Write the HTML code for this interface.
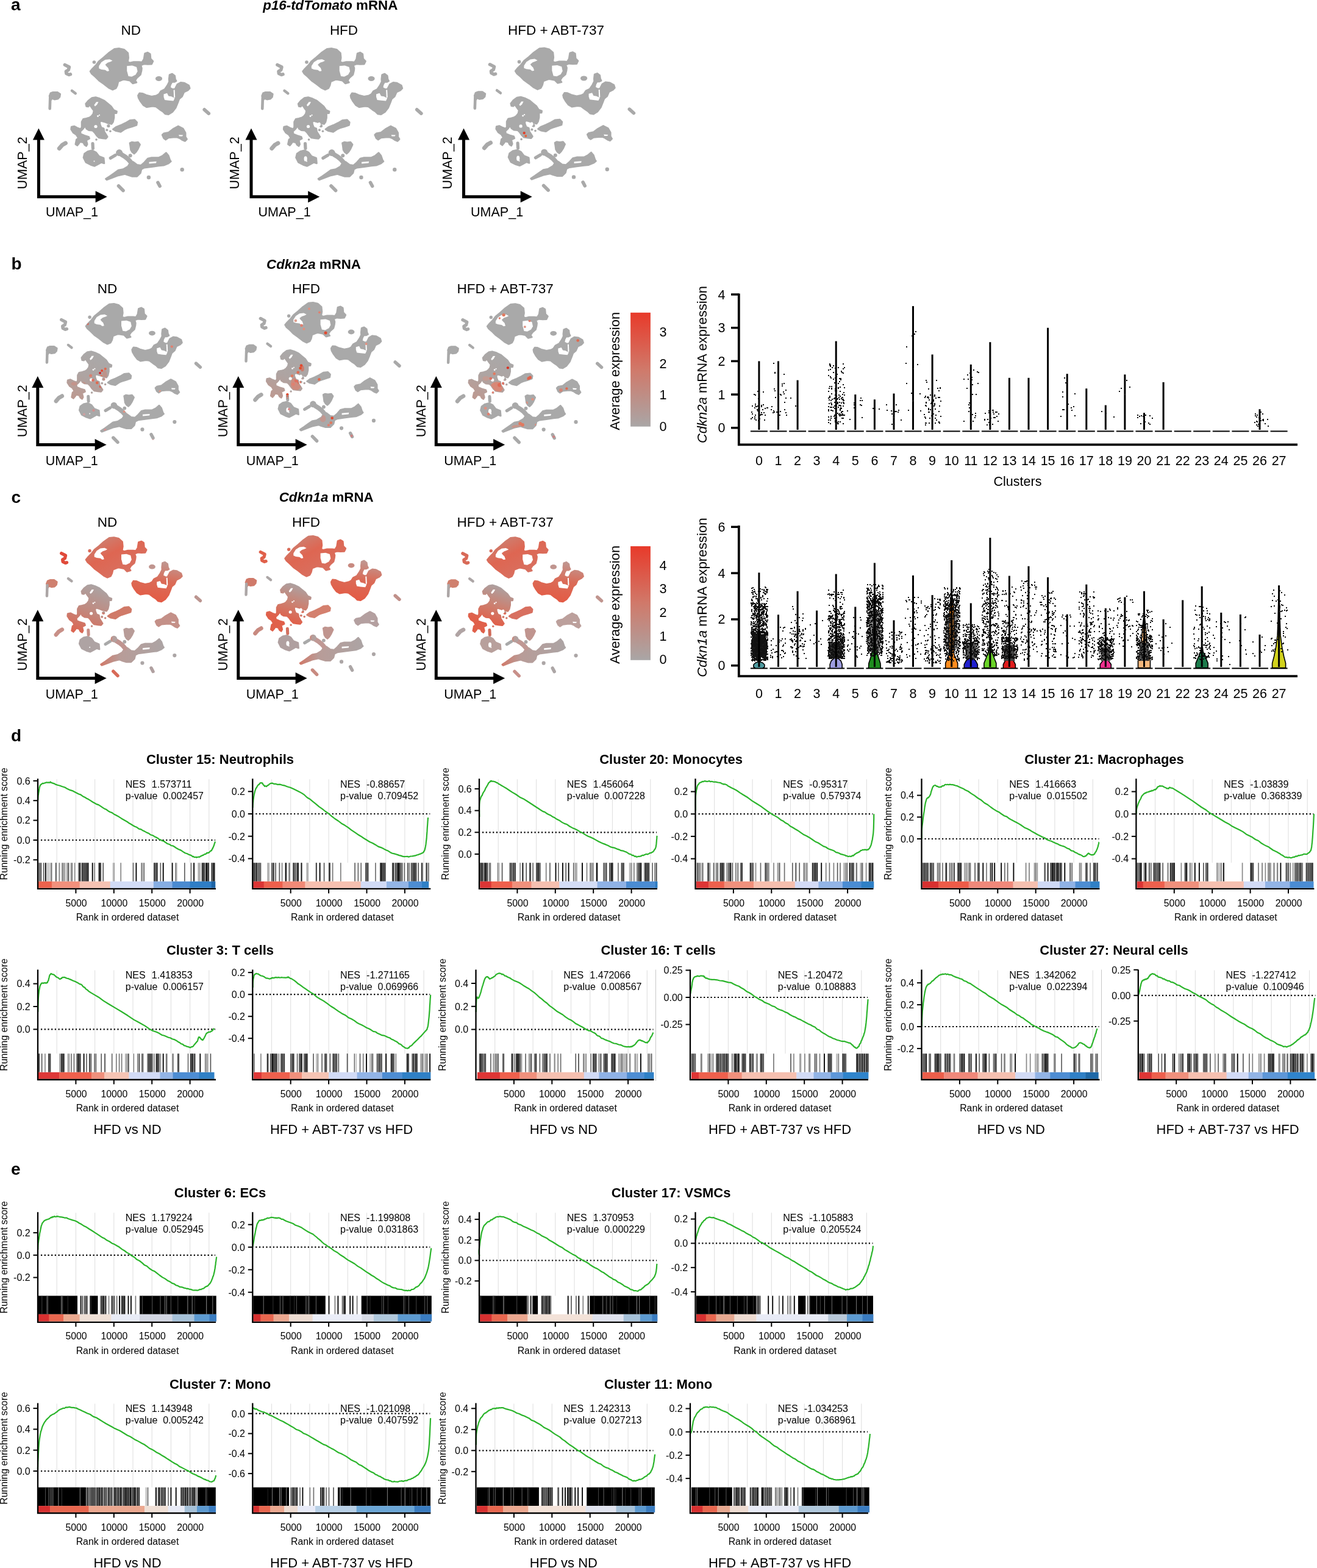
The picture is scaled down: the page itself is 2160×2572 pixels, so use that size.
<!DOCTYPE html>
<html><head><meta charset="utf-8"><title>Figure</title>
<style>html,body{margin:0;padding:0;background:#fff;}svg{display:block;}text{font-family:"Liberation Sans", Arial, Helvetica, sans-serif;fill:#000;}</style>
</head><body>
<svg width="2160" height="2572" viewBox="0 0 2160 2572">
<rect width="2160" height="2572" fill="#fff"/>
<text x="18.0" y="17.2" font-size="28.0" text-anchor="start" font-weight="bold" font-style="normal" >a</text>
<text x="18.4" y="441.9" font-size="28.0" text-anchor="start" font-weight="bold" font-style="normal" >b</text>
<text x="18.4" y="824.5" font-size="28.0" text-anchor="start" font-weight="bold" font-style="normal" >c</text>
<text x="18.0" y="1215.9" font-size="28.0" text-anchor="start" font-weight="bold" font-style="normal" >d</text>
<text x="18.0" y="1927.0" font-size="28.0" text-anchor="start" font-weight="bold" font-style="normal" >e</text>
<defs><clipPath id="uclip"><polygon points="148.0,117.1 151.2,113.1 157.5,106.7 162.3,100.4 170.2,94.0 178.2,86.9 187.7,80.2 195.6,79.4 203.6,81.3 209.9,86.9 210.7,94.8 209.5,101.5 212.9,103.0 219.3,101.5 228.0,101.5 233.0,102.0 236.0,97.0 237.5,87.7 242.3,86.1 246.3,88.5 247.1,96.4 251.0,100.4 248.7,105.2 242.3,105.5 236.0,105.0 231.0,107.0 232.5,112.0 232.0,116.3 230.4,122.6 224.8,127.4 221.7,132.1 224.0,135.3 217.7,136.9 212.9,132.1 205.0,130.6 202.0,130.6 194.0,133.7 192.5,140.1 190.1,144.8 184.5,147.2 178.2,144.0 170.2,137.7 162.3,132.1 156.0,125.8 150.4,121.0"/><polygon points="81.0,157.5 82.9,152.8 86.9,151.2 94.0,151.2 98.8,154.4 98.0,159.1 94.8,162.3 89.3,163.1 85.3,161.5 83.5,164.0"/><polygon points="141.6,174.4 140.6,170.3 144.7,165.2 150.8,160.6 156.9,159.6 163.6,161.6 171.2,165.2 177.3,170.3 182.4,174.4 186.5,180.5 191.6,182.6 191.1,185.6 187.0,185.6 187.0,193.3 185.5,199.9 183.0,203.5 176.3,201.9 171.2,199.9 166.1,198.4 163.6,199.9 164.1,204.0 166.1,209.1 170.2,210.6 171.2,216.2 173.8,220.3 176.3,224.4 173.8,227.4 168.7,226.9 162.0,225.9 158.5,222.3 154.9,217.2 151.8,214.2 145.7,213.7 141.6,211.1 140.6,208.6 138.6,208.1 136.5,211.1 134.0,213.7 131.9,215.2 132.4,219.8 138.6,222.3 145.7,224.4 146.7,227.4 141.6,230.0 143.2,236.6 141.6,239.7 138.6,237.7 136.5,233.6 131.4,232.6 129.4,235.6 126.8,238.7 123.8,236.6 125.3,229.0 128.4,226.4 125.3,221.3 120.2,217.8 116.6,212.1 117.1,208.1 121.7,207.0 126.8,209.6 132.4,211.6 134.0,208.6 134.0,199.9 136.5,195.3 141.6,194.3 146.7,192.8 149.8,190.7 152.9,186.6 153.9,181.5 150.8,177.4 148.8,174.4 146.7,172.3 144.7,174.9"/><polygon points="136.9,258.5 138.5,252.1 144.0,248.2 151.2,246.6 157.5,249.8 162.3,256.1 170.2,259.3 171.0,268.0 166.3,266.4 159.1,270.4 155.2,272.4 148.8,270.4 140.9,266.4"/><polygon points="185.3,212.1 190.1,208.5 198.0,205.3 206.0,201.5 213.0,197.4 220.9,196.6 224.8,200.6 224.0,205.3 216.9,207.7 209.0,210.1 205.0,211.7 198.0,216.4 190.1,214.8"/><polygon points="226.4,156.7 228.8,152.8 233.6,153.2 239.9,156.0 248.7,158.3 256.6,156.7 260.6,154.4 263.7,149.6 270.1,146.4 274.5,140.0 277.5,134.0 277.2,129.8 278.0,122.6 282.4,121.0 286.7,124.2 287.5,129.8 289.1,132.9 286.0,134.5 282.0,134.5 279.5,139.0 278.5,144.0 283.0,146.4 286.7,146.4 290.7,138.5 296.3,135.3 302.6,136.1 309.8,140.1 311.3,144.8 308.2,148.0 301.8,151.2 298.7,158.3 293.9,162.3 291.5,168.7 288.3,176.6 282.8,183.7 276.4,187.7 270.9,186.9 266.9,182.9 262.1,179.8 255.8,175.0 250.2,174.2 240.7,175.8 235.2,172.6 230.4,166.3 227.2,160.7"/><polygon points="266.1,221.2 268.5,218.8 276.4,217.2 283.6,211.7 292.3,206.9 300.2,210.9 304.2,218.0 304.2,224.4 306.6,228.3 303.4,231.5 299.4,229.9 294.7,226.7 290.7,225.2 284.4,225.2 276.4,226.0 271.7,229.1 268.5,226.7"/><polygon points="212.9,234.7 216.1,233.1 220.9,233.9 226.4,233.1 229.6,237.1 226.4,244.2 223.3,249.0 220.1,252.1 216.9,249.8 214.5,245.8 213.7,239.4"/><polygon points="173.4,293.4 180.0,289.0 186.1,284.7 194.0,279.1 202.0,277.5 209.9,272.8 212.9,268.0 212.9,264.8 218.5,265.6 224.8,270.4 231.2,271.2 236.7,266.4 242.3,260.1 248.7,258.5 260.6,258.5 266.9,255.3 272.5,250.6 276.4,255.3 278.8,262.5 280.4,264.8 276.4,268.0 268.5,271.2 260.6,272.0 248.7,273.6 236.7,275.2 232.0,277.5 230.4,283.9 224.8,289.4 216.9,289.4 209.0,287.1 205.0,285.5 194.0,287.9 183.0,292.0 175.0,295.0"/><circle cx="106.3" cy="106.3" r="3.3"/><circle cx="113.5" cy="110.0" r="3.3"/><circle cx="112.3" cy="114.7" r="3.3"/><circle cx="108.3" cy="117.1" r="3.3"/><circle cx="108.8" cy="120.5" r="3.3"/><circle cx="113.1" cy="122.6" r="3.3"/><circle cx="115.5" cy="121.8" r="3.3"/><circle cx="82.3" cy="160.0" r="2.9"/><circle cx="82.0" cy="170.0" r="2.9"/><circle cx="81.7" cy="178.2" r="2.9"/><circle cx="117.9" cy="148.8" r="2.8"/><circle cx="123.8" cy="153.2" r="2.8"/><circle cx="152.0" cy="235.5" r="3.2"/><circle cx="152.4" cy="243.4" r="3.2"/><circle cx="97.2" cy="243.4" r="4.0"/><circle cx="102.0" cy="237.9" r="4.0"/><circle cx="107.5" cy="234.7" r="4.0"/><circle cx="195.6" cy="250.6" r="4.5"/><circle cx="200.0" cy="254.0" r="4.5"/><circle cx="205.0" cy="257.0" r="4.5"/><circle cx="210.0" cy="261.0" r="4.5"/><circle cx="214.0" cy="265.5" r="4.5"/><circle cx="181.3" cy="259.3" r="3.2"/><circle cx="189.3" cy="254.5" r="3.2"/><circle cx="335.2" cy="179.8" r="3.4"/><circle cx="342.3" cy="186.1" r="3.4"/><circle cx="259.0" cy="299.5" r="3.4"/><circle cx="262.1" cy="305.3" r="3.4"/><circle cx="194.5" cy="305.0" r="3.4"/><circle cx="202.0" cy="312.5" r="3.4"/><circle cx="154.4" cy="102.0" r="3.3"/><circle cx="177.9" cy="206.5" r="3.1"/><circle cx="175.3" cy="213.2" r="2.5"/><circle cx="180.9" cy="215.2" r="2.3"/><circle cx="158.0" cy="229.0" r="2.3"/><circle cx="195.6" cy="250.6" r="6.0"/><circle cx="213.7" cy="255.3" r="3.5"/><circle cx="243.9" cy="291.0" r="3.7"/><circle cx="298.7" cy="278.3" r="3.7"/></clipPath></defs>
<text x="541.8" y="15.9" font-size="22.3" text-anchor="middle" font-weight="bold" font-style="normal" ><tspan font-style="italic">p16-tdTomato</tspan> mRNA</text>
<text x="214.7" y="57.0" font-size="22.5" text-anchor="middle" font-weight="normal" font-style="normal" >ND</text>
<g transform="translate(0.00,0.00)">
<polygon points="148.0,117.1 151.2,113.1 157.5,106.7 162.3,100.4 170.2,94.0 178.2,86.9 187.7,80.2 195.6,79.4 203.6,81.3 209.9,86.9 210.7,94.8 209.5,101.5 212.9,103.0 219.3,101.5 228.0,101.5 233.0,102.0 236.0,97.0 237.5,87.7 242.3,86.1 246.3,88.5 247.1,96.4 251.0,100.4 248.7,105.2 242.3,105.5 236.0,105.0 231.0,107.0 232.5,112.0 232.0,116.3 230.4,122.6 224.8,127.4 221.7,132.1 224.0,135.3 217.7,136.9 212.9,132.1 205.0,130.6 202.0,130.6 194.0,133.7 192.5,140.1 190.1,144.8 184.5,147.2 178.2,144.0 170.2,137.7 162.3,132.1 156.0,125.8 150.4,121.0" fill="#a9a9a9" stroke="#a9a9a9" stroke-width="2.6" stroke-linejoin="round"/>
<polygon points="81.0,157.5 82.9,152.8 86.9,151.2 94.0,151.2 98.8,154.4 98.0,159.1 94.8,162.3 89.3,163.1 85.3,161.5 83.5,164.0" fill="#a9a9a9" stroke="#a9a9a9" stroke-width="2.6" stroke-linejoin="round"/>
<polygon points="141.6,174.4 140.6,170.3 144.7,165.2 150.8,160.6 156.9,159.6 163.6,161.6 171.2,165.2 177.3,170.3 182.4,174.4 186.5,180.5 191.6,182.6 191.1,185.6 187.0,185.6 187.0,193.3 185.5,199.9 183.0,203.5 176.3,201.9 171.2,199.9 166.1,198.4 163.6,199.9 164.1,204.0 166.1,209.1 170.2,210.6 171.2,216.2 173.8,220.3 176.3,224.4 173.8,227.4 168.7,226.9 162.0,225.9 158.5,222.3 154.9,217.2 151.8,214.2 145.7,213.7 141.6,211.1 140.6,208.6 138.6,208.1 136.5,211.1 134.0,213.7 131.9,215.2 132.4,219.8 138.6,222.3 145.7,224.4 146.7,227.4 141.6,230.0 143.2,236.6 141.6,239.7 138.6,237.7 136.5,233.6 131.4,232.6 129.4,235.6 126.8,238.7 123.8,236.6 125.3,229.0 128.4,226.4 125.3,221.3 120.2,217.8 116.6,212.1 117.1,208.1 121.7,207.0 126.8,209.6 132.4,211.6 134.0,208.6 134.0,199.9 136.5,195.3 141.6,194.3 146.7,192.8 149.8,190.7 152.9,186.6 153.9,181.5 150.8,177.4 148.8,174.4 146.7,172.3 144.7,174.9" fill="#a9a9a9" stroke="#a9a9a9" stroke-width="2.6" stroke-linejoin="round"/>
<polygon points="136.9,258.5 138.5,252.1 144.0,248.2 151.2,246.6 157.5,249.8 162.3,256.1 170.2,259.3 171.0,268.0 166.3,266.4 159.1,270.4 155.2,272.4 148.8,270.4 140.9,266.4" fill="#a9a9a9" stroke="#a9a9a9" stroke-width="2.6" stroke-linejoin="round"/>
<polygon points="185.3,212.1 190.1,208.5 198.0,205.3 206.0,201.5 213.0,197.4 220.9,196.6 224.8,200.6 224.0,205.3 216.9,207.7 209.0,210.1 205.0,211.7 198.0,216.4 190.1,214.8" fill="#a9a9a9" stroke="#a9a9a9" stroke-width="2.6" stroke-linejoin="round"/>
<polygon points="226.4,156.7 228.8,152.8 233.6,153.2 239.9,156.0 248.7,158.3 256.6,156.7 260.6,154.4 263.7,149.6 270.1,146.4 274.5,140.0 277.5,134.0 277.2,129.8 278.0,122.6 282.4,121.0 286.7,124.2 287.5,129.8 289.1,132.9 286.0,134.5 282.0,134.5 279.5,139.0 278.5,144.0 283.0,146.4 286.7,146.4 290.7,138.5 296.3,135.3 302.6,136.1 309.8,140.1 311.3,144.8 308.2,148.0 301.8,151.2 298.7,158.3 293.9,162.3 291.5,168.7 288.3,176.6 282.8,183.7 276.4,187.7 270.9,186.9 266.9,182.9 262.1,179.8 255.8,175.0 250.2,174.2 240.7,175.8 235.2,172.6 230.4,166.3 227.2,160.7" fill="#a9a9a9" stroke="#a9a9a9" stroke-width="2.6" stroke-linejoin="round"/>
<polygon points="266.1,221.2 268.5,218.8 276.4,217.2 283.6,211.7 292.3,206.9 300.2,210.9 304.2,218.0 304.2,224.4 306.6,228.3 303.4,231.5 299.4,229.9 294.7,226.7 290.7,225.2 284.4,225.2 276.4,226.0 271.7,229.1 268.5,226.7" fill="#a9a9a9" stroke="#a9a9a9" stroke-width="2.6" stroke-linejoin="round"/>
<polygon points="212.9,234.7 216.1,233.1 220.9,233.9 226.4,233.1 229.6,237.1 226.4,244.2 223.3,249.0 220.1,252.1 216.9,249.8 214.5,245.8 213.7,239.4" fill="#a9a9a9" stroke="#a9a9a9" stroke-width="2.6" stroke-linejoin="round"/>
<polygon points="173.4,293.4 180.0,289.0 186.1,284.7 194.0,279.1 202.0,277.5 209.9,272.8 212.9,268.0 212.9,264.8 218.5,265.6 224.8,270.4 231.2,271.2 236.7,266.4 242.3,260.1 248.7,258.5 260.6,258.5 266.9,255.3 272.5,250.6 276.4,255.3 278.8,262.5 280.4,264.8 276.4,268.0 268.5,271.2 260.6,272.0 248.7,273.6 236.7,275.2 232.0,277.5 230.4,283.9 224.8,289.4 216.9,289.4 209.0,287.1 205.0,285.5 194.0,287.9 183.0,292.0 175.0,295.0" fill="#a9a9a9" stroke="#a9a9a9" stroke-width="2.6" stroke-linejoin="round"/>
<polyline points="106.3,106.3 113.5,110.0 112.3,114.7 108.3,117.1 108.8,120.5 113.1,122.6 115.5,121.8" fill="none" stroke="#a9a9a9" stroke-width="5.4" stroke-linecap="round" stroke-linejoin="round"/>
<polyline points="82.3,160.0 82.0,170.0 81.7,178.2" fill="none" stroke="#a9a9a9" stroke-width="4.6" stroke-linecap="round" stroke-linejoin="round"/>
<polyline points="117.9,148.8 123.8,153.2" fill="none" stroke="#a9a9a9" stroke-width="4.4" stroke-linecap="round" stroke-linejoin="round"/>
<polyline points="152.0,235.5 152.4,243.4" fill="none" stroke="#a9a9a9" stroke-width="5.2" stroke-linecap="round" stroke-linejoin="round"/>
<polyline points="97.2,243.4 102.0,237.9 107.5,234.7" fill="none" stroke="#a9a9a9" stroke-width="6.8" stroke-linecap="round" stroke-linejoin="round"/>
<polyline points="195.6,250.6 200.0,254.0 205.0,257.0 210.0,261.0 214.0,265.5" fill="none" stroke="#a9a9a9" stroke-width="7.8" stroke-linecap="round" stroke-linejoin="round"/>
<polyline points="181.3,259.3 189.3,254.5" fill="none" stroke="#a9a9a9" stroke-width="5.2" stroke-linecap="round" stroke-linejoin="round"/>
<polyline points="335.2,179.8 342.3,186.1" fill="none" stroke="#a9a9a9" stroke-width="5.6" stroke-linecap="round" stroke-linejoin="round"/>
<polyline points="259.0,299.5 262.1,305.3" fill="none" stroke="#a9a9a9" stroke-width="5.6" stroke-linecap="round" stroke-linejoin="round"/>
<polyline points="194.5,305.0 202.0,312.5" fill="none" stroke="#a9a9a9" stroke-width="5.6" stroke-linecap="round" stroke-linejoin="round"/>
<circle cx="154.4" cy="102.0" r="2.8" fill="#a9a9a9"/>
<circle cx="177.9" cy="206.5" r="2.6" fill="#a9a9a9"/>
<circle cx="175.3" cy="213.2" r="2.0" fill="#a9a9a9"/>
<circle cx="180.9" cy="215.2" r="1.8" fill="#a9a9a9"/>
<circle cx="158.0" cy="229.0" r="1.8" fill="#a9a9a9"/>
<circle cx="195.6" cy="250.6" r="5.5" fill="#a9a9a9"/>
<circle cx="213.7" cy="255.3" r="3.0" fill="#a9a9a9"/>
<circle cx="243.9" cy="291.0" r="3.2" fill="#a9a9a9"/>
<circle cx="298.7" cy="278.3" r="3.2" fill="#a9a9a9"/>
<ellipse cx="260.5" cy="129.0" rx="5.6" ry="4.0" fill="#a9a9a9"/>
<polygon points="162.3,108.3 166.3,102.0 172.6,98.0 179.8,97.2 184.5,99.6 181.3,101.2 176.6,102.8 172.6,106.0 174.2,108.3 177.4,111.5 179.0,116.3 175.8,117.1 172.6,114.7 166.3,113.9 162.3,112.3" fill="#fff"/>
<polygon points="208.2,108.3 216.9,107.5 224.0,109.9 225.6,117.1 222.5,122.6 216.1,125.8 210.6,125.0 208.2,116.3" fill="#fff"/>
<polygon points="154.4,172.3 158.0,167.2 161.5,167.2 159.0,171.8 155.9,174.4" fill="#fff"/>
<polygon points="268.5,154.4 274.0,152.8 276.4,157.5 281.2,158.3 284.4,159.9 286.7,160.7 284.4,165.5 276.4,164.7 270.1,163.9 268.5,159.1" fill="#fff"/>
<polygon points="284.6,147.5 286.6,147.5 287.2,159.5 285.2,160.5" fill="#fff"/>
<polygon points="293.1,221.2 300.2,221.6 299.0,223.6 294.0,223.6" fill="#fff"/>
<polygon points="244.5,265.8 256.6,264.8 256.0,267.6 244.5,268.6" fill="#fff"/>
<circle cx="157.0" cy="207.5" r="2.6" fill="#fff"/>
<circle cx="160.5" cy="190.5" r="1.4" fill="#fff"/>
<circle cx="163.0" cy="188.8" r="1.1" fill="#fff"/>
<circle cx="154.5" cy="264.5" r="1.0" fill="#fff"/>
</g>
<path d="M63.4,228.5 V322.8 H157.6" fill="none" stroke="#000" stroke-width="5.0" stroke-linejoin="miter"/>
<polygon points="63.4,210.5 53.9,229.5 72.9,229.5" fill="#000"/>
<polygon points="175.6,322.8 156.6,313.3 156.6,332.3" fill="#000"/>
<text x="118.0" y="355.0" font-size="21.5" text-anchor="middle" font-weight="normal" font-style="normal" >UMAP_1</text>
<text transform="translate(43.7,267.4) rotate(-90)" font-size="21.5" text-anchor="middle" >UMAP_2</text>
<text x="564.0" y="57.0" font-size="22.5" text-anchor="middle" font-weight="normal" font-style="normal" >HFD</text>
<g transform="translate(348.55,0.00)">
<polygon points="148.0,117.1 151.2,113.1 157.5,106.7 162.3,100.4 170.2,94.0 178.2,86.9 187.7,80.2 195.6,79.4 203.6,81.3 209.9,86.9 210.7,94.8 209.5,101.5 212.9,103.0 219.3,101.5 228.0,101.5 233.0,102.0 236.0,97.0 237.5,87.7 242.3,86.1 246.3,88.5 247.1,96.4 251.0,100.4 248.7,105.2 242.3,105.5 236.0,105.0 231.0,107.0 232.5,112.0 232.0,116.3 230.4,122.6 224.8,127.4 221.7,132.1 224.0,135.3 217.7,136.9 212.9,132.1 205.0,130.6 202.0,130.6 194.0,133.7 192.5,140.1 190.1,144.8 184.5,147.2 178.2,144.0 170.2,137.7 162.3,132.1 156.0,125.8 150.4,121.0" fill="#a9a9a9" stroke="#a9a9a9" stroke-width="2.6" stroke-linejoin="round"/>
<polygon points="81.0,157.5 82.9,152.8 86.9,151.2 94.0,151.2 98.8,154.4 98.0,159.1 94.8,162.3 89.3,163.1 85.3,161.5 83.5,164.0" fill="#a9a9a9" stroke="#a9a9a9" stroke-width="2.6" stroke-linejoin="round"/>
<polygon points="141.6,174.4 140.6,170.3 144.7,165.2 150.8,160.6 156.9,159.6 163.6,161.6 171.2,165.2 177.3,170.3 182.4,174.4 186.5,180.5 191.6,182.6 191.1,185.6 187.0,185.6 187.0,193.3 185.5,199.9 183.0,203.5 176.3,201.9 171.2,199.9 166.1,198.4 163.6,199.9 164.1,204.0 166.1,209.1 170.2,210.6 171.2,216.2 173.8,220.3 176.3,224.4 173.8,227.4 168.7,226.9 162.0,225.9 158.5,222.3 154.9,217.2 151.8,214.2 145.7,213.7 141.6,211.1 140.6,208.6 138.6,208.1 136.5,211.1 134.0,213.7 131.9,215.2 132.4,219.8 138.6,222.3 145.7,224.4 146.7,227.4 141.6,230.0 143.2,236.6 141.6,239.7 138.6,237.7 136.5,233.6 131.4,232.6 129.4,235.6 126.8,238.7 123.8,236.6 125.3,229.0 128.4,226.4 125.3,221.3 120.2,217.8 116.6,212.1 117.1,208.1 121.7,207.0 126.8,209.6 132.4,211.6 134.0,208.6 134.0,199.9 136.5,195.3 141.6,194.3 146.7,192.8 149.8,190.7 152.9,186.6 153.9,181.5 150.8,177.4 148.8,174.4 146.7,172.3 144.7,174.9" fill="#a9a9a9" stroke="#a9a9a9" stroke-width="2.6" stroke-linejoin="round"/>
<polygon points="136.9,258.5 138.5,252.1 144.0,248.2 151.2,246.6 157.5,249.8 162.3,256.1 170.2,259.3 171.0,268.0 166.3,266.4 159.1,270.4 155.2,272.4 148.8,270.4 140.9,266.4" fill="#a9a9a9" stroke="#a9a9a9" stroke-width="2.6" stroke-linejoin="round"/>
<polygon points="185.3,212.1 190.1,208.5 198.0,205.3 206.0,201.5 213.0,197.4 220.9,196.6 224.8,200.6 224.0,205.3 216.9,207.7 209.0,210.1 205.0,211.7 198.0,216.4 190.1,214.8" fill="#a9a9a9" stroke="#a9a9a9" stroke-width="2.6" stroke-linejoin="round"/>
<polygon points="226.4,156.7 228.8,152.8 233.6,153.2 239.9,156.0 248.7,158.3 256.6,156.7 260.6,154.4 263.7,149.6 270.1,146.4 274.5,140.0 277.5,134.0 277.2,129.8 278.0,122.6 282.4,121.0 286.7,124.2 287.5,129.8 289.1,132.9 286.0,134.5 282.0,134.5 279.5,139.0 278.5,144.0 283.0,146.4 286.7,146.4 290.7,138.5 296.3,135.3 302.6,136.1 309.8,140.1 311.3,144.8 308.2,148.0 301.8,151.2 298.7,158.3 293.9,162.3 291.5,168.7 288.3,176.6 282.8,183.7 276.4,187.7 270.9,186.9 266.9,182.9 262.1,179.8 255.8,175.0 250.2,174.2 240.7,175.8 235.2,172.6 230.4,166.3 227.2,160.7" fill="#a9a9a9" stroke="#a9a9a9" stroke-width="2.6" stroke-linejoin="round"/>
<polygon points="266.1,221.2 268.5,218.8 276.4,217.2 283.6,211.7 292.3,206.9 300.2,210.9 304.2,218.0 304.2,224.4 306.6,228.3 303.4,231.5 299.4,229.9 294.7,226.7 290.7,225.2 284.4,225.2 276.4,226.0 271.7,229.1 268.5,226.7" fill="#a9a9a9" stroke="#a9a9a9" stroke-width="2.6" stroke-linejoin="round"/>
<polygon points="212.9,234.7 216.1,233.1 220.9,233.9 226.4,233.1 229.6,237.1 226.4,244.2 223.3,249.0 220.1,252.1 216.9,249.8 214.5,245.8 213.7,239.4" fill="#a9a9a9" stroke="#a9a9a9" stroke-width="2.6" stroke-linejoin="round"/>
<polygon points="173.4,293.4 180.0,289.0 186.1,284.7 194.0,279.1 202.0,277.5 209.9,272.8 212.9,268.0 212.9,264.8 218.5,265.6 224.8,270.4 231.2,271.2 236.7,266.4 242.3,260.1 248.7,258.5 260.6,258.5 266.9,255.3 272.5,250.6 276.4,255.3 278.8,262.5 280.4,264.8 276.4,268.0 268.5,271.2 260.6,272.0 248.7,273.6 236.7,275.2 232.0,277.5 230.4,283.9 224.8,289.4 216.9,289.4 209.0,287.1 205.0,285.5 194.0,287.9 183.0,292.0 175.0,295.0" fill="#a9a9a9" stroke="#a9a9a9" stroke-width="2.6" stroke-linejoin="round"/>
<polyline points="106.3,106.3 113.5,110.0 112.3,114.7 108.3,117.1 108.8,120.5 113.1,122.6 115.5,121.8" fill="none" stroke="#a9a9a9" stroke-width="5.4" stroke-linecap="round" stroke-linejoin="round"/>
<polyline points="82.3,160.0 82.0,170.0 81.7,178.2" fill="none" stroke="#a9a9a9" stroke-width="4.6" stroke-linecap="round" stroke-linejoin="round"/>
<polyline points="117.9,148.8 123.8,153.2" fill="none" stroke="#a9a9a9" stroke-width="4.4" stroke-linecap="round" stroke-linejoin="round"/>
<polyline points="152.0,235.5 152.4,243.4" fill="none" stroke="#a9a9a9" stroke-width="5.2" stroke-linecap="round" stroke-linejoin="round"/>
<polyline points="97.2,243.4 102.0,237.9 107.5,234.7" fill="none" stroke="#a9a9a9" stroke-width="6.8" stroke-linecap="round" stroke-linejoin="round"/>
<polyline points="195.6,250.6 200.0,254.0 205.0,257.0 210.0,261.0 214.0,265.5" fill="none" stroke="#a9a9a9" stroke-width="7.8" stroke-linecap="round" stroke-linejoin="round"/>
<polyline points="181.3,259.3 189.3,254.5" fill="none" stroke="#a9a9a9" stroke-width="5.2" stroke-linecap="round" stroke-linejoin="round"/>
<polyline points="335.2,179.8 342.3,186.1" fill="none" stroke="#a9a9a9" stroke-width="5.6" stroke-linecap="round" stroke-linejoin="round"/>
<polyline points="259.0,299.5 262.1,305.3" fill="none" stroke="#a9a9a9" stroke-width="5.6" stroke-linecap="round" stroke-linejoin="round"/>
<polyline points="194.5,305.0 202.0,312.5" fill="none" stroke="#a9a9a9" stroke-width="5.6" stroke-linecap="round" stroke-linejoin="round"/>
<circle cx="154.4" cy="102.0" r="2.8" fill="#a9a9a9"/>
<circle cx="177.9" cy="206.5" r="2.6" fill="#a9a9a9"/>
<circle cx="175.3" cy="213.2" r="2.0" fill="#a9a9a9"/>
<circle cx="180.9" cy="215.2" r="1.8" fill="#a9a9a9"/>
<circle cx="158.0" cy="229.0" r="1.8" fill="#a9a9a9"/>
<circle cx="195.6" cy="250.6" r="5.5" fill="#a9a9a9"/>
<circle cx="213.7" cy="255.3" r="3.0" fill="#a9a9a9"/>
<circle cx="243.9" cy="291.0" r="3.2" fill="#a9a9a9"/>
<circle cx="298.7" cy="278.3" r="3.2" fill="#a9a9a9"/>
<ellipse cx="260.5" cy="129.0" rx="5.6" ry="4.0" fill="#a9a9a9"/>
<polygon points="162.3,108.3 166.3,102.0 172.6,98.0 179.8,97.2 184.5,99.6 181.3,101.2 176.6,102.8 172.6,106.0 174.2,108.3 177.4,111.5 179.0,116.3 175.8,117.1 172.6,114.7 166.3,113.9 162.3,112.3" fill="#fff"/>
<polygon points="208.2,108.3 216.9,107.5 224.0,109.9 225.6,117.1 222.5,122.6 216.1,125.8 210.6,125.0 208.2,116.3" fill="#fff"/>
<polygon points="154.4,172.3 158.0,167.2 161.5,167.2 159.0,171.8 155.9,174.4" fill="#fff"/>
<polygon points="268.5,154.4 274.0,152.8 276.4,157.5 281.2,158.3 284.4,159.9 286.7,160.7 284.4,165.5 276.4,164.7 270.1,163.9 268.5,159.1" fill="#fff"/>
<polygon points="284.6,147.5 286.6,147.5 287.2,159.5 285.2,160.5" fill="#fff"/>
<polygon points="293.1,221.2 300.2,221.6 299.0,223.6 294.0,223.6" fill="#fff"/>
<polygon points="244.5,265.8 256.6,264.8 256.0,267.6 244.5,268.6" fill="#fff"/>
<circle cx="157.0" cy="207.5" r="2.6" fill="#fff"/>
<circle cx="160.5" cy="190.5" r="1.4" fill="#fff"/>
<circle cx="163.0" cy="188.8" r="1.1" fill="#fff"/>
<circle cx="154.5" cy="264.5" r="1.0" fill="#fff"/>
<ellipse cx="152.6" cy="260.4" rx="2.6" ry="4.2" fill="#fff"/>
<ellipse cx="175" cy="204" rx="2.2" ry="3.2" fill="#fff"/>
</g>
<path d="M412.0,228.5 V322.8 H506.2" fill="none" stroke="#000" stroke-width="5.0" stroke-linejoin="miter"/>
<polygon points="412.0,210.5 402.5,229.5 421.5,229.5" fill="#000"/>
<polygon points="524.2,322.8 505.2,313.3 505.2,332.3" fill="#000"/>
<text x="466.6" y="355.0" font-size="21.5" text-anchor="middle" font-weight="normal" font-style="normal" >UMAP_1</text>
<text transform="translate(392.3,267.4) rotate(-90)" font-size="21.5" text-anchor="middle" >UMAP_2</text>
<text x="912.0" y="57.0" font-size="22.5" text-anchor="middle" font-weight="normal" font-style="normal" >HFD + ABT-737</text>
<g transform="translate(697.10,-0.60)">
<polygon points="148.0,117.1 151.2,113.1 157.5,106.7 162.3,100.4 170.2,94.0 178.2,86.9 187.7,80.2 195.6,79.4 203.6,81.3 209.9,86.9 210.7,94.8 209.5,101.5 212.9,103.0 219.3,101.5 228.0,101.5 233.0,102.0 236.0,97.0 237.5,87.7 242.3,86.1 246.3,88.5 247.1,96.4 251.0,100.4 248.7,105.2 242.3,105.5 236.0,105.0 231.0,107.0 232.5,112.0 232.0,116.3 230.4,122.6 224.8,127.4 221.7,132.1 224.0,135.3 217.7,136.9 212.9,132.1 205.0,130.6 202.0,130.6 194.0,133.7 192.5,140.1 190.1,144.8 184.5,147.2 178.2,144.0 170.2,137.7 162.3,132.1 156.0,125.8 150.4,121.0" fill="#a9a9a9" stroke="#a9a9a9" stroke-width="2.6" stroke-linejoin="round"/>
<polygon points="81.0,157.5 82.9,152.8 86.9,151.2 94.0,151.2 98.8,154.4 98.0,159.1 94.8,162.3 89.3,163.1 85.3,161.5 83.5,164.0" fill="#a9a9a9" stroke="#a9a9a9" stroke-width="2.6" stroke-linejoin="round"/>
<polygon points="141.6,174.4 140.6,170.3 144.7,165.2 150.8,160.6 156.9,159.6 163.6,161.6 171.2,165.2 177.3,170.3 182.4,174.4 186.5,180.5 191.6,182.6 191.1,185.6 187.0,185.6 187.0,193.3 185.5,199.9 183.0,203.5 176.3,201.9 171.2,199.9 166.1,198.4 163.6,199.9 164.1,204.0 166.1,209.1 170.2,210.6 171.2,216.2 173.8,220.3 176.3,224.4 173.8,227.4 168.7,226.9 162.0,225.9 158.5,222.3 154.9,217.2 151.8,214.2 145.7,213.7 141.6,211.1 140.6,208.6 138.6,208.1 136.5,211.1 134.0,213.7 131.9,215.2 132.4,219.8 138.6,222.3 145.7,224.4 146.7,227.4 141.6,230.0 143.2,236.6 141.6,239.7 138.6,237.7 136.5,233.6 131.4,232.6 129.4,235.6 126.8,238.7 123.8,236.6 125.3,229.0 128.4,226.4 125.3,221.3 120.2,217.8 116.6,212.1 117.1,208.1 121.7,207.0 126.8,209.6 132.4,211.6 134.0,208.6 134.0,199.9 136.5,195.3 141.6,194.3 146.7,192.8 149.8,190.7 152.9,186.6 153.9,181.5 150.8,177.4 148.8,174.4 146.7,172.3 144.7,174.9" fill="#a9a9a9" stroke="#a9a9a9" stroke-width="2.6" stroke-linejoin="round"/>
<polygon points="136.9,258.5 138.5,252.1 144.0,248.2 151.2,246.6 157.5,249.8 162.3,256.1 170.2,259.3 171.0,268.0 166.3,266.4 159.1,270.4 155.2,272.4 148.8,270.4 140.9,266.4" fill="#a9a9a9" stroke="#a9a9a9" stroke-width="2.6" stroke-linejoin="round"/>
<polygon points="185.3,212.1 190.1,208.5 198.0,205.3 206.0,201.5 213.0,197.4 220.9,196.6 224.8,200.6 224.0,205.3 216.9,207.7 209.0,210.1 205.0,211.7 198.0,216.4 190.1,214.8" fill="#a9a9a9" stroke="#a9a9a9" stroke-width="2.6" stroke-linejoin="round"/>
<polygon points="226.4,156.7 228.8,152.8 233.6,153.2 239.9,156.0 248.7,158.3 256.6,156.7 260.6,154.4 263.7,149.6 270.1,146.4 274.5,140.0 277.5,134.0 277.2,129.8 278.0,122.6 282.4,121.0 286.7,124.2 287.5,129.8 289.1,132.9 286.0,134.5 282.0,134.5 279.5,139.0 278.5,144.0 283.0,146.4 286.7,146.4 290.7,138.5 296.3,135.3 302.6,136.1 309.8,140.1 311.3,144.8 308.2,148.0 301.8,151.2 298.7,158.3 293.9,162.3 291.5,168.7 288.3,176.6 282.8,183.7 276.4,187.7 270.9,186.9 266.9,182.9 262.1,179.8 255.8,175.0 250.2,174.2 240.7,175.8 235.2,172.6 230.4,166.3 227.2,160.7" fill="#a9a9a9" stroke="#a9a9a9" stroke-width="2.6" stroke-linejoin="round"/>
<polygon points="266.1,221.2 268.5,218.8 276.4,217.2 283.6,211.7 292.3,206.9 300.2,210.9 304.2,218.0 304.2,224.4 306.6,228.3 303.4,231.5 299.4,229.9 294.7,226.7 290.7,225.2 284.4,225.2 276.4,226.0 271.7,229.1 268.5,226.7" fill="#a9a9a9" stroke="#a9a9a9" stroke-width="2.6" stroke-linejoin="round"/>
<polygon points="212.9,234.7 216.1,233.1 220.9,233.9 226.4,233.1 229.6,237.1 226.4,244.2 223.3,249.0 220.1,252.1 216.9,249.8 214.5,245.8 213.7,239.4" fill="#a9a9a9" stroke="#a9a9a9" stroke-width="2.6" stroke-linejoin="round"/>
<polygon points="173.4,293.4 180.0,289.0 186.1,284.7 194.0,279.1 202.0,277.5 209.9,272.8 212.9,268.0 212.9,264.8 218.5,265.6 224.8,270.4 231.2,271.2 236.7,266.4 242.3,260.1 248.7,258.5 260.6,258.5 266.9,255.3 272.5,250.6 276.4,255.3 278.8,262.5 280.4,264.8 276.4,268.0 268.5,271.2 260.6,272.0 248.7,273.6 236.7,275.2 232.0,277.5 230.4,283.9 224.8,289.4 216.9,289.4 209.0,287.1 205.0,285.5 194.0,287.9 183.0,292.0 175.0,295.0" fill="#a9a9a9" stroke="#a9a9a9" stroke-width="2.6" stroke-linejoin="round"/>
<polyline points="106.3,106.3 113.5,110.0 112.3,114.7 108.3,117.1 108.8,120.5 113.1,122.6 115.5,121.8" fill="none" stroke="#a9a9a9" stroke-width="5.4" stroke-linecap="round" stroke-linejoin="round"/>
<polyline points="82.3,160.0 82.0,170.0 81.7,178.2" fill="none" stroke="#a9a9a9" stroke-width="4.6" stroke-linecap="round" stroke-linejoin="round"/>
<polyline points="117.9,148.8 123.8,153.2" fill="none" stroke="#a9a9a9" stroke-width="4.4" stroke-linecap="round" stroke-linejoin="round"/>
<polyline points="152.0,235.5 152.4,243.4" fill="none" stroke="#a9a9a9" stroke-width="5.2" stroke-linecap="round" stroke-linejoin="round"/>
<polyline points="97.2,243.4 102.0,237.9 107.5,234.7" fill="none" stroke="#a9a9a9" stroke-width="6.8" stroke-linecap="round" stroke-linejoin="round"/>
<polyline points="195.6,250.6 200.0,254.0 205.0,257.0 210.0,261.0 214.0,265.5" fill="none" stroke="#a9a9a9" stroke-width="7.8" stroke-linecap="round" stroke-linejoin="round"/>
<polyline points="181.3,259.3 189.3,254.5" fill="none" stroke="#a9a9a9" stroke-width="5.2" stroke-linecap="round" stroke-linejoin="round"/>
<polyline points="335.2,179.8 342.3,186.1" fill="none" stroke="#a9a9a9" stroke-width="5.6" stroke-linecap="round" stroke-linejoin="round"/>
<polyline points="259.0,299.5 262.1,305.3" fill="none" stroke="#a9a9a9" stroke-width="5.6" stroke-linecap="round" stroke-linejoin="round"/>
<polyline points="194.5,305.0 202.0,312.5" fill="none" stroke="#a9a9a9" stroke-width="5.6" stroke-linecap="round" stroke-linejoin="round"/>
<circle cx="154.4" cy="102.0" r="2.8" fill="#a9a9a9"/>
<circle cx="177.9" cy="206.5" r="2.6" fill="#a9a9a9"/>
<circle cx="175.3" cy="213.2" r="2.0" fill="#a9a9a9"/>
<circle cx="180.9" cy="215.2" r="1.8" fill="#a9a9a9"/>
<circle cx="158.0" cy="229.0" r="1.8" fill="#a9a9a9"/>
<circle cx="195.6" cy="250.6" r="5.5" fill="#a9a9a9"/>
<circle cx="213.7" cy="255.3" r="3.0" fill="#a9a9a9"/>
<circle cx="243.9" cy="291.0" r="3.2" fill="#a9a9a9"/>
<circle cx="298.7" cy="278.3" r="3.2" fill="#a9a9a9"/>
<ellipse cx="260.5" cy="129.0" rx="5.6" ry="4.0" fill="#a9a9a9"/>
<polygon points="162.3,108.3 166.3,102.0 172.6,98.0 179.8,97.2 184.5,99.6 181.3,101.2 176.6,102.8 172.6,106.0 174.2,108.3 177.4,111.5 179.0,116.3 175.8,117.1 172.6,114.7 166.3,113.9 162.3,112.3" fill="#fff"/>
<polygon points="208.2,108.3 216.9,107.5 224.0,109.9 225.6,117.1 222.5,122.6 216.1,125.8 210.6,125.0 208.2,116.3" fill="#fff"/>
<polygon points="154.4,172.3 158.0,167.2 161.5,167.2 159.0,171.8 155.9,174.4" fill="#fff"/>
<polygon points="268.5,154.4 274.0,152.8 276.4,157.5 281.2,158.3 284.4,159.9 286.7,160.7 284.4,165.5 276.4,164.7 270.1,163.9 268.5,159.1" fill="#fff"/>
<polygon points="284.6,147.5 286.6,147.5 287.2,159.5 285.2,160.5" fill="#fff"/>
<polygon points="293.1,221.2 300.2,221.6 299.0,223.6 294.0,223.6" fill="#fff"/>
<polygon points="244.5,265.8 256.6,264.8 256.0,267.6 244.5,268.6" fill="#fff"/>
<circle cx="157.0" cy="207.5" r="2.6" fill="#fff"/>
<circle cx="160.5" cy="190.5" r="1.4" fill="#fff"/>
<circle cx="163.0" cy="188.8" r="1.1" fill="#fff"/>
<circle cx="154.5" cy="264.5" r="1.0" fill="#fff"/>
<ellipse cx="152.6" cy="260.4" rx="2.6" ry="4.2" fill="#fff"/>
<ellipse cx="175" cy="204" rx="2.2" ry="3.2" fill="#fff"/>
<g clip-path="url(#uclip)"><circle cx="162.6" cy="218.7" r="2.2" fill="#e0402a"/><circle cx="165.2" cy="223.7" r="2.0" fill="#e8603a"/></g>
</g>
<path d="M760.5,228.5 V322.8 H854.7" fill="none" stroke="#000" stroke-width="5.0" stroke-linejoin="miter"/>
<polygon points="760.5,210.5 751.0,229.5 770.0,229.5" fill="#000"/>
<polygon points="872.7,322.8 853.7,313.3 853.7,332.3" fill="#000"/>
<text x="815.1" y="355.0" font-size="21.5" text-anchor="middle" font-weight="normal" font-style="normal" >UMAP_1</text>
<text transform="translate(740.8,267.4) rotate(-90)" font-size="21.5" text-anchor="middle" >UMAP_2</text>
<text x="514.5" y="440.8" font-size="22.3" text-anchor="middle" font-weight="bold" font-style="normal" ><tspan font-style="italic">Cdkn2a</tspan> mRNA</text>
<text x="176.0" y="480.6" font-size="22.5" text-anchor="middle" font-weight="normal" font-style="normal" >ND</text>
<g transform="translate(0.00,0.00) matrix(0.965,0,0,0.974,-1.914,420.96)">
<polygon points="148.0,117.1 151.2,113.1 157.5,106.7 162.3,100.4 170.2,94.0 178.2,86.9 187.7,80.2 195.6,79.4 203.6,81.3 209.9,86.9 210.7,94.8 209.5,101.5 212.9,103.0 219.3,101.5 228.0,101.5 233.0,102.0 236.0,97.0 237.5,87.7 242.3,86.1 246.3,88.5 247.1,96.4 251.0,100.4 248.7,105.2 242.3,105.5 236.0,105.0 231.0,107.0 232.5,112.0 232.0,116.3 230.4,122.6 224.8,127.4 221.7,132.1 224.0,135.3 217.7,136.9 212.9,132.1 205.0,130.6 202.0,130.6 194.0,133.7 192.5,140.1 190.1,144.8 184.5,147.2 178.2,144.0 170.2,137.7 162.3,132.1 156.0,125.8 150.4,121.0" fill="#a9a9a9" stroke="#a9a9a9" stroke-width="2.6" stroke-linejoin="round"/>
<polygon points="81.0,157.5 82.9,152.8 86.9,151.2 94.0,151.2 98.8,154.4 98.0,159.1 94.8,162.3 89.3,163.1 85.3,161.5 83.5,164.0" fill="#a9a9a9" stroke="#a9a9a9" stroke-width="2.6" stroke-linejoin="round"/>
<polygon points="141.6,174.4 140.6,170.3 144.7,165.2 150.8,160.6 156.9,159.6 163.6,161.6 171.2,165.2 177.3,170.3 182.4,174.4 186.5,180.5 191.6,182.6 191.1,185.6 187.0,185.6 187.0,193.3 185.5,199.9 183.0,203.5 176.3,201.9 171.2,199.9 166.1,198.4 163.6,199.9 164.1,204.0 166.1,209.1 170.2,210.6 171.2,216.2 173.8,220.3 176.3,224.4 173.8,227.4 168.7,226.9 162.0,225.9 158.5,222.3 154.9,217.2 151.8,214.2 145.7,213.7 141.6,211.1 140.6,208.6 138.6,208.1 136.5,211.1 134.0,213.7 131.9,215.2 132.4,219.8 138.6,222.3 145.7,224.4 146.7,227.4 141.6,230.0 143.2,236.6 141.6,239.7 138.6,237.7 136.5,233.6 131.4,232.6 129.4,235.6 126.8,238.7 123.8,236.6 125.3,229.0 128.4,226.4 125.3,221.3 120.2,217.8 116.6,212.1 117.1,208.1 121.7,207.0 126.8,209.6 132.4,211.6 134.0,208.6 134.0,199.9 136.5,195.3 141.6,194.3 146.7,192.8 149.8,190.7 152.9,186.6 153.9,181.5 150.8,177.4 148.8,174.4 146.7,172.3 144.7,174.9" fill="url(#gEb)" stroke="url(#gEb)" stroke-width="2.6" stroke-linejoin="round"/>
<polygon points="136.9,258.5 138.5,252.1 144.0,248.2 151.2,246.6 157.5,249.8 162.3,256.1 170.2,259.3 171.0,268.0 166.3,266.4 159.1,270.4 155.2,272.4 148.8,270.4 140.9,266.4" fill="#a9a9a9" stroke="#a9a9a9" stroke-width="2.6" stroke-linejoin="round"/>
<polygon points="185.3,212.1 190.1,208.5 198.0,205.3 206.0,201.5 213.0,197.4 220.9,196.6 224.8,200.6 224.0,205.3 216.9,207.7 209.0,210.1 205.0,211.7 198.0,216.4 190.1,214.8" fill="#a9a9a9" stroke="#a9a9a9" stroke-width="2.6" stroke-linejoin="round"/>
<polygon points="226.4,156.7 228.8,152.8 233.6,153.2 239.9,156.0 248.7,158.3 256.6,156.7 260.6,154.4 263.7,149.6 270.1,146.4 274.5,140.0 277.5,134.0 277.2,129.8 278.0,122.6 282.4,121.0 286.7,124.2 287.5,129.8 289.1,132.9 286.0,134.5 282.0,134.5 279.5,139.0 278.5,144.0 283.0,146.4 286.7,146.4 290.7,138.5 296.3,135.3 302.6,136.1 309.8,140.1 311.3,144.8 308.2,148.0 301.8,151.2 298.7,158.3 293.9,162.3 291.5,168.7 288.3,176.6 282.8,183.7 276.4,187.7 270.9,186.9 266.9,182.9 262.1,179.8 255.8,175.0 250.2,174.2 240.7,175.8 235.2,172.6 230.4,166.3 227.2,160.7" fill="#a9a9a9" stroke="#a9a9a9" stroke-width="2.6" stroke-linejoin="round"/>
<polygon points="266.1,221.2 268.5,218.8 276.4,217.2 283.6,211.7 292.3,206.9 300.2,210.9 304.2,218.0 304.2,224.4 306.6,228.3 303.4,231.5 299.4,229.9 294.7,226.7 290.7,225.2 284.4,225.2 276.4,226.0 271.7,229.1 268.5,226.7" fill="#a9a9a9" stroke="#a9a9a9" stroke-width="2.6" stroke-linejoin="round"/>
<polygon points="212.9,234.7 216.1,233.1 220.9,233.9 226.4,233.1 229.6,237.1 226.4,244.2 223.3,249.0 220.1,252.1 216.9,249.8 214.5,245.8 213.7,239.4" fill="#a9a9a9" stroke="#a9a9a9" stroke-width="2.6" stroke-linejoin="round"/>
<polygon points="173.4,293.4 180.0,289.0 186.1,284.7 194.0,279.1 202.0,277.5 209.9,272.8 212.9,268.0 212.9,264.8 218.5,265.6 224.8,270.4 231.2,271.2 236.7,266.4 242.3,260.1 248.7,258.5 260.6,258.5 266.9,255.3 272.5,250.6 276.4,255.3 278.8,262.5 280.4,264.8 276.4,268.0 268.5,271.2 260.6,272.0 248.7,273.6 236.7,275.2 232.0,277.5 230.4,283.9 224.8,289.4 216.9,289.4 209.0,287.1 205.0,285.5 194.0,287.9 183.0,292.0 175.0,295.0" fill="#a9a9a9" stroke="#a9a9a9" stroke-width="2.6" stroke-linejoin="round"/>
<polyline points="106.3,106.3 113.5,110.0 112.3,114.7 108.3,117.1 108.8,120.5 113.1,122.6 115.5,121.8" fill="none" stroke="#a9a9a9" stroke-width="5.4" stroke-linecap="round" stroke-linejoin="round"/>
<polyline points="82.3,160.0 82.0,170.0 81.7,178.2" fill="none" stroke="#a9a9a9" stroke-width="4.6" stroke-linecap="round" stroke-linejoin="round"/>
<polyline points="117.9,148.8 123.8,153.2" fill="none" stroke="#a9a9a9" stroke-width="4.4" stroke-linecap="round" stroke-linejoin="round"/>
<polyline points="152.0,235.5 152.4,243.4" fill="none" stroke="#a9a9a9" stroke-width="5.2" stroke-linecap="round" stroke-linejoin="round"/>
<polyline points="97.2,243.4 102.0,237.9 107.5,234.7" fill="none" stroke="#a9a9a9" stroke-width="6.8" stroke-linecap="round" stroke-linejoin="round"/>
<polyline points="195.6,250.6 200.0,254.0 205.0,257.0 210.0,261.0 214.0,265.5" fill="none" stroke="#a9a9a9" stroke-width="7.8" stroke-linecap="round" stroke-linejoin="round"/>
<polyline points="181.3,259.3 189.3,254.5" fill="none" stroke="#a9a9a9" stroke-width="5.2" stroke-linecap="round" stroke-linejoin="round"/>
<polyline points="335.2,179.8 342.3,186.1" fill="none" stroke="#a9a9a9" stroke-width="5.6" stroke-linecap="round" stroke-linejoin="round"/>
<polyline points="259.0,299.5 262.1,305.3" fill="none" stroke="#a9a9a9" stroke-width="5.6" stroke-linecap="round" stroke-linejoin="round"/>
<polyline points="194.5,305.0 202.0,312.5" fill="none" stroke="#a9a9a9" stroke-width="5.6" stroke-linecap="round" stroke-linejoin="round"/>
<circle cx="154.4" cy="102.0" r="2.8" fill="#a9a9a9"/>
<circle cx="177.9" cy="206.5" r="2.6" fill="url(#gEb)"/>
<circle cx="175.3" cy="213.2" r="2.0" fill="url(#gEb)"/>
<circle cx="180.9" cy="215.2" r="1.8" fill="url(#gEb)"/>
<circle cx="158.0" cy="229.0" r="1.8" fill="url(#gEb)"/>
<circle cx="195.6" cy="250.6" r="5.5" fill="#a9a9a9"/>
<circle cx="213.7" cy="255.3" r="3.0" fill="#a9a9a9"/>
<circle cx="243.9" cy="291.0" r="3.2" fill="#a9a9a9"/>
<circle cx="298.7" cy="278.3" r="3.2" fill="#a9a9a9"/>
<ellipse cx="260.5" cy="129.0" rx="5.6" ry="4.0" fill="#a9a9a9"/>
<polygon points="162.3,108.3 166.3,102.0 172.6,98.0 179.8,97.2 184.5,99.6 181.3,101.2 176.6,102.8 172.6,106.0 174.2,108.3 177.4,111.5 179.0,116.3 175.8,117.1 172.6,114.7 166.3,113.9 162.3,112.3" fill="#fff"/>
<polygon points="208.2,108.3 216.9,107.5 224.0,109.9 225.6,117.1 222.5,122.6 216.1,125.8 210.6,125.0 208.2,116.3" fill="#fff"/>
<polygon points="154.4,172.3 158.0,167.2 161.5,167.2 159.0,171.8 155.9,174.4" fill="#fff"/>
<polygon points="268.5,154.4 274.0,152.8 276.4,157.5 281.2,158.3 284.4,159.9 286.7,160.7 284.4,165.5 276.4,164.7 270.1,163.9 268.5,159.1" fill="#fff"/>
<polygon points="284.6,147.5 286.6,147.5 287.2,159.5 285.2,160.5" fill="#fff"/>
<polygon points="293.1,221.2 300.2,221.6 299.0,223.6 294.0,223.6" fill="#fff"/>
<polygon points="244.5,265.8 256.6,264.8 256.0,267.6 244.5,268.6" fill="#fff"/>
<circle cx="157.0" cy="207.5" r="2.6" fill="#fff"/>
<circle cx="160.5" cy="190.5" r="1.4" fill="#fff"/>
<circle cx="163.0" cy="188.8" r="1.1" fill="#fff"/>
<circle cx="154.5" cy="264.5" r="1.0" fill="#fff"/>
<g clip-path="url(#uclip)"><ellipse cx="142.0" cy="216.0" rx="7.0" ry="5.0" fill="#e07a66" opacity="0.45"/><ellipse cx="128.0" cy="214.0" rx="5.0" ry="3.0" fill="#e08070" opacity="0.35"/><ellipse cx="180.0" cy="200.0" rx="4.0" ry="9.0" fill="#e0705a" opacity="0.35"/><circle cx="150.6" cy="113.0" r="2.4" fill="#e06050"/><circle cx="175.2" cy="192.1" r="2.0" fill="#e8472f"/><circle cx="172.0" cy="196.0" r="2.0" fill="#d0202a"/><circle cx="181.0" cy="189.0" r="2.2" fill="#e06a50"/><circle cx="170.8" cy="206.0" r="2.2" fill="#e05a40"/><circle cx="174.0" cy="201.0" r="2.0" fill="#e07050"/><circle cx="156.0" cy="200.5" r="2.6" fill="#d88070"/><circle cx="160.0" cy="208.0" r="2.4" fill="#e07060"/><circle cx="167.0" cy="212.5" r="2.4" fill="#e06a50"/><circle cx="172.7" cy="218.8" r="2.3" fill="#e06050"/><circle cx="176.6" cy="221.6" r="2.3" fill="#e07050"/><circle cx="153.0" cy="229.0" r="2.0" fill="#d89080"/><circle cx="294.0" cy="151.5" r="2.2" fill="#e08070"/><circle cx="220.0" cy="264.0" r="2.2" fill="#e09080"/><circle cx="213.0" cy="261.0" r="2.0" fill="#e09080"/><circle cx="161.0" cy="259.0" r="2.2" fill="#d09090"/><circle cx="145.0" cy="265.5" r="2.0" fill="#d0a0a0"/><circle cx="181.0" cy="292.0" r="2.2" fill="#d89090"/><circle cx="262.0" cy="309.0" r="2.0" fill="#d0a0a0"/><circle cx="274.0" cy="227.0" r="2.0" fill="#e09888"/></g>
</g>
<path d="M61.8,635.1 V729.4 H156.6" fill="none" stroke="#000" stroke-width="5.0" stroke-linejoin="miter"/>
<polygon points="61.8,617.1 52.3,636.1 71.3,636.1" fill="#000"/>
<polygon points="174.6,729.4 155.6,719.9 155.6,738.9" fill="#000"/>
<text x="117.7" y="762.7" font-size="21.5" text-anchor="middle" font-weight="normal" font-style="normal" >UMAP_1</text>
<text transform="translate(44.4,674.3) rotate(-90)" font-size="21.5" text-anchor="middle" >UMAP_2</text>
<text x="502.0" y="480.6" font-size="22.5" text-anchor="middle" font-weight="normal" font-style="normal" >HFD</text>
<g transform="translate(326.60,-2.10) matrix(0.965,0,0,0.974,-1.914,420.96)">
<polygon points="148.0,117.1 151.2,113.1 157.5,106.7 162.3,100.4 170.2,94.0 178.2,86.9 187.7,80.2 195.6,79.4 203.6,81.3 209.9,86.9 210.7,94.8 209.5,101.5 212.9,103.0 219.3,101.5 228.0,101.5 233.0,102.0 236.0,97.0 237.5,87.7 242.3,86.1 246.3,88.5 247.1,96.4 251.0,100.4 248.7,105.2 242.3,105.5 236.0,105.0 231.0,107.0 232.5,112.0 232.0,116.3 230.4,122.6 224.8,127.4 221.7,132.1 224.0,135.3 217.7,136.9 212.9,132.1 205.0,130.6 202.0,130.6 194.0,133.7 192.5,140.1 190.1,144.8 184.5,147.2 178.2,144.0 170.2,137.7 162.3,132.1 156.0,125.8 150.4,121.0" fill="#a9a9a9" stroke="#a9a9a9" stroke-width="2.6" stroke-linejoin="round"/>
<polygon points="81.0,157.5 82.9,152.8 86.9,151.2 94.0,151.2 98.8,154.4 98.0,159.1 94.8,162.3 89.3,163.1 85.3,161.5 83.5,164.0" fill="#a9a9a9" stroke="#a9a9a9" stroke-width="2.6" stroke-linejoin="round"/>
<polygon points="141.6,174.4 140.6,170.3 144.7,165.2 150.8,160.6 156.9,159.6 163.6,161.6 171.2,165.2 177.3,170.3 182.4,174.4 186.5,180.5 191.6,182.6 191.1,185.6 187.0,185.6 187.0,193.3 185.5,199.9 183.0,203.5 176.3,201.9 171.2,199.9 166.1,198.4 163.6,199.9 164.1,204.0 166.1,209.1 170.2,210.6 171.2,216.2 173.8,220.3 176.3,224.4 173.8,227.4 168.7,226.9 162.0,225.9 158.5,222.3 154.9,217.2 151.8,214.2 145.7,213.7 141.6,211.1 140.6,208.6 138.6,208.1 136.5,211.1 134.0,213.7 131.9,215.2 132.4,219.8 138.6,222.3 145.7,224.4 146.7,227.4 141.6,230.0 143.2,236.6 141.6,239.7 138.6,237.7 136.5,233.6 131.4,232.6 129.4,235.6 126.8,238.7 123.8,236.6 125.3,229.0 128.4,226.4 125.3,221.3 120.2,217.8 116.6,212.1 117.1,208.1 121.7,207.0 126.8,209.6 132.4,211.6 134.0,208.6 134.0,199.9 136.5,195.3 141.6,194.3 146.7,192.8 149.8,190.7 152.9,186.6 153.9,181.5 150.8,177.4 148.8,174.4 146.7,172.3 144.7,174.9" fill="url(#gEb)" stroke="url(#gEb)" stroke-width="2.6" stroke-linejoin="round"/>
<polygon points="136.9,258.5 138.5,252.1 144.0,248.2 151.2,246.6 157.5,249.8 162.3,256.1 170.2,259.3 171.0,268.0 166.3,266.4 159.1,270.4 155.2,272.4 148.8,270.4 140.9,266.4" fill="#a9a9a9" stroke="#a9a9a9" stroke-width="2.6" stroke-linejoin="round"/>
<polygon points="185.3,212.1 190.1,208.5 198.0,205.3 206.0,201.5 213.0,197.4 220.9,196.6 224.8,200.6 224.0,205.3 216.9,207.7 209.0,210.1 205.0,211.7 198.0,216.4 190.1,214.8" fill="#a9a9a9" stroke="#a9a9a9" stroke-width="2.6" stroke-linejoin="round"/>
<polygon points="226.4,156.7 228.8,152.8 233.6,153.2 239.9,156.0 248.7,158.3 256.6,156.7 260.6,154.4 263.7,149.6 270.1,146.4 274.5,140.0 277.5,134.0 277.2,129.8 278.0,122.6 282.4,121.0 286.7,124.2 287.5,129.8 289.1,132.9 286.0,134.5 282.0,134.5 279.5,139.0 278.5,144.0 283.0,146.4 286.7,146.4 290.7,138.5 296.3,135.3 302.6,136.1 309.8,140.1 311.3,144.8 308.2,148.0 301.8,151.2 298.7,158.3 293.9,162.3 291.5,168.7 288.3,176.6 282.8,183.7 276.4,187.7 270.9,186.9 266.9,182.9 262.1,179.8 255.8,175.0 250.2,174.2 240.7,175.8 235.2,172.6 230.4,166.3 227.2,160.7" fill="#a9a9a9" stroke="#a9a9a9" stroke-width="2.6" stroke-linejoin="round"/>
<polygon points="266.1,221.2 268.5,218.8 276.4,217.2 283.6,211.7 292.3,206.9 300.2,210.9 304.2,218.0 304.2,224.4 306.6,228.3 303.4,231.5 299.4,229.9 294.7,226.7 290.7,225.2 284.4,225.2 276.4,226.0 271.7,229.1 268.5,226.7" fill="#a9a9a9" stroke="#a9a9a9" stroke-width="2.6" stroke-linejoin="round"/>
<polygon points="212.9,234.7 216.1,233.1 220.9,233.9 226.4,233.1 229.6,237.1 226.4,244.2 223.3,249.0 220.1,252.1 216.9,249.8 214.5,245.8 213.7,239.4" fill="#a9a9a9" stroke="#a9a9a9" stroke-width="2.6" stroke-linejoin="round"/>
<polygon points="173.4,293.4 180.0,289.0 186.1,284.7 194.0,279.1 202.0,277.5 209.9,272.8 212.9,268.0 212.9,264.8 218.5,265.6 224.8,270.4 231.2,271.2 236.7,266.4 242.3,260.1 248.7,258.5 260.6,258.5 266.9,255.3 272.5,250.6 276.4,255.3 278.8,262.5 280.4,264.8 276.4,268.0 268.5,271.2 260.6,272.0 248.7,273.6 236.7,275.2 232.0,277.5 230.4,283.9 224.8,289.4 216.9,289.4 209.0,287.1 205.0,285.5 194.0,287.9 183.0,292.0 175.0,295.0" fill="#a9a9a9" stroke="#a9a9a9" stroke-width="2.6" stroke-linejoin="round"/>
<polyline points="106.3,106.3 113.5,110.0 112.3,114.7 108.3,117.1 108.8,120.5 113.1,122.6 115.5,121.8" fill="none" stroke="#a9a9a9" stroke-width="5.4" stroke-linecap="round" stroke-linejoin="round"/>
<polyline points="82.3,160.0 82.0,170.0 81.7,178.2" fill="none" stroke="#a9a9a9" stroke-width="4.6" stroke-linecap="round" stroke-linejoin="round"/>
<polyline points="117.9,148.8 123.8,153.2" fill="none" stroke="#a9a9a9" stroke-width="4.4" stroke-linecap="round" stroke-linejoin="round"/>
<polyline points="152.0,235.5 152.4,243.4" fill="none" stroke="#a9a9a9" stroke-width="5.2" stroke-linecap="round" stroke-linejoin="round"/>
<polyline points="97.2,243.4 102.0,237.9 107.5,234.7" fill="none" stroke="#a9a9a9" stroke-width="6.8" stroke-linecap="round" stroke-linejoin="round"/>
<polyline points="195.6,250.6 200.0,254.0 205.0,257.0 210.0,261.0 214.0,265.5" fill="none" stroke="#a9a9a9" stroke-width="7.8" stroke-linecap="round" stroke-linejoin="round"/>
<polyline points="181.3,259.3 189.3,254.5" fill="none" stroke="#a9a9a9" stroke-width="5.2" stroke-linecap="round" stroke-linejoin="round"/>
<polyline points="335.2,179.8 342.3,186.1" fill="none" stroke="#a9a9a9" stroke-width="5.6" stroke-linecap="round" stroke-linejoin="round"/>
<polyline points="259.0,299.5 262.1,305.3" fill="none" stroke="#a9a9a9" stroke-width="5.6" stroke-linecap="round" stroke-linejoin="round"/>
<polyline points="194.5,305.0 202.0,312.5" fill="none" stroke="#a9a9a9" stroke-width="5.6" stroke-linecap="round" stroke-linejoin="round"/>
<circle cx="154.4" cy="102.0" r="2.8" fill="#a9a9a9"/>
<circle cx="177.9" cy="206.5" r="2.6" fill="url(#gEb)"/>
<circle cx="175.3" cy="213.2" r="2.0" fill="url(#gEb)"/>
<circle cx="180.9" cy="215.2" r="1.8" fill="url(#gEb)"/>
<circle cx="158.0" cy="229.0" r="1.8" fill="url(#gEb)"/>
<circle cx="195.6" cy="250.6" r="5.5" fill="#a9a9a9"/>
<circle cx="213.7" cy="255.3" r="3.0" fill="#a9a9a9"/>
<circle cx="243.9" cy="291.0" r="3.2" fill="#a9a9a9"/>
<circle cx="298.7" cy="278.3" r="3.2" fill="#a9a9a9"/>
<ellipse cx="260.5" cy="129.0" rx="5.6" ry="4.0" fill="#a9a9a9"/>
<polygon points="162.3,108.3 166.3,102.0 172.6,98.0 179.8,97.2 184.5,99.6 181.3,101.2 176.6,102.8 172.6,106.0 174.2,108.3 177.4,111.5 179.0,116.3 175.8,117.1 172.6,114.7 166.3,113.9 162.3,112.3" fill="#fff"/>
<polygon points="208.2,108.3 216.9,107.5 224.0,109.9 225.6,117.1 222.5,122.6 216.1,125.8 210.6,125.0 208.2,116.3" fill="#fff"/>
<polygon points="154.4,172.3 158.0,167.2 161.5,167.2 159.0,171.8 155.9,174.4" fill="#fff"/>
<polygon points="268.5,154.4 274.0,152.8 276.4,157.5 281.2,158.3 284.4,159.9 286.7,160.7 284.4,165.5 276.4,164.7 270.1,163.9 268.5,159.1" fill="#fff"/>
<polygon points="284.6,147.5 286.6,147.5 287.2,159.5 285.2,160.5" fill="#fff"/>
<polygon points="293.1,221.2 300.2,221.6 299.0,223.6 294.0,223.6" fill="#fff"/>
<polygon points="244.5,265.8 256.6,264.8 256.0,267.6 244.5,268.6" fill="#fff"/>
<circle cx="157.0" cy="207.5" r="2.6" fill="#fff"/>
<circle cx="160.5" cy="190.5" r="1.4" fill="#fff"/>
<circle cx="163.0" cy="188.8" r="1.1" fill="#fff"/>
<circle cx="154.5" cy="264.5" r="1.0" fill="#fff"/>
<ellipse cx="152.6" cy="260.4" rx="2.6" ry="4.2" fill="#fff"/>
<ellipse cx="175" cy="204" rx="2.2" ry="3.2" fill="#fff"/>
<g clip-path="url(#uclip)"><ellipse cx="166.4" cy="216.4" rx="9.0" ry="11.0" fill="#e47a64" opacity="0.55"/><ellipse cx="177.4" cy="190.6" rx="3.0" ry="5.0" fill="#e0604a" opacity="0.60"/><ellipse cx="212.3" cy="275.0" rx="5.0" ry="6.0" fill="#e08070" opacity="0.45"/><circle cx="189.0" cy="90.0" r="2.0" fill="#e09080"/><circle cx="206.5" cy="96.0" r="2.0" fill="#e08070"/><circle cx="217.0" cy="130.5" r="2.6" fill="#e04a30"/><circle cx="176.0" cy="118.0" r="2.4" fill="#e08070"/><circle cx="166.0" cy="110.0" r="2.4" fill="#e0a090"/><circle cx="180.0" cy="124.0" r="2.2" fill="#e09080"/><circle cx="175.5" cy="185.5" r="2.4" fill="#e04a30"/><circle cx="174.0" cy="190.0" r="2.4" fill="#e05030"/><circle cx="170.0" cy="197.0" r="2.4" fill="#e06a50"/><circle cx="160.0" cy="203.0" r="2.4" fill="#e07a60"/><circle cx="167.0" cy="211.0" r="3.0" fill="#e07060"/><circle cx="172.0" cy="214.0" r="3.0" fill="#e06a55"/><circle cx="176.0" cy="219.0" r="2.8" fill="#e06a55"/><circle cx="162.0" cy="217.0" r="2.6" fill="#e08070"/><circle cx="152.0" cy="234.0" r="2.2" fill="#e04a30"/><circle cx="152.0" cy="239.0" r="2.2" fill="#e05a40"/><circle cx="206.0" cy="209.0" r="2.4" fill="#e06a50"/><circle cx="228.0" cy="274.0" r="2.4" fill="#e04a30"/><circle cx="226.0" cy="282.0" r="2.4" fill="#e07a60"/><circle cx="222.0" cy="286.0" r="2.2" fill="#e08070"/><circle cx="155.0" cy="259.0" r="2.2" fill="#d89090"/><circle cx="261.0" cy="304.0" r="2.2" fill="#d08080"/><circle cx="286.0" cy="149.0" r="2.0" fill="#e09080"/></g>
</g>
<path d="M390.8,635.1 V729.4 H485.6" fill="none" stroke="#000" stroke-width="5.0" stroke-linejoin="miter"/>
<polygon points="390.8,617.1 381.3,636.1 400.3,636.1" fill="#000"/>
<polygon points="503.6,729.4 484.6,719.9 484.6,738.9" fill="#000"/>
<text x="446.7" y="762.7" font-size="21.5" text-anchor="middle" font-weight="normal" font-style="normal" >UMAP_1</text>
<text transform="translate(373.4,674.3) rotate(-90)" font-size="21.5" text-anchor="middle" >UMAP_2</text>
<text x="828.7" y="480.6" font-size="22.5" text-anchor="middle" font-weight="normal" font-style="normal" >HFD + ABT-737</text>
<g transform="translate(658.20,0.20) matrix(0.965,0,0,0.974,-1.914,420.96)">
<polygon points="148.0,117.1 151.2,113.1 157.5,106.7 162.3,100.4 170.2,94.0 178.2,86.9 187.7,80.2 195.6,79.4 203.6,81.3 209.9,86.9 210.7,94.8 209.5,101.5 212.9,103.0 219.3,101.5 228.0,101.5 233.0,102.0 236.0,97.0 237.5,87.7 242.3,86.1 246.3,88.5 247.1,96.4 251.0,100.4 248.7,105.2 242.3,105.5 236.0,105.0 231.0,107.0 232.5,112.0 232.0,116.3 230.4,122.6 224.8,127.4 221.7,132.1 224.0,135.3 217.7,136.9 212.9,132.1 205.0,130.6 202.0,130.6 194.0,133.7 192.5,140.1 190.1,144.8 184.5,147.2 178.2,144.0 170.2,137.7 162.3,132.1 156.0,125.8 150.4,121.0" fill="#a9a9a9" stroke="#a9a9a9" stroke-width="2.6" stroke-linejoin="round"/>
<polygon points="81.0,157.5 82.9,152.8 86.9,151.2 94.0,151.2 98.8,154.4 98.0,159.1 94.8,162.3 89.3,163.1 85.3,161.5 83.5,164.0" fill="#a9a9a9" stroke="#a9a9a9" stroke-width="2.6" stroke-linejoin="round"/>
<polygon points="141.6,174.4 140.6,170.3 144.7,165.2 150.8,160.6 156.9,159.6 163.6,161.6 171.2,165.2 177.3,170.3 182.4,174.4 186.5,180.5 191.6,182.6 191.1,185.6 187.0,185.6 187.0,193.3 185.5,199.9 183.0,203.5 176.3,201.9 171.2,199.9 166.1,198.4 163.6,199.9 164.1,204.0 166.1,209.1 170.2,210.6 171.2,216.2 173.8,220.3 176.3,224.4 173.8,227.4 168.7,226.9 162.0,225.9 158.5,222.3 154.9,217.2 151.8,214.2 145.7,213.7 141.6,211.1 140.6,208.6 138.6,208.1 136.5,211.1 134.0,213.7 131.9,215.2 132.4,219.8 138.6,222.3 145.7,224.4 146.7,227.4 141.6,230.0 143.2,236.6 141.6,239.7 138.6,237.7 136.5,233.6 131.4,232.6 129.4,235.6 126.8,238.7 123.8,236.6 125.3,229.0 128.4,226.4 125.3,221.3 120.2,217.8 116.6,212.1 117.1,208.1 121.7,207.0 126.8,209.6 132.4,211.6 134.0,208.6 134.0,199.9 136.5,195.3 141.6,194.3 146.7,192.8 149.8,190.7 152.9,186.6 153.9,181.5 150.8,177.4 148.8,174.4 146.7,172.3 144.7,174.9" fill="url(#gEb)" stroke="url(#gEb)" stroke-width="2.6" stroke-linejoin="round"/>
<polygon points="136.9,258.5 138.5,252.1 144.0,248.2 151.2,246.6 157.5,249.8 162.3,256.1 170.2,259.3 171.0,268.0 166.3,266.4 159.1,270.4 155.2,272.4 148.8,270.4 140.9,266.4" fill="#a9a9a9" stroke="#a9a9a9" stroke-width="2.6" stroke-linejoin="round"/>
<polygon points="185.3,212.1 190.1,208.5 198.0,205.3 206.0,201.5 213.0,197.4 220.9,196.6 224.8,200.6 224.0,205.3 216.9,207.7 209.0,210.1 205.0,211.7 198.0,216.4 190.1,214.8" fill="#a9a9a9" stroke="#a9a9a9" stroke-width="2.6" stroke-linejoin="round"/>
<polygon points="226.4,156.7 228.8,152.8 233.6,153.2 239.9,156.0 248.7,158.3 256.6,156.7 260.6,154.4 263.7,149.6 270.1,146.4 274.5,140.0 277.5,134.0 277.2,129.8 278.0,122.6 282.4,121.0 286.7,124.2 287.5,129.8 289.1,132.9 286.0,134.5 282.0,134.5 279.5,139.0 278.5,144.0 283.0,146.4 286.7,146.4 290.7,138.5 296.3,135.3 302.6,136.1 309.8,140.1 311.3,144.8 308.2,148.0 301.8,151.2 298.7,158.3 293.9,162.3 291.5,168.7 288.3,176.6 282.8,183.7 276.4,187.7 270.9,186.9 266.9,182.9 262.1,179.8 255.8,175.0 250.2,174.2 240.7,175.8 235.2,172.6 230.4,166.3 227.2,160.7" fill="#a9a9a9" stroke="#a9a9a9" stroke-width="2.6" stroke-linejoin="round"/>
<polygon points="266.1,221.2 268.5,218.8 276.4,217.2 283.6,211.7 292.3,206.9 300.2,210.9 304.2,218.0 304.2,224.4 306.6,228.3 303.4,231.5 299.4,229.9 294.7,226.7 290.7,225.2 284.4,225.2 276.4,226.0 271.7,229.1 268.5,226.7" fill="#a9a9a9" stroke="#a9a9a9" stroke-width="2.6" stroke-linejoin="round"/>
<polygon points="212.9,234.7 216.1,233.1 220.9,233.9 226.4,233.1 229.6,237.1 226.4,244.2 223.3,249.0 220.1,252.1 216.9,249.8 214.5,245.8 213.7,239.4" fill="#a9a9a9" stroke="#a9a9a9" stroke-width="2.6" stroke-linejoin="round"/>
<polygon points="173.4,293.4 180.0,289.0 186.1,284.7 194.0,279.1 202.0,277.5 209.9,272.8 212.9,268.0 212.9,264.8 218.5,265.6 224.8,270.4 231.2,271.2 236.7,266.4 242.3,260.1 248.7,258.5 260.6,258.5 266.9,255.3 272.5,250.6 276.4,255.3 278.8,262.5 280.4,264.8 276.4,268.0 268.5,271.2 260.6,272.0 248.7,273.6 236.7,275.2 232.0,277.5 230.4,283.9 224.8,289.4 216.9,289.4 209.0,287.1 205.0,285.5 194.0,287.9 183.0,292.0 175.0,295.0" fill="#a9a9a9" stroke="#a9a9a9" stroke-width="2.6" stroke-linejoin="round"/>
<polyline points="106.3,106.3 113.5,110.0 112.3,114.7 108.3,117.1 108.8,120.5 113.1,122.6 115.5,121.8" fill="none" stroke="#a9a9a9" stroke-width="5.4" stroke-linecap="round" stroke-linejoin="round"/>
<polyline points="82.3,160.0 82.0,170.0 81.7,178.2" fill="none" stroke="#a9a9a9" stroke-width="4.6" stroke-linecap="round" stroke-linejoin="round"/>
<polyline points="117.9,148.8 123.8,153.2" fill="none" stroke="#a9a9a9" stroke-width="4.4" stroke-linecap="round" stroke-linejoin="round"/>
<polyline points="152.0,235.5 152.4,243.4" fill="none" stroke="#a9a9a9" stroke-width="5.2" stroke-linecap="round" stroke-linejoin="round"/>
<polyline points="97.2,243.4 102.0,237.9 107.5,234.7" fill="none" stroke="#a9a9a9" stroke-width="6.8" stroke-linecap="round" stroke-linejoin="round"/>
<polyline points="195.6,250.6 200.0,254.0 205.0,257.0 210.0,261.0 214.0,265.5" fill="none" stroke="#a9a9a9" stroke-width="7.8" stroke-linecap="round" stroke-linejoin="round"/>
<polyline points="181.3,259.3 189.3,254.5" fill="none" stroke="#a9a9a9" stroke-width="5.2" stroke-linecap="round" stroke-linejoin="round"/>
<polyline points="335.2,179.8 342.3,186.1" fill="none" stroke="#a9a9a9" stroke-width="5.6" stroke-linecap="round" stroke-linejoin="round"/>
<polyline points="259.0,299.5 262.1,305.3" fill="none" stroke="#a9a9a9" stroke-width="5.6" stroke-linecap="round" stroke-linejoin="round"/>
<polyline points="194.5,305.0 202.0,312.5" fill="none" stroke="#a9a9a9" stroke-width="5.6" stroke-linecap="round" stroke-linejoin="round"/>
<circle cx="154.4" cy="102.0" r="2.8" fill="#a9a9a9"/>
<circle cx="177.9" cy="206.5" r="2.6" fill="url(#gEb)"/>
<circle cx="175.3" cy="213.2" r="2.0" fill="url(#gEb)"/>
<circle cx="180.9" cy="215.2" r="1.8" fill="url(#gEb)"/>
<circle cx="158.0" cy="229.0" r="1.8" fill="url(#gEb)"/>
<circle cx="195.6" cy="250.6" r="5.5" fill="#a9a9a9"/>
<circle cx="213.7" cy="255.3" r="3.0" fill="#a9a9a9"/>
<circle cx="243.9" cy="291.0" r="3.2" fill="#a9a9a9"/>
<circle cx="298.7" cy="278.3" r="3.2" fill="#a9a9a9"/>
<ellipse cx="260.5" cy="129.0" rx="5.6" ry="4.0" fill="#a9a9a9"/>
<polygon points="162.3,108.3 166.3,102.0 172.6,98.0 179.8,97.2 184.5,99.6 181.3,101.2 176.6,102.8 172.6,106.0 174.2,108.3 177.4,111.5 179.0,116.3 175.8,117.1 172.6,114.7 166.3,113.9 162.3,112.3" fill="#fff"/>
<polygon points="208.2,108.3 216.9,107.5 224.0,109.9 225.6,117.1 222.5,122.6 216.1,125.8 210.6,125.0 208.2,116.3" fill="#fff"/>
<polygon points="154.4,172.3 158.0,167.2 161.5,167.2 159.0,171.8 155.9,174.4" fill="#fff"/>
<polygon points="268.5,154.4 274.0,152.8 276.4,157.5 281.2,158.3 284.4,159.9 286.7,160.7 284.4,165.5 276.4,164.7 270.1,163.9 268.5,159.1" fill="#fff"/>
<polygon points="284.6,147.5 286.6,147.5 287.2,159.5 285.2,160.5" fill="#fff"/>
<polygon points="293.1,221.2 300.2,221.6 299.0,223.6 294.0,223.6" fill="#fff"/>
<polygon points="244.5,265.8 256.6,264.8 256.0,267.6 244.5,268.6" fill="#fff"/>
<circle cx="157.0" cy="207.5" r="2.6" fill="#fff"/>
<circle cx="160.5" cy="190.5" r="1.4" fill="#fff"/>
<circle cx="163.0" cy="188.8" r="1.1" fill="#fff"/>
<circle cx="154.5" cy="264.5" r="1.0" fill="#fff"/>
<ellipse cx="152.6" cy="260.4" rx="2.6" ry="4.2" fill="#fff"/>
<ellipse cx="175" cy="204" rx="2.2" ry="3.2" fill="#fff"/>
<g clip-path="url(#uclip)"><ellipse cx="164.5" cy="219.5" rx="11.0" ry="9.0" fill="#e87e66" opacity="0.70"/><ellipse cx="219.4" cy="205.4" rx="4.0" ry="3.5" fill="#e86a50" opacity="0.80"/><ellipse cx="197.6" cy="286.3" rx="8.0" ry="3.0" fill="#e08a78" opacity="0.60"/><ellipse cx="273.3" cy="224.6" rx="3.0" ry="3.0" fill="#e07a66" opacity="0.70"/><ellipse cx="146.0" cy="205.0" rx="6.0" ry="4.0" fill="#e09080" opacity="0.40"/><circle cx="169.0" cy="103.5" r="1.8" fill="#e08070"/><circle cx="176.0" cy="98.0" r="2.8" fill="#e07a60"/><circle cx="220.0" cy="108.0" r="2.0" fill="#e08070"/><circle cx="212.0" cy="118.0" r="2.0" fill="#e09080"/><circle cx="100.5" cy="158.0" r="2.4" fill="#e03a2a"/><circle cx="183.0" cy="187.0" r="2.2" fill="#d83020"/><circle cx="160.0" cy="197.0" r="2.4" fill="#e07a60"/><circle cx="154.0" cy="205.0" r="2.4" fill="#e07060"/><circle cx="173.0" cy="213.0" r="3.2" fill="#e07060"/><circle cx="169.0" cy="216.0" r="3.4" fill="#e06a55"/><circle cx="176.0" cy="217.0" r="3.0" fill="#e07060"/><circle cx="219.0" cy="205.0" r="2.6" fill="#e0604a"/><circle cx="221.0" cy="203.0" r="2.4" fill="#e0604a"/><circle cx="157.0" cy="228.0" r="2.2" fill="#e08070"/><circle cx="145.0" cy="255.0" r="2.4" fill="#e09080"/><circle cx="150.0" cy="265.0" r="2.4" fill="#e08070"/><circle cx="204.0" cy="281.0" r="3.0" fill="#e07a60"/><circle cx="208.0" cy="283.0" r="3.0" fill="#e07a60"/><circle cx="215.0" cy="246.0" r="2.2" fill="#e09080"/><circle cx="225.0" cy="240.0" r="2.2" fill="#e09080"/><circle cx="283.0" cy="222.0" r="2.2" fill="#e06a50"/><circle cx="302.0" cy="141.0" r="2.4" fill="#e06a50"/><circle cx="231.0" cy="283.0" r="2.2" fill="#e09080"/><circle cx="261.0" cy="303.0" r="2.2" fill="#d08080"/></g>
</g>
<path d="M715.3,635.1 V729.4 H810.1" fill="none" stroke="#000" stroke-width="5.0" stroke-linejoin="miter"/>
<polygon points="715.3,617.1 705.8,636.1 724.8,636.1" fill="#000"/>
<polygon points="828.1,729.4 809.1,719.9 809.1,738.9" fill="#000"/>
<text x="771.2" y="762.7" font-size="21.5" text-anchor="middle" font-weight="normal" font-style="normal" >UMAP_1</text>
<text transform="translate(697.9,674.3) rotate(-90)" font-size="21.5" text-anchor="middle" >UMAP_2</text>
<defs><linearGradient id="cb0" x1="0" y1="1" x2="0" y2="0"><stop offset="0" stop-color="#a9a6a6"/><stop offset="0.5" stop-color="#d0796a"/><stop offset="1" stop-color="#e83a2a"/></linearGradient></defs>
<rect x="1034.1" y="512.8" width="32.8" height="186.9" fill="url(#cb0)"/>
<text x="1081.5" y="551.7" font-size="21.5" text-anchor="start" font-weight="normal" font-style="normal" >3</text>
<text x="1081.5" y="604.3" font-size="21.5" text-anchor="start" font-weight="normal" font-style="normal" >2</text>
<text x="1081.5" y="655.2" font-size="21.5" text-anchor="start" font-weight="normal" font-style="normal" >1</text>
<text x="1081.5" y="706.7" font-size="21.5" text-anchor="start" font-weight="normal" font-style="normal" >0</text>
<text transform="translate(1015.6,608.8) rotate(-90)" font-size="22.0" text-anchor="middle" >Average expression</text>
<defs>
<linearGradient id="gEn" x1="0.6" y1="0" x2="0.25" y2="1"><stop offset="0" stop-color="#aba3a3"/><stop offset="0.5" stop-color="#c08a80"/><stop offset="1" stop-color="#dc6652"/></linearGradient>
<linearGradient id="gEh" x1="0.6" y1="0" x2="0.3" y2="1"><stop offset="0" stop-color="#ada0a0"/><stop offset="0.4" stop-color="#cc8070"/><stop offset="0.75" stop-color="#e0604a"/><stop offset="1" stop-color="#e0604a"/></linearGradient>
<linearGradient id="gJ" x1="0.6" y1="0" x2="0.4" y2="1"><stop offset="0" stop-color="#c09690"/><stop offset="0.45" stop-color="#da6c58"/><stop offset="1" stop-color="#e45a44"/></linearGradient>
<linearGradient id="gA" x1="0.1" y1="0" x2="0.9" y2="1"><stop offset="0" stop-color="#c8877a"/><stop offset="0.4" stop-color="#de6652"/><stop offset="0.8" stop-color="#d87060"/><stop offset="1" stop-color="#c89088"/></linearGradient>
<linearGradient id="gEb" x1="0.7" y1="0" x2="0.3" y2="1"><stop offset="0" stop-color="#a9a9a9"/><stop offset="0.55" stop-color="#aea4a2"/><stop offset="1" stop-color="#bc9a92"/></linearGradient>
<linearGradient id="gL" x1="0" y1="0.5" x2="1" y2="0.5"><stop offset="0" stop-color="#d07a6a"/><stop offset="0.3" stop-color="#b89c98"/><stop offset="1" stop-color="#aca4a4"/></linearGradient>
</defs>
<text x="535.2" y="823.4" font-size="22.3" text-anchor="middle" font-weight="bold" font-style="normal" ><tspan font-style="italic">Cdkn1a</tspan> mRNA</text>
<text x="176.0" y="863.7" font-size="22.5" text-anchor="middle" font-weight="normal" font-style="normal" >ND</text>
<g transform="translate(0.00,383.10) matrix(0.965,0,0,0.974,-1.914,420.96)">
<polygon points="148.0,117.1 151.2,113.1 157.5,106.7 162.3,100.4 170.2,94.0 178.2,86.9 187.7,80.2 195.6,79.4 203.6,81.3 209.9,86.9 210.7,94.8 209.5,101.5 212.9,103.0 219.3,101.5 228.0,101.5 233.0,102.0 236.0,97.0 237.5,87.7 242.3,86.1 246.3,88.5 247.1,96.4 251.0,100.4 248.7,105.2 242.3,105.5 236.0,105.0 231.0,107.0 232.5,112.0 232.0,116.3 230.4,122.6 224.8,127.4 221.7,132.1 224.0,135.3 217.7,136.9 212.9,132.1 205.0,130.6 202.0,130.6 194.0,133.7 192.5,140.1 190.1,144.8 184.5,147.2 178.2,144.0 170.2,137.7 162.3,132.1 156.0,125.8 150.4,121.0" fill="url(#gA)" stroke="url(#gA)" stroke-width="2.6" stroke-linejoin="round"/>
<polygon points="81.0,157.5 82.9,152.8 86.9,151.2 94.0,151.2 98.8,154.4 98.0,159.1 94.8,162.3 89.3,163.1 85.3,161.5 83.5,164.0" fill="#cf806f" stroke="#cf806f" stroke-width="2.6" stroke-linejoin="round"/>
<polygon points="141.6,174.4 140.6,170.3 144.7,165.2 150.8,160.6 156.9,159.6 163.6,161.6 171.2,165.2 177.3,170.3 182.4,174.4 186.5,180.5 191.6,182.6 191.1,185.6 187.0,185.6 187.0,193.3 185.5,199.9 183.0,203.5 176.3,201.9 171.2,199.9 166.1,198.4 163.6,199.9 164.1,204.0 166.1,209.1 170.2,210.6 171.2,216.2 173.8,220.3 176.3,224.4 173.8,227.4 168.7,226.9 162.0,225.9 158.5,222.3 154.9,217.2 151.8,214.2 145.7,213.7 141.6,211.1 140.6,208.6 138.6,208.1 136.5,211.1 134.0,213.7 131.9,215.2 132.4,219.8 138.6,222.3 145.7,224.4 146.7,227.4 141.6,230.0 143.2,236.6 141.6,239.7 138.6,237.7 136.5,233.6 131.4,232.6 129.4,235.6 126.8,238.7 123.8,236.6 125.3,229.0 128.4,226.4 125.3,221.3 120.2,217.8 116.6,212.1 117.1,208.1 121.7,207.0 126.8,209.6 132.4,211.6 134.0,208.6 134.0,199.9 136.5,195.3 141.6,194.3 146.7,192.8 149.8,190.7 152.9,186.6 153.9,181.5 150.8,177.4 148.8,174.4 146.7,172.3 144.7,174.9" fill="url(#gEn)" stroke="url(#gEn)" stroke-width="2.6" stroke-linejoin="round"/>
<polygon points="136.9,258.5 138.5,252.1 144.0,248.2 151.2,246.6 157.5,249.8 162.3,256.1 170.2,259.3 171.0,268.0 166.3,266.4 159.1,270.4 155.2,272.4 148.8,270.4 140.9,266.4" fill="#aea3a3" stroke="#aea3a3" stroke-width="2.6" stroke-linejoin="round"/>
<polygon points="185.3,212.1 190.1,208.5 198.0,205.3 206.0,201.5 213.0,197.4 220.9,196.6 224.8,200.6 224.0,205.3 216.9,207.7 209.0,210.1 205.0,211.7 198.0,216.4 190.1,214.8" fill="#d07a68" stroke="#d07a68" stroke-width="2.6" stroke-linejoin="round"/>
<polygon points="226.4,156.7 228.8,152.8 233.6,153.2 239.9,156.0 248.7,158.3 256.6,156.7 260.6,154.4 263.7,149.6 270.1,146.4 274.5,140.0 277.5,134.0 277.2,129.8 278.0,122.6 282.4,121.0 286.7,124.2 287.5,129.8 289.1,132.9 286.0,134.5 282.0,134.5 279.5,139.0 278.5,144.0 283.0,146.4 286.7,146.4 290.7,138.5 296.3,135.3 302.6,136.1 309.8,140.1 311.3,144.8 308.2,148.0 301.8,151.2 298.7,158.3 293.9,162.3 291.5,168.7 288.3,176.6 282.8,183.7 276.4,187.7 270.9,186.9 266.9,182.9 262.1,179.8 255.8,175.0 250.2,174.2 240.7,175.8 235.2,172.6 230.4,166.3 227.2,160.7" fill="url(#gJ)" stroke="url(#gJ)" stroke-width="2.6" stroke-linejoin="round"/>
<polygon points="266.1,221.2 268.5,218.8 276.4,217.2 283.6,211.7 292.3,206.9 300.2,210.9 304.2,218.0 304.2,224.4 306.6,228.3 303.4,231.5 299.4,229.9 294.7,226.7 290.7,225.2 284.4,225.2 276.4,226.0 271.7,229.1 268.5,226.7" fill="#c49088" stroke="#c49088" stroke-width="2.6" stroke-linejoin="round"/>
<polygon points="212.9,234.7 216.1,233.1 220.9,233.9 226.4,233.1 229.6,237.1 226.4,244.2 223.3,249.0 220.1,252.1 216.9,249.8 214.5,245.8 213.7,239.4" fill="#b89c98" stroke="#b89c98" stroke-width="2.6" stroke-linejoin="round"/>
<polygon points="173.4,293.4 180.0,289.0 186.1,284.7 194.0,279.1 202.0,277.5 209.9,272.8 212.9,268.0 212.9,264.8 218.5,265.6 224.8,270.4 231.2,271.2 236.7,266.4 242.3,260.1 248.7,258.5 260.6,258.5 266.9,255.3 272.5,250.6 276.4,255.3 278.8,262.5 280.4,264.8 276.4,268.0 268.5,271.2 260.6,272.0 248.7,273.6 236.7,275.2 232.0,277.5 230.4,283.9 224.8,289.4 216.9,289.4 209.0,287.1 205.0,285.5 194.0,287.9 183.0,292.0 175.0,295.0" fill="url(#gL)" stroke="url(#gL)" stroke-width="2.6" stroke-linejoin="round"/>
<polyline points="106.3,106.3 113.5,110.0 112.3,114.7 108.3,117.1 108.8,120.5 113.1,122.6 115.5,121.8" fill="none" stroke="#e04a3a" stroke-width="5.4" stroke-linecap="round" stroke-linejoin="round"/>
<polyline points="82.3,160.0 82.0,170.0 81.7,178.2" fill="none" stroke="#aca6a6" stroke-width="4.6" stroke-linecap="round" stroke-linejoin="round"/>
<polyline points="117.9,148.8 123.8,153.2" fill="none" stroke="#aca6a6" stroke-width="4.4" stroke-linecap="round" stroke-linejoin="round"/>
<polyline points="152.0,235.5 152.4,243.4" fill="none" stroke="#c89088" stroke-width="5.2" stroke-linecap="round" stroke-linejoin="round"/>
<polyline points="97.2,243.4 102.0,237.9 107.5,234.7" fill="none" stroke="#c89088" stroke-width="6.8" stroke-linecap="round" stroke-linejoin="round"/>
<polyline points="195.6,250.6 200.0,254.0 205.0,257.0 210.0,261.0 214.0,265.5" fill="none" stroke="#c09490" stroke-width="7.8" stroke-linecap="round" stroke-linejoin="round"/>
<polyline points="181.3,259.3 189.3,254.5" fill="none" stroke="#a9a9a9" stroke-width="5.2" stroke-linecap="round" stroke-linejoin="round"/>
<polyline points="335.2,179.8 342.3,186.1" fill="none" stroke="#bb9590" stroke-width="5.6" stroke-linecap="round" stroke-linejoin="round"/>
<polyline points="259.0,299.5 262.1,305.3" fill="none" stroke="#b0a0a0" stroke-width="5.6" stroke-linecap="round" stroke-linejoin="round"/>
<polyline points="194.5,305.0 202.0,312.5" fill="none" stroke="#d86a58" stroke-width="5.6" stroke-linecap="round" stroke-linejoin="round"/>
<circle cx="154.4" cy="102.0" r="2.8" fill="url(#gA)"/>
<circle cx="177.9" cy="206.5" r="2.6" fill="url(#gEn)"/>
<circle cx="175.3" cy="213.2" r="2.0" fill="url(#gEn)"/>
<circle cx="180.9" cy="215.2" r="1.8" fill="url(#gEn)"/>
<circle cx="158.0" cy="229.0" r="1.8" fill="url(#gEn)"/>
<circle cx="195.6" cy="250.6" r="5.5" fill="url(#gL)"/>
<circle cx="213.7" cy="255.3" r="3.0" fill="#aca6a6"/>
<circle cx="243.9" cy="291.0" r="3.2" fill="#aca6a6"/>
<circle cx="298.7" cy="278.3" r="3.2" fill="#aca6a6"/>
<ellipse cx="260.5" cy="129.0" rx="5.6" ry="4.0" fill="#c0958f"/>
<polygon points="162.3,108.3 166.3,102.0 172.6,98.0 179.8,97.2 184.5,99.6 181.3,101.2 176.6,102.8 172.6,106.0 174.2,108.3 177.4,111.5 179.0,116.3 175.8,117.1 172.6,114.7 166.3,113.9 162.3,112.3" fill="#fff"/>
<polygon points="208.2,108.3 216.9,107.5 224.0,109.9 225.6,117.1 222.5,122.6 216.1,125.8 210.6,125.0 208.2,116.3" fill="#fff"/>
<polygon points="154.4,172.3 158.0,167.2 161.5,167.2 159.0,171.8 155.9,174.4" fill="#fff"/>
<polygon points="268.5,154.4 274.0,152.8 276.4,157.5 281.2,158.3 284.4,159.9 286.7,160.7 284.4,165.5 276.4,164.7 270.1,163.9 268.5,159.1" fill="#fff"/>
<polygon points="284.6,147.5 286.6,147.5 287.2,159.5 285.2,160.5" fill="#fff"/>
<polygon points="293.1,221.2 300.2,221.6 299.0,223.6 294.0,223.6" fill="#fff"/>
<polygon points="244.5,265.8 256.6,264.8 256.0,267.6 244.5,268.6" fill="#fff"/>
<circle cx="157.0" cy="207.5" r="2.6" fill="#fff"/>
<circle cx="160.5" cy="190.5" r="1.4" fill="#fff"/>
<circle cx="163.0" cy="188.8" r="1.1" fill="#fff"/>
<circle cx="154.5" cy="264.5" r="1.0" fill="#fff"/>
</g>
<path d="M61.8,1018.2 V1112.5 H156.6" fill="none" stroke="#000" stroke-width="5.0" stroke-linejoin="miter"/>
<polygon points="61.8,1000.2 52.3,1019.2 71.3,1019.2" fill="#000"/>
<polygon points="174.6,1112.5 155.6,1103.0 155.6,1122.0" fill="#000"/>
<text x="117.7" y="1145.8" font-size="21.5" text-anchor="middle" font-weight="normal" font-style="normal" >UMAP_1</text>
<text transform="translate(44.4,1057.4) rotate(-90)" font-size="21.5" text-anchor="middle" >UMAP_2</text>
<text x="502.0" y="863.7" font-size="22.5" text-anchor="middle" font-weight="normal" font-style="normal" >HFD</text>
<g transform="translate(326.60,381.00) matrix(0.965,0,0,0.974,-1.914,420.96)">
<polygon points="148.0,117.1 151.2,113.1 157.5,106.7 162.3,100.4 170.2,94.0 178.2,86.9 187.7,80.2 195.6,79.4 203.6,81.3 209.9,86.9 210.7,94.8 209.5,101.5 212.9,103.0 219.3,101.5 228.0,101.5 233.0,102.0 236.0,97.0 237.5,87.7 242.3,86.1 246.3,88.5 247.1,96.4 251.0,100.4 248.7,105.2 242.3,105.5 236.0,105.0 231.0,107.0 232.5,112.0 232.0,116.3 230.4,122.6 224.8,127.4 221.7,132.1 224.0,135.3 217.7,136.9 212.9,132.1 205.0,130.6 202.0,130.6 194.0,133.7 192.5,140.1 190.1,144.8 184.5,147.2 178.2,144.0 170.2,137.7 162.3,132.1 156.0,125.8 150.4,121.0" fill="url(#gA)" stroke="url(#gA)" stroke-width="2.6" stroke-linejoin="round"/>
<polygon points="81.0,157.5 82.9,152.8 86.9,151.2 94.0,151.2 98.8,154.4 98.0,159.1 94.8,162.3 89.3,163.1 85.3,161.5 83.5,164.0" fill="#d07a6a" stroke="#d07a6a" stroke-width="2.6" stroke-linejoin="round"/>
<polygon points="141.6,174.4 140.6,170.3 144.7,165.2 150.8,160.6 156.9,159.6 163.6,161.6 171.2,165.2 177.3,170.3 182.4,174.4 186.5,180.5 191.6,182.6 191.1,185.6 187.0,185.6 187.0,193.3 185.5,199.9 183.0,203.5 176.3,201.9 171.2,199.9 166.1,198.4 163.6,199.9 164.1,204.0 166.1,209.1 170.2,210.6 171.2,216.2 173.8,220.3 176.3,224.4 173.8,227.4 168.7,226.9 162.0,225.9 158.5,222.3 154.9,217.2 151.8,214.2 145.7,213.7 141.6,211.1 140.6,208.6 138.6,208.1 136.5,211.1 134.0,213.7 131.9,215.2 132.4,219.8 138.6,222.3 145.7,224.4 146.7,227.4 141.6,230.0 143.2,236.6 141.6,239.7 138.6,237.7 136.5,233.6 131.4,232.6 129.4,235.6 126.8,238.7 123.8,236.6 125.3,229.0 128.4,226.4 125.3,221.3 120.2,217.8 116.6,212.1 117.1,208.1 121.7,207.0 126.8,209.6 132.4,211.6 134.0,208.6 134.0,199.9 136.5,195.3 141.6,194.3 146.7,192.8 149.8,190.7 152.9,186.6 153.9,181.5 150.8,177.4 148.8,174.4 146.7,172.3 144.7,174.9" fill="url(#gEh)" stroke="url(#gEh)" stroke-width="2.6" stroke-linejoin="round"/>
<polygon points="136.9,258.5 138.5,252.1 144.0,248.2 151.2,246.6 157.5,249.8 162.3,256.1 170.2,259.3 171.0,268.0 166.3,266.4 159.1,270.4 155.2,272.4 148.8,270.4 140.9,266.4" fill="#b0a0a0" stroke="#b0a0a0" stroke-width="2.6" stroke-linejoin="round"/>
<polygon points="185.3,212.1 190.1,208.5 198.0,205.3 206.0,201.5 213.0,197.4 220.9,196.6 224.8,200.6 224.0,205.3 216.9,207.7 209.0,210.1 205.0,211.7 198.0,216.4 190.1,214.8" fill="#d4806e" stroke="#d4806e" stroke-width="2.6" stroke-linejoin="round"/>
<polygon points="226.4,156.7 228.8,152.8 233.6,153.2 239.9,156.0 248.7,158.3 256.6,156.7 260.6,154.4 263.7,149.6 270.1,146.4 274.5,140.0 277.5,134.0 277.2,129.8 278.0,122.6 282.4,121.0 286.7,124.2 287.5,129.8 289.1,132.9 286.0,134.5 282.0,134.5 279.5,139.0 278.5,144.0 283.0,146.4 286.7,146.4 290.7,138.5 296.3,135.3 302.6,136.1 309.8,140.1 311.3,144.8 308.2,148.0 301.8,151.2 298.7,158.3 293.9,162.3 291.5,168.7 288.3,176.6 282.8,183.7 276.4,187.7 270.9,186.9 266.9,182.9 262.1,179.8 255.8,175.0 250.2,174.2 240.7,175.8 235.2,172.6 230.4,166.3 227.2,160.7" fill="url(#gJ)" stroke="url(#gJ)" stroke-width="2.6" stroke-linejoin="round"/>
<polygon points="266.1,221.2 268.5,218.8 276.4,217.2 283.6,211.7 292.3,206.9 300.2,210.9 304.2,218.0 304.2,224.4 306.6,228.3 303.4,231.5 299.4,229.9 294.7,226.7 290.7,225.2 284.4,225.2 276.4,226.0 271.7,229.1 268.5,226.7" fill="#b4a0a0" stroke="#b4a0a0" stroke-width="2.6" stroke-linejoin="round"/>
<polygon points="212.9,234.7 216.1,233.1 220.9,233.9 226.4,233.1 229.6,237.1 226.4,244.2 223.3,249.0 220.1,252.1 216.9,249.8 214.5,245.8 213.7,239.4" fill="#c0958f" stroke="#c0958f" stroke-width="2.6" stroke-linejoin="round"/>
<polygon points="173.4,293.4 180.0,289.0 186.1,284.7 194.0,279.1 202.0,277.5 209.9,272.8 212.9,268.0 212.9,264.8 218.5,265.6 224.8,270.4 231.2,271.2 236.7,266.4 242.3,260.1 248.7,258.5 260.6,258.5 266.9,255.3 272.5,250.6 276.4,255.3 278.8,262.5 280.4,264.8 276.4,268.0 268.5,271.2 260.6,272.0 248.7,273.6 236.7,275.2 232.0,277.5 230.4,283.9 224.8,289.4 216.9,289.4 209.0,287.1 205.0,285.5 194.0,287.9 183.0,292.0 175.0,295.0" fill="url(#gL)" stroke="url(#gL)" stroke-width="2.6" stroke-linejoin="round"/>
<polyline points="106.3,106.3 113.5,110.0 112.3,114.7 108.3,117.1 108.8,120.5 113.1,122.6 115.5,121.8" fill="none" stroke="#e0604a" stroke-width="5.4" stroke-linecap="round" stroke-linejoin="round"/>
<polyline points="82.3,160.0 82.0,170.0 81.7,178.2" fill="none" stroke="#aca6a6" stroke-width="4.6" stroke-linecap="round" stroke-linejoin="round"/>
<polyline points="117.9,148.8 123.8,153.2" fill="none" stroke="#aca6a6" stroke-width="4.4" stroke-linecap="round" stroke-linejoin="round"/>
<polyline points="152.0,235.5 152.4,243.4" fill="none" stroke="#d27060" stroke-width="5.2" stroke-linecap="round" stroke-linejoin="round"/>
<polyline points="97.2,243.4 102.0,237.9 107.5,234.7" fill="none" stroke="#c88a80" stroke-width="6.8" stroke-linecap="round" stroke-linejoin="round"/>
<polyline points="195.6,250.6 200.0,254.0 205.0,257.0 210.0,261.0 214.0,265.5" fill="none" stroke="#c09894" stroke-width="7.8" stroke-linecap="round" stroke-linejoin="round"/>
<polyline points="181.3,259.3 189.3,254.5" fill="none" stroke="#a9a9a9" stroke-width="5.2" stroke-linecap="round" stroke-linejoin="round"/>
<polyline points="335.2,179.8 342.3,186.1" fill="none" stroke="#c0908a" stroke-width="5.6" stroke-linecap="round" stroke-linejoin="round"/>
<polyline points="259.0,299.5 262.1,305.3" fill="none" stroke="#aca6a6" stroke-width="5.6" stroke-linecap="round" stroke-linejoin="round"/>
<polyline points="194.5,305.0 202.0,312.5" fill="none" stroke="#c88a80" stroke-width="5.6" stroke-linecap="round" stroke-linejoin="round"/>
<circle cx="154.4" cy="102.0" r="2.8" fill="url(#gA)"/>
<circle cx="177.9" cy="206.5" r="2.6" fill="url(#gEh)"/>
<circle cx="175.3" cy="213.2" r="2.0" fill="url(#gEh)"/>
<circle cx="180.9" cy="215.2" r="1.8" fill="url(#gEh)"/>
<circle cx="158.0" cy="229.0" r="1.8" fill="url(#gEh)"/>
<circle cx="195.6" cy="250.6" r="5.5" fill="url(#gL)"/>
<circle cx="213.7" cy="255.3" r="3.0" fill="#aca6a6"/>
<circle cx="243.9" cy="291.0" r="3.2" fill="#aca6a6"/>
<circle cx="298.7" cy="278.3" r="3.2" fill="#aca6a6"/>
<ellipse cx="260.5" cy="129.0" rx="5.6" ry="4.0" fill="#c88a80"/>
<polygon points="162.3,108.3 166.3,102.0 172.6,98.0 179.8,97.2 184.5,99.6 181.3,101.2 176.6,102.8 172.6,106.0 174.2,108.3 177.4,111.5 179.0,116.3 175.8,117.1 172.6,114.7 166.3,113.9 162.3,112.3" fill="#fff"/>
<polygon points="208.2,108.3 216.9,107.5 224.0,109.9 225.6,117.1 222.5,122.6 216.1,125.8 210.6,125.0 208.2,116.3" fill="#fff"/>
<polygon points="154.4,172.3 158.0,167.2 161.5,167.2 159.0,171.8 155.9,174.4" fill="#fff"/>
<polygon points="268.5,154.4 274.0,152.8 276.4,157.5 281.2,158.3 284.4,159.9 286.7,160.7 284.4,165.5 276.4,164.7 270.1,163.9 268.5,159.1" fill="#fff"/>
<polygon points="284.6,147.5 286.6,147.5 287.2,159.5 285.2,160.5" fill="#fff"/>
<polygon points="293.1,221.2 300.2,221.6 299.0,223.6 294.0,223.6" fill="#fff"/>
<polygon points="244.5,265.8 256.6,264.8 256.0,267.6 244.5,268.6" fill="#fff"/>
<circle cx="157.0" cy="207.5" r="2.6" fill="#fff"/>
<circle cx="160.5" cy="190.5" r="1.4" fill="#fff"/>
<circle cx="163.0" cy="188.8" r="1.1" fill="#fff"/>
<circle cx="154.5" cy="264.5" r="1.0" fill="#fff"/>
<ellipse cx="152.6" cy="260.4" rx="2.6" ry="4.2" fill="#fff"/>
<ellipse cx="175" cy="204" rx="2.2" ry="3.2" fill="#fff"/>
</g>
<path d="M390.8,1018.2 V1112.5 H485.6" fill="none" stroke="#000" stroke-width="5.0" stroke-linejoin="miter"/>
<polygon points="390.8,1000.2 381.3,1019.2 400.3,1019.2" fill="#000"/>
<polygon points="503.6,1112.5 484.6,1103.0 484.6,1122.0" fill="#000"/>
<text x="446.7" y="1145.8" font-size="21.5" text-anchor="middle" font-weight="normal" font-style="normal" >UMAP_1</text>
<text transform="translate(373.4,1057.4) rotate(-90)" font-size="21.5" text-anchor="middle" >UMAP_2</text>
<text x="828.7" y="863.7" font-size="22.5" text-anchor="middle" font-weight="normal" font-style="normal" >HFD + ABT-737</text>
<g transform="translate(658.20,383.30) matrix(0.965,0,0,0.974,-1.914,420.96)">
<polygon points="148.0,117.1 151.2,113.1 157.5,106.7 162.3,100.4 170.2,94.0 178.2,86.9 187.7,80.2 195.6,79.4 203.6,81.3 209.9,86.9 210.7,94.8 209.5,101.5 212.9,103.0 219.3,101.5 228.0,101.5 233.0,102.0 236.0,97.0 237.5,87.7 242.3,86.1 246.3,88.5 247.1,96.4 251.0,100.4 248.7,105.2 242.3,105.5 236.0,105.0 231.0,107.0 232.5,112.0 232.0,116.3 230.4,122.6 224.8,127.4 221.7,132.1 224.0,135.3 217.7,136.9 212.9,132.1 205.0,130.6 202.0,130.6 194.0,133.7 192.5,140.1 190.1,144.8 184.5,147.2 178.2,144.0 170.2,137.7 162.3,132.1 156.0,125.8 150.4,121.0" fill="url(#gA)" stroke="url(#gA)" stroke-width="2.6" stroke-linejoin="round"/>
<polygon points="81.0,157.5 82.9,152.8 86.9,151.2 94.0,151.2 98.8,154.4 98.0,159.1 94.8,162.3 89.3,163.1 85.3,161.5 83.5,164.0" fill="#d0806e" stroke="#d0806e" stroke-width="2.6" stroke-linejoin="round"/>
<polygon points="141.6,174.4 140.6,170.3 144.7,165.2 150.8,160.6 156.9,159.6 163.6,161.6 171.2,165.2 177.3,170.3 182.4,174.4 186.5,180.5 191.6,182.6 191.1,185.6 187.0,185.6 187.0,193.3 185.5,199.9 183.0,203.5 176.3,201.9 171.2,199.9 166.1,198.4 163.6,199.9 164.1,204.0 166.1,209.1 170.2,210.6 171.2,216.2 173.8,220.3 176.3,224.4 173.8,227.4 168.7,226.9 162.0,225.9 158.5,222.3 154.9,217.2 151.8,214.2 145.7,213.7 141.6,211.1 140.6,208.6 138.6,208.1 136.5,211.1 134.0,213.7 131.9,215.2 132.4,219.8 138.6,222.3 145.7,224.4 146.7,227.4 141.6,230.0 143.2,236.6 141.6,239.7 138.6,237.7 136.5,233.6 131.4,232.6 129.4,235.6 126.8,238.7 123.8,236.6 125.3,229.0 128.4,226.4 125.3,221.3 120.2,217.8 116.6,212.1 117.1,208.1 121.7,207.0 126.8,209.6 132.4,211.6 134.0,208.6 134.0,199.9 136.5,195.3 141.6,194.3 146.7,192.8 149.8,190.7 152.9,186.6 153.9,181.5 150.8,177.4 148.8,174.4 146.7,172.3 144.7,174.9" fill="url(#gEh)" stroke="url(#gEh)" stroke-width="2.6" stroke-linejoin="round"/>
<polygon points="136.9,258.5 138.5,252.1 144.0,248.2 151.2,246.6 157.5,249.8 162.3,256.1 170.2,259.3 171.0,268.0 166.3,266.4 159.1,270.4 155.2,272.4 148.8,270.4 140.9,266.4" fill="#b8a09c" stroke="#b8a09c" stroke-width="2.6" stroke-linejoin="round"/>
<polygon points="185.3,212.1 190.1,208.5 198.0,205.3 206.0,201.5 213.0,197.4 220.9,196.6 224.8,200.6 224.0,205.3 216.9,207.7 209.0,210.1 205.0,211.7 198.0,216.4 190.1,214.8" fill="#d87060" stroke="#d87060" stroke-width="2.6" stroke-linejoin="round"/>
<polygon points="226.4,156.7 228.8,152.8 233.6,153.2 239.9,156.0 248.7,158.3 256.6,156.7 260.6,154.4 263.7,149.6 270.1,146.4 274.5,140.0 277.5,134.0 277.2,129.8 278.0,122.6 282.4,121.0 286.7,124.2 287.5,129.8 289.1,132.9 286.0,134.5 282.0,134.5 279.5,139.0 278.5,144.0 283.0,146.4 286.7,146.4 290.7,138.5 296.3,135.3 302.6,136.1 309.8,140.1 311.3,144.8 308.2,148.0 301.8,151.2 298.7,158.3 293.9,162.3 291.5,168.7 288.3,176.6 282.8,183.7 276.4,187.7 270.9,186.9 266.9,182.9 262.1,179.8 255.8,175.0 250.2,174.2 240.7,175.8 235.2,172.6 230.4,166.3 227.2,160.7" fill="url(#gJ)" stroke="url(#gJ)" stroke-width="2.6" stroke-linejoin="round"/>
<polygon points="266.1,221.2 268.5,218.8 276.4,217.2 283.6,211.7 292.3,206.9 300.2,210.9 304.2,218.0 304.2,224.4 306.6,228.3 303.4,231.5 299.4,229.9 294.7,226.7 290.7,225.2 284.4,225.2 276.4,226.0 271.7,229.1 268.5,226.7" fill="#bca09c" stroke="#bca09c" stroke-width="2.6" stroke-linejoin="round"/>
<polygon points="212.9,234.7 216.1,233.1 220.9,233.9 226.4,233.1 229.6,237.1 226.4,244.2 223.3,249.0 220.1,252.1 216.9,249.8 214.5,245.8 213.7,239.4" fill="#c0958f" stroke="#c0958f" stroke-width="2.6" stroke-linejoin="round"/>
<polygon points="173.4,293.4 180.0,289.0 186.1,284.7 194.0,279.1 202.0,277.5 209.9,272.8 212.9,268.0 212.9,264.8 218.5,265.6 224.8,270.4 231.2,271.2 236.7,266.4 242.3,260.1 248.7,258.5 260.6,258.5 266.9,255.3 272.5,250.6 276.4,255.3 278.8,262.5 280.4,264.8 276.4,268.0 268.5,271.2 260.6,272.0 248.7,273.6 236.7,275.2 232.0,277.5 230.4,283.9 224.8,289.4 216.9,289.4 209.0,287.1 205.0,285.5 194.0,287.9 183.0,292.0 175.0,295.0" fill="url(#gL)" stroke="url(#gL)" stroke-width="2.6" stroke-linejoin="round"/>
<polyline points="106.3,106.3 113.5,110.0 112.3,114.7 108.3,117.1 108.8,120.5 113.1,122.6 115.5,121.8" fill="none" stroke="#d86a58" stroke-width="5.4" stroke-linecap="round" stroke-linejoin="round"/>
<polyline points="82.3,160.0 82.0,170.0 81.7,178.2" fill="none" stroke="#aca6a6" stroke-width="4.6" stroke-linecap="round" stroke-linejoin="round"/>
<polyline points="117.9,148.8 123.8,153.2" fill="none" stroke="#aca6a6" stroke-width="4.4" stroke-linecap="round" stroke-linejoin="round"/>
<polyline points="152.0,235.5 152.4,243.4" fill="none" stroke="#d06a58" stroke-width="5.2" stroke-linecap="round" stroke-linejoin="round"/>
<polyline points="97.2,243.4 102.0,237.9 107.5,234.7" fill="none" stroke="#b0a4a4" stroke-width="6.8" stroke-linecap="round" stroke-linejoin="round"/>
<polyline points="195.6,250.6 200.0,254.0 205.0,257.0 210.0,261.0 214.0,265.5" fill="none" stroke="#c09894" stroke-width="7.8" stroke-linecap="round" stroke-linejoin="round"/>
<polyline points="181.3,259.3 189.3,254.5" fill="none" stroke="#a9a9a9" stroke-width="5.2" stroke-linecap="round" stroke-linejoin="round"/>
<polyline points="335.2,179.8 342.3,186.1" fill="none" stroke="#c0958f" stroke-width="5.6" stroke-linecap="round" stroke-linejoin="round"/>
<polyline points="259.0,299.5 262.1,305.3" fill="none" stroke="#aca6a6" stroke-width="5.6" stroke-linecap="round" stroke-linejoin="round"/>
<polyline points="194.5,305.0 202.0,312.5" fill="none" stroke="#c8908a" stroke-width="5.6" stroke-linecap="round" stroke-linejoin="round"/>
<circle cx="154.4" cy="102.0" r="2.8" fill="url(#gA)"/>
<circle cx="177.9" cy="206.5" r="2.6" fill="url(#gEh)"/>
<circle cx="175.3" cy="213.2" r="2.0" fill="url(#gEh)"/>
<circle cx="180.9" cy="215.2" r="1.8" fill="url(#gEh)"/>
<circle cx="158.0" cy="229.0" r="1.8" fill="url(#gEh)"/>
<circle cx="195.6" cy="250.6" r="5.5" fill="url(#gL)"/>
<circle cx="213.7" cy="255.3" r="3.0" fill="#aca6a6"/>
<circle cx="243.9" cy="291.0" r="3.2" fill="#aca6a6"/>
<circle cx="298.7" cy="278.3" r="3.2" fill="#aca6a6"/>
<ellipse cx="260.5" cy="129.0" rx="5.6" ry="4.0" fill="#c0958f"/>
<polygon points="162.3,108.3 166.3,102.0 172.6,98.0 179.8,97.2 184.5,99.6 181.3,101.2 176.6,102.8 172.6,106.0 174.2,108.3 177.4,111.5 179.0,116.3 175.8,117.1 172.6,114.7 166.3,113.9 162.3,112.3" fill="#fff"/>
<polygon points="208.2,108.3 216.9,107.5 224.0,109.9 225.6,117.1 222.5,122.6 216.1,125.8 210.6,125.0 208.2,116.3" fill="#fff"/>
<polygon points="154.4,172.3 158.0,167.2 161.5,167.2 159.0,171.8 155.9,174.4" fill="#fff"/>
<polygon points="268.5,154.4 274.0,152.8 276.4,157.5 281.2,158.3 284.4,159.9 286.7,160.7 284.4,165.5 276.4,164.7 270.1,163.9 268.5,159.1" fill="#fff"/>
<polygon points="284.6,147.5 286.6,147.5 287.2,159.5 285.2,160.5" fill="#fff"/>
<polygon points="293.1,221.2 300.2,221.6 299.0,223.6 294.0,223.6" fill="#fff"/>
<polygon points="244.5,265.8 256.6,264.8 256.0,267.6 244.5,268.6" fill="#fff"/>
<circle cx="157.0" cy="207.5" r="2.6" fill="#fff"/>
<circle cx="160.5" cy="190.5" r="1.4" fill="#fff"/>
<circle cx="163.0" cy="188.8" r="1.1" fill="#fff"/>
<circle cx="154.5" cy="264.5" r="1.0" fill="#fff"/>
<ellipse cx="152.6" cy="260.4" rx="2.6" ry="4.2" fill="#fff"/>
<ellipse cx="175" cy="204" rx="2.2" ry="3.2" fill="#fff"/>
</g>
<path d="M715.3,1018.2 V1112.5 H810.1" fill="none" stroke="#000" stroke-width="5.0" stroke-linejoin="miter"/>
<polygon points="715.3,1000.2 705.8,1019.2 724.8,1019.2" fill="#000"/>
<polygon points="828.1,1112.5 809.1,1103.0 809.1,1122.0" fill="#000"/>
<text x="771.2" y="1145.8" font-size="21.5" text-anchor="middle" font-weight="normal" font-style="normal" >UMAP_1</text>
<text transform="translate(697.9,1057.4) rotate(-90)" font-size="21.5" text-anchor="middle" >UMAP_2</text>
<defs><linearGradient id="cb383" x1="0" y1="1" x2="0" y2="0"><stop offset="0" stop-color="#a9a6a6"/><stop offset="0.5" stop-color="#d0796a"/><stop offset="1" stop-color="#e83a2a"/></linearGradient></defs>
<rect x="1034.1" y="896.0" width="32.8" height="186.8" fill="url(#cb383)"/>
<text x="1081.5" y="935.0" font-size="21.5" text-anchor="start" font-weight="normal" font-style="normal" >4</text>
<text x="1081.5" y="972.8" font-size="21.5" text-anchor="start" font-weight="normal" font-style="normal" >3</text>
<text x="1081.5" y="1012.2" font-size="21.5" text-anchor="start" font-weight="normal" font-style="normal" >2</text>
<text x="1081.5" y="1050.5" font-size="21.5" text-anchor="start" font-weight="normal" font-style="normal" >1</text>
<text x="1081.5" y="1088.9" font-size="21.5" text-anchor="start" font-weight="normal" font-style="normal" >0</text>
<text transform="translate(1015.6,991.9) rotate(-90)" font-size="22.0" text-anchor="middle" >Average expression</text>
<path d="M1211.8,481.4 V729.4 H2128" fill="none" stroke="#000" stroke-width="3.8"/>
<line x1="1199" y1="701.8" x2="1211.8" y2="701.8" stroke="#000" stroke-width="3.5"/>
<text x="1189.5" y="709.3" font-size="21.5" text-anchor="end" font-weight="normal" font-style="normal" >0</text>
<line x1="1199" y1="647.1" x2="1211.8" y2="647.1" stroke="#000" stroke-width="3.5"/>
<text x="1189.5" y="654.6" font-size="21.5" text-anchor="end" font-weight="normal" font-style="normal" >1</text>
<line x1="1199" y1="592.4" x2="1211.8" y2="592.4" stroke="#000" stroke-width="3.5"/>
<text x="1189.5" y="599.9" font-size="21.5" text-anchor="end" font-weight="normal" font-style="normal" >2</text>
<line x1="1199" y1="537.7" x2="1211.8" y2="537.7" stroke="#000" stroke-width="3.5"/>
<text x="1189.5" y="545.2" font-size="21.5" text-anchor="end" font-weight="normal" font-style="normal" >3</text>
<line x1="1199" y1="483.0" x2="1211.8" y2="483.0" stroke="#000" stroke-width="3.5"/>
<text x="1189.5" y="490.5" font-size="21.5" text-anchor="end" font-weight="normal" font-style="normal" >4</text>
<text transform="translate(1158.5,598.0) rotate(-90)" font-size="22.0" text-anchor="middle" ><tspan font-style="italic">Cdkn2a</tspan> mRNA expression</text>
<line x1="1230.9" y1="707.4" x2="1258.9" y2="707.4" stroke="#000" stroke-width="2"/>
<line x1="1244.9" y1="705" x2="1244.9" y2="592.4" stroke="#000" stroke-width="3"/>
<path d="M1246 681h2m-5 -10h2m2 9h2m-4 7h2m5 -10h2m-15 12h2m12 0h2m-23 -13h2m23 -7h2m-11 8h2m-19 10h2m0 -8h2m2 8h2m4 3h2m9 -9h2m-8 -1h2m-1 0h2m-13 1h2m18 -12h2m-10 3h2m-15 12h2m-6 1h2m7 -11h2m-3 -2h2m11 -2h2m-19 -1h2m5 -25h2m-4 -2h2m4 25h2m-12 -19h2m0 19h2m9 -24h2m-15 23h2m-7 0h2m1 -19h2m5 7h2m6 10h2m-5 1h2m-8 1h2m-6 -3h2" stroke="#111" stroke-width="1.8" fill="none"/>
<text x="1244.9" y="763.0" font-size="21.5" text-anchor="middle" font-weight="normal" font-style="normal" >0</text>
<line x1="1262.5" y1="707.4" x2="1290.5" y2="707.4" stroke="#000" stroke-width="2"/>
<line x1="1276.5" y1="705" x2="1276.5" y2="592.4" stroke="#000" stroke-width="3"/>
<path d="M1284 643h2m0 29h2m-15 4h2m5 -28h2m7 33h2m-22 -5h2m0 -24h2m-9 20h2m12 9h2m-1 -6h2m-6 -6h2m-1 -26h2m8 17h2m-21 17h2m16 -31h2m-19 28h2m18 -21h2m-2 24h2m-11 -30h2m-16 20h2m21 -27h2m-8 -10h2m1 -1h2m-17 -17h2m10 21h2m-15 5h2m14 -24h2m-17 -3h2m-4 -15h2m0 45h2" stroke="#111" stroke-width="1.8" fill="none"/>
<text x="1276.5" y="763.0" font-size="21.5" text-anchor="middle" font-weight="normal" font-style="normal" >1</text>
<line x1="1294.1" y1="707.4" x2="1322.1" y2="707.4" stroke="#000" stroke-width="2"/>
<line x1="1308.1" y1="705" x2="1308.1" y2="623.6" stroke="#000" stroke-width="3"/>
<path d="M1296 653h2m6 13h2" stroke="#111" stroke-width="1.8" fill="none"/>
<text x="1308.1" y="763.0" font-size="21.5" text-anchor="middle" font-weight="normal" font-style="normal" >2</text>
<line x1="1325.6" y1="707.4" x2="1353.6" y2="707.4" stroke="#000" stroke-width="2"/>
<text x="1339.6" y="763.0" font-size="21.5" text-anchor="middle" font-weight="normal" font-style="normal" >3</text>
<line x1="1357.2" y1="707.4" x2="1385.2" y2="707.4" stroke="#000" stroke-width="2"/>
<line x1="1371.2" y1="705" x2="1371.2" y2="559.6" stroke="#000" stroke-width="3"/>
<path d="M1361 668h2m18 11h2m-8 -31h2m-4 14h2m-17 27h2m22 6h2m-1 -33h2m-11 33h2m1 -22h2m5 8h2m-14 12h2m8 -33h2m-8 0h2m4 -3h2m-8 22h2m3 -27h2m-4 24h2m-8 -22h2m-7 12h2m4 2h2m-2 24h2m5 -45h2m-15 13h2m3 0h2m5 15h2m-5 17h2m-6 3h2m-12 -22h2m6 -11h2m9 4h2m-26 18h2m16 -2h2m-16 4h2m11 -34h2m4 23h2m-8 5h2m-8 7h2m11 -30h2m-16 -4h2m-4 15h2m3 22h2m7 -35h2m1 6h2m-23 22h2m1 -9h2m1 12h2m1 -20h2m7 15h2m-13 -33h2m-13 45h2m-2 -40h2m13 8h2m4 20h2m-20 14h2m-5 -21h2m4 -19h2m-8 34h2m9 -24h2m4 0h2m6 -8h2m-22 6h2m-3 10h2m6 23h2m-10 -35h2m3 22h2m2 -21h2m5 4h2m-1 11h2m-21 -25h2m15 -2h2m-10 40h2m11 -24h2m-11 12h2m4 -25h2m-11 -3h2m-9 14h2m14 -3h2m-4 4h2m3 21h2m0 -38h2m-7 22h2m1 11h2m-17 -27h2m0 38h2m7 -23h2m-22 3h2m-1 -16h2m1 1h2m14 23h2m-19 9h2m14 -18h2m-3 -16h2m-7 -5h2m-13 0h2m9 35h2m4 -3h2m-8 -17h2m-1 -10h2m-6 26h2m12 -26h2m-4 31h2m-11 -37h2m-10 19h2m6 2h2m-15 -3h2m11 -18h2m6 28h2m-11 -8h2m-13 -7h2m7 8h2m12 -73h2m-14 36h2m-3 8h2m11 -36h2m-18 17h2m6 15h2m-15 -38h2m-5 8h2m3 30h2m1 -26h2m6 18h2m1 13h2m-8 -1h2m-10 -7h2m4 -14h2m-3 8h2m-8 -8h2m10 16h2m-4 -22h2m0 -11h2m-12 0h2m13 6h2m-15 -9h2m14 31h2m0 5h2m-25 -35h2m14 34h2m-19 -1h2m7 -30h2m-10 2h2m13 20h2m-15 20h2m17 -34h2m-24 -15h2m16 24h2m-4 0h2m-19 16h2m-3 5h2m11 -24h2m-12 0h2m0 20h2m19 -35h2m-26 -4h2m21 45h2m-7 -21h2m-10 7h2m-3 -10h2m-13 -4h2m20 -5h2m-13 27h2" stroke="#111" stroke-width="1.8" fill="none"/>
<text x="1371.2" y="763.0" font-size="21.5" text-anchor="middle" font-weight="normal" font-style="normal" >4</text>
<line x1="1388.8" y1="707.4" x2="1416.8" y2="707.4" stroke="#000" stroke-width="2"/>
<line x1="1402.8" y1="705" x2="1402.8" y2="647.1" stroke="#000" stroke-width="3"/>
<path d="M1400 664h2m-9 24h2m-6 -14h2m19 -17h2m0 8h2m-14 4h2m0 1h2m7 -17h2m0 32h2m-5 -21h2m-12 -3h2m11 -4h2" stroke="#111" stroke-width="1.8" fill="none"/>
<text x="1402.8" y="763.0" font-size="21.5" text-anchor="middle" font-weight="normal" font-style="normal" >5</text>
<line x1="1420.4" y1="707.4" x2="1448.4" y2="707.4" stroke="#000" stroke-width="2"/>
<line x1="1434.4" y1="705" x2="1434.4" y2="655.3" stroke="#000" stroke-width="3"/>
<path d="M1441 671h2m-12 -1h2" stroke="#111" stroke-width="1.8" fill="none"/>
<text x="1434.4" y="763.0" font-size="21.5" text-anchor="middle" font-weight="normal" font-style="normal" >6</text>
<line x1="1452.0" y1="707.4" x2="1480.0" y2="707.4" stroke="#000" stroke-width="2"/>
<line x1="1466.0" y1="705" x2="1466.0" y2="645.5" stroke="#000" stroke-width="3"/>
<path d="M1454 673h2m9 12h2m-5 11h2m5 -21h2m6 14h2m-18 -15h2m4 1h2m-7 4h2m5 -15h2m2 9h2m-22 -9h2m17 12h2" stroke="#111" stroke-width="1.8" fill="none"/>
<text x="1466.0" y="763.0" font-size="21.5" text-anchor="middle" font-weight="normal" font-style="normal" >7</text>
<line x1="1483.5" y1="707.4" x2="1511.5" y2="707.4" stroke="#000" stroke-width="2"/>
<line x1="1497.5" y1="705" x2="1497.5" y2="502.1" stroke="#000" stroke-width="3"/>
<path d="M1494 645h2m-7 28h2m-5 -44h2m20 17h2m-13 -41h2m0 -57h2m0 -4h2m-17 25h2m16 29h2m3 76h2m-15 -16h2m-1 -1h2m-14 -61h2m8 -45h2" stroke="#111" stroke-width="1.8" fill="none"/>
<text x="1497.5" y="763.0" font-size="21.5" text-anchor="middle" font-weight="normal" font-style="normal" >8</text>
<line x1="1515.1" y1="707.4" x2="1543.1" y2="707.4" stroke="#000" stroke-width="2"/>
<line x1="1529.1" y1="705" x2="1529.1" y2="581.5" stroke="#000" stroke-width="3"/>
<path d="M1531 666h2m-10 10h2m5 -18h2m2 23h2m-21 -1h2m-1 4h2m17 5h2m2 -14h2m-25 -23h2m23 -15h2m-3 57h2m-14 -22h2m-8 -34h2m16 28h2m-14 -12h2m7 -17h2m-21 24h2m7 -1h2m-12 26h2m-1 -20h2m13 5h2m-13 -1h2m2 -8h2m1 -12h2m10 -14h2m-21 17h2m15 39h2m-9 -42h2m-12 26h2m6 -20h2m0 6h2m-14 -10h2m20 31h2m-5 -42h2m-24 56h2m8 -15h2m-11 -22h2m-3 5h2m14 29h2m-3 -30h2m-6 12h2m-6 10h2m12 -34h2m-22 42h2m12 -46h2m-13 3h2m-1 21h2m1 -24h2m15 10h2m-14 21h2m8 -27h2m-17 20h2m12 21h2m-24 1h2m9 -30h2m-7 -8h2m-8 -6h2m14 36h2m-12 8h2m9 -41h2m-17 -26h2m14 -3h2m-19 0h2" stroke="#111" stroke-width="1.8" fill="none"/>
<text x="1529.1" y="763.0" font-size="21.5" text-anchor="middle" font-weight="normal" font-style="normal" >9</text>
<line x1="1546.7" y1="707.4" x2="1574.7" y2="707.4" stroke="#000" stroke-width="2"/>
<text x="1560.7" y="763.0" font-size="21.5" text-anchor="middle" font-weight="normal" font-style="normal" >10</text>
<line x1="1578.3" y1="707.4" x2="1606.3" y2="707.4" stroke="#000" stroke-width="2"/>
<line x1="1592.3" y1="705" x2="1592.3" y2="597.9" stroke="#000" stroke-width="3"/>
<path d="M1594 631h2m8 -20h2m-16 1h2m-5 10h2m0 47h2m11 -59h2m-16 65h2m-2 -11h2m-1 -3h2m3 19h2m-3 -57h2m-2 -4h2m4 63h2m-15 -67h2m4 82h2m0 -50h2m0 -40h2m-18 15h2m18 25h2m-22 44h2m21 -62h2m-10 62h2m1 -6h2m-15 -48h2m12 41h2" stroke="#111" stroke-width="1.8" fill="none"/>
<text x="1592.3" y="763.0" font-size="21.5" text-anchor="middle" font-weight="normal" font-style="normal" >11</text>
<line x1="1609.9" y1="707.4" x2="1637.9" y2="707.4" stroke="#000" stroke-width="2"/>
<line x1="1623.9" y1="705" x2="1623.9" y2="561.2" stroke="#000" stroke-width="3"/>
<path d="M1631 685h2m-14 3h2m7 -15h2m-6 13h2m3 -7h2m-10 -5h2m5 2h2m2 0h2m0 0h2m-9 -3h2m0 12h2m-10 -8h2m-9 11h2m21 -9h2m-25 10h2m5 4h2m13 -2h2m-20 6h2m7 -1h2m-14 -18h2m5 19h2m10 -14h2" stroke="#111" stroke-width="1.8" fill="none"/>
<text x="1623.9" y="763.0" font-size="21.5" text-anchor="middle" font-weight="normal" font-style="normal" >12</text>
<line x1="1641.4" y1="707.4" x2="1669.4" y2="707.4" stroke="#000" stroke-width="2"/>
<line x1="1655.4" y1="705" x2="1655.4" y2="619.8" stroke="#000" stroke-width="3"/>
<text x="1655.4" y="763.0" font-size="21.5" text-anchor="middle" font-weight="normal" font-style="normal" >13</text>
<line x1="1673.0" y1="707.4" x2="1701.0" y2="707.4" stroke="#000" stroke-width="2"/>
<line x1="1687.0" y1="705" x2="1687.0" y2="619.8" stroke="#000" stroke-width="3"/>
<text x="1687.0" y="763.0" font-size="21.5" text-anchor="middle" font-weight="normal" font-style="normal" >14</text>
<line x1="1704.6" y1="707.4" x2="1732.6" y2="707.4" stroke="#000" stroke-width="2"/>
<line x1="1718.6" y1="705" x2="1718.6" y2="537.7" stroke="#000" stroke-width="3"/>
<text x="1718.6" y="763.0" font-size="21.5" text-anchor="middle" font-weight="normal" font-style="normal" >15</text>
<line x1="1736.2" y1="707.4" x2="1764.2" y2="707.4" stroke="#000" stroke-width="2"/>
<line x1="1750.2" y1="705" x2="1750.2" y2="613.2" stroke="#000" stroke-width="3"/>
<path d="M1739 683h2m1 -11h2m12 -3h2m-16 -26h2m0 29h2m11 1h2m-8 -10h2m-4 -36h2m9 40h2m-17 -47h2m15 26h2m-22 5h2m18 31h2m-17 -54h2" stroke="#111" stroke-width="1.8" fill="none"/>
<text x="1750.2" y="763.0" font-size="21.5" text-anchor="middle" font-weight="normal" font-style="normal" >16</text>
<line x1="1767.8" y1="707.4" x2="1795.8" y2="707.4" stroke="#000" stroke-width="2"/>
<line x1="1781.8" y1="705" x2="1781.8" y2="637.3" stroke="#000" stroke-width="3"/>
<text x="1781.8" y="763.0" font-size="21.5" text-anchor="middle" font-weight="normal" font-style="normal" >17</text>
<line x1="1799.3" y1="707.4" x2="1827.3" y2="707.4" stroke="#000" stroke-width="2"/>
<line x1="1813.3" y1="705" x2="1813.3" y2="664.6" stroke="#000" stroke-width="3"/>
<path d="M1813 678h2m11 6h2m-22 -9h2" stroke="#111" stroke-width="1.8" fill="none"/>
<text x="1813.3" y="763.0" font-size="21.5" text-anchor="middle" font-weight="normal" font-style="normal" >18</text>
<line x1="1830.9" y1="707.4" x2="1858.9" y2="707.4" stroke="#000" stroke-width="2"/>
<line x1="1844.9" y1="705" x2="1844.9" y2="614.3" stroke="#000" stroke-width="3"/>
<path d="M1844 647h2m6 -12h2m-7 -11h2m-14 18h2m1 -5h2" stroke="#111" stroke-width="1.8" fill="none"/>
<text x="1844.9" y="763.0" font-size="21.5" text-anchor="middle" font-weight="normal" font-style="normal" >19</text>
<line x1="1862.5" y1="707.4" x2="1890.5" y2="707.4" stroke="#000" stroke-width="2"/>
<line x1="1876.5" y1="705" x2="1876.5" y2="677.2" stroke="#000" stroke-width="3"/>
<path d="M1876 682h2m11 4h2m-14 6h2m4 2h2m0 2h2m-2 -14h2m-17 13h2m-7 -10h2m8 3h2m1 -7h2m-9 1h2m1 1h2m-11 -2h2m1 2h2" stroke="#111" stroke-width="1.8" fill="none"/>
<text x="1876.5" y="763.0" font-size="21.5" text-anchor="middle" font-weight="normal" font-style="normal" >20</text>
<line x1="1894.1" y1="707.4" x2="1922.1" y2="707.4" stroke="#000" stroke-width="2"/>
<line x1="1908.1" y1="705" x2="1908.1" y2="626.9" stroke="#000" stroke-width="3"/>
<text x="1908.1" y="763.0" font-size="21.5" text-anchor="middle" font-weight="normal" font-style="normal" >21</text>
<line x1="1925.7" y1="707.4" x2="1953.7" y2="707.4" stroke="#000" stroke-width="2"/>
<text x="1939.7" y="763.0" font-size="21.5" text-anchor="middle" font-weight="normal" font-style="normal" >22</text>
<line x1="1957.2" y1="707.4" x2="1985.2" y2="707.4" stroke="#000" stroke-width="2"/>
<text x="1971.2" y="763.0" font-size="21.5" text-anchor="middle" font-weight="normal" font-style="normal" >23</text>
<line x1="1988.8" y1="707.4" x2="2016.8" y2="707.4" stroke="#000" stroke-width="2"/>
<text x="2002.8" y="763.0" font-size="21.5" text-anchor="middle" font-weight="normal" font-style="normal" >24</text>
<line x1="2020.4" y1="707.4" x2="2048.4" y2="707.4" stroke="#000" stroke-width="2"/>
<text x="2034.4" y="763.0" font-size="21.5" text-anchor="middle" font-weight="normal" font-style="normal" >25</text>
<line x1="2052.0" y1="707.4" x2="2080.0" y2="707.4" stroke="#000" stroke-width="2"/>
<line x1="2066.0" y1="705" x2="2066.0" y2="671.2" stroke="#000" stroke-width="3"/>
<path d="M2066 686h2m6 9h2m-16 -4h2m-2 6h2m9 -9h2m-2 2h2m-10 6h2m13 -8h2m-10 -9h2m-10 20h2m-6 -17h2m4 3h2m13 14h2m-23 -20h2m0 5h2m5 6h2m-8 2h2m7 -3h2m-15 4h2m2 -12h2m4 -5h2m-8 5h2" stroke="#111" stroke-width="1.8" fill="none"/>
<text x="2066.0" y="763.0" font-size="21.5" text-anchor="middle" font-weight="normal" font-style="normal" >26</text>
<line x1="2083.6" y1="707.4" x2="2111.6" y2="707.4" stroke="#000" stroke-width="2"/>
<text x="2097.6" y="763.0" font-size="21.5" text-anchor="middle" font-weight="normal" font-style="normal" >27</text>
<text x="1669.0" y="796.5" font-size="21.5" text-anchor="middle" font-weight="normal" font-style="normal" >Clusters</text>
<path d="M1211.8,862 V1109.2 H2128" fill="none" stroke="#000" stroke-width="3.8"/>
<line x1="1199" y1="1091.7" x2="1211.8" y2="1091.7" stroke="#000" stroke-width="3.5"/>
<text x="1189.5" y="1099.2" font-size="21.5" text-anchor="end" font-weight="normal" font-style="normal" >0</text>
<line x1="1199" y1="1015.9" x2="1211.8" y2="1015.9" stroke="#000" stroke-width="3.5"/>
<text x="1189.5" y="1023.4" font-size="21.5" text-anchor="end" font-weight="normal" font-style="normal" >2</text>
<line x1="1199" y1="940.1" x2="1211.8" y2="940.1" stroke="#000" stroke-width="3.5"/>
<text x="1189.5" y="947.6" font-size="21.5" text-anchor="end" font-weight="normal" font-style="normal" >4</text>
<line x1="1199" y1="864.3" x2="1211.8" y2="864.3" stroke="#000" stroke-width="3.5"/>
<text x="1189.5" y="871.8" font-size="21.5" text-anchor="end" font-weight="normal" font-style="normal" >6</text>
<text transform="translate(1158.5,980.0) rotate(-90)" font-size="22.3" text-anchor="middle" ><tspan font-style="italic">Cdkn1a</tspan> mRNA expression</text>
<line x1="1230.9" y1="1096.3" x2="1258.9" y2="1096.3" stroke="#000" stroke-width="2"/>
<polygon points="1238.9,1096.2 1235.9,1094.0 1235.9,1090.2 1238.9,1087.2 1243.9,1085.6 1245.9,1085.6 1250.9,1087.2 1253.9,1090.2 1253.9,1094.0 1250.9,1096.2" fill="#4e9ba0" stroke="#000" stroke-width="1.6" stroke-linejoin="round"/>
<rect x="1233.4" y="1040.5" width="23.0" height="37.9" fill="#1a1a1a" opacity="1.00"/>
<path d="M1233 1043h2m-2 34h2m15 -26h2m-10 24h2m3 -32h2m-12 37h2m-5 -4h2m-3 -12h2m7 -25h2m4 20h2m3 -13h2m-15 19h2m-11 -1h2m17 0h2m0 -28h2m-7 16h2m-9 31h2m6 -16h2m-9 12h2m9 -20h2m-7 -16h2m3 33h2m-8 -36h2m-4 27h2m4 10h2m-7 -41h2m6 13h2m1 25h2m-22 -21h2m0 27h2m10 -24h2m4 12h2m-15 -2h2m12 12h2m-4 -1h2m-11 -20h2m-10 0h2m18 -18h2m-13 5h2m4 34h2m0 -8h2m-11 2h2m-12 -29h2m-5 14h2m1 26h2m18 -48h2m-19 17h2m10 -1h2m-6 14h2m-18 -20h2m11 29h2m-5 3h2m-7 -21h2m0 3h2m0 -3h2m-10 -3h2m1 -2h2m10 -14h2m-7 24h2m6 -8h2m-1 -6h2m5 13h2m-6 -17h2m-13 21h2m10 -8h2m-12 2h2m8 5h2m-25 5h2m21 -20h2m-10 0h2m-10 -1h2m-8 8h2m8 23h2m-3 -19h2m6 23h2m-15 -24h2m3 11h2m-11 3h2m22 -33h2m-5 12h2m-3 12h2m-4 10h2m2 -17h2m-5 23h2m-9 -1h2m-16 -41h2m6 35h2m-8 -4h2m18 -28h2m-14 25h2m-11 -10h2m21 28h2m-13 -14h2m11 -31h2m-23 23h2m18 9h2m-22 -30h2m2 3h2m-6 18h2m20 -20h2m-12 33h2m5 1h2m-23 7h2m3 -34h2m13 -8h2m-21 9h2m19 1h2m-25 12h2m4 11h2m-5 -24h2m-1 26h2m13 -24h2m-5 15h2m-4 -25h2m-10 32h2m8 -35h2m-3 32h2m7 10h2m-14 -18h2m-15 -4h2m5 -3h2m12 17h2m-16 8h2m-3 -33h2m6 23h2m7 5h2m-25 -40h2m17 26h2m3 4h2m-22 -6h2m10 -2h2m-1 9h2m-6 -20h2m7 13h2m-11 -9h2m-11 -13h2m-3 9h2m0 8h2m13 8h2m-2 -17h2m-10 27h2m1 1h2m-17 -13h2m16 -5h2m2 1h2m-21 19h2m7 8h2m-3 -20h2m7 8h2m1 10h2m-11 -25h2m-11 -11h2m0 32h2m-2 5h2m4 -28h2m0 17h2m4 9h2m-17 -4h2m10 0h2m0 -33h2m-12 38h2m-7 -15h2m-7 -30h2m17 24h2m-18 -24h2m14 26h2m-16 20h2m-4 -42h2m2 25h2m-8 -2h2m23 19h2m-9 -35h2m-15 26h2m-3 -16h2m17 4h2m-18 5h2m5 -30h2m-7 46h2m-12 -30h2m16 15h2m-5 -25h2m-6 -2h2m9 25h2m-4 0h2m-14 9h2m4 1h2m-12 1h2m6 -2h2m-3 -5h2m4 -34h2m-15 7h2m-5 23h2m6 -15h2m-12 21h2m5 4h2m16 -10h2m-20 -16h2m-5 17h2m4 -28h2m7 8h2m-21 -7h2m8 29h2m12 12h2m-5 -12h2m-22 -9h2m3 6h2m-4 17h2m-5 -27h2m8 14h2m-9 -12h2m1 -8h2m9 -1h2m-15 29h2m12 -7h2m-11 -6h2m-6 -23h2m1 29h2m-10 3h2m14 10h2m3 -27h2m-16 -20h2m15 15h2m-8 22h2m5 -22h2m-22 -10h2m-6 12h2m6 10h2m-2 18h2m1 -13h2m-11 2h2m7 -6h2m3 12h2m-18 -4h2m7 -5h2m3 10h2m-3 -27h2m-16 0h2m7 15h2m-1 16h2m0 0h2m-2 -26h2m-8 13h2m0 15h2m4 -43h2m1 31h2m-7 4h2m11 -21h2m-13 12h2m4 -28h2m-6 15h2m-8 11h2m9 7h2m-14 -30h2m-11 -2h2m11 38h2m-6 -8h2m-8 -33h2m0 39h2m-2 -24h2m7 33h2m-11 -19h2m9 -5h2m-2 -3h2m3 -1h2m-15 -20h2m13 31h2m-7 2h2m-3 -19h2m2 -13h2m-7 39h2m-4 -16h2m-9 6h2m4 -19h2m-9 25h2m-4 -4h2m-4 -9h2m-3 22h2m15 -2h2m-9 0h2m-1 -33h2m8 30h2m-24 -35h2m11 31h2m-6 -27h2m-5 4h2m0 0h2m9 19h2m0 -25h2m-13 13h2m4 -7h2m3 -6h2m-14 35h2m-6 -27h2m-8 24h2m23 -20h2m-23 -19h2m5 14h2m-2 3h2m14 -15h2m-10 44h2m-20 -4h2m17 -8h2m-19 -35h2m-4 33h2m10 -11h2m-7 9h2m13 -21h2m-15 25h2m9 -16h2m-13 -18h2m3 14h2m-13 -5h2m-3 30h2m2 -37h2m-6 22h2m-5 8h2m2 -12h2m1 -3h2m4 20h2m-8 -7h2m-7 16h2m4 -42h2m-5 40h2m20 -20h2m-6 14h2m-14 -14h2m-2 -16h2m2 37h2m0 -29h2m6 18h2m0 -28h2m-7 20h2m-19 -14h2m-3 35h2m-4 -5h2m16 -12h2m-8 3h2m-10 15h2m-8 -47h2m20 21h2m-4 -13h2m0 19h2m-3 -21h2m-20 -7h2m6 1h2m-6 12h2m-8 -10h2m3 17h2m2 9h2m10 -13h2m-7 14h2m-12 1h2m0 -27h2m-2 39h2m-5 -31h2m7 0h2m-12 3h2m-3 28h2m6 -12h2m-1 17h2m-6 -20h2m15 -6h2m-4 16h2m-6 -6h2m5 11h2m-3 -16h2m-17 10h2m-8 -24h2m11 22h2m-11 -34h2m-1 38h2m-8 -40h2m4 18h2m-6 -1h2m16 2h2m-9 -12h2m-4 17h2m6 19h2m-13 -28h2m-3 1h2m-7 14h2m7 -10h2m-16 4h2m9 -6h2m2 2h2m-14 -17h2m21 23h2m-21 -13h2m17 0h2m-6 16h2m2 14h2m-23 -18h2m9 -17h2m3 -5h2m-10 7h2m-14 -10h2m15 6h2m1 31h2m-10 -10h2m-11 -21h2m10 29h2m-4 10h2m-4 -35h2m6 27h2m-2 -30h2m1 15h2m-22 -12h2m-3 21h2m4 16h2m11 -40h2m-19 36h2m16 -13h2m-1 -11h2m1 27h2m-12 -7h2m1 -33h2m-4 33h2m-20 -11h2m6 4h2m-3 -14h2m10 1h2m-18 21h2m7 -25h2m-11 28h2m11 -40h2m-13 29h2m12 -32h2m-11 13h2m-1 21h2m4 8h2m3 -14h2m-12 1h2m11 -5h2m-8 8h2m-5 6h2m5 -3h2m-2 0h2m-13 -19h2m-4 -13h2m4 9h2m-16 15h2m3 1h2m17 -1h2m-9 8h2m-14 -19h2m-6 13h2m2 -24h2m0 23h2m12 -19h2m-10 11h2m7 24h2m-16 1h2m7 -14h2m-12 -15h2m15 -11h2m-11 43h2m-9 -22h2m-4 0h2m6 -10h2m8 -15h2m-17 -1h2m4 8h2m8 7h2m-17 31h2m4 -17h2m7 9h2m-19 1h2m-1 3h2m-11 -29h2m13 28h2m1 -23h2m0 19h2m-3 -24h2m-10 30h2m8 5h2m-1 -45h2m-17 45h2m3 -25h2m5 21h2m-9 -10h2m-1 9h2m-15 0h2m4 -19h2m-3 -13h2m-8 18h2m9 9h2m-2 -16h2m-11 -15h2m-1 0h2m8 -6h2m0 28h2m8 -22h2m-28 22h2m20 13h2m-5 -29h2m-7 28h2m-13 7h2m21 -14h2m-5 -17h2m-14 30h2m-6 -2h2m16 -1h2m-14 -11h2m9 -16h2m-11 -15h2m7 22h2m-18 6h2m-3 -17h2m2 18h2m-3 -5h2m0 2h2m8 19h2m-10 -1h2m-5 -24h2m-10 16h2m3 -7h2m-4 -6h2m5 -13h2m-4 37h2m-13 -47h2m24 18h2m-12 11h2m-10 0h2m6 -12h2m-5 15h2m5 -10h2m-20 23h2m3 -10h2m2 -27h2m-2 -3h2m5 28h2m6 10h2m-19 -37h2m11 25h2m-7 -23h2m2 36h2m-6 1h2m6 -25h2m-26 -4h2m17 -15h2m-22 18h2m9 -8h2m13 3h2m-26 -12h2m8 7h2m-4 1h2m0 15h2m-5 16h2m-9 -30h2m18 30h2m-9 -27h2m-14 28h2m21 -10h2m-3 -12h2m-16 17h2m10 -16h2m-2 20h2m-24 -17h2m7 2h2m13 -12h2m-8 9h2m0 5h2m-3 14h2m-6 -3h2m-9 -2h2m-2 2h2m3 -21h2m-1 10h2m-7 -22h2m1 12h2m-6 -19h2m-5 14h2m12 21h2m-15 -15h2m13 25h2m-5 -15h2m-4 -3h2m7 -6h2m-16 -18h2m-8 21h2m-5 -13h2m18 22h2m-6 13h2m-6 -26h2m-13 12h2m15 -31h2m-20 7h2m1 1h2m6 29h2m-13 -20h2m11 -8h2m7 -6h2m-17 10h2m7 -13h2m2 33h2m-18 -22h2m-9 24h2m5 -14h2m-2 12h2m4 8h2m-7 -7h2m4 -1h2m-12 -29h2m17 1h2m-10 12h2m-3 -6h2m9 4h2m-20 -6h2m16 35h2m-6 -15h2m-11 7h2m6 -7h2m-8 -28h2m-7 18h2m15 17h2m-3 6h2m-25 -27h2m-1 -12h2m-2 16h2m3 -21h2m-8 6h2m-2 10h2m11 32h2m1 -47h2m1 6h2m-21 16h2m1 0h2m2 0h2m-6 2h2m4 -11h2m-11 11h2m11 0h2m-2 -24h2m-9 41h2m9 -9h2m5 -30h2m-3 -1h2m-2 5h2m-14 41h2m3 -28h2m-4 -1h2m-16 -16h2m22 21h2m-25 24h2m21 -42h2m-27 42h2m15 -40h2m-4 16h2m4 -12h2m-22 37h2m22 -39h2m-17 -2h2m-4 25h2m10 15h2m-7 -12h2m-9 -13h2m1 -7h2m10 22h2m-22 2h2m7 -3h2m-6 -26h2m7 26h2m-6 -1h2m8 1h2m-20 3h2m1 -6h2m7 -21h2m-6 -3h2m5 35h2m-17 -8h2m19 -8h2m-19 2h2m15 -27h2m-25 26h2m15 -20h2m-2 22h2m-15 -2h2m10 -10h2m0 6h2m-11 22h2m-13 -18h2m0 -26h2m18 35h2m-1 -37h2m-2 30h2m-8 10h2m-16 -39h2m11 39h2m0 -36h2m-10 -4h2m-11 29h2m20 5h2m-22 10h2m-6 -14h2m2 2h2m7 9h2m-1 -21h2m-3 -10h2m-14 -10h2m-2 36h2m16 -52h2m-8 -28h2m-7 35h2m-3 -19h2m16 -10h2m-12 15h2m-6 -18h2m11 30h2m-26 -36h2m8 10h2m-9 32h2m14 -5h2m-22 -2h2m19 0h2m-5 -13h2m-15 2h2m1 20h2m-3 -1h2m1 -26h2m5 6h2m-9 7h2m4 -25h2m-4 21h2m-7 -2h2m-5 -21h2m15 -1h2m-21 3h2m20 17h2m-23 10h2m-1 -20h2m-4 6h2m2 -16h2m8 38h2m-5 -11h2m8 -7h2m-17 -1h2m1 24h2m0 -12h2m-5 -17h2m-1 25h2m2 -18h2m-12 -22h2m-7 24h2m2 -17h2m13 -1h2m1 26h2m-15 -11h2m12 -2h2m-14 3h2m8 9h2m-16 -10h2m-5 14h2m14 -29h2m1 -7h2m-6 14h2m-1 -2h2m-19 -4h2m1 0h2m15 26h2m-13 10h2m5 -15h2m1 -12h2m-9 -15h2m-1 40h2m6 -2h2m-20 -35h2m9 31h2m5 -26h2m-25 7h2m-4 -5h2m18 -7h2m0 4h2m0 10h2m-14 -3h2m-6 11h2m-7 17h2m0 -35h2m13 6h2m-9 -2h2m-9 17h2m8 6h2m6 -22h2m-2 16h2m-19 -27h2m7 -1h2m2 -1h2m-16 29h2m4 -9h2m8 22h2m-12 -23h2m-8 -9h2m7 25h2m-9 -2h2m-10 8h2m11 -13h2m1 -27h2m-8 24h2m0 8h2m-12 -33h2m13 24h2m-5 -15h2m8 6h2m-20 -12h2m18 16h2m-24 1h2m-6 -11h2m12 28h2m2 -6h2m-12 -20h2m6 -2h2m-7 3h2m-11 12h2m21 -2h2m-27 -19h2m4 38h2m3 -29h2m-3 26h2m7 -20h2m-5 8h2m-2 -13h2m0 29h2m-20 -4h2m-3 -16h2m8 19h2m-9 -18h2m18 -23h2m-9 22h2m8 7h2m-20 9h2m13 -4h2m-14 -13h2m11 5h2m-5 6h2m-11 -20h2m-2 15h2m-6 -4h2m1 -8h2m8 15h2m-10 -7h2m-3 -19h2m10 23h2m-5 -28h2m-5 27h2m-12 -16h2m16 1h2m-10 3h2m-2 10h2m1 10h2m3 -15h2m-9 9h2m-10 15h2m-6 -34h2m-3 7h2m19 10h2m-4 9h2m-11 6h2m5 -35h2m-9 20h2m2 -15h2m-6 -1h2m1 22h2m-6 -14h2m-13 -19h2m3 9h2m15 3h2m-13 20h2m-4 -11h2m2 16h2m-1 -33h2m2 28h2m-20 -6h2m6 -9h2m13 4h2m-3 -2h2m-8 10h2m-14 12h2m9 -28h2m-11 -6h2m-2 25h2m-11 -12h2m15 8h2m-12 10h2m15 -33h2m-22 28h2m-5 6h2m16 -30h2m-9 24h2m-14 -20h2m20 -5h2m-6 27h2m-12 -22h2m-5 -8h2m0 18h2m12 2h2m-8 -6h2m-12 -19h2m9 35h2m7 3h2m-16 -9h2m8 -4h2m-6 -22h2m-11 34h2m-5 -24h2m15 -8h2m-15 30h2m7 -1h2m-2 9h2m2 -1h2m-9 -22h2m-17 21h2m23 -12h2m-5 -11h2m-22 24h2m14 2h2m-14 -7h2m10 -22h2m-8 15h2m0 2h2m-7 -3h2m-4 5h2m-10 -1h2m14 -2h2m-15 2h2m8 -27h2m-7 16h2m10 -17h2m-4 12h2m-7 -4h2m-5 13h2m1 -4h2m-1 -1h2m8 -12h2m-26 26h2m-1 -4h2m14 -22h2m-14 23h2m15 -27h2m-5 9h2m-9 -3h2m1 16h2m10 -22h2m-7 -2h2m-17 38h2m6 -40h2m-9 20h2m4 -15h2m-14 -6h2m-4 0h2m8 38h2m-9 -22h2m20 3h2m-7 6h2m-6 -7h2m-6 19h2m4 -33h2m-8 31h2m-5 -15h2m6 -1h2m-13 25h2m-2 -29h2m12 27h2m4 -12h2m-25 -11h2m2 -3h2m10 -8h2m-20 2h2m18 33h2m-18 -5h2m-3 5h2m20 -20h2m-21 7h2m-4 -23h2m10 9h2m-18 -14h2m7 17h2m-5 -12h2m-4 5h2m19 10h2m-21 12h2m9 -31h2m-15 39h2m1 -8h2m9 -28h2m-3 -6h2m-10 16h2m1 -4h2m-2 30h2m-1 -15h2m-15 16h2m7 -43h2m-8 30h2m19 -12h2m-14 19h2m6 -15h2m-17 -3h2m11 17h2m2 5h2m-20 2h2m16 -19h2m-5 -7h2m-3 -7h2m1 33h2m-20 -5h2m-5 5h2m7 -38h2m-11 36h2m13 -35h2m-17 -3h2m5 37h2m-7 -4h2m12 0h2m-15 1h2m4 -17h2m3 18h2m-7 -16h2m-11 1h2m2 -6h2m-7 13h2m14 -26h2m-3 23h2m-14 -53h2m14 15h2m-2 0h2m-20 -14h2m5 17h2m11 -13h2m2 2h2m-16 13h2m8 -17h2m3 19h2m-5 -16h2m-9 10h2m6 -16h2m-2 10h2m-3 -11h2m1 9h2m-17 14h2m-10 -12h2m-3 -5h2m3 4h2m7 8h2m-6 3h2m13 -17h2m-19 15h2m-7 -11h2m-2 -4h2m2 8h2m-11 14h2m7 0h2m16 -7h2m-27 -10h2m2 -2h2m11 7h2m4 -10h2m-19 11h2m-2 1h2m2 -9h2m-10 1h2m20 -2h2m-11 15h2m-18 1h2m2 -7h2m8 -8h2m9 1h2m-25 17h2m7 0h2m4 -21h2m3 8h2m-22 4h2m-4 -7h2m-2 11h2m-1 2h2m-1 -10h2m17 -2h2m-21 7h2m15 -8h2m-7 -6h2m6 8h2m1 -3h2m-7 11h2" stroke="#111" stroke-width="1.8" fill="none"/>
<line x1="1244.9" y1="1094" x2="1244.9" y2="939.3" stroke="#000" stroke-width="3"/>
<text x="1244.9" y="1145.3" font-size="21.5" text-anchor="middle" font-weight="normal" font-style="normal" >0</text>
<line x1="1262.5" y1="1096.3" x2="1290.5" y2="1096.3" stroke="#000" stroke-width="2"/>
<path d="M1275 1066h2m-2 14h2m2 -6h2m-5 -5h2m-12 10h2m13 -12h2m1 -9h2m-11 16h2m7 -5h2m1 2h2m-16 -2h2m-3 0h2m-10 -11h2m-1 13h2m0 -6h2m5 12h2m7 -10h2m-15 3h2m14 2h2m-25 3h2m11 -15h2m-12 17h2m15 -17h2m-4 19h2m-8 -4h2m-13 -8h2m6 -8h2m10 18h2m-23 1h2m10 -12h2m7 -36h2m-22 21h2m9 -12h2m10 9h2m-9 3h2m5 4h2m-10 -26h2m1 19h2m0 -18h2m-10 26h2m-1 -3h2m7 -24h2m-11 21h2m-12 -2h2m14 -13h2" stroke="#111" stroke-width="1.8" fill="none"/>
<line x1="1276.5" y1="1094" x2="1276.5" y2="1008.3" stroke="#000" stroke-width="3"/>
<text x="1276.5" y="1145.3" font-size="21.5" text-anchor="middle" font-weight="normal" font-style="normal" >1</text>
<line x1="1294.1" y1="1096.3" x2="1322.1" y2="1096.3" stroke="#000" stroke-width="2"/>
<path d="M1305 1052h2m7 -13h2m-19 9h2m0 14h2m6 -28h2m-5 7h2m-7 10h2m9 -23h2m1 32h2m-4 -17h2m-3 -7h2m8 -4h2m-10 18h2m-9 1h2m5 0h2m-10 1h2m10 -19h2m-1 7h2m-8 11h2m-10 5h2m11 5h2m-16 -31h2m-7 21h2m12 9h2m-17 -29h2m17 25h2m1 1h2m-13 -5h2m-7 6h2m-2 -9h2m-9 -11h2m19 3h2m-19 12h2m-5 8h2m12 -26h2m-6 30h2m-5 -23h2m0 22h2m13 -12h2m-3 0h2m-11 -20h2m4 28h2m-9 2h2m-14 -1h2m-1 -11h2m10 -22h2m8 3h2m-11 5h2m2 11h2m-19 -7h2m5 5h2m6 1h2m-6 -7h2m5 -4h2m-20 27h2m-2 1h2m2 -34h2m3 20h2m-7 -5h2m-1 -8h2m11 -29h2m-9 73h2m7 -8h2m-19 2h2m7 -61h2m-7 9h2m-7 13h2m-1 5h2m-6 -19h2m0 47h2m9 -34h2m9 46h2m-19 -72h2m10 58h2m-19 -71h2m15 19h2m-18 -15h2m-3 71h2m17 -10h2m-13 -59h2m-5 68h2m6 -10h2m1 -41h2m-11 24h2m-4 -2h2m7 1h2m-12 -23h2m-7 13h2m5 45h2m-12 -27h2" stroke="#111" stroke-width="1.8" fill="none"/>
<line x1="1308.1" y1="1094" x2="1308.1" y2="969.7" stroke="#000" stroke-width="3"/>
<text x="1308.1" y="1145.3" font-size="21.5" text-anchor="middle" font-weight="normal" font-style="normal" >2</text>
<line x1="1325.6" y1="1096.3" x2="1353.6" y2="1096.3" stroke="#000" stroke-width="2"/>
<path d="M1337 1054h2m9 -36h2m-16 38h2m-2 -14h2m6 10h2m-8 -29h2m-10 27h2m16 7h2m-3 -9h2m-19 -23h2" stroke="#111" stroke-width="1.8" fill="none"/>
<line x1="1339.6" y1="1094" x2="1339.6" y2="1001.5" stroke="#000" stroke-width="3"/>
<text x="1339.6" y="1145.3" font-size="21.5" text-anchor="middle" font-weight="normal" font-style="normal" >3</text>
<line x1="1357.2" y1="1096.3" x2="1385.2" y2="1096.3" stroke="#000" stroke-width="2"/>
<polygon points="1361.2,1096.2 1361.2,1089.8 1363.2,1084.1 1367.2,1080.3 1370.2,1078.1 1372.2,1078.1 1375.2,1080.3 1379.2,1084.1 1381.2,1089.8 1381.2,1096.2" fill="#9d9ddf" stroke="#000" stroke-width="1.6" stroke-linejoin="round"/>
<rect x="1361.2" y="1053.8" width="20.0" height="26.5" fill="#333" opacity="1.00"/>
<path d="M1366 1073h2m9 -22h2m-10 18h2m-1 -2h2m-8 -17h2m16 0h2m-1 8h2m-23 -13h2m-1 -2h2m-5 7h2m7 19h2m5 -20h2m3 24h2m-12 -25h2m-8 30h2m2 -9h2m2 -24h2m-16 4h2m16 22h2m-16 -4h2m-6 11h2m11 -13h2m-2 0h2m-16 4h2m6 -14h2m-1 7h2m-10 8h2m4 -1h2m-9 7h2m-2 -14h2m7 -15h2m2 17h2m-13 15h2m10 -28h2m-7 11h2m2 -10h2m7 -2h2m-5 -4h2m-9 9h2m1 5h2m4 0h2m-22 -12h2m13 4h2m6 6h2m-14 20h2m11 -12h2m-13 8h2m4 1h2m-3 -13h2m2 7h2m-20 11h2m16 -27h2m-18 -2h2m9 26h2m-19 -24h2m10 -8h2m-3 34h2m-12 -11h2m20 -21h2m-15 29h2m4 -6h2m-11 6h2m2 -11h2m1 -1h2m7 -19h2m-4 1h2m-18 26h2m9 -9h2m-10 -6h2m-3 -14h2m-8 37h2m15 -8h2m-21 -24h2m4 23h2m15 -20h2m-23 19h2m21 -26h2m-15 9h2m6 -1h2m-15 9h2m8 -1h2m-3 8h2m7 7h2m-22 -3h2m18 -28h2m-5 1h2m-3 3h2m-22 11h2m19 -6h2m-24 -4h2m17 29h2m2 -16h2m-14 -19h2m4 12h2m-10 -1h2m-10 2h2m16 -10h2m-9 4h2m-3 23h2m1 -18h2m-17 21h2m5 -11h2m-3 7h2m11 -7h2m-3 -19h2m4 34h2m-6 -23h2m-12 0h2m-10 10h2m-2 -12h2m21 0h2m-10 0h2m7 -5h2m-1 0h2m-28 13h2m14 -6h2m-2 -9h2m-19 19h2m15 -18h2m-3 -6h2m3 5h2m-10 -5h2m-4 3h2m-4 34h2m16 -13h2m-21 -2h2m-7 -11h2m6 15h2m3 7h2m4 -12h2m3 3h2m-14 6h2m-16 -1h2m21 -3h2m-13 0h2m-8 -9h2m-7 0h2m4 7h2m11 -18h2m-7 5h2m2 -7h2m-18 31h2m17 -26h2m-4 -9h2m-7 31h2m-1 -17h2m7 18h2m-21 -14h2m2 -18h2m5 35h2m-14 -8h2m9 -1h2m-1 -1h2m7 -22h2m-4 1h2m-5 24h2m-8 6h2m-15 0h2m-1 -33h2m8 9h2m6 27h2m0 -2h2m-12 -29h2m-15 14h2m-2 -9h2m22 6h2m-24 -5h2m14 -2h2m0 15h2m-12 -10h2m-5 2h2m14 9h2m-5 -2h2m-18 -1h2m19 14h2m-1 -28h2m-27 6h2m-2 16h2m13 -17h2m-11 -13h2m-4 27h2m-7 4h2m9 -13h2m12 4h2m-5 2h2m-22 -8h2m12 19h2m-17 -32h2m2 7h2m15 0h2m-18 -1h2m17 21h2m-3 -28h2m-25 14h2m21 6h2m-19 12h2m14 1h2m-24 -12h2m2 0h2m9 -3h2m-16 -9h2m-3 5h2m18 4h2m-2 6h2m-13 1h2m-13 -21h2m13 9h2m9 -6h2m-22 1h2m5 19h2m0 -3h2m2 7h2m-19 -12h2m21 11h2m-3 -28h2m1 18h2m-9 8h2m-16 -29h2m-4 35h2m16 -3h2m-11 -20h2m3 19h2m-16 -1h2m12 -17h2m3 -8h2m-17 25h2m3 0h2m9 4h2m-4 -25h2m1 8h2m-4 -13h2m-19 1h2m-6 17h2m9 -16h2m-7 -8h2m14 21h2m-5 -20h2m2 3h2m-10 23h2m-1 8h2m-6 -34h2m0 31h2m-5 3h2m-4 -1h2m7 -28h2m-9 -1h2m-13 16h2m12 -14h2m-14 15h2m-4 -2h2m-2 13h2m0 -12h2m11 -15h2m-4 -2h2m-9 27h2m6 -25h2m-1 7h2m-13 23h2m15 -15h2m-9 -19h2m-17 25h2m8 -11h2m-7 -14h2m-7 28h2m19 6h2m-20 -32h2m10 33h2m-1 -9h2m1 -25h2m-5 24h2m2 -1h2m1 2h2m-2 -16h2m0 12h2m-21 -9h2m0 -2h2m-10 20h2m4 -19h2m12 20h2m-2 -2h2m-13 -5h2m11 -25h2m2 4h2m-4 8h2m-11 0h2m-8 11h2m-5 -9h2m15 -3h2m-20 -3h2m2 26h2m11 -15h2m-11 -4h2m-1 -3h2m-2 -2h2m-10 4h2m3 17h2m12 -29h2m-12 22h2m-6 -8h2m8 13h2m-18 3h2m-2 -7h2m-6 3h2m1 -13h2m9 -4h2m-5 1h2m-7 0h2m9 6h2m-1 9h2m5 -14h2m-14 -1h2m-9 -6h2m2 15h2m6 -14h2m4 21h2m-14 -30h2m1 0h2m-16 23h2m11 14h2m-1 -27h2m-7 -2h2m3 1h2m-4 4h2m-2 -1h2m1 22h2m-8 -23h2m-1 -10h2m-1 30h2m-11 -7h2m-2 -20h2m-2 6h2m20 8h2m-6 16h2m2 3h2m-17 -34h2m-1 10h2m-5 18h2m12 -10h2m-11 12h2m-2 -14h2m-1 -12h2m8 18h2m-20 -10h2m14 2h2m-8 19h2m-12 -17h2m-4 12h2m4 -10h2m-6 -6h2m3 -1h2m7 -7h2m3 21h2m-20 -11h2m8 11h2m-2 -7h2m2 7h2m-1 -1h2m-15 -6h2m1 -6h2m-1 2h2m3 -16h2m5 33h2m-27 3h2m4 -31h2m-5 30h2m16 -17h2m-20 18h2m-5 0h2m9 -12h2m3 -24h2m-4 4h2m0 -2h2m-10 25h2m-9 -9h2m8 -17h2m-2 28h2m-7 -23h2m-7 8h2m0 13h2m12 -10h2m-2 -28h2m-1 -15h2m-13 -17h2m2 0h2m-10 20h2m11 18h2m-19 -1h2m12 1h2m-10 -5h2m3 -24h2m5 26h2m-4 -35h2m-4 23h2m6 -11h2m-18 -3h2m-6 0h2m9 27h2m-1 -2h2m9 -4h2m-6 -7h2m-12 -21h2m0 7h2m-12 16h2m19 -11h2m-18 -1h2m-1 7h2m9 5h2m-10 16h2m-11 -21h2m1 -9h2m-2 14h2m3 -8h2m-2 -4h2m1 -4h2m-3 28h2m-8 -6h2m3 -29h2m-11 9h2m-3 4h2m-1 17h2m19 8h2m-17 -39h2m8 40h2m-21 -27h2m-1 -5h2m17 23h2m-16 -23h2m13 11h2m-10 -4h2m-14 18h2m10 0h2m-3 -17h2m0 -2h2m-6 0h2m2 -9h2m10 -1h2m-8 2h2m-8 6h2m-14 18h2m2 -17h2m6 2h2m-5 0h2m-6 15h2m14 -19h2m-17 16h2m1 -5h2m7 -8h2m-1 -6h2m2 2h2m-16 12h2m-5 -9h2m1 -7h2m0 11h2m-15 8h2m10 4h2m-11 -28h2m20 2h2m-20 4h2m14 33h2m-18 -2h2m8 -37h2m3 5h2m-11 27h2m-6 3h2m10 -16h2m-6 8h2m-13 7h2m7 3h2m1 -22h2m5 7h2m-12 -13h2m-13 -6h2m8 24h2m9 -13h2m-27 -3h2m10 -11h2m6 31h2m0 -18h2m-18 3h2m4 4h2m1 5h2m-11 8h2m-8 1h2m17 -16h2m3 5h2m-9 -9h2m4 13h2m-3 -2h2m1 4h2m-23 -18h2m-3 -2h2m4 14h2m-2 2h2m-1 8h2m9 3h2m-5 -11h2m6 -3h2m-10 -19h2m4 1h2m-16 -3h2m-11 14h2m5 9h2m-11 -11h2m0 -5h2m9 14h2m2 -18h2m-1 29h2m-3 -3h2m7 -8h2m-20 -1h2m16 6h2m-21 -2h2m9 -8h2m-18 -17h2m16 26h2m-3 -7h2m-18 -8h2m0 26h2m-2 -10h2m-4 0h2m9 11h2m-11 -30h2m13 28h2m-18 0h2m2 -17h2m4 -12h2m-6 11h2m10 20h2m-1 -15h2m-13 12h2m-10 -18h2m19 19h2m0 -36h2m-9 17h2m-9 -3h2m3 18h2m-1 -11h2m-13 17h2m11 -3h2m-15 -16h2m4 -12h2m-5 20h2m-11 12h2m22 -1h2m-13 -35h2m-2 -3h2m-14 11h2m12 10h2m-1 1h2m-2 3h2m-7 6h2m-1 -9h2m-9 15h2m-4 -27h2m20 10h2m-9 -6h2m4 -7h2m-17 16h2m-12 -15h2m5 12h2m10 -4h2m-8 -12h2m-14 7h2m21 1h2m-14 2h2m-4 4h2m-7 14h2m6 -26h2m1 32h2m-1 -33h2m6 27h2m-14 0h2m-11 -12h2m-2 8h2m-6 4h2m15 -19h2m6 16h2m-15 -7h2m3 -21h2m0 19h2m-13 -48h2m9 23h2m-6 -23h2m2 22h2m0 -2h2m-7 -15h2m-9 18h2m-9 -22h2m6 23h2m4 -27h2m-17 21h2m19 -21h2m-19 5h2m-8 -2h2m7 20h2m-10 -27h2m17 27h2m-15 -20h2m14 23h2m0 -30h2m-24 13h2m13 -6h2m1 -3h2m4 12h2m-17 1h2m8 -6h2m2 2h2m-4 10h2m-16 -20h2m4 29h2m8 -20h2m-8 2h2m-17 -7h2m5 3h2m-6 15h2m10 -5h2m-13 -6h2m10 17h2m0 -24h2m-23 -1h2" stroke="#111" stroke-width="1.8" fill="none"/>
<line x1="1371.2" y1="1094" x2="1371.2" y2="941.6" stroke="#000" stroke-width="3"/>
<text x="1371.2" y="1145.3" font-size="21.5" text-anchor="middle" font-weight="normal" font-style="normal" >4</text>
<line x1="1388.8" y1="1096.3" x2="1416.8" y2="1096.3" stroke="#000" stroke-width="2"/>
<path d="M1401 1061h2m8 -1h2m-24 6h2m-1 -16h2m13 28h2m-4 -39h2m-1 37h2m-9 -31h2m-6 20h2m4 -18h2m6 -7h2m-4 21h2m2 2h2m-6 3h2m3 -36h2m1 14h2m-5 -31h2m-16 43h2m-6 -18h2m-3 30h2m6 -32h2m10 -19h2m-15 27h2m-10 14h2m20 15h2m-25 -13h2m8 -47h2m0 14h2" stroke="#111" stroke-width="1.8" fill="none"/>
<line x1="1402.8" y1="1094" x2="1402.8" y2="995.4" stroke="#000" stroke-width="3"/>
<text x="1402.8" y="1145.3" font-size="21.5" text-anchor="middle" font-weight="normal" font-style="normal" >5</text>
<line x1="1420.4" y1="1096.3" x2="1448.4" y2="1096.3" stroke="#000" stroke-width="2"/>
<polygon points="1424.4,1096.2 1424.9,1087.9 1427.4,1080.3 1430.9,1069.0 1432.4,1053.8 1432.8,1015.9 1433.2,985.6 1434.0,970.4 1434.8,970.4 1435.6,985.6 1436.0,1015.9 1436.4,1053.8 1437.9,1069.0 1441.4,1080.3 1443.9,1087.9 1444.4,1096.2" fill="#1e8c1e" stroke="#000" stroke-width="1.6" stroke-linejoin="round"/>
<rect x="1424.4" y="1000.7" width="20.0" height="68.2" fill="#2a2a2a" opacity="0.55"/>
<path d="M1423 1018h2m13 30h2m5 27h2m-8 -19h2m-19 16h2m18 -1h2m1 -52h2m-24 25h2m9 -15h2m2 0h2m-15 13h2m-4 26h2m3 -18h2m-8 -31h2m0 12h2m19 39h2m-11 -7h2m-7 -22h2m-9 14h2m4 -21h2m10 6h2m-12 32h2m12 -17h2m-22 -16h2m-7 10h2m-1 -4h2m10 23h2m-10 -24h2m1 -3h2m-9 -7h2m8 -8h2m-6 40h2m-7 -28h2m1 -17h2m-6 31h2m22 -3h2m-23 16h2m11 -22h2m-14 25h2m-1 -28h2m10 35h2m1 -51h2m-18 1h2m9 33h2m-2 -19h2m-12 4h2m-6 19h2m11 11h2m6 -2h2m-22 -53h2m11 0h2m-8 58h2m-4 -21h2m-4 17h2m3 3h2m-7 -28h2m15 -27h2m-4 26h2m-3 9h2m-13 -26h2m-2 3h2m0 34h2m6 4h2m-8 -9h2m1 -34h2m1 -6h2m-2 14h2m3 0h2m-9 5h2m-5 3h2m-9 -24h2m4 46h2m4 -7h2m-22 -20h2m15 26h2m0 -11h2m-18 -5h2m22 -13h2m-12 36h2m-2 -32h2m-5 7h2m8 -29h2m-4 33h2m-2 -14h2m-22 -20h2m3 48h2m16 -37h2m-14 36h2m5 -40h2m2 18h2m-23 -20h2m3 -3h2m11 21h2m-14 20h2m11 -37h2m-21 -5h2m15 22h2m-2 -20h2m-19 41h2m2 6h2m0 -24h2m-8 26h2m17 -33h2m-10 34h2m-6 -52h2m10 27h2m0 31h2m-6 -45h2m-8 26h2m-14 -36h2m14 52h2m-16 -53h2m7 46h2m1 -36h2m-16 8h2m12 27h2m-15 -31h2m4 38h2m-2 -20h2m-9 15h2m22 -29h2m-3 1h2m-10 31h2m4 -15h2m-8 -14h2m7 -19h2m-16 47h2m2 3h2m1 -8h2m-20 -8h2m1 -32h2m8 37h2m5 13h2m-19 -40h2m-2 6h2m-3 5h2m8 15h2m3 -15h2m-11 -24h2m-5 35h2m2 -23h2m-6 32h2m15 -13h2m-3 -1h2m-8 -2h2m-7 13h2m-10 -28h2m2 16h2m1 10h2m4 6h2m-11 9h2m-4 -13h2m12 -35h2m-17 -3h2m3 42h2m12 -19h2m-1 -20h2m-25 49h2m9 -19h2m-4 20h2m12 -7h2m-17 -5h2m12 2h2m-13 4h2m-7 -7h2m11 -47h2m-12 16h2m14 -15h2m-21 21h2m6 36h2m7 -27h2m-4 -31h2m3 46h2m-28 -23h2m23 25h2m-8 -36h2m-21 8h2m5 -16h2m5 10h2m-2 17h2m6 -26h2m-2 32h2m-15 13h2m-10 -9h2m-4 -5h2m20 -34h2m-22 29h2m17 14h2m-20 -2h2m11 -8h2m-7 18h2m7 -26h2m5 9h2m-8 9h2m2 11h2m-22 -29h2m17 -16h2m-2 42h2m-16 -51h2m8 11h2m-11 13h2m9 16h2m2 -29h2m-12 43h2m-12 -38h2m17 41h2m-7 -46h2m-10 27h2m-11 -29h2m14 6h2m5 15h2m-4 -10h2m-15 27h2m1 -6h2m11 -28h2m-6 -10h2m-5 -4h2m-19 15h2m9 20h2m9 18h2m-20 -16h2m6 18h2m9 -16h2m-16 -18h2m-12 29h2m13 -32h2m-5 12h2m9 5h2m-20 21h2m0 -45h2m1 28h2m7 3h2m-8 12h2m-7 -38h2m-2 -1h2m-9 7h2m11 18h2m-5 -18h2m0 35h2m-9 -50h2m7 40h2m-16 -2h2m12 10h2m2 -49h2m1 18h2m-18 -16h2m17 28h2m-11 -34h2m-10 19h2m-3 33h2m6 -8h2m-2 -26h2m-19 -16h2m1 43h2m20 -10h2m-5 -6h2m-14 17h2m-4 -37h2m7 4h2m-18 5h2m24 18h2m-21 -1h2m6 -38h2m-5 18h2m-4 5h2m-5 21h2m9 3h2m-17 8h2m21 -25h2m-11 -17h2m-14 3h2m-7 14h2m-2 -1h2m1 25h2m7 -14h2m-13 7h2m22 6h2m-3 -52h2m-21 51h2m-7 -45h2m15 45h2m5 -50h2m-18 7h2m15 7h2m-1 -10h2m-7 8h2m-12 4h2m11 8h2m-26 0h2m21 7h2m-13 -15h2m6 -14h2m-4 43h2m-20 -39h2m9 -4h2m-13 5h2m6 32h2m7 6h2m-2 -35h2m-17 -7h2m6 38h2m7 -31h2m2 -12h2m-6 28h2m-8 -17h2m7 8h2m-20 -9h2m12 49h2m-16 -48h2m14 -2h2m-18 42h2m10 -30h2m6 30h2m-4 -4h2m-21 -44h2m9 15h2m-5 -13h2m-7 31h2m0 -27h2m-10 -4h2m-2 2h2m23 10h2m-12 24h2m-16 -6h2m10 -25h2m-15 2h2m4 39h2m-8 -40h2m8 48h2m10 -22h2m-18 -29h2m1 8h2m6 -2h2m-7 42h2m-2 -21h2m4 -8h2m-7 9h2m3 -26h2m-17 39h2m20 -5h2m-4 -7h2m-7 -35h2m-1 36h2m4 -8h2m-10 0h2m-3 -11h2m-3 31h2m1 -15h2m-15 -21h2m-1 24h2m5 -36h2m10 31h2m-4 -20h2m-22 17h2m-3 8h2m8 -2h2m12 -5h2m-24 -3h2m12 22h2m-10 -21h2m-2 2h2m3 -12h2m-4 39h2m0 -13h2m3 -13h2m-3 -30h2m-8 21h2m4 31h2m-11 -5h2m-5 -24h2m5 -17h2m-16 -6h2m6 30h2m7 -6h2m6 -1h2m-18 9h2m3 -19h2m8 29h2m-25 3h2m21 -19h2m-5 -19h2m-10 15h2m-11 19h2m16 -9h2m2 -7h2m-14 -15h2m-5 13h2m9 -19h2m0 44h2m-17 -31h2m0 -4h2m0 3h2m9 4h2m-14 -15h2m5 30h2m-19 -17h2m3 10h2m-5 -9h2m0 21h2m7 2h2m0 -36h2m1 13h2m-11 16h2m-8 -16h2m17 -6h2m-25 -8h2m2 -2h2m9 48h2m-14 -13h2m8 -16h2m-3 4h2m5 -5h2m-4 -6h2m-8 -7h2m-12 12h2m8 34h2m-8 -37h2m-1 -17h2m3 29h2m-10 -29h2m11 43h2m-10 -6h2m13 14h2m-11 -19h2m8 12h2m-9 8h2m-6 3h2m9 -16h2m-5 -7h2m-18 25h2m1 -58h2m-5 57h2m6 -19h2m-8 -2h2m2 -5h2m-1 17h2m0 -23h2m-5 -10h2m11 32h2m-19 5h2m1 -18h2m10 13h2m-11 -6h2m-13 -18h2m-2 10h2m14 -6h2m4 -19h2m-15 45h2m-5 -34h2m2 -17h2m-14 -36h2m15 18h2m-7 -17h2m5 -1h2m-3 17h2m-19 -4h2m18 -14h2m-18 0h2m-8 4h2m6 11h2m0 0h2m-1 -2h2m4 -8h2m-14 18h2m1 2h2m3 -7h2m11 -13h2m-21 19h2m-9 -10h2m-2 -4h2m13 1h2m9 8h2m-28 3h2m4 8h2m11 -24h2m2 14h2m-19 8h2m6 -16h2m-8 -8h2m6 -4h2m-3 8h2m-2 18h2m-17 -28h2m6 23h2m10 3h2m-19 -15h2m18 -2h2m-25 24h2m21 -20h2m-12 2h2m0 5h2m-1 -19h2m-6 7h2m6 -6h2m-14 15h2m16 8h2m-27 -13h2m8 4h2m-6 -3h2m3 -11h2m-8 3h2m6 -3h2m-5 13h2m2 -15h2m-8 16h2m-4 3h2m-3 0h2m1 14h2m6 2h2m5 -3h2m-19 -8h2m-2 -9h2m-1 -7h2m-9 -7h2m20 33h2m-19 -24h2m1 2h2m-4 5h2m8 -2h2m-13 -11h2m7 10h2m-5 -11h2m10 0h2m-16 17h2m3 -21h2m3 17h2m-9 -3h2m-9 -2h2m-8 11h2m20 -13h2m2 -1h2m-26 -1h2m20 17h2m-3 8h2m-22 -26h2m14 22h2m-21 -17h2m2 5h2m8 -13h2m-6 32h2m12 1h2m-7 -34h2m4 34h2m-10 -10h2m-5 -19h2m-10 25h2m-5 -24h2m20 14h2m-24 -2h2m4 -9h2m-2 -5h2m11 -2h2m-10 25h2m-13 -10h2m4 -18h2m-10 12h2m23 -13h2m-25 10h2m7 1h2m-9 7h2m15 12h2m-4 -17h2m-12 -5h2m-4 7h2m1 -4h2m-6 -5h2m-7 15h2m1 13h2m4 1h2m10 -13h2m1 12h2m-6 -2h2m-18 -10h2m1 -9h2m-8 22h2m14 -25h2m-15 -12h2m1 9h2m-4 9h2m15 4h2m-15 6h2m-1 -25h2m0 4h2m3 18h2m-11 -12h2m-10 -13h2m15 6h2m-9 5h2m-13 -1h2m20 2h2m-6 10h2m-8 -10h2m-3 -3h2m-1 24h2m-11 -24h2m16 11h2m-1 17h2m-16 -12h2m4 -14h2m-13 16h2m17 -5h2m-6 -22h2m-3 12h2m-16 -9h2m16 29h2m-11 5h2m9 -14h2m-21 -9h2m5 21h2m-2 -18h2m-13 -1h2m19 8h2m-20 3h2m19 4h2m-17 -26h2m-3 20h2m13 -21h2m-3 -2h2m-22 10h2m-1 -10h2m3 8h2m6 27h2m4 -9h2m-8 3h2m-18 -10h2m5 6h2m10 -18h2m-18 -7h2m3 28h2m-6 -4h2m-7 -17h2m1 9h2m2 8h2m16 -6h2m-16 -10h2m-7 -10h2m9 31h2m0 -22h2m-2 10h2m4 6h2m-6 -15h2m1 7h2m-1 3h2m-2 1h2m-14 5h2m-1 -9h2m6 -11h2m-6 25h2m-10 -13h2m12 16h2m-7 -34h2m-19 16h2m4 10h2m0 9h2m-1 -11h2m-10 11h2m9 -33h2m-4 27h2m-2 -5h2m5 7h2m-5 -28h2m3 -1h2m-10 16h2m-6 -6h2m1 23h2m4 -28h2m2 29h2m-11 0h2m-8 -5h2m7 -2h2m5 -18h2m-24 8h2m-1 17h2m0 -3h2m-3 -6h2m4 -21h2m10 14h2m-10 11h2m-3 5h2m1 -33h2m-1 23h2m-5 -7h2m4 -5h2m5 -10h2m-7 -3h2m-2 11h2m-18 19h2m4 -25h2m6 31h2m-14 -4h2m-5 -30h2m1 4h2m1 1h2m6 9h2m-15 -6h2m-3 1h2m14 17h2m-11 3h2m2 2h2m-8 -3h2m0 -30h2m-13 18h2m0 9h2m0 -14h2m-3 17h2m12 -21h2m-11 17h2m4 0h2m-13 -11h2m11 16h2m-1 -5h2m-17 4h2m19 4h2m-25 -17h2m14 6h2m4 6h2m-10 8h2m-12 -22h2m8 -16h2m4 33h2m-4 4h2m-3 -31h2m-18 31h2m19 -31h2m0 22h2m-24 -21h2m-4 -3h2m3 22h2m6 4h2m10 6h2m-9 -6h2m4 -5h2m-13 -8h2m0 -8h2m-13 12h2m10 -13h2m8 12h2m-9 0h2m-12 12h2m-5 -18h2m18 -14h2m-9 13h2m-1 15h2m-10 -23h2m3 11h2m-18 12h2m11 3h2m6 -17h2m-20 14h2m-2 -6h2m7 -27h2m-13 -8h2m8 10h2m-10 -7h2m9 -3h2m8 -5h2m-25 6h2m3 2h2m-8 5h2m14 -8h2m-13 8h2m6 -14h2m-10 6h2m11 -5h2m-19 8h2m-4 2h2m18 4h2m-17 2h2m19 -4h2m-17 3h2m-12 -7h2m-2 -1h2m5 5h2m1 -13h2m-5 13h2m-6 0h2m12 0h2m-14 -1h2m13 6h2m-16 -5h2m17 -10h2m-27 6h2m17 -6h2m-15 16h2m3 -16h2m12 13h2m-24 -1h2m20 -9h2m-28 0h2m3 13h2m18 -13h2m-10 11h2m-19 -11h2m6 -4h2m11 10h2m-7 -3h2m-2 9h2m4 -2h2m-7 -12h2m7 3h2m-9 -4h2m-21 9h2m-1 -12h2m12 18h2m-6 -18h2m-13 15h2m7 1h2m-4 -4h2m17 -10h2m-23 -2h2" stroke="#111" stroke-width="1.8" fill="none"/>
<line x1="1434.4" y1="1094" x2="1434.4" y2="923.4" stroke="#000" stroke-width="3"/>
<text x="1434.4" y="1145.3" font-size="21.5" text-anchor="middle" font-weight="normal" font-style="normal" >6</text>
<line x1="1452.0" y1="1096.3" x2="1480.0" y2="1096.3" stroke="#000" stroke-width="2"/>
<path d="M1456 1067h2m7 7h2m6 4h2m-1 3h2m-7 -16h2m-16 21h2m21 -23h2m-10 18h2m3 -16h2m-20 19h2m12 2h2m-2 -9h2m-4 6h2m-7 -3h2m12 -10h2m-7 12h2m-18 4h2m-5 -19h2m20 -5h2m-7 19h2m5 -13h2m-18 5h2m-5 -12h2m1 -1h2m11 16h2m-20 -11h2m20 3h2m-14 8h2m2 -8h2m-11 8h2m5 7h2m2 -5h2m-3 9h2m1 -4h2m-15 -20h2m-6 22h2m18 -3h2m-27 -19h2m12 25h2m-2 -14h2m6 -12h2m1 22h2m-15 -10h2m-9 9h2m0 -1h2m-3 -11h2m-6 9h2m20 6h2m-15 -11h2m13 9h2m-8 4h2m-15 -1h2m2 -14h2m1 -6h2m-15 0h2m3 12h2m2 -6h2m-10 12h2m-4 1h2m23 -18h2m-23 2h2m6 -1h2m7 10h2m-16 1h2m-4 7h2m5 -27h2m-2 6h2m-5 14h2m-4 -8h2m-9 0h2m0 4h2m9 -3h2m8 -13h2m-14 1h2m9 18h2m-15 5h2m10 2h2m1 -21h2m-4 17h2m-10 -15h2m5 -19h2m2 -1h2m-18 -10h2m0 8h2m9 -8h2m-15 11h2m6 2h2m-3 -8h2m-1 4h2m-7 11h2m5 -15h2m-16 -3h2m18 -2h2m-6 6h2m-19 10h2m7 0h2m-7 -16h2m11 -1h2m-23 21h2m10 -22h2m8 5h2m-25 11h2m23 -13h2m-9 11h2m5 8h2m-1 -13h2m-18 -2h2m2 12h2m-2 -16h2m-10 7h2" stroke="#111" stroke-width="1.8" fill="none"/>
<line x1="1466.0" y1="1094" x2="1466.0" y2="1017.4" stroke="#000" stroke-width="3"/>
<text x="1466.0" y="1145.3" font-size="21.5" text-anchor="middle" font-weight="normal" font-style="normal" >7</text>
<line x1="1483.5" y1="1096.3" x2="1511.5" y2="1096.3" stroke="#000" stroke-width="2"/>
<path d="M1490 1065h2m4 -16h2m-7 -65h2m11 73h2m-16 -73h2m3 66h2m-11 24h2m2 -50h2m13 32h2m-8 -25h2m3 -18h2m4 -27h2m-8 83h2m-19 9h2m-2 -24h2m1 11h2m13 -68h2m-9 32h2m-1 -25h2m-5 68h2m-2 -12h2m-9 -80h2m8 67h2m-9 -34h2m3 27h2m-14 -55h2m12 4h2m-7 -2h2m-12 27h2m15 44h2m-5 -11h2m-1 -67h2m-2 32h2m9 43h2m-28 -14h2m9 -4h2m-2 22h2m12 14h2m-20 -46h2m7 -3h2m3 17h2m1 -7h2m-8 -32h2m-1 62h2m0 -84h2m-16 96h2m8 4h2m-1 -90h2m-6 22h2m-2 -6h2m-12 -7h2m11 33h2m-4 41h2m-15 -86h2m15 18h2m5 -16h2m-12 26h2m-7 17h2m-4 -13h2m3 -20h2" stroke="#111" stroke-width="1.8" fill="none"/>
<line x1="1497.5" y1="1094" x2="1497.5" y2="943.9" stroke="#000" stroke-width="3"/>
<text x="1497.5" y="1145.3" font-size="21.5" text-anchor="middle" font-weight="normal" font-style="normal" >8</text>
<line x1="1515.1" y1="1096.3" x2="1543.1" y2="1096.3" stroke="#000" stroke-width="2"/>
<path d="M1529 1075h2m7 -9h2m-6 -3h2m-21 18h2m0 3h2m-2 -11h2m17 1h2m1 1h2m-13 2h2m-11 3h2m-3 -10h2m3 13h2m17 -17h2m-22 15h2m7 -22h2m9 5h2m-22 4h2m15 -10h2m0 30h2m-22 -20h2m0 6h2m1 -10h2m11 21h2m-21 -7h2m-3 -11h2m6 3h2m12 14h2m-26 -17h2m14 -6h2m1 2h2m-14 20h2m11 0h2m-8 -24h2m8 9h2m-16 4h2m13 7h2m-24 5h2m-6 -22h2m11 20h2m-5 -1h2m5 6h2m-12 -1h2m9 -1h2m-6 -4h2m-2 6h2m8 -9h2m-19 4h2m-8 -20h2m9 11h2m-10 6h2m-6 -6h2m5 15h2m-3 -12h2m2 -10h2m3 3h2m7 -3h2m-8 5h2m-19 0h2m10 -8h2m4 24h2m4 -14h2m-15 2h2m10 -14h2m-15 4h2m6 10h2m-10 -14h2m1 6h2m-11 4h2m-1 8h2m-8 -21h2m3 -17h2m10 -45h2m-17 38h2m15 -27h2m-3 2h2m-20 3h2m21 -15h2m-16 48h2m14 -62h2m-5 13h2m-1 50h2m-20 -51h2m14 -7h2m0 0h2m-21 63h2m-2 -54h2m14 34h2m-12 -36h2m6 31h2m-4 -44h2m-12 49h2m8 12h2m-13 -40h2m8 -2h2m-4 13h2m-15 12h2m15 -9h2m6 -27h2m-24 18h2m5 -16h2m13 -7h2m-26 66h2m14 3h2m-3 -34h2m-3 13h2m-12 17h2m-2 -48h2m10 47h2m5 -66h2m-8 8h2m-17 66h2m8 -44h2m-15 -19h2m-1 16h2m-1 -10h2m16 21h2m-1 -38h2m-16 15h2m5 11h2m-1 11h2m-8 4h2m6 -24h2m5 -16h2m-24 13h2m9 22h2m9 -21h2m-27 45h2m24 -51h2m-12 40h2m-8 -4h2" stroke="#111" stroke-width="1.8" fill="none"/>
<line x1="1529.1" y1="1094" x2="1529.1" y2="976.1" stroke="#000" stroke-width="3"/>
<text x="1529.1" y="1145.3" font-size="21.5" text-anchor="middle" font-weight="normal" font-style="normal" >9</text>
<line x1="1546.7" y1="1096.3" x2="1574.7" y2="1096.3" stroke="#000" stroke-width="2"/>
<polygon points="1550.7,1096.2 1550.7,1087.9 1553.7,1080.3 1556.7,1072.8 1556.2,1057.6 1555.7,1034.9 1556.7,1008.3 1558.2,989.4 1560.2,974.2 1561.2,974.2 1563.2,989.4 1564.7,1008.3 1565.7,1034.9 1565.2,1057.6 1564.7,1072.8 1567.7,1080.3 1570.7,1087.9 1570.7,1096.2" fill="#ff8c1e" stroke="#000" stroke-width="1.6" stroke-linejoin="round"/>
<rect x="1550.7" y="1008.3" width="20.0" height="56.9" fill="#333" opacity="0.55"/>
<path d="M1565 1029h2m-10 -18h2m0 28h2m0 -34h2m10 5h2m-7 61h2m-10 -6h2m-13 -35h2m14 3h2m-6 16h2m-12 -3h2m19 9h2m-13 -26h2m6 -11h2m-13 3h2m-5 15h2m15 32h2m-17 -1h2m-4 -52h2m-10 -4h2m10 52h2m7 -34h2m-1 -17h2m2 48h2m-16 10h2m-14 -21h2m25 10h2m-20 -52h2m9 -2h2m-6 65h2m-11 -11h2m-4 -35h2m-7 25h2m6 2h2m-8 14h2m-2 -20h2m3 -36h2m-8 39h2m2 -31h2m3 51h2m12 -58h2m-11 31h2m7 27h2m-20 -47h2m-4 -6h2m1 25h2m-3 -6h2m-1 2h2m-6 36h2m7 -53h2m4 19h2m-15 17h2m13 -10h2m-10 -22h2m-7 8h2m8 -23h2m-9 10h2m7 15h2m-1 3h2m-1 18h2m-9 -3h2m-5 12h2m-12 -51h2m11 48h2m2 -32h2m-1 -2h2m-17 6h2m1 4h2m4 36h2m-3 -66h2m3 15h2m-4 49h2m0 -65h2m5 47h2m-1 -25h2m-12 -12h2m-3 26h2m7 10h2m1 13h2m-16 -14h2m-6 -19h2m-9 0h2m0 -18h2m18 0h2m-5 6h2m-7 41h2m3 9h2m-17 -50h2m-5 24h2m15 -16h2m-5 42h2m-13 -56h2m0 -2h2m-7 61h2m1 -51h2m4 -7h2m9 53h2m-21 -17h2m3 22h2m3 -31h2m-13 -8h2m20 40h2m-7 -29h2m-5 -32h2m-12 10h2m6 36h2m10 -53h2m-11 52h2m-10 -4h2m16 1h2m-17 -7h2m9 20h2m-3 0h2m-18 -11h2m1 14h2m-2 -62h2m9 42h2m-2 7h2m1 -50h2m-4 63h2m-2 -51h2m-20 14h2m10 -6h2m3 13h2m-12 20h2m12 -30h2m-2 -25h2m-15 50h2m-1 -18h2m-4 30h2m-2 -58h2m12 4h2m-2 25h2m-26 -32h2m23 26h2m-18 20h2m13 10h2m-10 -28h2m6 -2h2m-11 5h2m-8 5h2m6 -35h2m-17 32h2m-3 -10h2m2 12h2m-1 5h2m4 11h2m-8 8h2m-6 -41h2m7 -9h2m8 43h2m-13 -11h2m-7 26h2m6 -64h2m1 34h2m-14 24h2m11 -53h2m4 37h2m-13 2h2m9 -34h2m1 35h2m-21 4h2m6 -20h2m-5 -2h2m-8 -16h2m10 23h2m-13 -31h2m3 37h2m0 5h2m-10 -45h2m16 7h2m-17 23h2m4 26h2m-7 -50h2m10 40h2m-9 7h2m-4 -42h2m1 33h2m0 -3h2m1 -32h2m-20 2h2m13 34h2m4 -25h2m-25 14h2m-2 25h2m5 -32h2m14 34h2m-17 -2h2m7 -48h2m6 38h2m-6 -16h2m-7 2h2m-18 -36h2m13 26h2m-2 -27h2m-15 48h2m-1 -20h2m20 14h2m-23 11h2m6 -33h2m-6 -16h2m0 10h2m12 -16h2m-17 55h2m0 -20h2m4 -8h2m-3 31h2m-8 -46h2m-6 37h2m-6 -23h2m3 27h2m10 -32h2m-18 10h2m-5 13h2m9 -44h2m-8 11h2m-4 38h2m12 -8h2m-12 -11h2m-3 29h2m-5 -44h2m16 -15h2m-24 56h2m-1 -44h2m10 10h2m0 18h2m3 27h2m-21 -57h2m19 39h2m-20 5h2m20 -41h2m-23 -13h2m-7 59h2m7 1h2m9 -58h2m-12 53h2m-8 -25h2m-1 34h2m-6 -17h2m23 -46h2m-17 35h2m9 -6h2m1 10h2m-20 -38h2m17 26h2m-2 19h2m-10 -13h2m-10 27h2m-7 -38h2m3 -21h2m9 27h2m-4 17h2m0 -28h2m-14 28h2m1 -18h2m1 8h2m-13 -20h2m-3 37h2m0 -21h2m-2 -28h2m13 33h2m-20 11h2m15 4h2m4 -8h2m-19 13h2m-1 -23h2m-9 14h2m16 -15h2m4 10h2m-19 -18h2m-4 18h2m3 18h2m7 -30h2m-22 31h2m6 -56h2m12 12h2m-21 31h2m2 -34h2m-10 18h2m10 -5h2m-9 25h2m17 -48h2m-18 42h2m-1 -2h2m15 -3h2m-18 25h2m4 -37h2m1 15h2m-17 -6h2m-1 -33h2m18 14h2m-7 36h2m-13 -41h2m-8 -10h2m21 27h2m-5 0h2m-8 8h2m0 -5h2m-2 -17h2m-16 -2h2m14 7h2m-18 -6h2m-7 13h2m15 -28h2m-3 49h2m-3 -5h2m6 -32h2m-8 -13h2m-5 30h2m-15 26h2m23 -50h2m-23 4h2m-2 14h2m14 21h2m-23 -42h2m17 11h2m-17 5h2m14 24h2m-18 10h2m-2 -19h2m-2 15h2m-4 3h2m5 -13h2m-6 18h2m-5 -18h2m-3 7h2m0 -30h2m-2 19h2m21 -15h2m-26 -1h2m0 34h2m-4 -47h2m16 9h2m-11 -5h2m-4 28h2m2 -16h2m-3 -3h2m2 -10h2m-7 39h2m11 3h2m-15 13h2m3 -27h2m0 23h2m-13 -2h2m-7 -13h2m-3 -46h2m15 6h2m-4 -2h2m-6 26h2m-5 0h2m5 26h2m8 -42h2m-12 -8h2m-3 48h2m6 3h2m-15 -41h2m12 30h2m-24 -8h2m7 -16h2m10 38h2m-20 -7h2m-1 -21h2m4 13h2m2 -41h2m4 34h2m0 -33h2m-5 61h2m-4 -51h2m-4 3h2m6 36h2m-21 -40h2m-3 17h2m10 21h2m-19 6h2m14 -32h2m-18 -20h2m1 41h2m16 -42h2m-11 52h2m2 -36h2m-4 14h2m-15 18h2m10 4h2m9 1h2m-26 -10h2m16 -24h2m-8 -7h2m4 -12h2m1 -1h2m-12 45h2m4 5h2m-7 -13h2m-10 2h2m13 -15h2m-18 16h2m12 -18h2m3 4h2m-4 -26h2m3 23h2m-13 2h2m-8 25h2m-3 -11h2m-4 6h2m8 12h2m4 -23h2m2 -20h2m-24 -12h2m20 17h2m-24 39h2m0 4h2m16 -63h2m-25 55h2m21 2h2m-10 -14h2m-6 -3h2m12 -19h2m-16 39h2m8 -44h2m-16 6h2m-3 41h2m16 -83h2m-10 -1h2m2 6h2m-9 -18h2m-1 10h2m8 12h2m-15 5h2m2 -25h2m-12 16h2m13 0h2m-6 -9h2m-8 -8h2m4 20h2m1 -20h2m1 3h2m-7 25h2m-1 -7h2m1 -16h2m-13 18h2m10 1h2m-9 -17h2m3 5h2m-17 3h2m14 -15h2m-8 14h2m-11 8h2m10 5h2m-13 -23h2m2 19h2m7 -3h2m-15 1h2m14 -5h2m-22 -9h2m-4 17h2m14 -16h2m-12 15h2m-8 -20h2m19 3h2m-16 3h2m15 -3h2m-11 6h2m7 -2h2m-9 -11h2m-17 15h2m6 0h2m0 -6h2m-10 13h2m8 -15h2m-12 -1h2m-4 10h2m4 8h2m14 -3h2m-13 5h2m8 1h2m-3 -1h2m-16 -6h2m6 7h2m-1 0h2m-13 -14h2m10 -3h2m3 18h2m-5 -25h2m-14 -1h2m0 24h2m5 -24h2m0 24h2m-10 -21h2m9 5h2m-4 7h2m-2 -5h2m-19 -8h2m10 20h2m-10 -5h2m2 11h2m-3 -31h2m-3 24h2m-12 -12h2m12 13h2m2 -6h2m-19 8h2m17 -24h2m-6 8h2m-14 14h2m12 -8h2m-7 0h2m10 11h2m-17 -5h2m13 -17h2m-15 13h2m-1 -14h2m-9 22h2m-8 -7h2m22 9h2m-4 -24h2m-15 16h2m-10 -19h2m7 15h2m6 -9h2m6 -8h2m-4 12h2m-21 0h2m0 3h2m12 -12h2m-6 24h2m2 -16h2m-8 15h2m-6 1h2m-4 -7h2m3 -2h2m-2 9h2m3 1h2m-8 1h2m6 1h2m-3 -28h2m-10 15h2m-12 -9h2m9 12h2m-3 5h2m-11 -5h2m6 -7h2m1 14h2m-1 -3h2m2 -3h2m-21 -9h2m18 8h2m-1 0h2m2 -16h2m-16 4h2m-11 8h2m3 6h2m12 -16h2m-3 5h2m-5 6h2m-19 3h2m21 -5h2m-1 0h2m-19 4h2m2 7h2m-10 -5h2m20 0h2m-16 -14h2m0 16h2m1 -3h2m-2 2h2m-11 -15h2m6 17h2m6 -11h2m-13 -7h2m7 10h2m-20 -3h2m-2 6h2m16 -9h2m-22 1h2m-3 7h2m18 -8h2m-3 14h2m-17 5h2m0 -27h2m17 9h2m-15 -4h2m-3 11h2m8 8h2m-3 -11h2m-16 1h2m-5 7h2m8 -14h2m11 10h2m-19 0h2m-4 5h2m5 -1h2m-4 -5h2m-5 -13h2m3 7h2m0 -10h2m-9 0h2m-6 23h2m-4 -19h2m18 16h2m-6 7h2m-15 -10h2m15 -17h2m-22 22h2m-3 -10h2m5 -12h2m-10 19h2m12 -5h2m2 11h2m1 -12h2m-1 -12h2m-16 14h2m0 -6h2m-7 6h2m-6 9h2m20 -15h2m-19 -10h2m-7 23h2m18 3h2m-14 -7h2m7 5h2m4 0h2m-2 85h2m-15 -5h2m-8 -1h2m6 -4h2m7 4h2m-3 -1h2m-16 6h2m4 -1h2m8 -1h2m-16 1h2m-4 -2h2m3 -4h2m-6 -1h2m11 0h2m1 5h2m-21 -6h2m15 4h2m-2 4h2m-3 -1h2m1 -1h2m-17 -6h2m4 10h2m-10 -6h2m1 -4h2m-7 4h2m6 -2h2m9 6h2m-24 -1h2m6 -5h2m-2 -1h2m6 3h2m-17 -4h2m7 9h2m6 -1h2m-14 -2h2m-4 3h2m-2 -3h2m-2 2h2m-6 -6h2m12 2h2m3 -104h2m-18 -8h2m-6 8h2m-3 -10h2m13 3h2m-6 0h2m-2 2h2m-12 -3h2m9 5h2m1 -2h2m8 1h2m-3 2h2m-5 2h2m-17 -1h2m15 -4h2m-13 4h2m-2 -8h2m12 1h2m-23 -1h2m7 6h2m9 -5h2m-7 -1h2m-4 2h2m0 -3h2m-17 8h2m18 -2h2m-6 1h2m-5 0h2m5 -7h2m-12 4h2" stroke="#111" stroke-width="1.8" fill="none"/>
<line x1="1560.7" y1="1094" x2="1560.7" y2="918.9" stroke="#000" stroke-width="3"/>
<text x="1560.7" y="1145.3" font-size="21.5" text-anchor="middle" font-weight="normal" font-style="normal" >10</text>
<line x1="1578.3" y1="1096.3" x2="1606.3" y2="1096.3" stroke="#000" stroke-width="2"/>
<polygon points="1581.3,1095.5 1581.3,1089.8 1584.3,1084.1 1589.3,1078.4 1591.3,1072.8 1593.3,1072.8 1595.3,1078.4 1600.3,1084.1 1603.3,1089.8 1603.3,1095.5" fill="#2020d0" stroke="#000" stroke-width="1.6" stroke-linejoin="round"/>
<rect x="1583.3" y="1053.8" width="18.0" height="26.5" fill="#555" opacity="1.00"/>
<path d="M1601 1076h2m-21 -1h2m8 -24h2m-11 15h2m12 -17h2m-10 2h2m1 14h2m-15 14h2m7 -18h2m9 -9h2m-7 6h2m-2 16h2m-11 -16h2m-7 7h2m8 -7h2m5 16h2m-15 -21h2m8 29h2m-15 -34h2m12 5h2m-18 4h2m-2 11h2m24 -20h2m-13 9h2m-14 -3h2m5 -7h2m-12 20h2m22 12h2m-13 -4h2m4 -19h2m-3 10h2m-15 -14h2m8 16h2m-2 -11h2m-11 24h2m15 -12h2m-18 -9h2m-2 2h2m9 -15h2m-10 4h2m9 27h2m-1 -2h2m-1 -21h2m-8 7h2m-12 19h2m-8 -3h2m-2 -15h2m1 1h2m15 11h2m-7 -28h2m-14 13h2m17 7h2m-15 13h2m-7 -7h2m12 4h2m5 -7h2m-10 1h2m0 -2h2m4 11h2m-9 -7h2m-21 -2h2m1 -8h2m0 -9h2m7 26h2m1 -19h2m-18 -4h2m18 -7h2m-24 5h2m4 17h2m0 -22h2m-4 18h2m-4 -12h2m15 9h2m-17 4h2m-3 -5h2m15 -8h2m-22 18h2m-3 -5h2m23 -17h2m-14 9h2m-6 0h2m5 2h2m-11 -11h2m2 25h2m-5 3h2m12 -16h2m2 -3h2m-2 -7h2m-20 -4h2m8 26h2m-10 -20h2m5 -3h2m-20 0h2m22 -1h2m-3 22h2m-2 -1h2m-2 -21h2m-19 27h2m-1 -17h2m17 7h2m-23 -20h2m14 27h2m-22 -14h2m2 -14h2m17 31h2m-23 -27h2m21 9h2m-3 -15h2m-1 6h2m-9 16h2m1 -17h2m-1 10h2m0 -6h2m-3 -5h2m-17 26h2m-11 -12h2m22 8h2m-12 -25h2m-13 17h2m20 -1h2m-9 8h2m-7 -18h2m5 14h2m-13 9h2m-9 -2h2m19 -1h2m-14 -18h2m1 23h2m1 -6h2m-9 -21h2m11 19h2m-6 -19h2m4 19h2m0 10h2m-27 -24h2m18 20h2m-21 -27h2m18 11h2m0 -2h2m-22 -7h2m17 28h2m-2 -6h2m-15 -25h2m-7 7h2m-4 9h2m-2 -4h2m-5 7h2m14 -20h2m-13 23h2m6 -16h2m-15 8h2m10 7h2m-9 -17h2m7 28h2m-16 -6h2m10 4h2m-8 -11h2m-7 -10h2m10 15h2m10 1h2m-15 -3h2m-1 -22h2m-3 26h2m8 -27h2m-23 24h2m4 -22h2m2 30h2m-4 -24h2m14 -2h2m-4 5h2m-23 3h2m2 -3h2m16 -5h2m-8 12h2m-5 15h2m7 -22h2m-21 22h2m9 -25h2m8 11h2m-5 14h2m-19 -2h2m-7 -19h2m5 -4h2m5 -1h2m4 19h2m-2 -24h2m-12 30h2m-2 1h2m1 -8h2m3 -21h2m-20 3h2m8 11h2m10 -9h2m-2 26h2m-25 -12h2m12 -10h2m5 -12h2m-3 17h2m-9 -15h2m2 21h2m0 -19h2m-17 8h2m9 -4h2m-5 0h2m-8 25h2m-5 -20h2m5 10h2m-5 6h2m15 -11h2m-24 -10h2m17 12h2m-5 14h2m-14 -26h2m0 26h2m7 -12h2m-15 9h2m-6 -23h2m7 5h2m-1 9h2m9 0h2m-8 -45h2m5 6h2m-12 13h2m6 2h2m-19 -20h2m11 11h2m-17 -3h2m5 3h2m13 -4h2m-11 11h2m-6 -8h2m-1 6h2m4 2h2m4 -4h2m-20 1h2m12 1h2m2 -15h2m-8 7h2m-5 4h2m7 6h2m-13 -7h2m-1 7h2m11 -2h2m-19 3h2m-6 -1h2m-6 -9h2m12 -3h2m-8 -3h2m-3 3h2m16 -1h2m-10 11h2m-14 -14h2m5 17h2m1 -10h2m-10 -6h2m9 -1h2m-15 13h2m14 -5h2m-10 -10h2m-3 8h2m-15 -5h2m11 1h2m7 3h2m-11 11h2m-9 -19h2m-1 7h2m8 -3h2m-16 14h2m6 -5h2m12 -10h2m-25 6h2m21 2h2m-16 8h2m4 -4h2m-19 1h2m11 1h2m7 -5h2m-7 4h2m-19 -16h2m3 10h2m-1 2h2m-2 -8h2m-3 -5h2m10 16h2m-15 3h2m11 -4h2m-4 -11h2m-3 12h2m-7 -16h2m-11 20h2m23 -8h2m-9 -11h2m-11 16h2m0 0h2m-13 -12h2m3 5h2m14 -2h2m-14 -3h2m-11 -3h2m1 14h2" stroke="#111" stroke-width="1.8" fill="none"/>
<line x1="1592.3" y1="1094" x2="1592.3" y2="989.4" stroke="#000" stroke-width="3"/>
<text x="1592.3" y="1145.3" font-size="21.5" text-anchor="middle" font-weight="normal" font-style="normal" >11</text>
<line x1="1609.9" y1="1096.3" x2="1637.9" y2="1096.3" stroke="#000" stroke-width="2"/>
<polygon points="1613.9,1095.5 1613.9,1087.9 1616.9,1080.3 1620.9,1069.0 1622.9,1057.6 1624.9,1057.6 1626.9,1069.0 1630.9,1080.3 1633.9,1087.9 1633.9,1095.5" fill="#6ad428" stroke="#000" stroke-width="1.6" stroke-linejoin="round"/>
<path d="M1623 1048h2m-14 3h2m17 21h2m3 -22h2m-11 8h2m6 1h2m-13 5h2m-5 -20h2m-9 14h2m8 -22h2m-11 21h2m3 2h2m-1 10h2m5 -7h2m8 11h2m-29 -32h2m18 17h2m2 17h2m-24 -39h2m22 27h2m-8 2h2m-22 -22h2m7 14h2m-9 -15h2m-3 7h2m10 2h2m12 -13h2m-10 4h2m-5 19h2m2 -2h2m-4 -23h2m-5 34h2m7 -16h2m-15 9h2m3 -15h2m-2 8h2m-16 11h2m10 -9h2m-5 -12h2m13 17h2m-22 -24h2m1 2h2m10 33h2m2 -19h2m-26 3h2m16 2h2m-3 7h2m-2 0h2m-1 9h2m-11 -8h2m-9 -32h2m21 37h2m-13 -30h2m-5 12h2m8 -5h2m-14 21h2m-8 -15h2m11 16h2m3 -36h2m-15 27h2m11 -28h2m-22 17h2m16 19h2m-4 -10h2m-2 9h2m-17 -15h2m2 16h2m5 -11h2m-11 -23h2m7 31h2m-16 -1h2m9 -12h2m1 -6h2m-4 24h2m-12 0h2m20 -32h2m-6 -4h2m-9 14h2m-7 4h2m2 -15h2m-4 -2h2m5 28h2m-6 -19h2m-13 20h2m-1 -17h2m7 -9h2m-7 5h2m-3 -7h2m-6 -4h2m4 11h2m6 -9h2m-3 9h2m-9 -1h2m8 16h2m-12 13h2m-5 -6h2m-6 -2h2m8 -13h2m13 -7h2m-10 6h2m6 -13h2m-5 19h2m-13 1h2m6 7h2m-14 0h2m-10 -8h2m-2 -16h2m22 29h2m-26 -27h2m9 23h2m-7 9h2m18 -14h2m-9 12h2m-4 -6h2m1 8h2m-20 -38h2m19 -2h2m-12 28h2m-10 12h2m2 -2h2m-9 -8h2m1 8h2m-3 0h2m5 -32h2m10 31h2m-19 -4h2m14 6h2m-8 -17h2m5 -3h2m-4 -16h2m-4 15h2m2 14h2m-24 -13h2m22 8h2m-24 1h2m6 -29h2m-3 18h2m-3 13h2m2 -28h2m1 9h2m6 19h2m-22 -28h2m13 37h2m2 -5h2m-11 -14h2m-1 9h2m-17 -1h2m21 -10h2m-13 -5h2m-13 -8h2m7 -21h2m-10 13h2m9 -53h2m-10 10h2m18 -17h2m-22 39h2m1 -1h2m8 -2h2m4 -26h2m-4 10h2m-22 -2h2m2 32h2m-1 5h2m11 -39h2m-7 15h2m1 -13h2m-10 15h2m4 -7h2m-6 27h2m6 -25h2m4 14h2m-11 -29h2m-15 15h2m2 11h2m-8 -10h2m23 31h2m-21 1h2m17 -27h2m-21 5h2m7 -10h2m-1 -27h2m4 55h2m-23 -57h2m20 6h2m-2 -2h2m-10 37h2m3 -32h2m0 12h2m-16 -4h2m-1 -20h2m12 58h2m-6 -18h2m-2 -36h2m-14 14h2m-1 12h2m-4 -20h2m11 25h2m-2 22h2m-5 -30h2m-14 -9h2m9 -14h2m-16 37h2m-4 10h2m1 -6h2m-5 18h2m3 -5h2m0 0h2m-6 0h2m4 -33h2m-6 -7h2m-1 2h2m-2 16h2m18 23h2m-29 -12h2m-1 -24h2m3 35h2m2 -7h2m-4 -9h2m0 -30h2m7 -9h2m-9 2h2m2 37h2m-16 -45h2m18 21h2m-21 9h2m4 -30h2m2 5h2m-1 55h2m-8 -12h2m14 -41h2m-8 22h2m-8 -6h2m2 -8h2m4 -15h2m-23 7h2m1 29h2m-4 11h2m8 -38h2m8 21h2m-1 -15h2m-22 50h2m11 -30h2m-9 -34h2m-5 57h2m12 1h2m-15 -28h2m1 -15h2m-10 38h2m18 -39h2m2 4h2m-28 -17h2m11 57h2m-6 -26h2m-4 20h2m4 -52h2m5 38h2m-1 -21h2m-15 -4h2m3 37h2m-8 -34h2m-6 -11h2m5 46h2m-9 4h2m-5 -9h2m13 -20h2m3 31h2m-7 -18h2m-4 -32h2m-6 52h2m13 -3h2m-24 -5h2m5 -15h2m-11 -23h2m6 39h2m4 7h2m9 -53h2m-27 21h2m2 -4h2m11 7h2m-4 -28h2m-15 48h2m5 -34h2m4 30h2m-1 -25h2m4 45h2m-1 -44h2m-7 -1h2m-11 27h2m-3 -45h2m-3 2h2m17 31h2m-14 -13h2m-5 43h2m2 -8h2m-10 -58h2m16 3h2m-3 52h2m-22 -37h2m10 39h2m-10 -50h2m7 7h2m0 44h2m-17 -11h2m-5 -11h2m-2 -29h2m23 -7h2m-12 6h2m-17 -7h2m10 43h2m3 14h2m-8 -45h2m-5 52h2m16 -55h2m-29 33h2m17 -33h2m-8 56h2m12 -22h2m-4 -14h2m-18 10h2m-9 -7h2m4 8h2m12 16h2m-5 -27h2m-15 -2h2m-3 22h2m1 -24h2m12 34h2m2 0h2m-10 -14h2m-14 -44h2m1 -31h2m1 11h2m4 0h2m-10 -8h2m12 3h2m-13 6h2m-10 2h2m0 -5h2m16 8h2m-18 3h2m5 -13h2m-15 -6h2m0 20h2m4 4h2m9 -22h2m-5 20h2m-9 0h2m-8 2h2m11 -23h2m3 11h2m-18 13h2m-7 -19h2m6 7h2m-6 10h2m6 -3h2m-2 -3h2m2 0h2m-5 -18h2m-6 1h2m10 26h2m-24 -4h2m-2 -19h2m7 8h2m-1 16h2m5 -2h2m-10 -25h2m-3 10h2m14 -2h2m-12 13h2m7 7h2m-16 -1h2m2 -11h2m-12 4h2m15 -9h2m-13 -15h2m-4 24h2m12 5h2m-21 -24h2m7 -3h2m2 10h2" stroke="#111" stroke-width="1.8" fill="none"/>
<line x1="1623.9" y1="1094" x2="1623.9" y2="882.1" stroke="#000" stroke-width="3"/>
<text x="1623.9" y="1145.3" font-size="21.5" text-anchor="middle" font-weight="normal" font-style="normal" >12</text>
<line x1="1641.4" y1="1096.3" x2="1669.4" y2="1096.3" stroke="#000" stroke-width="2"/>
<polygon points="1645.4,1096.2 1645.4,1089.8 1648.4,1084.1 1652.4,1078.4 1654.4,1072.8 1656.4,1072.8 1658.4,1078.4 1662.4,1084.1 1665.4,1089.8 1665.4,1096.2" fill="#e11e1e" stroke="#000" stroke-width="1.6" stroke-linejoin="round"/>
<rect x="1646.4" y="1057.6" width="18.0" height="26.5" fill="#444" opacity="1.00"/>
<path d="M1647 1055h2m7 13h2m3 -9h2m-16 14h2m4 -16h2m12 -10h2m-1 1h2m-7 2h2m-2 29h2m-19 -27h2m18 25h2m-25 -3h2m6 -6h2m-7 2h2m16 -5h2m-12 14h2m7 -31h2m-8 31h2m-13 -5h2m18 -23h2m-26 -5h2m7 34h2m-9 -12h2m8 -19h2m-13 -2h2m-1 17h2m20 -17h2m-17 29h2m4 -29h2m-1 20h2m4 -3h2m-9 13h2m-17 -28h2m9 21h2m9 -10h2m-22 2h2m0 -14h2m-4 5h2m13 24h2m3 -10h2m-22 11h2m8 0h2m-10 -3h2m14 -10h2m-12 -12h2m-6 15h2m1 -11h2m-8 -1h2m9 17h2m8 7h2m-15 -28h2m-3 25h2m-3 -8h2m-8 -4h2m-3 13h2m1 -3h2m-4 -9h2m10 9h2m-10 -14h2m5 -5h2m7 17h2m-22 -12h2m-4 2h2m20 7h2m-12 -3h2m-4 12h2m11 -28h2m0 14h2m-26 -18h2m2 5h2m4 8h2m-9 13h2m16 -26h2m-3 19h2m-14 -9h2m10 -5h2m0 17h2m-21 -1h2m14 -18h2m-9 23h2m4 2h2m4 2h2m-19 -28h2m1 0h2m10 11h2m-26 20h2m12 -10h2m-11 -15h2m-7 23h2m3 2h2m4 -32h2m-9 23h2m0 -6h2m4 8h2m12 -7h2m-27 0h2m16 12h2m-6 -16h2m-10 -14h2m2 26h2m11 -26h2m-6 13h2m-10 9h2m2 3h2m-3 -19h2m-11 -3h2m11 2h2m-7 -2h2m-6 19h2m-5 -14h2m9 -9h2m-9 -1h2m7 17h2m-20 -16h2m21 3h2m-18 18h2m7 9h2m-11 -11h2m11 7h2m0 6h2m-15 -3h2m-12 -5h2m0 7h2m1 2h2m6 -10h2m-3 -21h2m-4 2h2m-7 1h2m-2 15h2m5 0h2m5 -20h2m-15 19h2m8 -11h2m5 -8h2m-2 31h2m-18 -1h2m-4 -7h2m-3 -3h2m0 -3h2m17 -2h2m-26 17h2m1 -4h2m14 -27h2m3 16h2m-27 15h2m18 -5h2m-14 -22h2m-1 -2h2m8 10h2m-7 -6h2m-13 15h2m19 -3h2m-4 -20h2m-25 10h2m24 8h2m-11 -1h2m-4 -3h2m-4 -2h2m10 8h2m-11 1h2m-11 -19h2m-9 28h2m4 1h2m-8 -13h2m13 -14h2m8 8h2m-16 12h2m11 -22h2m-19 5h2m-9 -3h2m12 26h2m-13 3h2m4 -32h2m12 29h2m-3 -2h2m-17 -7h2m-3 -15h2m-7 -5h2m0 31h2m2 -30h2m0 24h2m5 7h2m4 -13h2m-11 -15h2m10 9h2m-2 8h2m-26 -6h2m17 12h2m-22 -28h2m18 29h2m-19 -23h2m11 15h2m-8 -6h2m13 0h2m-20 -11h2m-2 -3h2m2 22h2m-12 -18h2m18 -2h2m-12 15h2m8 -9h2m-22 5h2m5 5h2m14 0h2m-1 9h2m-8 -7h2m-1 -10h2m-16 -2h2m1 3h2m-8 -11h2m-2 30h2m-3 2h2m12 -13h2m-17 -1h2m-3 11h2m5 -17h2m0 3h2m1 -11h2m7 22h2m-7 -9h2m-17 -15h2m6 20h2m-10 1h2m17 -2h2m1 -21h2m-20 4h2m8 27h2m-17 -31h2m7 18h2m10 -11h2m-2 0h2m-4 26h2m-13 -29h2m12 28h2m-24 -29h2m6 11h2m3 -5h2m7 -5h2m-8 23h2m-16 1h2m7 -18h2m11 -7h2m-14 2h2m-6 24h2m3 4h2m-15 -27h2m-2 -5h2m6 -1h2m14 24h2m-14 -7h2m12 -15h2m-11 30h2m-4 -2h2m3 -10h2m-5 -11h2m-7 -4h2m-13 18h2m16 -4h2m-14 13h2m0 -33h2m8 -29h2m-15 23h2m10 -18h2m-7 16h2m2 -13h2m-9 -4h2m5 -3h2m7 11h2m-15 -1h2m-14 17h2m10 -26h2m-11 16h2m4 6h2m5 -9h2m-14 10h2m-6 -7h2m19 -6h2m-8 -10h2m6 20h2m-5 -11h2m-22 13h2m-3 1h2m11 -12h2m2 -10h2m-19 11h2m10 -12h2m2 26h2m-17 -26h2m12 7h2m-11 20h2m4 -3h2m-6 -11h2m12 -7h2m-14 21h2m2 -7h2m3 -4h2m-17 -1h2m1 -11h2m12 11h2m-20 1h2m-2 -1h2m-5 -4h2m19 11h2m-11 -12h2m-11 -10h2m2 19h2m1 -15h2m-4 22h2m-7 0h2m19 -11h2m-10 2h2m-5 -5h2m-11 -10h2m0 21h2m-1 -7h2m-4 4h2m2 -11h2m-7 -1h2m-1 9h2m0 -15h2m-6 16h2m2 -8h2m1 -3h2m2 2h2m-10 -10h2m-3 2h2m11 9h2m-12 17h2m-6 -12h2m-4 -11h2m1 -29h2m11 -16h2m-6 -4h2m8 10h2m-1 10h2m-16 6h2m-11 -31h2m15 23h2m-21 -7h2m20 11h2m-16 -3h2m10 10h2m-2 10h2m-10 -12h2m7 -29h2m-19 3h2m17 33h2m-18 -22h2m1 9h2m8 -24h2m-2 22h2m-15 -20h2m4 33h2m4 7h2m-10 -15h2m-7 -29h2m15 40h2m-1 6h2m-25 -30h2m4 -10h2m15 22h2m-17 14h2m2 -44h2m-14 18h2m14 -22h2m-17 7h2m3 38h2m-8 -33h2m20 -9h2m-15 30h2" stroke="#111" stroke-width="1.8" fill="none"/>
<line x1="1655.4" y1="1094" x2="1655.4" y2="944.6" stroke="#000" stroke-width="3"/>
<text x="1655.4" y="1145.3" font-size="21.5" text-anchor="middle" font-weight="normal" font-style="normal" >13</text>
<line x1="1673.0" y1="1096.3" x2="1701.0" y2="1096.3" stroke="#000" stroke-width="2"/>
<path d="M1688 1002h2m-5 59h2m13 8h2m-6 -13h2m-12 -40h2m8 18h2m-21 -7h2m-4 5h2m3 11h2m3 -86h2m-13 27h2m18 58h2m3 -40h2m-4 30h2m-11 30h2m-5 -46h2m12 -53h2m-3 42h2m-18 40h2m-2 -91h2m-9 -1h2m13 92h2m-18 -77h2m-2 90h2m11 2h2m-13 -7h2m-1 -58h2m17 -40h2m0 11h2m-3 -3h2m-26 85h2m-2 24h2m10 -35h2m-3 -47h2m-2 83h2m3 -79h2m-7 87h2m-8 -92h2m14 48h2m-15 -65h2m-4 102h2m12 -92h2m-13 83h2m2 -37h2m-14 10h2m12 -6h2m-17 -69h2m9 14h2m9 80h2m-18 26h2m0 -59h2m-9 -39h2m0 30h2m1 66h2m-5 -10h2m22 -36h2m-22 -81h2m2 98h2m7 7h2m-5 -38h2m-13 6h2m-4 39h2m7 -33h2m-4 47h2m6 -27h2m-9 -93h2m1 116h2m-6 -70h2m10 3h2m-15 44h2m-10 -68h2m1 8h2m15 54h2m-13 -65h2m-8 4h2m8 18h2m6 -44h2m-18 55h2m17 46h2m-21 9h2m-8 -61h2m16 -49h2m-9 10h2m-14 26h2m21 -21h2m-7 44h2m-12 36h2m11 -24h2m-18 -74h2m11 2h2m1 106h2m-22 -20h2m0 -15h2m0 -65h2m-5 87h2m10 -32h2m3 34h2m-17 -93h2m-1 88h2m5 -20h2m1 8h2m-2 -73h2m-3 104h2m-3 -55h2m-5 37h2m4 -9h2m-6 -88h2m-12 84h2m3 29h2m8 -56h2m3 23h2m-14 -80h2m2 19h2m-12 81h2m12 -33h2m-2 13h2m-19 -44h2m14 46h2m-16 -58h2m4 21h2" stroke="#111" stroke-width="1.8" fill="none"/>
<line x1="1687.0" y1="1094" x2="1687.0" y2="928.7" stroke="#000" stroke-width="3"/>
<text x="1687.0" y="1145.3" font-size="21.5" text-anchor="middle" font-weight="normal" font-style="normal" >14</text>
<line x1="1704.6" y1="1096.3" x2="1732.6" y2="1096.3" stroke="#000" stroke-width="2"/>
<path d="M1719 972h2m5 -2h2m-15 50h2m-3 30h2m17 19h2m-11 -83h2m6 79h2m-11 -44h2m6 35h2m-15 20h2m12 -44h2m-13 -16h2m2 15h2m3 47h2m-13 -101h2m0 52h2m5 -14h2m-14 -23h2m14 64h2m-7 6h2m-16 -42h2m-5 32h2m9 -38h2m-2 56h2m9 -3h2m-21 -84h2m3 23h2m3 59h2m1 -93h2m-5 1h2m-15 19h2m-2 80h2m19 -78h2m-14 66h2m4 -78h2m5 52h2m-26 -42h2m11 21h2m-1 0h2m4 -23h2m1 79h2m-6 -43h2m-12 30h2m14 -25h2m-9 -58h2m-10 72h2m8 11h2m-3 -47h2m-22 25h2m5 6h2m-1 -3h2m13 4h2m-16 35h2m-3 -59h2m10 -11h2m-4 34h2m-9 6h2m-11 -58h2m9 31h2m-9 -25h2m6 12h2m7 -25h2m-11 7h2m6 60h2m-16 -14h2m14 8h2m-3 23h2m-5 -62h2m0 5h2m-11 68h2m-7 -76h2m-7 -23h2m-1 55h2m15 -26h2m0 56h2m-2 -34h2m-5 -11h2m-11 28h2m12 -9h2m-7 16h2m3 -50h2m-12 -18h2m8 94h2m-9 -97h2m-19 61h2m22 -30h2m-24 45h2m18 -10h2m0 -64h2m-12 21h2m-3 12h2m7 11h2m-3 38h2m-3 -39h2m-18 -46h2m15 94h2m-9 5h2m-7 -15h2m11 -59h2m-15 -10h2m5 -13h2m-3 7h2m5 89h2m-11 -55h2m9 -29h2m-13 35h2m-6 -13h2m10 52h2m-22 -10h2m16 18h2m-3 -50h2m-3 -13h2m-20 -25h2m5 61h2m-8 -13h2m5 -58h2m-8 31h2m13 3h2m-17 64h2m16 -44h2" stroke="#111" stroke-width="1.8" fill="none"/>
<line x1="1718.6" y1="1094" x2="1718.6" y2="946.9" stroke="#000" stroke-width="3"/>
<text x="1718.6" y="1145.3" font-size="21.5" text-anchor="middle" font-weight="normal" font-style="normal" >15</text>
<line x1="1736.2" y1="1096.3" x2="1764.2" y2="1096.3" stroke="#000" stroke-width="2"/>
<path d="M1750 1070h2m-1 9h2m-12 -67h2m5 31h2m-11 31h2m5 -39h2m-5 3h2m-4 18h2m18 -29h2m-19 -12h2m16 57h2m-17 -61h2m5 16h2m-1 -15h2m-9 64h2m9 3h2m-22 -53h2m17 21h2m-9 8h2m-2 23h2m8 0h2m-15 -61h2m-8 -8h2m10 0h2m6 40h2" stroke="#111" stroke-width="1.8" fill="none"/>
<line x1="1750.2" y1="1094" x2="1750.2" y2="1007.6" stroke="#000" stroke-width="3"/>
<text x="1750.2" y="1145.3" font-size="21.5" text-anchor="middle" font-weight="normal" font-style="normal" >16</text>
<line x1="1767.8" y1="1096.3" x2="1795.8" y2="1096.3" stroke="#000" stroke-width="2"/>
<path d="M1788 1037h2m-20 30h2m10 -29h2m-6 13h2m-5 -2h2m7 -7h2m-7 -2h2m-5 9h2m-3 30h2m-4 -19h2m4 -3h2m-13 21h2m14 -20h2m-13 18h2m6 -11h2m9 11h2m-6 -7h2m0 -22h2m-12 4h2m-9 3h2m-5 -17h2m8 16h2m-2 -13h2m4 13h2m7 14h2m-24 -27h2m-1 7h2m17 24h2m-21 -33h2m18 31h2m-16 -18h2m-9 -1h2m19 2h2m-20 13h2m8 -16h2m-4 -4h2m5 11h2m-22 -18h2m0 35h2m0 -40h2m-3 5h2m0 32h2m11 8h2m-17 -29h2m9 11h2m-2 -25h2m-16 18h2m18 -3h2m-17 -12h2m-5 38h2m11 -41h2m-2 -2h2m-5 35h2m-3 -21h2m-10 -13h2m15 27h2m-14 1h2m-6 -18h2m7 -1h2m0 -6h2m5 31h2m-26 -12h2m20 6h2m-24 12h2m15 -20h2m-17 -8h2m20 0h2m-2 18h2m-18 7h2m10 -9h2m-18 -11h2m-7 -14h2m12 2h2m-3 4h2m11 -7h2m-6 39h2m-23 -24h2m0 14h2m1 10h2m-1 2h2m3 -17h2m0 -13h2m-14 -12h2m22 23h2m-26 10h2m12 -14h2m-13 1h2m10 -18h2m-15 13h2m13 -8h2m-13 -64h2m12 46h2m-18 -34h2m0 1h2m14 29h2m-8 -25h2m-19 26h2m13 -38h2m-10 -9h2m-5 0h2m13 32h2m-17 -17h2m10 9h2m1 25h2m-13 -46h2m-10 44h2m3 -26h2m2 -11h2m1 4h2m-7 6h2m-5 28h2m-1 -20h2m18 -22h2m-10 7h2m-5 40h2m-13 -2h2m17 -18h2m-24 -11h2m15 5h2m5 -7h2m-2 -23h2m-1 55h2m-3 -46h2m-7 51h2m2 -18h2m-12 11h2m-3 -26h2m-10 -26h2m16 30h2m-24 -14h2m1 -8h2m18 -1h2m-17 28h2m11 14h2m-5 -42h2m-11 -5h2m8 51h2m-13 -27h2m3 -14h2m3 14h2m-2 23h2m-18 6h2m12 -14h2m-1 -9h2m1 18h2m-8 -30h2m-9 19h2m-8 -40h2m5 0h2m10 44h2m-20 -8h2m3 -1h2m-1 3h2m-10 -10h2m22 29h2m-16 -54h2m-5 38h2m-1 15h2m14 -46h2m-14 36h2" stroke="#111" stroke-width="1.8" fill="none"/>
<line x1="1781.8" y1="1094" x2="1781.8" y2="958.7" stroke="#000" stroke-width="3"/>
<text x="1781.8" y="1145.3" font-size="21.5" text-anchor="middle" font-weight="normal" font-style="normal" >17</text>
<line x1="1799.3" y1="1096.3" x2="1827.3" y2="1096.3" stroke="#000" stroke-width="2"/>
<polygon points="1804.3,1096.2 1804.3,1089.8 1808.3,1084.1 1811.3,1078.4 1812.3,1074.6 1814.3,1074.6 1815.3,1078.4 1818.3,1084.1 1822.3,1089.8 1822.3,1096.2" fill="#f0308f" stroke="#000" stroke-width="1.6" stroke-linejoin="round"/>
<rect x="1805.3" y="1061.4" width="16.0" height="22.7" fill="#555" opacity="1.00"/>
<path d="M1815 1076h2m-6 -9h2m8 -9h2m-1 22h2m-4 -31h2m-17 7h2m9 -7h2m-13 12h2m0 -2h2m15 -10h2m-7 10h2m-4 -9h2m0 26h2m1 -2h2m1 -2h2m-7 -20h2m-16 -3h2m14 1h2m-3 2h2m-2 1h2m2 12h2m-7 4h2m-18 -15h2m18 22h2m-19 -18h2m4 -3h2m-3 2h2m8 -7h2m-4 28h2m-21 -15h2m19 7h2m-20 -4h2m-4 -2h2m2 14h2m4 4h2m6 -29h2m0 3h2m-16 -10h2m7 16h2m-1 13h2m-15 -7h2m19 2h2m-11 -2h2m-12 -12h2m16 20h2m-17 6h2m1 -33h2m-2 8h2m-12 4h2m1 -7h2m18 2h2m-7 23h2m-20 2h2m16 -21h2m-18 -1h2m-1 -7h2m17 14h2m-21 2h2m-3 4h2m1 -22h2m-10 31h2m13 -26h2m-12 9h2m16 -8h2m-19 -10h2m1 11h2m-4 7h2m12 14h2m-24 -5h2m6 2h2m6 3h2m-7 -5h2m12 -12h2m-18 15h2m4 -7h2m-15 -8h2m-1 -5h2m8 -7h2m-3 20h2m0 -5h2m-8 -1h2m10 0h2m-1 2h2m-12 -11h2m8 7h2m-2 9h2m-11 -19h2m-6 29h2m14 -21h2m-7 -1h2m-10 2h2m10 -6h2m-1 -6h2m-9 12h2m0 9h2m6 -12h2m-18 10h2m1 -3h2m3 15h2m-3 -12h2m-18 -11h2m20 -8h2m-18 2h2m10 8h2m-18 22h2m17 -31h2m-8 -1h2m-3 17h2m-8 -17h2m12 29h2m-7 4h2m2 -11h2m-21 -18h2m9 14h2m6 15h2m-15 -16h2m-7 4h2m19 -18h2m-25 1h2m-2 0h2m16 18h2m-19 -11h2m10 20h2m-3 -29h2m-10 21h2m6 -13h2m-3 3h2m4 1h2m-11 8h2m0 -7h2m-4 -5h2m1 6h2m-11 -18h2m15 22h2m-23 -14h2m16 9h2m1 18h2m0 -8h2m-11 -25h2m0 12h2m-13 -3h2m4 -5h2m6 -1h2m2 17h2m-15 -3h2m-8 16h2m9 -2h2m-18 -24h2m14 -9h2m-5 32h2m-7 -10h2m17 -20h2m-4 5h2m-23 5h2m-2 23h2m16 -21h2m-18 -4h2m-7 11h2m14 6h2m-16 4h2m15 -7h2m-9 12h2m-12 -11h2m13 7h2m-8 -8h2m-8 -15h2m0 16h2m13 -24h2m-21 18h2m11 -8h2m1 -7h2m-20 15h2m3 6h2m12 -12h2m-22 -10h2m14 18h2m2 -13h2m-19 22h2m5 -25h2m-12 10h2m7 -9h2m-10 5h2m4 -1h2m1 19h2m3 -28h2m-16 35h2m9 -29h2m10 15h2m0 -20h2m-19 33h2m9 -31h2m1 24h2m0 -25h2m-26 5h2m21 26h2m-17 -12h2m4 -12h2m-7 14h2m13 -2h2m-15 9h2m9 -11h2m-4 -8h2m-16 8h2m16 7h2m-6 4h2m-17 3h2m17 -7h2m-14 -16h2m-13 -10h2m11 8h2m-10 8h2m-7 5h2m13 13h2m-16 -31h2m11 16h2m-13 -11h2m4 14h2m-9 -22h2m14 5h2m-6 21h2m-16 -46h2m-2 2h2m17 -15h2m-13 28h2m4 -39h2m-18 -1h2m23 15h2m-7 19h2m-2 -4h2m-9 -6h2m-2 -15h2m-4 -9h2m-3 36h2m-2 -23h2m-12 1h2m20 28h2m-19 -21h2m-7 -6h2m9 25h2m-6 -11h2m3 11h2m5 -11h2m-1 -30h2m-9 40h2m-7 -2h2m-9 -24h2m23 25h2m-3 -10h2m-21 15h2m11 -6h2m-19 -3h2m16 -35h2m-4 23h2m-1 -25h2m-17 4h2m-6 7h2m24 -8h2m-11 11h2m4 22h2m1 -21h2" stroke="#111" stroke-width="1.8" fill="none"/>
<line x1="1813.3" y1="1094" x2="1813.3" y2="997.7" stroke="#000" stroke-width="3"/>
<text x="1813.3" y="1145.3" font-size="21.5" text-anchor="middle" font-weight="normal" font-style="normal" >18</text>
<line x1="1830.9" y1="1096.3" x2="1858.9" y2="1096.3" stroke="#000" stroke-width="2"/>
<path d="M1836 981h2m-7 45h2m-1 -27h2m-1 23h2m2 -11h2m2 40h2m6 -1h2m2 -7h2m-20 13h2m19 -30h2m-24 -44h2m15 35h2m-11 1h2m-12 -35h2m-2 26h2m22 -25h2m-15 7h2m-1 46h2m-4 -18h2m9 13h2m-16 14h2m2 -7h2m3 -14h2m7 2h2m-21 -16h2m7 -33h2m-11 10h2m3 47h2m-6 -25h2m-5 -25h2m12 33h2m1 -34h2m-3 43h2m-16 -19h2m15 53h2m-11 -35h2m9 13h2m-25 -52h2m-2 30h2m6 13h2m13 -42h2m-24 52h2m5 0h2m-2 20h2m1 -27h2m-7 -23h2m-10 19h2m2 -15h2m6 29h2m-2 -35h2m1 9h2m-14 27h2m10 -41h2m1 25h2m-10 22h2m-3 10h2m1 -55h2m-14 -8h2m12 16h2m0 12h2" stroke="#111" stroke-width="1.8" fill="none"/>
<line x1="1844.9" y1="1094" x2="1844.9" y2="979.5" stroke="#000" stroke-width="3"/>
<text x="1844.9" y="1145.3" font-size="21.5" text-anchor="middle" font-weight="normal" font-style="normal" >19</text>
<line x1="1862.5" y1="1096.3" x2="1890.5" y2="1096.3" stroke="#000" stroke-width="2"/>
<polygon points="1866.5,1095.5 1866.5,1084.1 1869.5,1069.0 1871.5,1053.8 1873.0,1038.6 1874.5,1023.5 1875.7,1012.1 1877.3,1012.1 1878.5,1023.5 1880.0,1038.6 1881.5,1053.8 1883.5,1069.0 1886.5,1084.1 1886.5,1095.5" fill="#f4b77c" stroke="#000" stroke-width="1.6" stroke-linejoin="round"/>
<rect x="1868.5" y="1053.8" width="16.0" height="30.3" fill="#555" opacity="1.00"/>
<path d="M1879 1074h2m-18 -23h2m5 31h2m15 -19h2m-4 -5h2m-5 11h2m0 -25h2m-13 34h2m10 -3h2m-20 -20h2m13 4h2m2 -6h2m-2 -4h2m-7 12h2m-16 -3h2m15 14h2m-16 -2h2m13 0h2m-23 -1h2m15 -10h2m-4 -6h2m-16 28h2m22 -17h2m-13 -16h2m3 27h2m-22 -18h2m17 26h2m-1 -37h2m-19 26h2m7 5h2m-5 -32h2m-9 13h2m8 20h2m-6 -11h2m-5 -11h2m3 18h2m-2 -19h2m14 23h2m-19 -18h2m-11 9h2m-1 -10h2m14 -8h2m0 20h2m-9 1h2m-10 -16h2m9 9h2m9 -13h2m-9 19h2m-9 9h2m-5 -14h2m-3 -3h2m6 15h2m5 -11h2m-2 -22h2m-16 29h2m-3 -1h2m-4 1h2m18 7h2m-22 -27h2m4 -4h2m3 11h2m-17 -11h2m6 2h2m-1 31h2m-4 -29h2m-9 1h2m13 -1h2m-14 29h2m16 -3h2m-7 -20h2m-16 20h2m-6 -33h2m14 30h2m-4 -14h2m5 -5h2m-8 10h2m7 11h2m-25 -31h2m-1 25h2m-1 -11h2m5 -2h2m-12 20h2m13 -4h2m-8 3h2m2 -10h2m9 -26h2m0 16h2m-11 21h2m-19 -30h2m16 -5h2m-14 0h2m10 32h2m-5 0h2m-13 -6h2m17 5h2m-23 2h2m1 -11h2m12 -5h2m-3 -17h2m-13 26h2m-2 -5h2m2 -5h2m7 -13h2m3 11h2m-20 -12h2m15 1h2m-2 4h2m-1 30h2m-22 -25h2m16 -4h2m0 7h2m-12 -4h2m9 -7h2m-14 1h2m-10 5h2m-6 21h2m17 -7h2m-2 -13h2m-15 16h2m-7 -24h2m17 -1h2m-2 24h2m-9 -26h2m-14 7h2m-4 -8h2m17 14h2m-16 -4h2m-3 5h2m13 14h2m-17 -23h2m8 1h2m-7 14h2m3 -7h2m8 21h2m-10 -31h2m3 12h2m-6 -1h2m-17 8h2m20 -22h2m-8 9h2m-1 26h2m-14 -30h2m-9 20h2m21 -7h2m-14 -13h2m1 -5h2m-7 32h2m4 -27h2m-13 27h2m7 -21h2m-11 18h2m16 5h2m-4 -28h2m-22 3h2m16 27h2m1 -23h2m-13 -6h2m12 6h2m-11 24h2m-5 -20h2m-5 -5h2m7 21h2m-8 -33h2m7 3h2m-1 13h2m-15 9h2m0 -6h2m-12 14h2m1 -19h2m2 3h2m-2 5h2m-10 -21h2m-3 33h2m14 -1h2m6 -11h2m-17 9h2m2 -31h2m0 24h2m5 -25h2m-2 23h2m-15 -23h2m13 26h2m-24 -3h2m15 4h2m-6 4h2m-6 5h2m-11 -23h2m2 3h2m10 6h2m-8 18h2m12 -23h2m-5 1h2m-2 -15h2m-22 16h2m-3 9h2m7 9h2m6 -27h2m-16 -2h2m-7 26h2m5 -15h2m11 -52h2m-15 18h2m14 -8h2m-6 -16h2m-3 8h2m-2 28h2m-20 1h2m6 -9h2m8 -23h2m6 23h2m-14 9h2m-13 -34h2m2 8h2m-9 3h2m13 -8h2m-13 13h2m4 13h2m-3 -10h2m1 5h2m4 -2h2m-20 -4h2m-2 10h2m10 -10h2m1 4h2m-5 -18h2m10 6h2m-19 24h2m5 -4h2m0 -30h2m-8 2h2m6 -7h2m-17 4h2m14 27h2m-2 -1h2m5 -14h2m-14 4h2m7 5h2m-23 6h2m21 -31h2m-23 26h2m0 -3h2m9 -3h2m-4 1h2m1 3h2m-13 -1h2m4 -1h2m11 -10h2m-14 12h2m4 8h2m-9 -25h2m-12 22h2m1 -6h2m3 -19h2m9 -3h2m-22 16h2m5 -8h2m6 -11h2m-7 13h2m-11 26h2m0 -15h2m15 17h2m-6 -18h2m-1 -23h2m-12 25h2m-1 4h2m-10 9h2m5 -10h2m-7 -20h2m-1 -2h2m8 35h2" stroke="#111" stroke-width="1.8" fill="none"/>
<line x1="1876.5" y1="1094" x2="1876.5" y2="969.7" stroke="#000" stroke-width="3"/>
<text x="1876.5" y="1145.3" font-size="21.5" text-anchor="middle" font-weight="normal" font-style="normal" >20</text>
<line x1="1894.1" y1="1096.3" x2="1922.1" y2="1096.3" stroke="#000" stroke-width="2"/>
<path d="M1900 1063h2m-2 -21h2m13 27h2m1 -40h2m-15 34h2m-5 -12h2m4 11h2m-2 11h2m11 -18h2m-28 1h2m14 -13h2m-2 -20h2m-10 44h2m9 -5h2m-11 -17h2" stroke="#111" stroke-width="1.8" fill="none"/>
<line x1="1908.1" y1="1094" x2="1908.1" y2="1015.9" stroke="#000" stroke-width="3"/>
<text x="1908.1" y="1145.3" font-size="21.5" text-anchor="middle" font-weight="normal" font-style="normal" >21</text>
<line x1="1925.7" y1="1096.3" x2="1953.7" y2="1096.3" stroke="#000" stroke-width="2"/>
<line x1="1939.7" y1="1094" x2="1939.7" y2="984.4" stroke="#000" stroke-width="3"/>
<text x="1939.7" y="1145.3" font-size="21.5" text-anchor="middle" font-weight="normal" font-style="normal" >22</text>
<line x1="1957.2" y1="1096.3" x2="1985.2" y2="1096.3" stroke="#000" stroke-width="2"/>
<polygon points="1961.2,1095.5 1961.2,1087.9 1965.2,1078.4 1969.2,1069.0 1970.2,1061.4 1972.2,1061.4 1973.2,1069.0 1977.2,1078.4 1981.2,1087.9 1981.2,1095.5" fill="#1c7c4c" stroke="#000" stroke-width="1.6" stroke-linejoin="round"/>
<path d="M1978 1059h2m-18 12h2m3 6h2m-6 -4h2m8 8h2m-3 -12h2m9 -14h2m-18 16h2m-4 -9h2m7 14h2m-5 0h2m-8 -15h2m1 21h2m6 -3h2m-18 1h2m21 -19h2m-26 3h2m5 9h2m-1 -10h2m4 -5h2m-8 23h2m10 -4h2m-5 3h2m3 -5h2m-24 4h2m1 -16h2m15 15h2m-2 -20h2m-4 1h2m2 12h2m-2 5h2m-1 -19h2m-1 15h2m-18 -5h2m4 10h2m0 -19h2m-20 21h2m17 -24h2m0 24h2m-22 -18h2m22 17h2m-2 -15h2m-22 12h2m13 -13h2m-11 9h2m5 1h2m-19 -16h2m24 9h2m-26 10h2m16 2h2m-23 -18h2m17 17h2m-3 -2h2m7 -15h2m-6 18h2m-9 -2h2m-15 1h2m-4 -5h2m19 -6h2m-6 7h2m-7 -21h2m1 -49h2m-10 30h2m14 -19h2m0 17h2m-28 2h2m17 9h2m-1 -23h2m3 19h2m-4 -21h2m-20 -7h2m7 43h2m3 -14h2m5 -21h2m-6 -15h2m-19 15h2m16 35h2m-12 -10h2m2 -10h2m7 -25h2m-9 8h2m-13 33h2m9 1h2m5 -34h2m-17 9h2m12 -6h2m-13 -11h2m-16 33h2m20 -13h2m-13 -32h2m-12 53h2m19 -42h2m-15 3h2m8 3h2m-5 -1h2m3 -13h2m-8 31h2m-2 -33h2m-14 -2h2m-4 35h2m4 22h2m-6 -43h2m17 38h2m-14 -21h2m-3 -30h2m11 44h2m-10 -33h2m-6 7h2m-11 17h2m-1 -29h2" stroke="#111" stroke-width="1.8" fill="none"/>
<line x1="1971.2" y1="1094" x2="1971.2" y2="961.7" stroke="#000" stroke-width="3"/>
<text x="1971.2" y="1145.3" font-size="21.5" text-anchor="middle" font-weight="normal" font-style="normal" >23</text>
<line x1="1988.8" y1="1096.3" x2="2016.8" y2="1096.3" stroke="#000" stroke-width="2"/>
<path d="M2008 1049h2m-16 -29h2m-7 22h2m18 -21h2m-17 7h2m8 2h2m-11 51h2m-6 -34h2m21 30h2m-9 -57h2m3 7h2m-10 49h2m-12 -8h2m5 -45h2m12 10h2m-27 38h2m11 -26h2m-15 17h2m-3 13h2m25 -21h2m-23 30h2m7 -2h2m7 -62h2m1 70h2m-15 -52h2" stroke="#111" stroke-width="1.8" fill="none"/>
<line x1="2002.8" y1="1094" x2="2002.8" y2="1004.9" stroke="#000" stroke-width="3"/>
<text x="2002.8" y="1145.3" font-size="21.5" text-anchor="middle" font-weight="normal" font-style="normal" >24</text>
<line x1="2020.4" y1="1096.3" x2="2048.4" y2="1096.3" stroke="#000" stroke-width="2"/>
<path d="M2035 1059h2m6 14h2m-13 -22h2m7 -18h2m-1 -21h2m-3 1h2m-9 10h2m6 43h2" stroke="#111" stroke-width="1.8" fill="none"/>
<line x1="2034.4" y1="1094" x2="2034.4" y2="1007.9" stroke="#000" stroke-width="3"/>
<text x="2034.4" y="1145.3" font-size="21.5" text-anchor="middle" font-weight="normal" font-style="normal" >25</text>
<line x1="2052.0" y1="1096.3" x2="2080.0" y2="1096.3" stroke="#000" stroke-width="2"/>
<path d="M2054 1053h2m18 6h2m-7 -14h2m-3 25h2m-16 2h2m10 -4h2m5 -2h2m-18 10h2" stroke="#111" stroke-width="1.8" fill="none"/>
<line x1="2066.0" y1="1094" x2="2066.0" y2="1040.9" stroke="#000" stroke-width="3"/>
<text x="2066.0" y="1145.3" font-size="21.5" text-anchor="middle" font-weight="normal" font-style="normal" >26</text>
<line x1="2083.6" y1="1096.3" x2="2111.6" y2="1096.3" stroke="#000" stroke-width="2"/>
<polygon points="2086.6,1095.5 2086.6,1087.9 2089.6,1076.5 2092.6,1061.4 2095.1,1042.4 2096.1,1015.9 2096.6,993.2 2097.1,978.0 2098.1,978.0 2098.6,993.2 2099.1,1015.9 2100.1,1042.4 2102.6,1061.4 2105.6,1076.5 2108.6,1087.9 2108.6,1095.5" fill="#d2d21c" stroke="#000" stroke-width="1.6" stroke-linejoin="round"/>
<path d="M2095 1032h2m14 34h2m-4 -43h2m-13 -26h2m-15 50h2m3 3h2m6 -12h2m6 -37h2m-11 22h2m10 -21h2m-11 13h2m-12 39h2m10 -52h2m0 41h2m-21 16h2m21 -30h2m0 2h2m-24 25h2m4 -7h2m2 -54h2m4 60h2m4 -54h2m-9 55h2m-5 -53h2m-17 65h2m-3 -73h2m12 34h2m-8 25h2m3 14h2m-9 -62h2m-8 42h2m18 -9h2m1 6h2m-8 24h2m-16 -3h2m18 -55h2m-12 2h2m-10 -19h2m5 43h2m0 -43h2m4 42h2m-6 28h2m7 -67h2m-15 39h2m-2 -1h2m-7 15h2m-5 18h2m4 -46h2m-6 43h2m-8 -46h2m10 -35h2m-3 0h2m6 9h2m-19 -8h2m18 -9h2m-7 16h2m-4 -6h2m0 -14h2m-17 2h2m10 -5h2m-8 17h2m-5 -8h2m5 14h2m-10 -24h2m7 12h2" stroke="#111" stroke-width="1.8" fill="none"/>
<line x1="2097.6" y1="1094" x2="2097.6" y2="960.2" stroke="#000" stroke-width="3"/>
<text x="2097.6" y="1145.3" font-size="21.5" text-anchor="middle" font-weight="normal" font-style="normal" >27</text>
<line x1="93.2" y1="1278.3" x2="93.2" y2="1415.2" stroke="#e0e0e0" stroke-width="1.1"/>
<line x1="124.4" y1="1278.3" x2="124.4" y2="1415.2" stroke="#e0e0e0" stroke-width="1.1"/>
<line x1="155.6" y1="1278.3" x2="155.6" y2="1415.2" stroke="#e0e0e0" stroke-width="1.1"/>
<line x1="186.8" y1="1278.3" x2="186.8" y2="1415.2" stroke="#e0e0e0" stroke-width="1.1"/>
<line x1="218.0" y1="1278.3" x2="218.0" y2="1415.2" stroke="#e0e0e0" stroke-width="1.1"/>
<line x1="249.2" y1="1278.3" x2="249.2" y2="1415.2" stroke="#e0e0e0" stroke-width="1.1"/>
<line x1="280.4" y1="1278.3" x2="280.4" y2="1415.2" stroke="#e0e0e0" stroke-width="1.1"/>
<line x1="311.6" y1="1278.3" x2="311.6" y2="1415.2" stroke="#e0e0e0" stroke-width="1.1"/>
<line x1="342.8" y1="1278.3" x2="342.8" y2="1415.2" stroke="#e0e0e0" stroke-width="1.1"/>
<line x1="67.0" y1="1378.0" x2="353.0" y2="1378.0" stroke="#000" stroke-width="2.2" stroke-dasharray="2.2,3.5"/>
<path d="M64.3 1415.2V1445.8M335.4 1415.2V1445.8" stroke="#484848" stroke-width="1.4" fill="none"/>
<path d="M66.1 1415.2V1445.8M67.6 1415.2V1445.8" stroke="#585858" stroke-width="1.4" fill="none"/>
<path d="M71.7 1415.2V1445.8M169.2 1415.2V1445.8" stroke="#585858" stroke-width="1.7" fill="none"/>
<path d="M74.9 1415.2V1445.8M151.7 1415.2V1445.8M223.4 1415.2V1445.8M267.7 1415.2V1445.8M282.6 1415.2V1445.8M318.1 1415.2V1445.8" stroke="#080808" stroke-width="1.9" fill="none"/>
<path d="M78.0 1415.2V1445.8M80.5 1415.2V1445.8M185.6 1415.2V1445.8" stroke="#a0a0a0" stroke-width="1.3" fill="none"/>
<path d="M83.5 1415.2V1445.8M327.8 1415.2V1445.8" stroke="#707070" stroke-width="1.3" fill="none"/>
<path d="M84.9 1415.2V1445.8M116.5 1415.2V1445.8M218.8 1415.2V1445.8" stroke="#787878" stroke-width="1.3" fill="none"/>
<path d="M91.5 1415.2V1445.8M103.5 1415.2V1445.8" stroke="#404040" stroke-width="1.3" fill="none"/>
<path d="M92.2 1415.2V1445.8" stroke="#606060" stroke-width="1.3" fill="none"/>
<path d="M97.0 1415.2V1445.8M97.8 1415.2V1445.8M187.4 1415.2V1445.8M234.1 1415.2V1445.8" stroke="#909090" stroke-width="1.3" fill="none"/>
<path d="M101.6 1415.2V1445.8M325.4 1415.2V1445.8" stroke="#808080" stroke-width="1.3" fill="none"/>
<path d="M106.3 1415.2V1445.8M118.3 1415.2V1445.8" stroke="#585858" stroke-width="1.3" fill="none"/>
<path d="M110.1 1415.2V1445.8M128.8 1415.2V1445.8M342.5 1415.2V1445.8M346.9 1415.2V1445.8" stroke="#606060" stroke-width="1.4" fill="none"/>
<path d="M112.5 1415.2V1445.8M130.5 1415.2V1445.8M138.7 1415.2V1445.8M258.0 1415.2V1445.8M341.5 1415.2V1445.8" stroke="#202020" stroke-width="1.4" fill="none"/>
<path d="M122.7 1415.2V1445.8M198.2 1415.2V1445.8" stroke="#888888" stroke-width="1.7" fill="none"/>
<path d="M131.5 1415.2V1445.8" stroke="#181818" stroke-width="1.4" fill="none"/>
<path d="M134.5 1415.2V1445.8M143.1 1415.2V1445.8M144.7 1415.2V1445.8M162.4 1415.2V1445.8M165.1 1415.2V1445.8M331.5 1415.2V1445.8M333.3 1415.2V1445.8" stroke="#080808" stroke-width="1.4" fill="none"/>
<path d="M136.0 1415.2V1445.8M137.1 1415.2V1445.8M253.8 1415.2V1445.8M337.4 1415.2V1445.8" stroke="#404040" stroke-width="1.4" fill="none"/>
<path d="M140.5 1415.2V1445.8M141.4 1415.2V1445.8M347.9 1415.2V1445.8M349.6 1415.2V1445.8" stroke="#303030" stroke-width="1.4" fill="none"/>
<path d="M155.2 1415.2V1445.8" stroke="#787878" stroke-width="1.7" fill="none"/>
<path d="M163.8 1415.2V1445.8M255.7 1415.2V1445.8M350.6 1415.2V1445.8M351.9 1415.2V1445.8" stroke="#282828" stroke-width="1.4" fill="none"/>
<path d="M218.2 1415.2V1445.8M313.8 1415.2V1445.8" stroke="#686868" stroke-width="1.3" fill="none"/>
<path d="M232.1 1415.2V1445.8M288.2 1415.2V1445.8" stroke="#505050" stroke-width="1.3" fill="none"/>
<path d="M236.3 1415.2V1445.8" stroke="#484848" stroke-width="1.3" fill="none"/>
<path d="M252.9 1415.2V1445.8M338.7 1415.2V1445.8M339.8 1415.2V1445.8" stroke="#101010" stroke-width="1.4" fill="none"/>
<path d="M257.1 1415.2V1445.8" stroke="#383838" stroke-width="1.4" fill="none"/>
<path d="M263.3 1415.2V1445.8M302.8 1415.2V1445.8" stroke="#606060" stroke-width="1.7" fill="none"/>
<path d="M290.0 1415.2V1445.8M312.7 1415.2V1445.8" stroke="#a8a8a8" stroke-width="1.3" fill="none"/>
<path d="M334.3 1415.2V1445.8" stroke="#505050" stroke-width="1.4" fill="none"/>
<rect x="62.9" y="1445.8" width="22.4" height="10.9" fill="#ec624d"/>
<rect x="84.9" y="1445.8" width="46.1" height="10.9" fill="#f2907c"/>
<rect x="130.6" y="1445.8" width="50.5" height="10.9" fill="#f5c3b3"/>
<rect x="180.7" y="1445.8" width="71.6" height="10.9" fill="#d2dcf6"/>
<rect x="251.8" y="1445.8" width="31.2" height="10.9" fill="#86aee4"/>
<rect x="282.6" y="1445.8" width="29.4" height="10.9" fill="#4a8ad0"/>
<rect x="311.6" y="1445.8" width="35.5" height="10.9" fill="#2f7ec6"/>
<rect x="346.7" y="1445.8" width="6.6" height="10.9" fill="#1d64a5"/>
<polyline points="62.2,1312.0 62.3,1311.9 62.3,1311.1 62.4,1309.7 62.4,1308.5 62.5,1307.1 62.6,1305.5 62.7,1304.5 62.9,1303.8 63.1,1302.5 63.3,1300.6 63.5,1299.8 63.7,1298.3 64.0,1296.6 64.2,1295.0 64.5,1293.4 64.8,1291.4 65.3,1290.3 65.8,1288.4 66.5,1287.5 67.3,1286.8 68.4,1286.0 69.7,1284.9 71.2,1285.2 72.8,1284.5 74.4,1284.2 76.1,1283.3 77.7,1283.8 79.2,1283.4 80.5,1283.8 81.6,1283.5 82.3,1283.7 82.6,1283.3 82.6,1283.3 82.4,1282.6 82.2,1282.8 82.2,1282.9 82.4,1283.1 83.0,1282.7 84.0,1283.8 85.7,1284.4 88.1,1285.1 91.0,1286.6 94.4,1287.8 98.2,1288.7 102.3,1290.3 106.4,1291.5 110.7,1294.1 114.8,1295.9 118.7,1297.1 122.4,1299.0 125.8,1300.7 129.2,1302.5 132.5,1303.6 135.8,1306.2 139.1,1307.8 142.3,1309.7 145.5,1311.3 148.7,1313.4 151.9,1315.5 155.1,1317.2 158.3,1319.1 161.5,1320.1 164.7,1322.1 167.9,1324.3 171.1,1326.4 174.3,1327.8 177.4,1330.2 180.6,1332.0 183.8,1333.1 186.9,1335.5 190.0,1337.0 193.2,1338.7 196.3,1340.7 199.4,1342.7 202.5,1344.5 205.6,1346.3 208.7,1348.0 211.8,1350.3 214.9,1352.0 218.0,1354.0 221.2,1355.8 224.5,1357.1 227.9,1359.7 231.3,1360.4 234.6,1362.6 237.9,1364.1 241.1,1365.9 244.1,1367.0 246.9,1369.3 249.4,1370.0 251.6,1370.8 253.6,1372.5 255.3,1372.8 256.9,1374.1 258.4,1374.6 259.7,1375.6 261.1,1376.8 262.4,1377.3 263.8,1377.5 265.3,1378.8 266.8,1379.3 268.1,1379.7 269.4,1380.1 270.7,1381.4 272.0,1382.0 273.3,1383.2 274.8,1384.0 276.5,1384.5 278.4,1385.2 280.6,1387.0 283.2,1387.3 286.2,1389.0 289.5,1391.3 293.0,1393.2 296.6,1394.6 300.2,1397.1 303.6,1399.2 306.9,1400.2 309.7,1401.7 312.2,1402.6 314.2,1403.5 315.9,1405.1 317.3,1404.9 318.5,1406.0 319.6,1406.2 320.5,1406.0 321.4,1405.7 322.4,1406.6 323.4,1406.0 324.5,1405.8 325.7,1405.5 327.0,1406.0 328.2,1405.0 329.5,1404.2 330.7,1403.9 332.0,1402.8 333.2,1402.8 334.4,1401.9 335.6,1401.1 336.7,1401.1 337.8,1400.7 338.9,1399.2 340.0,1399.3 341.1,1398.6 342.2,1398.8 343.2,1398.1 344.2,1396.9 345.1,1396.2 346.1,1395.2 346.9,1395.3 347.7,1393.3 348.5,1392.3 349.2,1390.5 350.0,1389.1 350.6,1387.3 351.3,1385.8 351.8,1383.4 352.3,1382.8 352.7,1381.0 353.1,1380.4" fill="none" stroke="#2ab42a" stroke-width="2.2" stroke-linejoin="round"/>
<path d="M62.0,1277.3 V1457.9 H354.0" fill="none" stroke="#000" stroke-width="2.3"/>
<line x1="54.5" y1="1280.8" x2="62.0" y2="1280.8" stroke="#000" stroke-width="2"/>
<text x="49.7" y="1286.6" font-size="16.0" text-anchor="end" font-weight="normal" font-style="normal" >0.6</text>
<line x1="54.5" y1="1313.2" x2="62.0" y2="1313.2" stroke="#000" stroke-width="2"/>
<text x="49.7" y="1319.0" font-size="16.0" text-anchor="end" font-weight="normal" font-style="normal" >0.4</text>
<line x1="54.5" y1="1345.6" x2="62.0" y2="1345.6" stroke="#000" stroke-width="2"/>
<text x="49.7" y="1351.4" font-size="16.0" text-anchor="end" font-weight="normal" font-style="normal" >0.2</text>
<line x1="54.5" y1="1378.0" x2="62.0" y2="1378.0" stroke="#000" stroke-width="2"/>
<text x="49.7" y="1383.8" font-size="16.0" text-anchor="end" font-weight="normal" font-style="normal" >0.0</text>
<line x1="54.5" y1="1410.4" x2="62.0" y2="1410.4" stroke="#000" stroke-width="2"/>
<text x="49.7" y="1416.2" font-size="16.0" text-anchor="end" font-weight="normal" font-style="normal" >-0.2</text>
<line x1="124.4" y1="1457.9" x2="124.4" y2="1465.4" stroke="#000" stroke-width="2"/>
<text x="125.0" y="1486.5" font-size="15.8" text-anchor="middle" font-weight="normal" font-style="normal" >5000</text>
<line x1="186.8" y1="1457.9" x2="186.8" y2="1465.4" stroke="#000" stroke-width="2"/>
<text x="187.4" y="1486.5" font-size="15.8" text-anchor="middle" font-weight="normal" font-style="normal" >10000</text>
<line x1="249.2" y1="1457.9" x2="249.2" y2="1465.4" stroke="#000" stroke-width="2"/>
<text x="249.8" y="1486.5" font-size="15.8" text-anchor="middle" font-weight="normal" font-style="normal" >15000</text>
<line x1="311.6" y1="1457.9" x2="311.6" y2="1465.4" stroke="#000" stroke-width="2"/>
<text x="312.2" y="1486.5" font-size="15.8" text-anchor="middle" font-weight="normal" font-style="normal" >20000</text>
<text x="209.0" y="1510.2" font-size="15.8" text-anchor="middle" font-weight="normal" font-style="normal" >Rank in ordered dataset</text>
<text transform="translate(12.0,1351.3) rotate(-90)" font-size="15.8" text-anchor="middle" >Running enrichment score</text>
<text x="205.8" y="1291.7" font-size="16.0" text-anchor="start" font-weight="normal" font-style="normal" >NES</text>
<text x="248.8" y="1291.7" font-size="16.0" text-anchor="start" font-weight="normal" font-style="normal" >1.573711</text>
<text x="205.8" y="1310.5" font-size="16.0" text-anchor="start" font-weight="normal" font-style="normal" >p-value</text>
<text x="267.2" y="1310.5" font-size="16.0" text-anchor="start" font-weight="normal" font-style="normal" >0.002457</text>
<line x1="445.5" y1="1278.3" x2="445.5" y2="1415.2" stroke="#e0e0e0" stroke-width="1.1"/>
<line x1="476.7" y1="1278.3" x2="476.7" y2="1415.2" stroke="#e0e0e0" stroke-width="1.1"/>
<line x1="507.9" y1="1278.3" x2="507.9" y2="1415.2" stroke="#e0e0e0" stroke-width="1.1"/>
<line x1="539.1" y1="1278.3" x2="539.1" y2="1415.2" stroke="#e0e0e0" stroke-width="1.1"/>
<line x1="570.3" y1="1278.3" x2="570.3" y2="1415.2" stroke="#e0e0e0" stroke-width="1.1"/>
<line x1="601.5" y1="1278.3" x2="601.5" y2="1415.2" stroke="#e0e0e0" stroke-width="1.1"/>
<line x1="632.7" y1="1278.3" x2="632.7" y2="1415.2" stroke="#e0e0e0" stroke-width="1.1"/>
<line x1="663.9" y1="1278.3" x2="663.9" y2="1415.2" stroke="#e0e0e0" stroke-width="1.1"/>
<line x1="695.1" y1="1278.3" x2="695.1" y2="1415.2" stroke="#e0e0e0" stroke-width="1.1"/>
<line x1="419.3" y1="1335.0" x2="705.3" y2="1335.0" stroke="#000" stroke-width="2.2" stroke-dasharray="2.2,3.5"/>
<path d="M415.9 1415.2V1445.8M418.8 1415.2V1445.8M445.8 1415.2V1445.8M601.5 1415.2V1445.8M682.6 1415.2V1445.8" stroke="#282828" stroke-width="1.4" fill="none"/>
<path d="M417.2 1415.2V1445.8M420.5 1415.2V1445.8M425.0 1415.2V1445.8M427.5 1415.2V1445.8M469.6 1415.2V1445.8M541.2 1415.2V1445.8M623.7 1415.2V1445.8M628.0 1415.2V1445.8M648.4 1415.2V1445.8M679.8 1415.2V1445.8M681.0 1415.2V1445.8" stroke="#383838" stroke-width="1.4" fill="none"/>
<path d="M421.3 1415.2V1445.8M624.9 1415.2V1445.8M626.3 1415.2V1445.8M651.4 1415.2V1445.8" stroke="#202020" stroke-width="1.4" fill="none"/>
<path d="M423.2 1415.2V1445.8M493.9 1415.2V1445.8M649.9 1415.2V1445.8M655.2 1415.2V1445.8M693.2 1415.2V1445.8" stroke="#585858" stroke-width="1.4" fill="none"/>
<path d="M425.7 1415.2V1445.8M449.2 1415.2V1445.8M482.0 1415.2V1445.8M659.8 1415.2V1445.8" stroke="#505050" stroke-width="1.4" fill="none"/>
<path d="M439.4 1415.2V1445.8M475.4 1415.2V1445.8M505.0 1415.2V1445.8" stroke="#808080" stroke-width="1.3" fill="none"/>
<path d="M441.3 1415.2V1445.8M503.0 1415.2V1445.8" stroke="#a0a0a0" stroke-width="1.3" fill="none"/>
<path d="M448.0 1415.2V1445.8M489.4 1415.2V1445.8M629.0 1415.2V1445.8M657.0 1415.2V1445.8M691.5 1415.2V1445.8" stroke="#181818" stroke-width="1.4" fill="none"/>
<path d="M452.1 1415.2V1445.8M531.6 1415.2V1445.8M686.2 1415.2V1445.8" stroke="#585858" stroke-width="1.7" fill="none"/>
<path d="M457.9 1415.2V1445.8" stroke="#888888" stroke-width="1.3" fill="none"/>
<path d="M458.6 1415.2V1445.8M474.0 1415.2V1445.8M669.7 1415.2V1445.8" stroke="#606060" stroke-width="1.3" fill="none"/>
<path d="M462.6 1415.2V1445.8M558.8 1415.2V1445.8" stroke="#808080" stroke-width="1.7" fill="none"/>
<path d="M468.3 1415.2V1445.8M481.1 1415.2V1445.8M494.8 1415.2V1445.8M539.8 1415.2V1445.8M643.8 1415.2V1445.8M645.6 1415.2V1445.8M675.0 1415.2V1445.8" stroke="#101010" stroke-width="1.4" fill="none"/>
<path d="M483.9 1415.2V1445.8M603.9 1415.2V1445.8M676.9 1415.2V1445.8M702.9 1415.2V1445.8" stroke="#404040" stroke-width="1.4" fill="none"/>
<path d="M484.6 1415.2V1445.8M602.2 1415.2V1445.8M630.7 1415.2V1445.8M632.0 1415.2V1445.8M699.0 1415.2V1445.8" stroke="#484848" stroke-width="1.4" fill="none"/>
<path d="M486.8 1415.2V1445.8M658.0 1415.2V1445.8" stroke="#606060" stroke-width="1.4" fill="none"/>
<path d="M487.9 1415.2V1445.8M653.0 1415.2V1445.8M654.4 1415.2V1445.8" stroke="#080808" stroke-width="1.4" fill="none"/>
<path d="M518.4 1415.2V1445.8" stroke="#505050" stroke-width="1.3" fill="none"/>
<path d="M519.3 1415.2V1445.8" stroke="#484848" stroke-width="1.3" fill="none"/>
<path d="M524.6 1415.2V1445.8" stroke="#080808" stroke-width="1.9" fill="none"/>
<path d="M545.6 1415.2V1445.8" stroke="#787878" stroke-width="1.7" fill="none"/>
<path d="M582.1 1415.2V1445.8M663.4 1415.2V1445.8" stroke="#606060" stroke-width="1.7" fill="none"/>
<path d="M587.4 1415.2V1445.8M592.2 1415.2V1445.8" stroke="#686868" stroke-width="1.7" fill="none"/>
<path d="M599.7 1415.2V1445.8M678.3 1415.2V1445.8M700.2 1415.2V1445.8" stroke="#303030" stroke-width="1.4" fill="none"/>
<path d="M615.9 1415.2V1445.8" stroke="#707070" stroke-width="1.7" fill="none"/>
<path d="M668.4 1415.2V1445.8M671.9 1415.2V1445.8" stroke="#686868" stroke-width="1.3" fill="none"/>
<rect x="415.2" y="1445.8" width="18.0" height="10.9" fill="#dc3535"/>
<rect x="432.7" y="1445.8" width="31.2" height="10.9" fill="#ee5f4c"/>
<rect x="463.5" y="1445.8" width="37.3" height="10.9" fill="#f18a77"/>
<rect x="500.4" y="1445.8" width="91.8" height="10.9" fill="#f6c0b0"/>
<rect x="591.8" y="1445.8" width="42.6" height="10.9" fill="#d1dbf6"/>
<rect x="634.0" y="1445.8" width="36.4" height="10.9" fill="#93b5e6"/>
<rect x="670.0" y="1445.8" width="22.4" height="10.9" fill="#4d8dd3"/>
<rect x="692.0" y="1445.8" width="11.3" height="10.9" fill="#2f80c6"/>
<polyline points="414.4,1325.0 414.5,1324.1 414.5,1323.2 414.6,1321.6 414.7,1320.4 414.8,1319.0 414.9,1317.7 415.0,1316.2 415.2,1315.3 415.3,1313.0 415.5,1311.7 415.7,1310.3 415.9,1308.8 416.1,1307.4 416.3,1305.9 416.6,1304.7 416.8,1302.7 417.1,1302.3 417.4,1300.3 417.7,1299.7 418.0,1298.2 418.3,1297.2 418.7,1296.0 419.0,1295.6 419.4,1293.8 419.7,1293.7 420.1,1292.5 420.6,1292.3 421.0,1291.7 421.5,1290.3 422.0,1289.6 422.6,1288.7 423.1,1288.2 423.8,1287.2 424.4,1286.8 425.1,1286.7 425.8,1285.3 426.5,1284.6 427.2,1284.4 427.9,1283.8 428.6,1284.3 429.3,1284.4 429.9,1284.2 430.6,1284.9 431.2,1286.3 431.9,1287.4 432.6,1288.0 433.3,1288.5 434.1,1289.9 435.0,1289.2 436.0,1289.5 436.9,1290.2 437.8,1289.4 438.6,1288.3 439.5,1288.1 440.4,1287.8 441.5,1286.4 442.9,1285.6 444.5,1284.8 446.5,1284.6 449.0,1285.8 451.9,1285.8 455.2,1286.9 458.9,1286.6 462.9,1287.8 467.1,1288.7 471.6,1290.5 476.1,1291.7 480.7,1293.7 485.3,1295.9 489.8,1298.2 494.3,1300.6 499.0,1303.7 503.8,1308.2 508.6,1311.0 513.5,1315.2 518.5,1319.1 523.5,1323.3 528.6,1326.8 533.7,1331.0 538.8,1334.5 544.0,1338.8 549.3,1343.0 554.7,1346.5 560.1,1350.7 565.6,1353.8 571.0,1357.4 576.4,1361.7 581.7,1365.2 586.8,1368.7 591.8,1371.7 596.7,1375.0 601.6,1378.0 606.4,1381.0 611.1,1383.0 615.8,1385.7 620.3,1388.6 624.7,1390.1 628.9,1392.1 632.9,1394.3 636.7,1395.8 640.2,1398.2 643.5,1399.7 646.6,1400.4 649.5,1401.2 652.3,1402.1 654.9,1403.1 657.5,1403.6 660.1,1404.6 662.7,1405.1 665.3,1405.0 668.0,1404.9 670.7,1405.6 673.5,1404.5 676.2,1404.3 678.8,1403.9 681.4,1403.4 683.8,1402.4 686.0,1402.0 688.0,1401.0 689.8,1400.7 691.3,1399.7 692.5,1399.5 693.6,1398.6 694.4,1398.0 695.1,1397.0 695.7,1395.9 696.3,1395.0 696.8,1393.2 697.3,1391.4 697.9,1388.5 698.5,1384.9 699.0,1380.0 699.6,1375.5 700.0,1369.4 700.5,1363.4 700.8,1357.6 701.2,1352.4 701.5,1347.7 701.8,1344.2 702.0,1341.0" fill="none" stroke="#2ab42a" stroke-width="2.2" stroke-linejoin="round"/>
<path d="M414.3,1277.3 V1457.9 H706.3" fill="none" stroke="#000" stroke-width="2.3"/>
<line x1="406.8" y1="1298.3" x2="414.3" y2="1298.3" stroke="#000" stroke-width="2"/>
<text x="402.0" y="1304.1" font-size="16.0" text-anchor="end" font-weight="normal" font-style="normal" >0.2</text>
<line x1="406.8" y1="1335.0" x2="414.3" y2="1335.0" stroke="#000" stroke-width="2"/>
<text x="402.0" y="1340.8" font-size="16.0" text-anchor="end" font-weight="normal" font-style="normal" >0.0</text>
<line x1="406.8" y1="1371.7" x2="414.3" y2="1371.7" stroke="#000" stroke-width="2"/>
<text x="402.0" y="1377.5" font-size="16.0" text-anchor="end" font-weight="normal" font-style="normal" >-0.2</text>
<line x1="406.8" y1="1408.4" x2="414.3" y2="1408.4" stroke="#000" stroke-width="2"/>
<text x="402.0" y="1414.2" font-size="16.0" text-anchor="end" font-weight="normal" font-style="normal" >-0.4</text>
<line x1="476.7" y1="1457.9" x2="476.7" y2="1465.4" stroke="#000" stroke-width="2"/>
<text x="477.3" y="1486.5" font-size="15.8" text-anchor="middle" font-weight="normal" font-style="normal" >5000</text>
<line x1="539.1" y1="1457.9" x2="539.1" y2="1465.4" stroke="#000" stroke-width="2"/>
<text x="539.7" y="1486.5" font-size="15.8" text-anchor="middle" font-weight="normal" font-style="normal" >10000</text>
<line x1="601.5" y1="1457.9" x2="601.5" y2="1465.4" stroke="#000" stroke-width="2"/>
<text x="602.1" y="1486.5" font-size="15.8" text-anchor="middle" font-weight="normal" font-style="normal" >15000</text>
<line x1="663.9" y1="1457.9" x2="663.9" y2="1465.4" stroke="#000" stroke-width="2"/>
<text x="664.5" y="1486.5" font-size="15.8" text-anchor="middle" font-weight="normal" font-style="normal" >20000</text>
<text x="561.3" y="1510.2" font-size="15.8" text-anchor="middle" font-weight="normal" font-style="normal" >Rank in ordered dataset</text>
<text x="558.1" y="1291.7" font-size="16.0" text-anchor="start" font-weight="normal" font-style="normal" >NES</text>
<text x="601.1" y="1291.7" font-size="16.0" text-anchor="start" font-weight="normal" font-style="normal" >-0.88657</text>
<text x="558.1" y="1310.5" font-size="16.0" text-anchor="start" font-weight="normal" font-style="normal" >p-value</text>
<text x="619.5" y="1310.5" font-size="16.0" text-anchor="start" font-weight="normal" font-style="normal" >0.709452</text>
<line x1="817.2" y1="1278.3" x2="817.2" y2="1415.2" stroke="#e0e0e0" stroke-width="1.1"/>
<line x1="848.4" y1="1278.3" x2="848.4" y2="1415.2" stroke="#e0e0e0" stroke-width="1.1"/>
<line x1="879.6" y1="1278.3" x2="879.6" y2="1415.2" stroke="#e0e0e0" stroke-width="1.1"/>
<line x1="910.8" y1="1278.3" x2="910.8" y2="1415.2" stroke="#e0e0e0" stroke-width="1.1"/>
<line x1="942.0" y1="1278.3" x2="942.0" y2="1415.2" stroke="#e0e0e0" stroke-width="1.1"/>
<line x1="973.2" y1="1278.3" x2="973.2" y2="1415.2" stroke="#e0e0e0" stroke-width="1.1"/>
<line x1="1004.4" y1="1278.3" x2="1004.4" y2="1415.2" stroke="#e0e0e0" stroke-width="1.1"/>
<line x1="1035.6" y1="1278.3" x2="1035.6" y2="1415.2" stroke="#e0e0e0" stroke-width="1.1"/>
<line x1="1066.8" y1="1278.3" x2="1066.8" y2="1415.2" stroke="#e0e0e0" stroke-width="1.1"/>
<line x1="791.0" y1="1365.3" x2="1077.0" y2="1365.3" stroke="#000" stroke-width="2.2" stroke-dasharray="2.2,3.5"/>
<path d="M787.7 1415.2V1445.8M790.4 1415.2V1445.8M798.0 1415.2V1445.8M845.2 1415.2V1445.8M978.4 1415.2V1445.8M1050.1 1415.2V1445.8" stroke="#080808" stroke-width="1.4" fill="none"/>
<path d="M789.6 1415.2V1445.8M841.1 1415.2V1445.8M842.7 1415.2V1445.8M1000.9 1415.2V1445.8M1002.6 1415.2V1445.8M1045.1 1415.2V1445.8M1049.0 1415.2V1445.8M1061.3 1415.2V1445.8" stroke="#383838" stroke-width="1.4" fill="none"/>
<path d="M792.0 1415.2V1445.8M796.6 1415.2V1445.8M870.3 1415.2V1445.8M881.6 1415.2V1445.8M979.7 1415.2V1445.8M1004.9 1415.2V1445.8M1062.8 1415.2V1445.8" stroke="#282828" stroke-width="1.4" fill="none"/>
<path d="M794.1 1415.2V1445.8M836.1 1415.2V1445.8M993.4 1415.2V1445.8M1020.4 1415.2V1445.8M1056.9 1415.2V1445.8" stroke="#585858" stroke-width="1.4" fill="none"/>
<path d="M795.3 1415.2V1445.8M879.9 1415.2V1445.8M883.1 1415.2V1445.8M1047.4 1415.2V1445.8M1051.6 1415.2V1445.8M1064.4 1415.2V1445.8M1076.7 1415.2V1445.8" stroke="#181818" stroke-width="1.4" fill="none"/>
<path d="M799.7 1415.2V1445.8M843.4 1415.2V1445.8M886.2 1415.2V1445.8M999.7 1415.2V1445.8" stroke="#505050" stroke-width="1.4" fill="none"/>
<path d="M802.6 1415.2V1445.8M940.6 1415.2V1445.8" stroke="#484848" stroke-width="1.3" fill="none"/>
<path d="M804.5 1415.2V1445.8" stroke="#505050" stroke-width="1.3" fill="none"/>
<path d="M816.4 1415.2V1445.8" stroke="#707070" stroke-width="1.3" fill="none"/>
<path d="M818.4 1415.2V1445.8M944.1 1415.2V1445.8M967.5 1415.2V1445.8" stroke="#909090" stroke-width="1.3" fill="none"/>
<path d="M823.6 1415.2V1445.8M863.2 1415.2V1445.8M928.2 1415.2V1445.8" stroke="#585858" stroke-width="1.7" fill="none"/>
<path d="M837.7 1415.2V1445.8M868.7 1415.2V1445.8" stroke="#303030" stroke-width="1.4" fill="none"/>
<path d="M839.2 1415.2V1445.8M990.0 1415.2V1445.8M1019.3 1415.2V1445.8M1021.9 1415.2V1445.8M1023.2 1415.2V1445.8" stroke="#484848" stroke-width="1.4" fill="none"/>
<path d="M853.1 1415.2V1445.8" stroke="#888888" stroke-width="1.7" fill="none"/>
<path d="M857.4 1415.2V1445.8M911.5 1415.2V1445.8M922.9 1415.2V1445.8M932.6 1415.2V1445.8M955.0 1415.2V1445.8" stroke="#080808" stroke-width="1.9" fill="none"/>
<path d="M874.1 1415.2V1445.8" stroke="#606060" stroke-width="1.7" fill="none"/>
<path d="M884.2 1415.2V1445.8" stroke="#202020" stroke-width="1.4" fill="none"/>
<path d="M895.7 1415.2V1445.8M962.5 1415.2V1445.8" stroke="#808080" stroke-width="1.7" fill="none"/>
<path d="M901.5 1415.2V1445.8M973.0 1415.2V1445.8" stroke="#686868" stroke-width="1.3" fill="none"/>
<path d="M902.8 1415.2V1445.8" stroke="#989898" stroke-width="1.3" fill="none"/>
<path d="M915.9 1415.2V1445.8M1013.9 1415.2V1445.8" stroke="#707070" stroke-width="1.7" fill="none"/>
<path d="M942.9 1415.2V1445.8M1032.5 1415.2V1445.8" stroke="#a0a0a0" stroke-width="1.3" fill="none"/>
<path d="M946.0 1415.2V1445.8M1034.5 1415.2V1445.8M1036.2 1415.2V1445.8" stroke="#888888" stroke-width="1.3" fill="none"/>
<path d="M969.2 1415.2V1445.8" stroke="#404040" stroke-width="1.3" fill="none"/>
<path d="M971.4 1415.2V1445.8" stroke="#808080" stroke-width="1.3" fill="none"/>
<path d="M991.5 1415.2V1445.8" stroke="#606060" stroke-width="1.4" fill="none"/>
<path d="M994.8 1415.2V1445.8M1058.6 1415.2V1445.8M1074.3 1415.2V1445.8" stroke="#404040" stroke-width="1.4" fill="none"/>
<path d="M1003.7 1415.2V1445.8M1059.6 1415.2V1445.8" stroke="#101010" stroke-width="1.4" fill="none"/>
<path d="M1039.8 1415.2V1445.8" stroke="#787878" stroke-width="1.7" fill="none"/>
<path d="M1070.1 1415.2V1445.8" stroke="#686868" stroke-width="1.7" fill="none"/>
<rect x="787.2" y="1445.8" width="18.9" height="10.9" fill="#dc3535"/>
<rect x="805.6" y="1445.8" width="34.7" height="10.9" fill="#ef5f4c"/>
<rect x="839.9" y="1445.8" width="32.0" height="10.9" fill="#f0907c"/>
<rect x="871.5" y="1445.8" width="46.1" height="10.9" fill="#f5c0b0"/>
<rect x="917.2" y="1445.8" width="62.8" height="10.9" fill="#d4ddf6"/>
<rect x="979.6" y="1445.8" width="47.9" height="10.9" fill="#8fb2e6"/>
<rect x="1027.0" y="1445.8" width="47.9" height="10.9" fill="#4a8cd3"/>
<rect x="1074.5" y="1445.8" width="3.9" height="10.9" fill="#2a7ac2"/>
<polyline points="786.2,1340.0 786.2,1338.6 786.2,1336.7 786.1,1333.5 786.1,1330.6 786.0,1328.2 786.0,1325.5 786.1,1322.5 786.2,1319.5 786.5,1316.4 786.8,1314.1 787.3,1312.2 787.9,1310.7 788.5,1308.2 789.3,1306.5 790.1,1305.3 791.0,1304.2 791.8,1301.7 792.7,1300.0 793.6,1298.6 794.4,1297.6 795.2,1296.0 796.1,1293.8 796.9,1292.1 797.8,1290.9 798.7,1289.3 799.6,1287.8 800.4,1286.4 801.2,1284.3 802.0,1283.7 802.8,1283.2 803.5,1282.7 804.0,1281.4 804.5,1281.7 804.9,1281.2 805.4,1281.5 805.9,1280.7 806.4,1281.4 807.1,1281.8 808.0,1281.6 809.0,1281.5 810.1,1282.0 811.1,1282.2 812.1,1282.4 813.1,1282.9 814.4,1283.9 815.8,1284.0 817.6,1285.7 819.9,1286.8 822.5,1288.5 825.8,1290.4 829.8,1292.7 834.7,1296.0 840.2,1299.6 846.1,1303.0 852.3,1307.4 858.6,1310.4 864.7,1314.3 870.5,1318.0 875.8,1321.5 880.4,1324.5 884.3,1327.0 887.7,1329.3 890.6,1331.1 893.3,1331.9 895.8,1333.7 898.3,1335.2 900.8,1336.4 903.4,1337.6 906.4,1339.8 909.7,1341.3 913.4,1343.8 917.3,1345.7 921.4,1348.6 925.6,1350.9 929.9,1352.3 934.3,1355.5 938.7,1357.9 943.1,1359.8 947.4,1361.9 951.7,1364.6 955.9,1366.6 960.2,1369.4 964.5,1371.8 968.9,1373.4 973.2,1375.5 977.4,1377.9 981.6,1380.2 985.8,1382.3 989.7,1383.9 993.6,1385.4 997.4,1387.0 1001.1,1389.1 1004.8,1390.2 1008.4,1390.9 1012.0,1392.6 1015.4,1393.6 1018.6,1395.2 1021.7,1395.6 1024.6,1396.8 1027.2,1397.6 1029.6,1399.1 1031.7,1400.6 1033.6,1401.0 1035.3,1401.7 1036.9,1403.2 1038.4,1402.9 1039.8,1403.9 1041.2,1405.0 1042.6,1404.4 1044.0,1405.6 1045.4,1405.3 1046.8,1404.8 1048.1,1404.9 1049.3,1404.8 1050.6,1404.4 1051.8,1404.1 1053.0,1403.1 1054.1,1402.8 1055.4,1403.3 1056.6,1402.2 1057.9,1401.9 1059.2,1401.1 1060.6,1401.0 1061.9,1401.4 1063.3,1400.8 1064.6,1400.1 1065.9,1399.2 1067.1,1399.1 1068.2,1399.0 1069.2,1398.0 1070.1,1397.6 1070.9,1397.4 1071.7,1396.4 1072.3,1395.7 1073.0,1394.3 1073.5,1393.5 1074.0,1393.5 1074.5,1392.1 1075.0,1391.5 1075.4,1390.2 1075.8,1388.8 1076.1,1386.3 1076.4,1384.9 1076.6,1382.4 1076.8,1380.3 1077.0,1377.2 1077.2,1375.9 1077.3,1373.5 1077.4,1372.6 1077.5,1370.9" fill="none" stroke="#2ab42a" stroke-width="2.2" stroke-linejoin="round"/>
<path d="M786.0,1277.3 V1457.9 H1078.0" fill="none" stroke="#000" stroke-width="2.3"/>
<line x1="778.5" y1="1293.9" x2="786.0" y2="1293.9" stroke="#000" stroke-width="2"/>
<text x="773.7" y="1299.7" font-size="16.0" text-anchor="end" font-weight="normal" font-style="normal" >0.6</text>
<line x1="778.5" y1="1329.6" x2="786.0" y2="1329.6" stroke="#000" stroke-width="2"/>
<text x="773.7" y="1335.4" font-size="16.0" text-anchor="end" font-weight="normal" font-style="normal" >0.4</text>
<line x1="778.5" y1="1365.3" x2="786.0" y2="1365.3" stroke="#000" stroke-width="2"/>
<text x="773.7" y="1371.1" font-size="16.0" text-anchor="end" font-weight="normal" font-style="normal" >0.2</text>
<line x1="778.5" y1="1401.0" x2="786.0" y2="1401.0" stroke="#000" stroke-width="2"/>
<text x="773.7" y="1406.8" font-size="16.0" text-anchor="end" font-weight="normal" font-style="normal" >0.0</text>
<line x1="848.4" y1="1457.9" x2="848.4" y2="1465.4" stroke="#000" stroke-width="2"/>
<text x="849.0" y="1486.5" font-size="15.8" text-anchor="middle" font-weight="normal" font-style="normal" >5000</text>
<line x1="910.8" y1="1457.9" x2="910.8" y2="1465.4" stroke="#000" stroke-width="2"/>
<text x="911.4" y="1486.5" font-size="15.8" text-anchor="middle" font-weight="normal" font-style="normal" >10000</text>
<line x1="973.2" y1="1457.9" x2="973.2" y2="1465.4" stroke="#000" stroke-width="2"/>
<text x="973.8" y="1486.5" font-size="15.8" text-anchor="middle" font-weight="normal" font-style="normal" >15000</text>
<line x1="1035.6" y1="1457.9" x2="1035.6" y2="1465.4" stroke="#000" stroke-width="2"/>
<text x="1036.2" y="1486.5" font-size="15.8" text-anchor="middle" font-weight="normal" font-style="normal" >20000</text>
<text x="933.0" y="1510.2" font-size="15.8" text-anchor="middle" font-weight="normal" font-style="normal" >Rank in ordered dataset</text>
<text transform="translate(736.0,1351.3) rotate(-90)" font-size="15.8" text-anchor="middle" >Running enrichment score</text>
<text x="929.8" y="1291.7" font-size="16.0" text-anchor="start" font-weight="normal" font-style="normal" >NES</text>
<text x="972.8" y="1291.7" font-size="16.0" text-anchor="start" font-weight="normal" font-style="normal" >1.456064</text>
<text x="929.8" y="1310.5" font-size="16.0" text-anchor="start" font-weight="normal" font-style="normal" >p-value</text>
<text x="991.2" y="1310.5" font-size="16.0" text-anchor="start" font-weight="normal" font-style="normal" >0.007228</text>
<line x1="1171.7" y1="1278.3" x2="1171.7" y2="1415.2" stroke="#e0e0e0" stroke-width="1.1"/>
<line x1="1202.9" y1="1278.3" x2="1202.9" y2="1415.2" stroke="#e0e0e0" stroke-width="1.1"/>
<line x1="1234.1" y1="1278.3" x2="1234.1" y2="1415.2" stroke="#e0e0e0" stroke-width="1.1"/>
<line x1="1265.3" y1="1278.3" x2="1265.3" y2="1415.2" stroke="#e0e0e0" stroke-width="1.1"/>
<line x1="1296.5" y1="1278.3" x2="1296.5" y2="1415.2" stroke="#e0e0e0" stroke-width="1.1"/>
<line x1="1327.7" y1="1278.3" x2="1327.7" y2="1415.2" stroke="#e0e0e0" stroke-width="1.1"/>
<line x1="1358.9" y1="1278.3" x2="1358.9" y2="1415.2" stroke="#e0e0e0" stroke-width="1.1"/>
<line x1="1390.1" y1="1278.3" x2="1390.1" y2="1415.2" stroke="#e0e0e0" stroke-width="1.1"/>
<line x1="1421.3" y1="1278.3" x2="1421.3" y2="1415.2" stroke="#e0e0e0" stroke-width="1.1"/>
<line x1="1145.5" y1="1335.2" x2="1431.5" y2="1335.2" stroke="#000" stroke-width="2.2" stroke-dasharray="2.2,3.5"/>
<path d="M1143.4 1415.2V1445.8" stroke="#585858" stroke-width="1.3" fill="none"/>
<path d="M1144.6 1415.2V1445.8M1146.4 1415.2V1445.8M1318.4 1415.2V1445.8M1322.1 1415.2V1445.8M1404.4 1415.2V1445.8M1414.8 1415.2V1445.8" stroke="#606060" stroke-width="1.3" fill="none"/>
<path d="M1148.4 1415.2V1445.8M1170.4 1415.2V1445.8M1277.7 1415.2V1445.8M1413.1 1415.2V1445.8" stroke="#505050" stroke-width="1.3" fill="none"/>
<path d="M1151.3 1415.2V1445.8M1201.7 1415.2V1445.8M1279.0 1415.2V1445.8" stroke="#707070" stroke-width="1.3" fill="none"/>
<path d="M1153.0 1415.2V1445.8M1193.7 1415.2V1445.8M1305.7 1415.2V1445.8" stroke="#686868" stroke-width="1.3" fill="none"/>
<path d="M1160.9 1415.2V1445.8M1233.9 1415.2V1445.8M1254.9 1415.2V1445.8M1396.3 1415.2V1445.8" stroke="#585858" stroke-width="1.4" fill="none"/>
<path d="M1161.9 1415.2V1445.8M1230.5 1415.2V1445.8M1337.7 1415.2V1445.8M1340.4 1415.2V1445.8" stroke="#080808" stroke-width="1.4" fill="none"/>
<path d="M1164.3 1415.2V1445.8M1185.6 1415.2V1445.8" stroke="#606060" stroke-width="1.4" fill="none"/>
<path d="M1172.0 1415.2V1445.8M1238.6 1415.2V1445.8M1387.8 1415.2V1445.8M1411.1 1415.2V1445.8" stroke="#a0a0a0" stroke-width="1.3" fill="none"/>
<path d="M1174.9 1415.2V1445.8M1305.0 1415.2V1445.8M1389.4 1415.2V1445.8" stroke="#484848" stroke-width="1.3" fill="none"/>
<path d="M1177.2 1415.2V1445.8M1299.8 1415.2V1445.8M1311.2 1415.2V1445.8" stroke="#606060" stroke-width="1.7" fill="none"/>
<path d="M1181.3 1415.2V1445.8M1198.5 1415.2V1445.8M1333.7 1415.2V1445.8" stroke="#202020" stroke-width="1.4" fill="none"/>
<path d="M1183.0 1415.2V1445.8M1217.3 1415.2V1445.8" stroke="#282828" stroke-width="1.4" fill="none"/>
<path d="M1184.4 1415.2V1445.8M1187.2 1415.2V1445.8M1393.4 1415.2V1445.8M1397.8 1415.2V1445.8M1425.5 1415.2V1445.8M1427.2 1415.2V1445.8" stroke="#101010" stroke-width="1.4" fill="none"/>
<path d="M1191.7 1415.2V1445.8M1324.2 1415.2V1445.8M1386.4 1415.2V1445.8" stroke="#808080" stroke-width="1.3" fill="none"/>
<path d="M1195.5 1415.2V1445.8M1235.2 1415.2V1445.8M1258.4 1415.2V1445.8M1339.6 1415.2V1445.8" stroke="#383838" stroke-width="1.4" fill="none"/>
<path d="M1197.4 1415.2V1445.8M1337.0 1415.2V1445.8M1430.7 1415.2V1445.8" stroke="#181818" stroke-width="1.4" fill="none"/>
<path d="M1200.7 1415.2V1445.8M1384.2 1415.2V1445.8" stroke="#888888" stroke-width="1.3" fill="none"/>
<path d="M1206.6 1415.2V1445.8" stroke="#787878" stroke-width="1.7" fill="none"/>
<path d="M1209.1 1415.2V1445.8M1319.6 1415.2V1445.8M1405.5 1415.2V1445.8" stroke="#909090" stroke-width="1.3" fill="none"/>
<path d="M1210.7 1415.2V1445.8M1275.4 1415.2V1445.8" stroke="#787878" stroke-width="1.3" fill="none"/>
<path d="M1214.9 1415.2V1445.8M1399.2 1415.2V1445.8" stroke="#505050" stroke-width="1.4" fill="none"/>
<path d="M1215.9 1415.2V1445.8M1232.0 1415.2V1445.8M1256.3 1415.2V1445.8M1335.6 1415.2V1445.8M1394.3 1415.2V1445.8M1431.8 1415.2V1445.8" stroke="#303030" stroke-width="1.4" fill="none"/>
<path d="M1240.1 1415.2V1445.8" stroke="#a8a8a8" stroke-width="1.3" fill="none"/>
<path d="M1247.5 1415.2V1445.8M1260.7 1415.2V1445.8" stroke="#686868" stroke-width="1.7" fill="none"/>
<path d="M1269.0 1415.2V1445.8M1420.6 1415.2V1445.8" stroke="#888888" stroke-width="1.7" fill="none"/>
<path d="M1286.6 1415.2V1445.8M1360.4 1415.2V1445.8M1378.0 1415.2V1445.8" stroke="#707070" stroke-width="1.7" fill="none"/>
<path d="M1332.4 1415.2V1445.8M1428.9 1415.2V1445.8" stroke="#404040" stroke-width="1.4" fill="none"/>
<path d="M1347.2 1415.2V1445.8" stroke="#080808" stroke-width="1.9" fill="none"/>
<path d="M1354.7 1415.2V1445.8M1367.4 1415.2V1445.8" stroke="#808080" stroke-width="1.7" fill="none"/>
<path d="M1373.6 1415.2V1445.8" stroke="#585858" stroke-width="1.7" fill="none"/>
<path d="M1400.2 1415.2V1445.8" stroke="#484848" stroke-width="1.4" fill="none"/>
<rect x="1142.0" y="1445.8" width="20.6" height="10.9" fill="#de3535"/>
<rect x="1162.2" y="1445.8" width="25.9" height="10.9" fill="#ee604d"/>
<rect x="1187.7" y="1445.8" width="48.7" height="10.9" fill="#f0907c"/>
<rect x="1236.1" y="1445.8" width="68.1" height="10.9" fill="#f6bfae"/>
<rect x="1303.7" y="1445.8" width="39.1" height="10.9" fill="#d4dbf6"/>
<rect x="1342.4" y="1445.8" width="39.9" height="10.9" fill="#92b4e6"/>
<rect x="1381.9" y="1445.8" width="31.2" height="10.9" fill="#4a8cd3"/>
<rect x="1412.7" y="1445.8" width="20.6" height="10.9" fill="#2f80c6"/>
<polyline points="1140.8,1330.0 1140.8,1328.5 1140.8,1325.9 1140.8,1323.3 1140.7,1320.7 1140.7,1316.5 1140.7,1313.3 1140.8,1310.2 1140.9,1307.1 1141.0,1304.7 1141.3,1301.8 1141.6,1299.7 1141.9,1297.3 1142.3,1295.7 1142.7,1293.9 1143.2,1291.5 1143.7,1289.6 1144.3,1288.3 1145.0,1287.0 1145.9,1286.5 1146.8,1284.6 1147.9,1284.1 1149.0,1283.4 1150.3,1283.2 1151.7,1281.8 1153.1,1282.3 1154.7,1281.5 1156.3,1281.1 1157.9,1281.7 1159.6,1281.9 1161.4,1281.6 1163.2,1281.0 1165.2,1282.2 1167.2,1281.7 1169.3,1282.3 1171.5,1282.7 1173.7,1282.5 1175.9,1283.1 1178.1,1283.5 1180.3,1283.8 1182.4,1284.4 1184.3,1285.7 1185.9,1285.8 1187.4,1286.7 1188.8,1286.1 1190.3,1286.9 1192.0,1287.5 1194.0,1289.3 1196.5,1290.5 1199.6,1292.3 1203.4,1294.1 1208.1,1296.5 1213.6,1300.4 1219.8,1304.2 1226.5,1308.3 1233.5,1313.6 1240.6,1318.0 1247.6,1322.4 1254.4,1327.4 1260.7,1332.0 1266.3,1335.7 1271.3,1338.4 1276.0,1341.1 1280.3,1344.7 1284.4,1346.7 1288.3,1349.8 1292.2,1351.8 1296.1,1355.3 1300.0,1357.3 1304.0,1359.8 1308.3,1362.2 1312.8,1365.4 1317.5,1368.7 1322.4,1371.0 1327.2,1373.7 1332.1,1377.0 1337.0,1380.4 1341.7,1382.5 1346.2,1385.4 1350.4,1388.1 1354.4,1389.5 1358.1,1392.0 1361.6,1393.4 1365.0,1394.5 1368.2,1395.8 1371.2,1398.1 1374.1,1398.7 1376.7,1399.7 1379.3,1401.2 1381.6,1401.6 1383.8,1402.3 1385.7,1402.7 1387.3,1403.9 1388.7,1403.8 1389.8,1404.4 1390.9,1405.0 1391.9,1405.0 1392.8,1404.5 1393.9,1404.5 1395.0,1404.9 1396.4,1404.7 1397.9,1403.4 1399.6,1403.7 1401.3,1401.7 1403.0,1400.7 1404.8,1399.4 1406.6,1398.7 1408.3,1397.7 1410.0,1396.9 1411.7,1395.1 1413.2,1395.0 1414.7,1393.8 1416.1,1394.2 1417.5,1393.7 1418.8,1393.9 1420.1,1393.6 1421.4,1394.4 1422.5,1393.5 1423.7,1393.9 1424.7,1392.7 1425.7,1391.9 1426.6,1390.5 1427.4,1388.6 1428.2,1387.2 1428.9,1385.1 1429.6,1382.0 1430.1,1379.5 1430.7,1377.6 1431.2,1374.0 1431.6,1371.5 1432.0,1368.7 1432.3,1366.3 1432.6,1361.8 1432.8,1358.6 1432.9,1354.8 1433.0,1350.8 1433.1,1346.1 1433.2,1343.7 1433.2,1339.7 1433.2,1337.7 1433.3,1335.2" fill="none" stroke="#2ab42a" stroke-width="2.2" stroke-linejoin="round"/>
<path d="M1140.5,1277.3 V1457.9 H1432.5" fill="none" stroke="#000" stroke-width="2.3"/>
<line x1="1133.0" y1="1298.5" x2="1140.5" y2="1298.5" stroke="#000" stroke-width="2"/>
<text x="1128.2" y="1304.3" font-size="16.0" text-anchor="end" font-weight="normal" font-style="normal" >0.2</text>
<line x1="1133.0" y1="1335.2" x2="1140.5" y2="1335.2" stroke="#000" stroke-width="2"/>
<text x="1128.2" y="1341.0" font-size="16.0" text-anchor="end" font-weight="normal" font-style="normal" >0.0</text>
<line x1="1133.0" y1="1371.9" x2="1140.5" y2="1371.9" stroke="#000" stroke-width="2"/>
<text x="1128.2" y="1377.7" font-size="16.0" text-anchor="end" font-weight="normal" font-style="normal" >-0.2</text>
<line x1="1133.0" y1="1408.6" x2="1140.5" y2="1408.6" stroke="#000" stroke-width="2"/>
<text x="1128.2" y="1414.4" font-size="16.0" text-anchor="end" font-weight="normal" font-style="normal" >-0.4</text>
<line x1="1202.9" y1="1457.9" x2="1202.9" y2="1465.4" stroke="#000" stroke-width="2"/>
<text x="1203.5" y="1486.5" font-size="15.8" text-anchor="middle" font-weight="normal" font-style="normal" >5000</text>
<line x1="1265.3" y1="1457.9" x2="1265.3" y2="1465.4" stroke="#000" stroke-width="2"/>
<text x="1265.9" y="1486.5" font-size="15.8" text-anchor="middle" font-weight="normal" font-style="normal" >10000</text>
<line x1="1327.7" y1="1457.9" x2="1327.7" y2="1465.4" stroke="#000" stroke-width="2"/>
<text x="1328.3" y="1486.5" font-size="15.8" text-anchor="middle" font-weight="normal" font-style="normal" >15000</text>
<line x1="1390.1" y1="1457.9" x2="1390.1" y2="1465.4" stroke="#000" stroke-width="2"/>
<text x="1390.7" y="1486.5" font-size="15.8" text-anchor="middle" font-weight="normal" font-style="normal" >20000</text>
<text x="1287.5" y="1510.2" font-size="15.8" text-anchor="middle" font-weight="normal" font-style="normal" >Rank in ordered dataset</text>
<text x="1284.3" y="1291.7" font-size="16.0" text-anchor="start" font-weight="normal" font-style="normal" >NES</text>
<text x="1327.3" y="1291.7" font-size="16.0" text-anchor="start" font-weight="normal" font-style="normal" >-0.95317</text>
<text x="1284.3" y="1310.5" font-size="16.0" text-anchor="start" font-weight="normal" font-style="normal" >p-value</text>
<text x="1345.7" y="1310.5" font-size="16.0" text-anchor="start" font-weight="normal" font-style="normal" >0.579374</text>
<line x1="1542.7" y1="1278.3" x2="1542.7" y2="1415.2" stroke="#e0e0e0" stroke-width="1.1"/>
<line x1="1573.9" y1="1278.3" x2="1573.9" y2="1415.2" stroke="#e0e0e0" stroke-width="1.1"/>
<line x1="1605.1" y1="1278.3" x2="1605.1" y2="1415.2" stroke="#e0e0e0" stroke-width="1.1"/>
<line x1="1636.3" y1="1278.3" x2="1636.3" y2="1415.2" stroke="#e0e0e0" stroke-width="1.1"/>
<line x1="1667.5" y1="1278.3" x2="1667.5" y2="1415.2" stroke="#e0e0e0" stroke-width="1.1"/>
<line x1="1698.7" y1="1278.3" x2="1698.7" y2="1415.2" stroke="#e0e0e0" stroke-width="1.1"/>
<line x1="1729.9" y1="1278.3" x2="1729.9" y2="1415.2" stroke="#e0e0e0" stroke-width="1.1"/>
<line x1="1761.1" y1="1278.3" x2="1761.1" y2="1415.2" stroke="#e0e0e0" stroke-width="1.1"/>
<line x1="1792.3" y1="1278.3" x2="1792.3" y2="1415.2" stroke="#e0e0e0" stroke-width="1.1"/>
<line x1="1516.5" y1="1376.0" x2="1802.5" y2="1376.0" stroke="#000" stroke-width="2.2" stroke-dasharray="2.2,3.5"/>
<path d="M1513.9 1415.2V1445.8M1723.1 1415.2V1445.8M1783.0 1415.2V1445.8" stroke="#282828" stroke-width="1.4" fill="none"/>
<path d="M1515.6 1415.2V1445.8M1723.9 1415.2V1445.8M1736.3 1415.2V1445.8M1741.2 1415.2V1445.8M1794.5 1415.2V1445.8M1797.2 1415.2V1445.8M1799.4 1415.2V1445.8" stroke="#404040" stroke-width="1.4" fill="none"/>
<path d="M1516.7 1415.2V1445.8M1518.3 1415.2V1445.8M1576.7 1415.2V1445.8M1718.0 1415.2V1445.8" stroke="#484848" stroke-width="1.4" fill="none"/>
<path d="M1519.9 1415.2V1445.8M1522.4 1415.2V1445.8M1525.4 1415.2V1445.8M1793.5 1415.2V1445.8" stroke="#505050" stroke-width="1.4" fill="none"/>
<path d="M1521.0 1415.2V1445.8M1551.1 1415.2V1445.8M1572.2 1415.2V1445.8M1573.9 1415.2V1445.8M1728.1 1415.2V1445.8M1738.3 1415.2V1445.8M1739.7 1415.2V1445.8" stroke="#303030" stroke-width="1.4" fill="none"/>
<path d="M1526.2 1415.2V1445.8M1719.2 1415.2V1445.8M1795.8 1415.2V1445.8M1800.1 1415.2V1445.8" stroke="#383838" stroke-width="1.4" fill="none"/>
<path d="M1528.0 1415.2V1445.8M1571.1 1415.2V1445.8M1725.5 1415.2V1445.8M1734.3 1415.2V1445.8M1781.1 1415.2V1445.8" stroke="#101010" stroke-width="1.4" fill="none"/>
<path d="M1529.1 1415.2V1445.8M1731.2 1415.2V1445.8" stroke="#606060" stroke-width="1.4" fill="none"/>
<path d="M1531.1 1415.2V1445.8M1624.4 1415.2V1445.8M1627.6 1415.2V1445.8" stroke="#181818" stroke-width="1.4" fill="none"/>
<path d="M1537.3 1415.2V1445.8M1538.7 1415.2V1445.8M1542.2 1415.2V1445.8M1585.5 1415.2V1445.8M1699.5 1415.2V1445.8" stroke="#808080" stroke-width="1.3" fill="none"/>
<path d="M1540.5 1415.2V1445.8M1561.8 1415.2V1445.8M1589.9 1415.2V1445.8" stroke="#606060" stroke-width="1.3" fill="none"/>
<path d="M1546.0 1415.2V1445.8" stroke="#707070" stroke-width="1.7" fill="none"/>
<path d="M1552.5 1415.2V1445.8M1606.1 1415.2V1445.8M1732.8 1415.2V1445.8" stroke="#202020" stroke-width="1.4" fill="none"/>
<path d="M1557.2 1415.2V1445.8M1591.7 1415.2V1445.8M1652.3 1415.2V1445.8M1697.9 1415.2V1445.8" stroke="#686868" stroke-width="1.3" fill="none"/>
<path d="M1558.8 1415.2V1445.8M1688.4 1415.2V1445.8M1770.3 1415.2V1445.8" stroke="#909090" stroke-width="1.3" fill="none"/>
<path d="M1560.4 1415.2V1445.8M1583.4 1415.2V1445.8M1701.5 1415.2V1445.8M1773.7 1415.2V1445.8" stroke="#888888" stroke-width="1.3" fill="none"/>
<path d="M1564.4 1415.2V1445.8M1754.7 1415.2V1445.8" stroke="#505050" stroke-width="1.3" fill="none"/>
<path d="M1565.3 1415.2V1445.8" stroke="#404040" stroke-width="1.3" fill="none"/>
<path d="M1575.1 1415.2V1445.8M1604.1 1415.2V1445.8M1726.8 1415.2V1445.8M1729.4 1415.2V1445.8M1735.0 1415.2V1445.8" stroke="#080808" stroke-width="1.4" fill="none"/>
<path d="M1581.7 1415.2V1445.8M1586.3 1415.2V1445.8M1687.6 1415.2V1445.8" stroke="#989898" stroke-width="1.3" fill="none"/>
<path d="M1589.1 1415.2V1445.8M1713.1 1415.2V1445.8M1714.3 1415.2V1445.8M1758.5 1415.2V1445.8" stroke="#585858" stroke-width="1.3" fill="none"/>
<path d="M1599.1 1415.2V1445.8" stroke="#585858" stroke-width="1.7" fill="none"/>
<path d="M1612.3 1415.2V1445.8M1631.2 1415.2V1445.8M1642.2 1415.2V1445.8M1662.4 1415.2V1445.8M1746.3 1415.2V1445.8" stroke="#080808" stroke-width="1.9" fill="none"/>
<path d="M1618.0 1415.2V1445.8" stroke="#787878" stroke-width="1.7" fill="none"/>
<path d="M1626.3 1415.2V1445.8" stroke="#585858" stroke-width="1.4" fill="none"/>
<path d="M1647.9 1415.2V1445.8M1788.1 1415.2V1445.8" stroke="#686868" stroke-width="1.7" fill="none"/>
<path d="M1652.9 1415.2V1445.8M1756.4 1415.2V1445.8" stroke="#707070" stroke-width="1.3" fill="none"/>
<path d="M1682.6 1415.2V1445.8" stroke="#808080" stroke-width="1.7" fill="none"/>
<path d="M1696.2 1415.2V1445.8" stroke="#a0a0a0" stroke-width="1.3" fill="none"/>
<path d="M1771.8 1415.2V1445.8" stroke="#787878" stroke-width="1.3" fill="none"/>
<rect x="1513.0" y="1445.8" width="26.8" height="10.9" fill="#d83030"/>
<rect x="1539.4" y="1445.8" width="49.6" height="10.9" fill="#ee5b48"/>
<rect x="1588.6" y="1445.8" width="73.3" height="10.9" fill="#f0887a"/>
<rect x="1661.5" y="1445.8" width="40.8" height="10.9" fill="#f6c0b0"/>
<rect x="1702.0" y="1445.8" width="36.4" height="10.9" fill="#d0daf6"/>
<rect x="1738.0" y="1445.8" width="25.9" height="10.9" fill="#8fb2e6"/>
<rect x="1763.5" y="1445.8" width="25.0" height="10.9" fill="#4d8dd3"/>
<rect x="1788.1" y="1445.8" width="15.3" height="10.9" fill="#2f80c6"/>
<polyline points="1511.8,1376.0 1511.8,1374.9 1511.8,1373.6 1511.7,1371.8 1511.7,1370.3 1511.7,1368.7 1511.7,1366.2 1511.7,1364.6 1511.8,1361.6 1512.0,1358.9 1512.3,1355.7 1512.7,1352.5 1513.2,1349.2 1513.8,1343.9 1514.4,1338.9 1515.1,1334.3 1515.8,1330.2 1516.5,1324.5 1517.2,1320.6 1517.9,1316.8 1518.6,1314.4 1519.2,1312.0 1519.9,1310.0 1520.5,1309.9 1521.1,1308.6 1521.8,1308.6 1522.4,1308.1 1523.0,1308.3 1523.6,1306.9 1524.3,1306.5 1524.9,1305.5 1525.5,1304.1 1526.1,1303.1 1526.7,1300.8 1527.2,1298.6 1527.8,1296.8 1528.4,1295.2 1529.0,1293.1 1529.7,1291.3 1530.4,1290.2 1531.2,1289.2 1532.1,1288.5 1533.0,1288.3 1534.0,1288.1 1535.0,1288.8 1536.1,1289.8 1537.2,1289.7 1538.3,1290.3 1539.4,1291.0 1540.6,1291.3 1541.7,1290.8 1542.8,1290.9 1543.9,1290.9 1544.9,1289.5 1545.9,1289.0 1547.0,1289.1 1548.2,1288.7 1549.5,1287.2 1550.9,1286.8 1552.4,1287.2 1554.2,1286.7 1556.1,1287.3 1558.0,1286.6 1560.0,1287.2 1562.2,1287.1 1564.4,1287.6 1566.9,1288.5 1569.6,1289.1 1572.5,1290.6 1575.8,1291.9 1579.4,1293.4 1583.5,1296.0 1588.0,1298.0 1592.9,1301.6 1598.2,1304.9 1603.6,1309.0 1609.0,1312.2 1614.5,1317.0 1619.9,1320.0 1625.0,1324.0 1629.8,1327.3 1634.3,1330.2 1638.7,1332.3 1643.0,1335.5 1647.2,1338.2 1651.3,1339.6 1655.3,1342.8 1659.4,1345.1 1663.5,1347.2 1667.5,1349.3 1671.7,1351.6 1675.9,1354.3 1680.2,1357.4 1684.5,1359.2 1688.9,1361.5 1693.2,1364.3 1697.4,1366.5 1701.6,1369.0 1705.8,1371.0 1709.7,1372.9 1713.6,1374.5 1717.3,1377.3 1720.9,1378.8 1724.4,1379.8 1727.8,1381.6 1731.2,1383.1 1734.5,1384.3 1737.7,1386.1 1740.9,1387.3 1744.0,1388.1 1747.2,1389.6 1750.4,1391.5 1753.7,1392.6 1757.0,1395.3 1760.3,1396.0 1763.5,1398.3 1766.6,1399.6 1769.5,1401.4 1772.1,1402.1 1774.5,1403.4 1776.6,1405.0 1778.3,1405.1 1779.6,1404.3 1780.7,1404.3 1781.5,1403.2 1782.1,1402.6 1782.6,1402.0 1783.1,1402.2 1783.7,1400.7 1784.3,1400.1 1785.0,1399.7 1785.8,1399.7 1786.7,1401.0 1787.6,1401.1 1788.5,1401.7 1789.3,1402.0 1790.2,1402.4 1791.0,1402.1 1791.9,1402.2 1792.6,1402.3 1793.4,1401.8 1794.1,1401.4 1794.8,1401.3 1795.5,1400.1 1796.2,1398.4 1796.8,1397.6 1797.5,1397.0 1798.0,1395.8 1798.6,1394.4 1799.1,1393.2 1799.6,1392.3 1800.0,1390.8 1800.5,1389.4 1800.8,1388.4 1801.2,1386.9 1801.5,1385.4 1801.8,1384.5 1802.0,1383.7 1802.2,1382.4 1802.4,1381.5 1802.6,1381.4" fill="none" stroke="#2ab42a" stroke-width="2.2" stroke-linejoin="round"/>
<path d="M1511.5,1277.3 V1457.9 H1803.5" fill="none" stroke="#000" stroke-width="2.3"/>
<line x1="1504.0" y1="1304.6" x2="1511.5" y2="1304.6" stroke="#000" stroke-width="2"/>
<text x="1499.2" y="1310.4" font-size="16.0" text-anchor="end" font-weight="normal" font-style="normal" >0.4</text>
<line x1="1504.0" y1="1340.3" x2="1511.5" y2="1340.3" stroke="#000" stroke-width="2"/>
<text x="1499.2" y="1346.1" font-size="16.0" text-anchor="end" font-weight="normal" font-style="normal" >0.2</text>
<line x1="1504.0" y1="1376.0" x2="1511.5" y2="1376.0" stroke="#000" stroke-width="2"/>
<text x="1499.2" y="1381.8" font-size="16.0" text-anchor="end" font-weight="normal" font-style="normal" >0.0</text>
<line x1="1573.9" y1="1457.9" x2="1573.9" y2="1465.4" stroke="#000" stroke-width="2"/>
<text x="1574.5" y="1486.5" font-size="15.8" text-anchor="middle" font-weight="normal" font-style="normal" >5000</text>
<line x1="1636.3" y1="1457.9" x2="1636.3" y2="1465.4" stroke="#000" stroke-width="2"/>
<text x="1636.9" y="1486.5" font-size="15.8" text-anchor="middle" font-weight="normal" font-style="normal" >10000</text>
<line x1="1698.7" y1="1457.9" x2="1698.7" y2="1465.4" stroke="#000" stroke-width="2"/>
<text x="1699.3" y="1486.5" font-size="15.8" text-anchor="middle" font-weight="normal" font-style="normal" >15000</text>
<line x1="1761.1" y1="1457.9" x2="1761.1" y2="1465.4" stroke="#000" stroke-width="2"/>
<text x="1761.7" y="1486.5" font-size="15.8" text-anchor="middle" font-weight="normal" font-style="normal" >20000</text>
<text x="1658.5" y="1510.2" font-size="15.8" text-anchor="middle" font-weight="normal" font-style="normal" >Rank in ordered dataset</text>
<text transform="translate(1461.5,1351.3) rotate(-90)" font-size="15.8" text-anchor="middle" >Running enrichment score</text>
<text x="1655.3" y="1291.7" font-size="16.0" text-anchor="start" font-weight="normal" font-style="normal" >NES</text>
<text x="1698.3" y="1291.7" font-size="16.0" text-anchor="start" font-weight="normal" font-style="normal" >1.416663</text>
<text x="1655.3" y="1310.5" font-size="16.0" text-anchor="start" font-weight="normal" font-style="normal" >p-value</text>
<text x="1716.7" y="1310.5" font-size="16.0" text-anchor="start" font-weight="normal" font-style="normal" >0.015502</text>
<line x1="1894.6" y1="1278.3" x2="1894.6" y2="1415.2" stroke="#e0e0e0" stroke-width="1.1"/>
<line x1="1925.8" y1="1278.3" x2="1925.8" y2="1415.2" stroke="#e0e0e0" stroke-width="1.1"/>
<line x1="1957.0" y1="1278.3" x2="1957.0" y2="1415.2" stroke="#e0e0e0" stroke-width="1.1"/>
<line x1="1988.2" y1="1278.3" x2="1988.2" y2="1415.2" stroke="#e0e0e0" stroke-width="1.1"/>
<line x1="2019.4" y1="1278.3" x2="2019.4" y2="1415.2" stroke="#e0e0e0" stroke-width="1.1"/>
<line x1="2050.6" y1="1278.3" x2="2050.6" y2="1415.2" stroke="#e0e0e0" stroke-width="1.1"/>
<line x1="2081.8" y1="1278.3" x2="2081.8" y2="1415.2" stroke="#e0e0e0" stroke-width="1.1"/>
<line x1="2113.0" y1="1278.3" x2="2113.0" y2="1415.2" stroke="#e0e0e0" stroke-width="1.1"/>
<line x1="2144.2" y1="1278.3" x2="2144.2" y2="1415.2" stroke="#e0e0e0" stroke-width="1.1"/>
<line x1="1868.4" y1="1335.2" x2="2154.4" y2="1335.2" stroke="#000" stroke-width="2.2" stroke-dasharray="2.2,3.5"/>
<path d="M1865.5 1415.2V1445.8" stroke="#282828" stroke-width="1.4" fill="none"/>
<path d="M1867.7 1415.2V1445.8M1943.5 1415.2V1445.8M1980.0 1415.2V1445.8M1980.9 1415.2V1445.8M2128.1 1415.2V1445.8M2147.9 1415.2V1445.8M2151.8 1415.2V1445.8" stroke="#303030" stroke-width="1.4" fill="none"/>
<path d="M1869.2 1415.2V1445.8M1893.2 1415.2V1445.8M1897.6 1415.2V1445.8M1900.3 1415.2V1445.8M2123.7 1415.2V1445.8M2130.0 1415.2V1445.8M2136.1 1415.2V1445.8M2142.3 1415.2V1445.8" stroke="#484848" stroke-width="1.4" fill="none"/>
<path d="M1870.6 1415.2V1445.8M1872.0 1415.2V1445.8M1878.4 1415.2V1445.8M1920.6 1415.2V1445.8M1977.9 1415.2V1445.8M2113.3 1415.2V1445.8" stroke="#202020" stroke-width="1.4" fill="none"/>
<path d="M1876.5 1415.2V1445.8M2127.2 1415.2V1445.8M2131.7 1415.2V1445.8M2145.3 1415.2V1445.8" stroke="#505050" stroke-width="1.4" fill="none"/>
<path d="M1879.5 1415.2V1445.8M1945.2 1415.2V1445.8M2051.2 1415.2V1445.8M2133.1 1415.2V1445.8" stroke="#080808" stroke-width="1.4" fill="none"/>
<path d="M1884.5 1415.2V1445.8M1888.2 1415.2V1445.8M2081.3 1415.2V1445.8" stroke="#585858" stroke-width="1.3" fill="none"/>
<path d="M1885.9 1415.2V1445.8" stroke="#606060" stroke-width="1.3" fill="none"/>
<path d="M1892.1 1415.2V1445.8M1895.8 1415.2V1445.8M1902.9 1415.2V1445.8M1925.1 1415.2V1445.8M2110.9 1415.2V1445.8M2125.6 1415.2V1445.8M2149.4 1415.2V1445.8" stroke="#383838" stroke-width="1.4" fill="none"/>
<path d="M1894.5 1415.2V1445.8M1898.8 1415.2V1445.8M2109.2 1415.2V1445.8M2134.2 1415.2V1445.8" stroke="#585858" stroke-width="1.4" fill="none"/>
<path d="M1901.2 1415.2V1445.8M1946.6 1415.2V1445.8M2153.0 1415.2V1445.8" stroke="#181818" stroke-width="1.4" fill="none"/>
<path d="M1906.5 1415.2V1445.8M2003.7 1415.2V1445.8M2084.2 1415.2V1445.8M2095.7 1415.2V1445.8" stroke="#909090" stroke-width="1.3" fill="none"/>
<path d="M1907.5 1415.2V1445.8M2001.9 1415.2V1445.8" stroke="#707070" stroke-width="1.3" fill="none"/>
<path d="M1914.8 1415.2V1445.8" stroke="#989898" stroke-width="1.3" fill="none"/>
<path d="M1916.0 1415.2V1445.8M2094.7 1415.2V1445.8" stroke="#787878" stroke-width="1.3" fill="none"/>
<path d="M1919.4 1415.2V1445.8M1922.2 1415.2V1445.8M2052.7 1415.2V1445.8M2054.0 1415.2V1445.8M2055.6 1415.2V1445.8M2143.8 1415.2V1445.8" stroke="#404040" stroke-width="1.4" fill="none"/>
<path d="M1923.8 1415.2V1445.8M1926.3 1415.2V1445.8" stroke="#101010" stroke-width="1.4" fill="none"/>
<path d="M1937.4 1415.2V1445.8M2037.6 1415.2V1445.8M2075.4 1415.2V1445.8M2120.7 1415.2V1445.8" stroke="#888888" stroke-width="1.7" fill="none"/>
<path d="M1950.9 1415.2V1445.8" stroke="#a0a0a0" stroke-width="1.3" fill="none"/>
<path d="M1952.4 1415.2V1445.8" stroke="#686868" stroke-width="1.3" fill="none"/>
<path d="M1954.8 1415.2V1445.8M2083.0 1415.2V1445.8" stroke="#808080" stroke-width="1.3" fill="none"/>
<path d="M1959.8 1415.2V1445.8M1966.9 1415.2V1445.8M2006.9 1415.2V1445.8M2100.4 1415.2V1445.8" stroke="#080808" stroke-width="1.9" fill="none"/>
<path d="M1973.9 1415.2V1445.8" stroke="#585858" stroke-width="1.7" fill="none"/>
<path d="M1996.3 1415.2V1445.8" stroke="#707070" stroke-width="1.7" fill="none"/>
<path d="M1999.1 1415.2V1445.8M2079.6 1415.2V1445.8" stroke="#888888" stroke-width="1.3" fill="none"/>
<path d="M2064.0 1415.2V1445.8M2070.1 1415.2V1445.8M2116.3 1415.2V1445.8" stroke="#787878" stroke-width="1.7" fill="none"/>
<path d="M2089.5 1415.2V1445.8" stroke="#606060" stroke-width="1.7" fill="none"/>
<path d="M2146.7 1415.2V1445.8M2150.3 1415.2V1445.8" stroke="#606060" stroke-width="1.4" fill="none"/>
<rect x="1864.9" y="1445.8" width="10.1" height="10.9" fill="#dc3535"/>
<rect x="1874.6" y="1445.8" width="35.5" height="10.9" fill="#ee604d"/>
<rect x="1909.8" y="1445.8" width="56.6" height="10.9" fill="#f0907c"/>
<rect x="1966.0" y="1445.8" width="74.2" height="10.9" fill="#f6c0b0"/>
<rect x="2039.8" y="1445.8" width="35.5" height="10.9" fill="#d2dbf6"/>
<rect x="2075.0" y="1445.8" width="40.8" height="10.9" fill="#92b4e6"/>
<rect x="2115.4" y="1445.8" width="39.1" height="10.9" fill="#4a8cd3"/>
<polyline points="1863.7,1335.0 1863.7,1334.9 1863.7,1333.5 1863.7,1332.7 1863.7,1332.4 1863.7,1330.7 1863.7,1330.1 1863.8,1328.8 1864.0,1328.0 1864.3,1326.1 1864.7,1324.5 1865.2,1322.8 1865.9,1321.1 1866.7,1318.7 1867.5,1316.7 1868.4,1314.6 1869.3,1312.6 1870.3,1311.1 1871.2,1309.4 1872.1,1307.0 1873.0,1305.5 1873.8,1304.4 1874.6,1303.9 1875.4,1302.9 1876.2,1301.9 1876.9,1301.8 1877.7,1301.0 1878.6,1300.5 1879.4,1300.9 1880.4,1299.6 1881.4,1299.5 1882.5,1299.4 1883.7,1298.7 1885.0,1298.7 1886.3,1297.7 1887.7,1298.0 1889.1,1296.6 1890.4,1297.2 1891.7,1296.3 1892.9,1295.3 1894.0,1295.1 1895.0,1295.4 1895.9,1294.4 1896.7,1293.6 1897.5,1292.9 1898.2,1291.1 1898.9,1290.7 1899.7,1290.2 1900.5,1290.2 1901.4,1289.8 1902.4,1288.7 1903.5,1289.7 1904.7,1289.4 1905.9,1289.4 1907.1,1289.6 1908.4,1290.6 1909.8,1291.3 1911.1,1291.8 1912.4,1292.2 1913.7,1293.5 1915.0,1293.3 1916.0,1293.2 1916.7,1293.6 1917.2,1292.5 1917.6,1292.3 1918.2,1291.5 1918.9,1291.5 1920.1,1292.5 1921.9,1292.6 1924.3,1293.6 1927.6,1295.6 1931.9,1298.2 1937.0,1301.4 1942.9,1305.1 1949.3,1309.3 1956.2,1313.8 1963.2,1318.8 1970.4,1324.0 1977.4,1328.2 1984.2,1333.5 1990.5,1337.1 1996.6,1340.7 2002.8,1344.5 2008.9,1348.2 2015.1,1351.4 2021.2,1355.6 2027.1,1358.4 2032.9,1361.2 2038.6,1364.4 2044.0,1368.4 2049.2,1371.0 2054.2,1373.6 2059.0,1377.0 2063.7,1379.0 2068.2,1382.7 2072.6,1385.4 2076.7,1387.6 2080.7,1389.3 2084.4,1392.0 2087.9,1394.5 2091.2,1396.1 2094.2,1397.4 2096.7,1399.0 2099.0,1400.2 2101.1,1402.0 2103.0,1402.7 2104.8,1404.0 2106.6,1405.4 2108.3,1406.1 2110.2,1406.1 2112.2,1406.8 2114.3,1406.2 2116.5,1407.1 2118.7,1406.8 2120.9,1405.9 2123.1,1405.8 2125.3,1404.4 2127.4,1404.6 2129.4,1403.2 2131.4,1403.3 2133.2,1402.7 2135.0,1402.5 2136.7,1401.9 2138.4,1400.9 2140.0,1401.0 2141.6,1401.2 2143.0,1401.2 2144.4,1400.5 2145.6,1399.2 2146.8,1398.8 2147.8,1397.9 2148.6,1396.7 2149.3,1395.7 2149.9,1395.0 2150.3,1393.6 2150.6,1392.1 2150.9,1390.7 2151.2,1389.5 2151.4,1386.9 2151.7,1384.6 2152.0,1381.9 2152.4,1377.2 2152.7,1373.8 2153.1,1367.8 2153.4,1362.5 2153.8,1357.5 2154.1,1352.1 2154.4,1346.7 2154.6,1341.9 2154.8,1338.3 2155.0,1335.2" fill="none" stroke="#2ab42a" stroke-width="2.2" stroke-linejoin="round"/>
<path d="M1863.4,1277.3 V1457.9 H2155.4" fill="none" stroke="#000" stroke-width="2.3"/>
<line x1="1855.9" y1="1298.5" x2="1863.4" y2="1298.5" stroke="#000" stroke-width="2"/>
<text x="1851.1" y="1304.3" font-size="16.0" text-anchor="end" font-weight="normal" font-style="normal" >0.2</text>
<line x1="1855.9" y1="1335.2" x2="1863.4" y2="1335.2" stroke="#000" stroke-width="2"/>
<text x="1851.1" y="1341.0" font-size="16.0" text-anchor="end" font-weight="normal" font-style="normal" >0.0</text>
<line x1="1855.9" y1="1371.9" x2="1863.4" y2="1371.9" stroke="#000" stroke-width="2"/>
<text x="1851.1" y="1377.7" font-size="16.0" text-anchor="end" font-weight="normal" font-style="normal" >-0.2</text>
<line x1="1855.9" y1="1408.6" x2="1863.4" y2="1408.6" stroke="#000" stroke-width="2"/>
<text x="1851.1" y="1414.4" font-size="16.0" text-anchor="end" font-weight="normal" font-style="normal" >-0.4</text>
<line x1="1925.8" y1="1457.9" x2="1925.8" y2="1465.4" stroke="#000" stroke-width="2"/>
<text x="1926.4" y="1486.5" font-size="15.8" text-anchor="middle" font-weight="normal" font-style="normal" >5000</text>
<line x1="1988.2" y1="1457.9" x2="1988.2" y2="1465.4" stroke="#000" stroke-width="2"/>
<text x="1988.8" y="1486.5" font-size="15.8" text-anchor="middle" font-weight="normal" font-style="normal" >10000</text>
<line x1="2050.6" y1="1457.9" x2="2050.6" y2="1465.4" stroke="#000" stroke-width="2"/>
<text x="2051.2" y="1486.5" font-size="15.8" text-anchor="middle" font-weight="normal" font-style="normal" >15000</text>
<line x1="2113.0" y1="1457.9" x2="2113.0" y2="1465.4" stroke="#000" stroke-width="2"/>
<text x="2113.6" y="1486.5" font-size="15.8" text-anchor="middle" font-weight="normal" font-style="normal" >20000</text>
<text x="2010.4" y="1510.2" font-size="15.8" text-anchor="middle" font-weight="normal" font-style="normal" >Rank in ordered dataset</text>
<text x="2007.2" y="1291.7" font-size="16.0" text-anchor="start" font-weight="normal" font-style="normal" >NES</text>
<text x="2050.2" y="1291.7" font-size="16.0" text-anchor="start" font-weight="normal" font-style="normal" >-1.03839</text>
<text x="2007.2" y="1310.5" font-size="16.0" text-anchor="start" font-weight="normal" font-style="normal" >p-value</text>
<text x="2068.6" y="1310.5" font-size="16.0" text-anchor="start" font-weight="normal" font-style="normal" >0.368339</text>
<line x1="93.2" y1="1591.5" x2="93.2" y2="1728.2" stroke="#e0e0e0" stroke-width="1.1"/>
<line x1="124.4" y1="1591.5" x2="124.4" y2="1728.2" stroke="#e0e0e0" stroke-width="1.1"/>
<line x1="155.6" y1="1591.5" x2="155.6" y2="1728.2" stroke="#e0e0e0" stroke-width="1.1"/>
<line x1="186.8" y1="1591.5" x2="186.8" y2="1728.2" stroke="#e0e0e0" stroke-width="1.1"/>
<line x1="218.0" y1="1591.5" x2="218.0" y2="1728.2" stroke="#e0e0e0" stroke-width="1.1"/>
<line x1="249.2" y1="1591.5" x2="249.2" y2="1728.2" stroke="#e0e0e0" stroke-width="1.1"/>
<line x1="280.4" y1="1591.5" x2="280.4" y2="1728.2" stroke="#e0e0e0" stroke-width="1.1"/>
<line x1="311.6" y1="1591.5" x2="311.6" y2="1728.2" stroke="#e0e0e0" stroke-width="1.1"/>
<line x1="342.8" y1="1591.5" x2="342.8" y2="1728.2" stroke="#e0e0e0" stroke-width="1.1"/>
<line x1="67.0" y1="1688.4" x2="353.0" y2="1688.4" stroke="#000" stroke-width="2.2" stroke-dasharray="2.2,3.5"/>
<path d="M63.5 1728.2V1758.8M171.5 1728.2V1758.8M282.9 1728.2V1758.8" stroke="#585858" stroke-width="1.3" fill="none"/>
<path d="M64.7 1728.2V1758.8M273.7 1728.2V1758.8" stroke="#505050" stroke-width="1.3" fill="none"/>
<path d="M68.6 1728.2V1758.8M345.4 1728.2V1758.8" stroke="#585858" stroke-width="1.7" fill="none"/>
<path d="M73.9 1728.2V1758.8M219.3 1728.2V1758.8" stroke="#888888" stroke-width="1.7" fill="none"/>
<path d="M79.9 1728.2V1758.8M103.7 1728.2V1758.8M128.6 1728.2V1758.8M149.2 1728.2V1758.8" stroke="#282828" stroke-width="1.4" fill="none"/>
<path d="M80.8 1728.2V1758.8M105.0 1728.2V1758.8M131.8 1728.2V1758.8M315.3 1728.2V1758.8" stroke="#202020" stroke-width="1.4" fill="none"/>
<path d="M82.6 1728.2V1758.8M243.9 1728.2V1758.8M244.9 1728.2V1758.8M314.0 1728.2V1758.8M319.7 1728.2V1758.8" stroke="#303030" stroke-width="1.4" fill="none"/>
<path d="M98.5 1728.2V1758.8M318.3 1728.2V1758.8" stroke="#585858" stroke-width="1.4" fill="none"/>
<path d="M100.8 1728.2V1758.8M129.9 1728.2V1758.8M146.8 1728.2V1758.8M291.9 1728.2V1758.8" stroke="#080808" stroke-width="1.4" fill="none"/>
<path d="M102.0 1728.2V1758.8M312.7 1728.2V1758.8" stroke="#181818" stroke-width="1.4" fill="none"/>
<path d="M111.6 1728.2V1758.8" stroke="#787878" stroke-width="1.3" fill="none"/>
<path d="M113.6 1728.2V1758.8M284.5 1728.2V1758.8" stroke="#888888" stroke-width="1.3" fill="none"/>
<path d="M117.0 1728.2V1758.8M308.5 1728.2V1758.8" stroke="#707070" stroke-width="1.7" fill="none"/>
<path d="M121.0 1728.2V1758.8M225.6 1728.2V1758.8" stroke="#707070" stroke-width="1.3" fill="none"/>
<path d="M122.2 1728.2V1758.8" stroke="#a0a0a0" stroke-width="1.3" fill="none"/>
<path d="M126.1 1728.2V1758.8M232.9 1728.2V1758.8M249.7 1728.2V1758.8M256.2 1728.2V1758.8M316.5 1728.2V1758.8" stroke="#383838" stroke-width="1.4" fill="none"/>
<path d="M127.7 1728.2V1758.8M157.4 1728.2V1758.8M246.3 1728.2V1758.8M258.9 1728.2V1758.8" stroke="#484848" stroke-width="1.4" fill="none"/>
<path d="M137.6 1728.2V1758.8M267.7 1728.2V1758.8M328.3 1728.2V1758.8" stroke="#080808" stroke-width="1.9" fill="none"/>
<path d="M142.0 1728.2V1758.8M166.2 1728.2V1758.8" stroke="#606060" stroke-width="1.7" fill="none"/>
<path d="M155.1 1728.2V1758.8" stroke="#404040" stroke-width="1.4" fill="none"/>
<path d="M172.8 1728.2V1758.8M207.7 1728.2V1758.8M227.3 1728.2V1758.8M336.5 1728.2V1758.8" stroke="#808080" stroke-width="1.3" fill="none"/>
<path d="M183.7 1728.2V1758.8" stroke="#686868" stroke-width="1.7" fill="none"/>
<path d="M190.8 1728.2V1758.8M263.3 1728.2V1758.8" stroke="#808080" stroke-width="1.7" fill="none"/>
<path d="M195.6 1728.2V1758.8M199.6 1728.2V1758.8M252.7 1728.2V1758.8" stroke="#787878" stroke-width="1.7" fill="none"/>
<path d="M205.8 1728.2V1758.8" stroke="#989898" stroke-width="1.3" fill="none"/>
<path d="M209.9 1728.2V1758.8M211.2 1728.2V1758.8M338.3 1728.2V1758.8" stroke="#606060" stroke-width="1.3" fill="none"/>
<path d="M228.7 1728.2V1758.8" stroke="#484848" stroke-width="1.3" fill="none"/>
<path d="M234.6 1728.2V1758.8" stroke="#606060" stroke-width="1.4" fill="none"/>
<path d="M242.1 1728.2V1758.8M293.4 1728.2V1758.8" stroke="#505050" stroke-width="1.4" fill="none"/>
<path d="M247.9 1728.2V1758.8M257.7 1728.2V1758.8M260.6 1728.2V1758.8" stroke="#101010" stroke-width="1.4" fill="none"/>
<path d="M272.3 1728.2V1758.8" stroke="#909090" stroke-width="1.3" fill="none"/>
<path d="M340.7 1728.2V1758.8" stroke="#686868" stroke-width="1.3" fill="none"/>
<rect x="62.9" y="1758.8" width="34.7" height="11.0" fill="#de3838"/>
<rect x="97.2" y="1758.8" width="53.1" height="11.0" fill="#ee604d"/>
<rect x="149.9" y="1758.8" width="21.5" height="11.0" fill="#f0907c"/>
<rect x="171.0" y="1758.8" width="40.8" height="11.0" fill="#f6c4b4"/>
<rect x="211.4" y="1758.8" width="51.4" height="11.0" fill="#d2dbf6"/>
<rect x="262.4" y="1758.8" width="21.5" height="11.0" fill="#92b4e6"/>
<rect x="283.5" y="1758.8" width="43.5" height="11.0" fill="#4d8dd3"/>
<rect x="326.5" y="1758.8" width="25.0" height="11.0" fill="#2f80c6"/>
<polyline points="62.2,1660.0 62.3,1657.9 62.3,1655.9 62.4,1653.6 62.4,1650.5 62.5,1647.1 62.6,1644.2 62.7,1640.4 62.9,1637.2 63.1,1634.8 63.3,1632.2 63.6,1629.6 63.8,1627.9 64.1,1624.7 64.4,1623.2 64.7,1621.7 65.1,1619.8 65.5,1617.3 66.1,1616.5 66.6,1614.9 67.3,1614.2 68.1,1612.7 69.0,1612.6 70.1,1612.4 71.2,1612.9 72.3,1612.2 73.5,1612.4 74.6,1612.2 75.7,1612.8 76.7,1611.7 77.6,1612.0 78.3,1610.1 79.0,1608.8 79.5,1608.0 79.9,1605.7 80.4,1604.1 80.9,1601.8 81.4,1600.0 82.0,1598.8 82.8,1598.5 83.7,1596.9 84.8,1597.7 86.1,1598.1 87.6,1598.6 89.1,1599.2 90.7,1600.9 92.3,1602.4 93.9,1603.2 95.4,1603.8 96.8,1605.1 98.0,1606.0 99.0,1605.8 99.8,1605.1 100.4,1604.9 100.9,1605.0 101.4,1603.8 102.0,1603.3 102.7,1603.4 103.5,1603.0 104.7,1603.2 106.1,1603.0 107.9,1604.1 110.0,1604.8 112.2,1605.2 114.7,1606.4 117.3,1607.4 120.0,1608.8 122.7,1609.8 125.4,1611.1 128.1,1612.4 130.6,1614.1 132.8,1614.6 134.5,1615.8 135.9,1617.9 137.3,1619.1 138.8,1619.5 140.6,1622.1 143.0,1623.7 146.0,1626.3 150.0,1628.9 155.1,1631.9 161.7,1635.7 169.7,1641.6 178.8,1647.2 188.7,1653.1 199.0,1659.3 209.4,1665.8 219.5,1672.6 229.0,1677.8 237.6,1682.6 244.9,1687.7 251.0,1691.0 256.5,1692.8 261.3,1695.1 265.5,1697.7 269.4,1698.8 272.9,1700.3 276.2,1701.8 279.4,1702.5 282.5,1704.2 285.7,1705.1 288.9,1706.7 291.8,1708.7 294.6,1710.2 297.3,1712.3 299.7,1712.9 302.1,1715.1 304.3,1715.5 306.3,1716.6 308.3,1717.0 310.2,1717.6 312.0,1718.4 313.6,1717.3 315.0,1717.2 316.4,1716.6 317.6,1715.2 318.7,1713.5 319.7,1712.6 320.7,1711.2 321.6,1710.2 322.4,1709.4 323.1,1708.3 323.7,1708.0 324.2,1706.8 324.5,1705.5 324.8,1704.4 325.1,1703.4 325.4,1702.5 325.7,1702.2 326.0,1701.2 326.5,1701.4 327.0,1701.1 327.6,1702.0 328.2,1701.9 328.8,1703.3 329.5,1704.1 330.1,1704.8 330.8,1704.6 331.4,1705.9 332.1,1705.6 332.7,1706.0 333.3,1705.0 333.9,1704.3 334.5,1703.0 335.1,1702.5 335.6,1700.8 336.2,1700.1 336.8,1698.6 337.5,1697.1 338.1,1695.6 338.8,1695.0 339.5,1694.5 340.4,1693.9 341.2,1693.7 342.1,1692.6 343.0,1692.8 343.9,1693.0 344.7,1692.8 345.5,1692.1 346.2,1691.8 346.9,1691.3 347.5,1691.4 348.0,1690.7 348.6,1689.8 349.0,1689.4 349.5,1689.4 349.8,1688.5 350.2,1688.1 350.5,1687.4 350.8,1687.5 351.0,1687.1" fill="none" stroke="#2ab42a" stroke-width="2.2" stroke-linejoin="round"/>
<path d="M62.0,1590.5 V1771.0 H354.0" fill="none" stroke="#000" stroke-width="2.3"/>
<line x1="54.5" y1="1613.6" x2="62.0" y2="1613.6" stroke="#000" stroke-width="2"/>
<text x="49.7" y="1619.4" font-size="16.0" text-anchor="end" font-weight="normal" font-style="normal" >0.4</text>
<line x1="54.5" y1="1651.0" x2="62.0" y2="1651.0" stroke="#000" stroke-width="2"/>
<text x="49.7" y="1656.8" font-size="16.0" text-anchor="end" font-weight="normal" font-style="normal" >0.2</text>
<line x1="54.5" y1="1688.4" x2="62.0" y2="1688.4" stroke="#000" stroke-width="2"/>
<text x="49.7" y="1694.2" font-size="16.0" text-anchor="end" font-weight="normal" font-style="normal" >0.0</text>
<line x1="124.4" y1="1771.0" x2="124.4" y2="1778.5" stroke="#000" stroke-width="2"/>
<text x="125.0" y="1799.6" font-size="15.8" text-anchor="middle" font-weight="normal" font-style="normal" >5000</text>
<line x1="186.8" y1="1771.0" x2="186.8" y2="1778.5" stroke="#000" stroke-width="2"/>
<text x="187.4" y="1799.6" font-size="15.8" text-anchor="middle" font-weight="normal" font-style="normal" >10000</text>
<line x1="249.2" y1="1771.0" x2="249.2" y2="1778.5" stroke="#000" stroke-width="2"/>
<text x="249.8" y="1799.6" font-size="15.8" text-anchor="middle" font-weight="normal" font-style="normal" >15000</text>
<line x1="311.6" y1="1771.0" x2="311.6" y2="1778.5" stroke="#000" stroke-width="2"/>
<text x="312.2" y="1799.6" font-size="15.8" text-anchor="middle" font-weight="normal" font-style="normal" >20000</text>
<text x="209.0" y="1823.3" font-size="15.8" text-anchor="middle" font-weight="normal" font-style="normal" >Rank in ordered dataset</text>
<text transform="translate(12.0,1664.5) rotate(-90)" font-size="15.8" text-anchor="middle" >Running enrichment score</text>
<text x="205.8" y="1604.9" font-size="16.0" text-anchor="start" font-weight="normal" font-style="normal" >NES</text>
<text x="248.8" y="1604.9" font-size="16.0" text-anchor="start" font-weight="normal" font-style="normal" >1.418353</text>
<text x="205.8" y="1623.7" font-size="16.0" text-anchor="start" font-weight="normal" font-style="normal" >p-value</text>
<text x="267.2" y="1623.7" font-size="16.0" text-anchor="start" font-weight="normal" font-style="normal" >0.006157</text>
<line x1="445.5" y1="1591.5" x2="445.5" y2="1728.2" stroke="#e0e0e0" stroke-width="1.1"/>
<line x1="476.7" y1="1591.5" x2="476.7" y2="1728.2" stroke="#e0e0e0" stroke-width="1.1"/>
<line x1="507.9" y1="1591.5" x2="507.9" y2="1728.2" stroke="#e0e0e0" stroke-width="1.1"/>
<line x1="539.1" y1="1591.5" x2="539.1" y2="1728.2" stroke="#e0e0e0" stroke-width="1.1"/>
<line x1="570.3" y1="1591.5" x2="570.3" y2="1728.2" stroke="#e0e0e0" stroke-width="1.1"/>
<line x1="601.5" y1="1591.5" x2="601.5" y2="1728.2" stroke="#e0e0e0" stroke-width="1.1"/>
<line x1="632.7" y1="1591.5" x2="632.7" y2="1728.2" stroke="#e0e0e0" stroke-width="1.1"/>
<line x1="663.9" y1="1591.5" x2="663.9" y2="1728.2" stroke="#e0e0e0" stroke-width="1.1"/>
<line x1="695.1" y1="1591.5" x2="695.1" y2="1728.2" stroke="#e0e0e0" stroke-width="1.1"/>
<line x1="419.3" y1="1631.2" x2="705.3" y2="1631.2" stroke="#000" stroke-width="2.2" stroke-dasharray="2.2,3.5"/>
<path d="M416.9 1728.2V1758.8" stroke="#707070" stroke-width="1.7" fill="none"/>
<path d="M427.9 1728.2V1758.8" stroke="#888888" stroke-width="1.7" fill="none"/>
<path d="M438.2 1728.2V1758.8M623.4 1728.2V1758.8M675.9 1728.2V1758.8" stroke="#606060" stroke-width="1.4" fill="none"/>
<path d="M439.5 1728.2V1758.8M495.1 1728.2V1758.8M621.9 1728.2V1758.8" stroke="#080808" stroke-width="1.4" fill="none"/>
<path d="M443.6 1728.2V1758.8M463.4 1728.2V1758.8M491.9 1728.2V1758.8M668.7 1728.2V1758.8M683.0 1728.2V1758.8" stroke="#282828" stroke-width="1.4" fill="none"/>
<path d="M445.7 1728.2V1758.8M500.2 1728.2V1758.8M501.2 1728.2V1758.8M532.9 1728.2V1758.8M684.2 1728.2V1758.8" stroke="#383838" stroke-width="1.4" fill="none"/>
<path d="M446.6 1728.2V1758.8M448.1 1728.2V1758.8M452.7 1728.2V1758.8M618.6 1728.2V1758.8M633.5 1728.2V1758.8M642.6 1728.2V1758.8M677.6 1728.2V1758.8M681.8 1728.2V1758.8" stroke="#101010" stroke-width="1.4" fill="none"/>
<path d="M449.4 1728.2V1758.8M460.9 1728.2V1758.8M625.0 1728.2V1758.8M641.2 1728.2V1758.8M646.2 1728.2V1758.8" stroke="#484848" stroke-width="1.4" fill="none"/>
<path d="M450.9 1728.2V1758.8M477.0 1728.2V1758.8M493.7 1728.2V1758.8M502.7 1728.2V1758.8M546.2 1728.2V1758.8M552.3 1728.2V1758.8" stroke="#181818" stroke-width="1.4" fill="none"/>
<path d="M454.3 1728.2V1758.8M466.5 1728.2V1758.8M491.0 1728.2V1758.8M535.6 1728.2V1758.8M548.8 1728.2V1758.8M626.1 1728.2V1758.8M643.3 1728.2V1758.8" stroke="#404040" stroke-width="1.4" fill="none"/>
<path d="M457.3 1728.2V1758.8M649.3 1728.2V1758.8" stroke="#808080" stroke-width="1.7" fill="none"/>
<path d="M461.9 1728.2V1758.8M465.2 1728.2V1758.8M481.9 1728.2V1758.8M504.1 1728.2V1758.8M534.0 1728.2V1758.8M550.5 1728.2V1758.8M632.6 1728.2V1758.8M645.0 1728.2V1758.8M667.4 1728.2V1758.8" stroke="#303030" stroke-width="1.4" fill="none"/>
<path d="M479.0 1728.2V1758.8M678.9 1728.2V1758.8" stroke="#505050" stroke-width="1.4" fill="none"/>
<path d="M480.3 1728.2V1758.8M670.1 1728.2V1758.8" stroke="#202020" stroke-width="1.4" fill="none"/>
<path d="M487.6 1728.2V1758.8" stroke="#686868" stroke-width="1.7" fill="none"/>
<path d="M498.6 1728.2V1758.8M547.3 1728.2V1758.8M620.8 1728.2V1758.8M680.0 1728.2V1758.8" stroke="#585858" stroke-width="1.4" fill="none"/>
<path d="M514.0 1728.2V1758.8M528.1 1728.2V1758.8M555.3 1728.2V1758.8M590.5 1728.2V1758.8" stroke="#606060" stroke-width="1.7" fill="none"/>
<path d="M519.0 1728.2V1758.8M608.6 1728.2V1758.8" stroke="#989898" stroke-width="1.3" fill="none"/>
<path d="M521.4 1728.2V1758.8" stroke="#606060" stroke-width="1.3" fill="none"/>
<path d="M540.9 1728.2V1758.8M693.9 1728.2V1758.8" stroke="#686868" stroke-width="1.3" fill="none"/>
<path d="M541.9 1728.2V1758.8" stroke="#787878" stroke-width="1.3" fill="none"/>
<path d="M569.4 1728.2V1758.8" stroke="#484848" stroke-width="1.3" fill="none"/>
<path d="M570.3 1728.2V1758.8M611.9 1728.2V1758.8" stroke="#888888" stroke-width="1.3" fill="none"/>
<path d="M581.3 1728.2V1758.8M692.0 1728.2V1758.8M699.1 1728.2V1758.8" stroke="#585858" stroke-width="1.3" fill="none"/>
<path d="M584.0 1728.2V1758.8M606.6 1728.2V1758.8" stroke="#a8a8a8" stroke-width="1.3" fill="none"/>
<path d="M595.7 1728.2V1758.8" stroke="#787878" stroke-width="1.7" fill="none"/>
<path d="M601.0 1728.2V1758.8M705.1 1728.2V1758.8" stroke="#080808" stroke-width="1.9" fill="none"/>
<path d="M610.4 1728.2V1758.8" stroke="#505050" stroke-width="1.3" fill="none"/>
<path d="M689.9 1728.2V1758.8" stroke="#808080" stroke-width="1.3" fill="none"/>
<path d="M696.9 1728.2V1758.8" stroke="#909090" stroke-width="1.3" fill="none"/>
<path d="M701.2 1728.2V1758.8" stroke="#707070" stroke-width="1.3" fill="none"/>
<rect x="416.0" y="1758.8" width="13.6" height="11.0" fill="#de3838"/>
<rect x="429.2" y="1758.8" width="46.1" height="11.0" fill="#ee604d"/>
<rect x="474.9" y="1758.8" width="20.6" height="11.0" fill="#f0907c"/>
<rect x="495.1" y="1758.8" width="44.3" height="11.0" fill="#f6c4b4"/>
<rect x="539.1" y="1758.8" width="47.0" height="11.0" fill="#d2dbf6"/>
<rect x="585.6" y="1758.8" width="41.7" height="11.0" fill="#92b4e6"/>
<rect x="626.9" y="1758.8" width="32.9" height="11.0" fill="#4d8dd3"/>
<rect x="659.4" y="1758.8" width="47.0" height="11.0" fill="#2f80c6"/>
<polyline points="414.6,1620.0 414.6,1619.3 414.7,1618.5 414.7,1616.3 414.7,1615.0 414.7,1613.3 414.8,1611.3 414.9,1609.9 415.0,1608.8 415.2,1607.0 415.5,1605.2 415.8,1604.6 416.0,1603.3 416.2,1601.9 416.4,1601.2 416.7,1599.8 417.1,1599.4 417.7,1598.2 418.4,1598.2 419.3,1597.2 420.4,1596.9 421.9,1597.3 423.7,1597.6 425.8,1599.3 428.0,1600.5 430.4,1600.9 432.8,1601.9 435.1,1603.7 437.3,1604.7 439.2,1604.7 440.8,1605.3 442.1,1605.7 443.0,1605.3 443.8,1605.2 444.4,1605.2 444.9,1604.6 445.4,1604.2 446.0,1604.4 446.8,1603.7 447.7,1604.2 449.0,1604.1 450.6,1603.6 452.5,1603.1 454.6,1603.6 456.9,1603.1 459.2,1603.7 461.5,1603.2 463.8,1603.5 465.9,1603.6 467.8,1603.7 469.4,1603.8 470.6,1603.3 471.4,1603.0 471.9,1603.0 472.2,1603.6 472.5,1602.3 472.9,1602.6 473.4,1602.9 474.3,1603.5 475.7,1604.8 477.6,1605.1 480.0,1606.6 482.8,1608.4 485.9,1610.9 489.2,1613.8 492.9,1616.1 496.8,1619.1 500.9,1621.9 505.2,1624.8 509.7,1627.9 514.3,1630.6 519.3,1635.1 524.7,1638.5 530.4,1641.6 536.5,1645.8 542.6,1650.5 548.8,1654.3 554.8,1658.6 560.7,1662.4 566.3,1665.2 571.4,1669.2 576.2,1671.3 580.7,1673.9 585.1,1677.2 589.3,1679.6 593.3,1681.2 597.2,1683.4 601.1,1685.8 604.8,1687.2 608.5,1689.3 612.2,1691.8 615.9,1692.5 619.5,1695.1 623.0,1696.6 626.5,1698.2 629.8,1698.6 633.1,1699.9 636.2,1701.5 639.3,1702.5 642.2,1704.7 644.9,1705.6 647.5,1707.3 650.0,1708.4 652.3,1710.0 654.5,1712.1 656.6,1712.7 658.6,1714.2 660.5,1716.3 662.2,1717.1 663.8,1718.3 665.3,1719.2 666.6,1719.4 667.5,1719.5 668.3,1719.8 668.9,1719.5 669.4,1718.9 669.9,1718.7 670.5,1718.9 671.3,1717.7 672.2,1716.2 673.5,1715.9 675.1,1714.9 677.0,1712.8 679.1,1710.6 681.4,1708.4 683.7,1706.3 686.0,1703.9 688.3,1701.5 690.4,1699.7 692.3,1697.6 693.9,1695.6 695.2,1694.1 696.4,1693.0 697.4,1691.5 698.2,1691.1 699.0,1690.1 699.6,1689.1 700.3,1688.8 700.8,1686.4 701.4,1685.0 702.0,1682.2 702.6,1678.0 703.1,1672.8 703.7,1667.6 704.1,1662.3 704.6,1656.3 704.9,1649.9 705.3,1644.5 705.6,1638.9 705.9,1635.3 706.1,1632.0" fill="none" stroke="#2ab42a" stroke-width="2.2" stroke-linejoin="round"/>
<path d="M414.3,1590.5 V1771.0 H706.3" fill="none" stroke="#000" stroke-width="2.3"/>
<line x1="406.8" y1="1595.2" x2="414.3" y2="1595.2" stroke="#000" stroke-width="2"/>
<text x="402.0" y="1601.0" font-size="16.0" text-anchor="end" font-weight="normal" font-style="normal" >0.2</text>
<line x1="406.8" y1="1631.2" x2="414.3" y2="1631.2" stroke="#000" stroke-width="2"/>
<text x="402.0" y="1637.0" font-size="16.0" text-anchor="end" font-weight="normal" font-style="normal" >0.0</text>
<line x1="406.8" y1="1667.2" x2="414.3" y2="1667.2" stroke="#000" stroke-width="2"/>
<text x="402.0" y="1673.0" font-size="16.0" text-anchor="end" font-weight="normal" font-style="normal" >-0.2</text>
<line x1="406.8" y1="1703.2" x2="414.3" y2="1703.2" stroke="#000" stroke-width="2"/>
<text x="402.0" y="1709.0" font-size="16.0" text-anchor="end" font-weight="normal" font-style="normal" >-0.4</text>
<line x1="476.7" y1="1771.0" x2="476.7" y2="1778.5" stroke="#000" stroke-width="2"/>
<text x="477.3" y="1799.6" font-size="15.8" text-anchor="middle" font-weight="normal" font-style="normal" >5000</text>
<line x1="539.1" y1="1771.0" x2="539.1" y2="1778.5" stroke="#000" stroke-width="2"/>
<text x="539.7" y="1799.6" font-size="15.8" text-anchor="middle" font-weight="normal" font-style="normal" >10000</text>
<line x1="601.5" y1="1771.0" x2="601.5" y2="1778.5" stroke="#000" stroke-width="2"/>
<text x="602.1" y="1799.6" font-size="15.8" text-anchor="middle" font-weight="normal" font-style="normal" >15000</text>
<line x1="663.9" y1="1771.0" x2="663.9" y2="1778.5" stroke="#000" stroke-width="2"/>
<text x="664.5" y="1799.6" font-size="15.8" text-anchor="middle" font-weight="normal" font-style="normal" >20000</text>
<text x="561.3" y="1823.3" font-size="15.8" text-anchor="middle" font-weight="normal" font-style="normal" >Rank in ordered dataset</text>
<text x="558.1" y="1604.9" font-size="16.0" text-anchor="start" font-weight="normal" font-style="normal" >NES</text>
<text x="601.1" y="1604.9" font-size="16.0" text-anchor="start" font-weight="normal" font-style="normal" >-1.271165</text>
<text x="558.1" y="1623.7" font-size="16.0" text-anchor="start" font-weight="normal" font-style="normal" >p-value</text>
<text x="619.5" y="1623.7" font-size="16.0" text-anchor="start" font-weight="normal" font-style="normal" >0.069966</text>
<line x1="811.7" y1="1591.5" x2="811.7" y2="1728.2" stroke="#e0e0e0" stroke-width="1.1"/>
<line x1="842.9" y1="1591.5" x2="842.9" y2="1728.2" stroke="#e0e0e0" stroke-width="1.1"/>
<line x1="874.1" y1="1591.5" x2="874.1" y2="1728.2" stroke="#e0e0e0" stroke-width="1.1"/>
<line x1="905.3" y1="1591.5" x2="905.3" y2="1728.2" stroke="#e0e0e0" stroke-width="1.1"/>
<line x1="936.5" y1="1591.5" x2="936.5" y2="1728.2" stroke="#e0e0e0" stroke-width="1.1"/>
<line x1="967.7" y1="1591.5" x2="967.7" y2="1728.2" stroke="#e0e0e0" stroke-width="1.1"/>
<line x1="998.9" y1="1591.5" x2="998.9" y2="1728.2" stroke="#e0e0e0" stroke-width="1.1"/>
<line x1="1030.1" y1="1591.5" x2="1030.1" y2="1728.2" stroke="#e0e0e0" stroke-width="1.1"/>
<line x1="1061.3" y1="1591.5" x2="1061.3" y2="1728.2" stroke="#e0e0e0" stroke-width="1.1"/>
<line x1="1075.5" y1="1590.5" x2="1075.5" y2="1773.0" stroke="#c8c8c8" stroke-width="1"/>
<line x1="785.5" y1="1688.6" x2="1071.5" y2="1688.6" stroke="#000" stroke-width="2.2" stroke-dasharray="2.2,3.5"/>
<path d="M786.5 1728.2V1758.8M990.3 1728.2V1758.8M991.8 1728.2V1758.8" stroke="#505050" stroke-width="1.4" fill="none"/>
<path d="M787.7 1728.2V1758.8M793.6 1728.2V1758.8M973.9 1728.2V1758.8M1005.9 1728.2V1758.8M1009.0 1728.2V1758.8" stroke="#383838" stroke-width="1.4" fill="none"/>
<path d="M788.7 1728.2V1758.8M826.2 1728.2V1758.8M849.4 1728.2V1758.8M890.5 1728.2V1758.8M897.2 1728.2V1758.8" stroke="#202020" stroke-width="1.4" fill="none"/>
<path d="M790.5 1728.2V1758.8M839.4 1728.2V1758.8M846.7 1728.2V1758.8M994.0 1728.2V1758.8M1003.1 1728.2V1758.8" stroke="#101010" stroke-width="1.4" fill="none"/>
<path d="M791.6 1728.2V1758.8M824.6 1728.2V1758.8" stroke="#606060" stroke-width="1.4" fill="none"/>
<path d="M795.0 1728.2V1758.8M879.6 1728.2V1758.8M894.2 1728.2V1758.8" stroke="#585858" stroke-width="1.4" fill="none"/>
<path d="M796.4 1728.2V1758.8M972.7 1728.2V1758.8" stroke="#303030" stroke-width="1.4" fill="none"/>
<path d="M804.9 1728.2V1758.8M862.0 1728.2V1758.8M885.3 1728.2V1758.8" stroke="#686868" stroke-width="1.7" fill="none"/>
<path d="M808.9 1728.2V1758.8M909.1 1728.2V1758.8M958.9 1728.2V1758.8" stroke="#a0a0a0" stroke-width="1.3" fill="none"/>
<path d="M809.8 1728.2V1758.8M1024.3 1728.2V1758.8M1045.5 1728.2V1758.8M1065.6 1728.2V1758.8" stroke="#909090" stroke-width="1.3" fill="none"/>
<path d="M812.1 1728.2V1758.8M949.3 1728.2V1758.8M961.2 1728.2V1758.8" stroke="#686868" stroke-width="1.3" fill="none"/>
<path d="M813.9 1728.2V1758.8M948.6 1728.2V1758.8M1019.1 1728.2V1758.8M1028.2 1728.2V1758.8" stroke="#606060" stroke-width="1.3" fill="none"/>
<path d="M815.7 1728.2V1758.8M910.0 1728.2V1758.8M1015.0 1728.2V1758.8M1041.4 1728.2V1758.8M1062.7 1728.2V1758.8" stroke="#787878" stroke-width="1.3" fill="none"/>
<path d="M817.3 1728.2V1758.8M869.9 1728.2V1758.8M957.0 1728.2V1758.8M1068.1 1728.2V1758.8" stroke="#484848" stroke-width="1.3" fill="none"/>
<path d="M841.0 1728.2V1758.8M892.8 1728.2V1758.8" stroke="#282828" stroke-width="1.4" fill="none"/>
<path d="M844.0 1728.2V1758.8M902.0 1728.2V1758.8M919.6 1728.2V1758.8M969.2 1728.2V1758.8" stroke="#707070" stroke-width="1.7" fill="none"/>
<path d="M848.2 1728.2V1758.8M878.6 1728.2V1758.8M895.8 1728.2V1758.8M993.3 1728.2V1758.8M996.0 1728.2V1758.8M1005.0 1728.2V1758.8" stroke="#181818" stroke-width="1.4" fill="none"/>
<path d="M850.8 1728.2V1758.8M852.9 1728.2V1758.8M1007.7 1728.2V1758.8" stroke="#080808" stroke-width="1.4" fill="none"/>
<path d="M855.4 1728.2V1758.8M915.2 1728.2V1758.8" stroke="#808080" stroke-width="1.7" fill="none"/>
<path d="M867.7 1728.2V1758.8M982.2 1728.2V1758.8M986.2 1728.2V1758.8M1020.0 1728.2V1758.8M1064.2 1728.2V1758.8M1068.9 1728.2V1758.8" stroke="#707070" stroke-width="1.3" fill="none"/>
<path d="M871.7 1728.2V1758.8M984.6 1728.2V1758.8" stroke="#404040" stroke-width="1.3" fill="none"/>
<path d="M876.6 1728.2V1758.8M976.7 1728.2V1758.8" stroke="#484848" stroke-width="1.4" fill="none"/>
<path d="M944.2 1728.2V1758.8" stroke="#606060" stroke-width="1.7" fill="none"/>
<path d="M975.2 1728.2V1758.8M978.0 1728.2V1758.8" stroke="#404040" stroke-width="1.4" fill="none"/>
<path d="M1017.2 1728.2V1758.8M1033.9 1728.2V1758.8M1043.1 1728.2V1758.8" stroke="#989898" stroke-width="1.3" fill="none"/>
<path d="M1021.9 1728.2V1758.8M1032.7 1728.2V1758.8" stroke="#808080" stroke-width="1.3" fill="none"/>
<path d="M1026.5 1728.2V1758.8" stroke="#888888" stroke-width="1.3" fill="none"/>
<path d="M1050.9 1728.2V1758.8" stroke="#080808" stroke-width="1.9" fill="none"/>
<rect x="782.9" y="1758.8" width="37.3" height="11.0" fill="#de3535"/>
<rect x="819.8" y="1758.8" width="32.9" height="11.0" fill="#ee604d"/>
<rect x="852.3" y="1758.8" width="28.5" height="11.0" fill="#f0907c"/>
<rect x="880.4" y="1758.8" width="77.7" height="11.0" fill="#f6c0b0"/>
<rect x="957.8" y="1758.8" width="25.0" height="11.0" fill="#d2dbf6"/>
<rect x="982.4" y="1758.8" width="46.1" height="11.0" fill="#8fb2e6"/>
<rect x="1028.1" y="1758.8" width="28.5" height="11.0" fill="#4d8dd3"/>
<rect x="1056.2" y="1758.8" width="16.2" height="11.0" fill="#2f80c6"/>
<polyline points="780.8,1660.0 780.8,1658.0 780.9,1656.5 780.9,1653.9 781.0,1651.1 781.0,1649.0 781.1,1645.9 781.2,1643.6 781.4,1640.3 781.6,1638.4 781.8,1637.1 782.1,1636.4 782.3,1635.6 782.6,1635.4 782.9,1635.9 783.3,1636.6 783.7,1637.4 784.2,1637.2 784.7,1637.3 785.3,1636.6 786.0,1634.8 786.8,1632.8 787.7,1630.3 788.8,1626.8 789.8,1622.7 791.0,1618.5 792.1,1615.3 793.3,1611.1 794.4,1607.7 795.5,1605.0 796.5,1603.6 797.4,1602.5 798.2,1602.4 799.0,1602.0 799.8,1602.3 800.6,1603.5 801.3,1603.4 802.1,1604.7 803.0,1605.8 803.9,1605.4 804.9,1605.1 806.0,1604.6 807.2,1603.7 808.4,1603.6 809.6,1602.2 810.9,1601.6 812.3,1600.5 813.6,1598.5 814.9,1597.9 816.2,1597.2 817.5,1596.8 818.6,1596.4 819.6,1596.6 820.5,1596.7 821.3,1597.0 822.2,1597.4 823.2,1598.4 824.4,1597.9 825.9,1598.7 827.7,1600.6 830.0,1601.0 832.7,1602.7 835.9,1604.0 839.4,1606.4 843.1,1608.4 847.1,1610.0 851.2,1611.7 855.4,1614.4 859.6,1617.3 863.7,1619.7 867.8,1622.0 871.8,1625.1 875.9,1627.8 880.1,1631.5 884.3,1635.5 888.5,1638.6 892.7,1642.3 897.0,1645.5 901.2,1649.6 905.5,1652.6 909.7,1655.8 914.0,1659.3 918.4,1661.8 923.0,1664.5 927.5,1668.2 932.0,1671.2 936.4,1673.2 940.6,1676.2 944.6,1679.3 948.4,1681.1 951.7,1683.0 954.7,1684.4 957.2,1686.0 959.5,1687.5 961.6,1688.9 963.5,1689.5 965.3,1690.6 967.1,1690.7 968.8,1691.1 970.7,1692.3 972.7,1693.4 974.7,1694.3 976.7,1695.5 978.6,1697.8 980.5,1699.1 982.4,1699.5 984.3,1700.7 986.4,1703.1 988.6,1703.4 991.0,1704.8 993.6,1705.9 996.5,1707.0 999.8,1708.1 1003.4,1709.9 1007.1,1711.5 1010.9,1711.9 1014.7,1713.5 1018.3,1714.1 1021.6,1715.8 1024.6,1716.7 1027.2,1717.1 1029.3,1717.1 1031.1,1716.8 1032.7,1717.5 1034.0,1716.6 1035.1,1717.2 1036.1,1716.3 1037.0,1716.6 1037.9,1715.4 1038.8,1715.4 1039.8,1714.6 1040.8,1713.6 1041.7,1713.1 1042.5,1712.1 1043.3,1710.7 1044.0,1710.1 1044.7,1709.0 1045.5,1708.2 1046.3,1707.0 1047.2,1706.7 1048.2,1705.8 1049.3,1706.2 1050.6,1706.1 1051.9,1707.3 1053.2,1707.2 1054.6,1708.0 1056.0,1708.5 1057.4,1709.4 1058.6,1710.2 1059.8,1710.1 1060.8,1709.9 1061.7,1710.5 1062.5,1709.3 1063.2,1708.5 1063.9,1707.8 1064.5,1707.4 1065.0,1706.3 1065.6,1705.4 1066.1,1703.9 1066.6,1702.7 1067.1,1702.0 1067.6,1700.6 1068.1,1700.4 1068.6,1699.6 1069.1,1698.7 1069.6,1697.7 1070.0,1696.5 1070.4,1695.9 1070.8,1694.5 1071.1,1694.2 1071.3,1693.6" fill="none" stroke="#2ab42a" stroke-width="2.2" stroke-linejoin="round"/>
<path d="M780.5,1590.5 V1771.0 H1072.5" fill="none" stroke="#000" stroke-width="2.3"/>
<line x1="773.0" y1="1613.0" x2="780.5" y2="1613.0" stroke="#000" stroke-width="2"/>
<text x="768.2" y="1618.8" font-size="16.0" text-anchor="end" font-weight="normal" font-style="normal" >0.4</text>
<line x1="773.0" y1="1650.8" x2="780.5" y2="1650.8" stroke="#000" stroke-width="2"/>
<text x="768.2" y="1656.6" font-size="16.0" text-anchor="end" font-weight="normal" font-style="normal" >0.2</text>
<line x1="773.0" y1="1688.6" x2="780.5" y2="1688.6" stroke="#000" stroke-width="2"/>
<text x="768.2" y="1694.4" font-size="16.0" text-anchor="end" font-weight="normal" font-style="normal" >0.0</text>
<line x1="842.9" y1="1771.0" x2="842.9" y2="1778.5" stroke="#000" stroke-width="2"/>
<text x="843.5" y="1799.6" font-size="15.8" text-anchor="middle" font-weight="normal" font-style="normal" >5000</text>
<line x1="905.3" y1="1771.0" x2="905.3" y2="1778.5" stroke="#000" stroke-width="2"/>
<text x="905.9" y="1799.6" font-size="15.8" text-anchor="middle" font-weight="normal" font-style="normal" >10000</text>
<line x1="967.7" y1="1771.0" x2="967.7" y2="1778.5" stroke="#000" stroke-width="2"/>
<text x="968.3" y="1799.6" font-size="15.8" text-anchor="middle" font-weight="normal" font-style="normal" >15000</text>
<line x1="1030.1" y1="1771.0" x2="1030.1" y2="1778.5" stroke="#000" stroke-width="2"/>
<text x="1030.7" y="1799.6" font-size="15.8" text-anchor="middle" font-weight="normal" font-style="normal" >20000</text>
<text x="927.5" y="1823.3" font-size="15.8" text-anchor="middle" font-weight="normal" font-style="normal" >Rank in ordered dataset</text>
<text transform="translate(730.5,1664.5) rotate(-90)" font-size="15.8" text-anchor="middle" >Running enrichment score</text>
<text x="924.3" y="1604.9" font-size="16.0" text-anchor="start" font-weight="normal" font-style="normal" >NES</text>
<text x="967.3" y="1604.9" font-size="16.0" text-anchor="start" font-weight="normal" font-style="normal" >1.472066</text>
<text x="924.3" y="1623.7" font-size="16.0" text-anchor="start" font-weight="normal" font-style="normal" >p-value</text>
<text x="985.7" y="1623.7" font-size="16.0" text-anchor="start" font-weight="normal" font-style="normal" >0.008567</text>
<line x1="1163.2" y1="1591.5" x2="1163.2" y2="1728.2" stroke="#e0e0e0" stroke-width="1.1"/>
<line x1="1194.4" y1="1591.5" x2="1194.4" y2="1728.2" stroke="#e0e0e0" stroke-width="1.1"/>
<line x1="1225.6" y1="1591.5" x2="1225.6" y2="1728.2" stroke="#e0e0e0" stroke-width="1.1"/>
<line x1="1256.8" y1="1591.5" x2="1256.8" y2="1728.2" stroke="#e0e0e0" stroke-width="1.1"/>
<line x1="1288.0" y1="1591.5" x2="1288.0" y2="1728.2" stroke="#e0e0e0" stroke-width="1.1"/>
<line x1="1319.2" y1="1591.5" x2="1319.2" y2="1728.2" stroke="#e0e0e0" stroke-width="1.1"/>
<line x1="1350.4" y1="1591.5" x2="1350.4" y2="1728.2" stroke="#e0e0e0" stroke-width="1.1"/>
<line x1="1381.6" y1="1591.5" x2="1381.6" y2="1728.2" stroke="#e0e0e0" stroke-width="1.1"/>
<line x1="1412.8" y1="1591.5" x2="1412.8" y2="1728.2" stroke="#e0e0e0" stroke-width="1.1"/>
<line x1="1137.0" y1="1636.0" x2="1423.0" y2="1636.0" stroke="#000" stroke-width="2.2" stroke-dasharray="2.2,3.5"/>
<path d="M1134.4 1728.2V1758.8M1180.8 1728.2V1758.8M1181.9 1728.2V1758.8M1183.0 1728.2V1758.8M1217.0 1728.2V1758.8M1232.1 1728.2V1758.8M1362.3 1728.2V1758.8M1414.3 1728.2V1758.8" stroke="#585858" stroke-width="1.4" fill="none"/>
<path d="M1136.1 1728.2V1758.8M1187.8 1728.2V1758.8M1190.7 1728.2V1758.8M1211.2 1728.2V1758.8M1221.4 1728.2V1758.8M1250.1 1728.2V1758.8M1361.0 1728.2V1758.8" stroke="#181818" stroke-width="1.4" fill="none"/>
<path d="M1138.0 1728.2V1758.8M1140.5 1728.2V1758.8M1219.8 1728.2V1758.8M1382.8 1728.2V1758.8M1411.6 1728.2V1758.8M1420.6 1728.2V1758.8" stroke="#404040" stroke-width="1.4" fill="none"/>
<path d="M1138.7 1728.2V1758.8M1184.9 1728.2V1758.8M1193.2 1728.2V1758.8M1194.6 1728.2V1758.8M1387.4 1728.2V1758.8M1410.6 1728.2V1758.8" stroke="#505050" stroke-width="1.4" fill="none"/>
<path d="M1149.7 1728.2V1758.8" stroke="#606060" stroke-width="1.3" fill="none"/>
<path d="M1151.1 1728.2V1758.8M1240.6 1728.2V1758.8" stroke="#787878" stroke-width="1.3" fill="none"/>
<path d="M1161.0 1728.2V1758.8" stroke="#888888" stroke-width="1.3" fill="none"/>
<path d="M1163.0 1728.2V1758.8" stroke="#585858" stroke-width="1.3" fill="none"/>
<path d="M1164.4 1728.2V1758.8" stroke="#505050" stroke-width="1.3" fill="none"/>
<path d="M1166.6 1728.2V1758.8M1337.7 1728.2V1758.8M1372.1 1728.2V1758.8" stroke="#a0a0a0" stroke-width="1.3" fill="none"/>
<path d="M1168.6 1728.2V1758.8M1375.7 1728.2V1758.8" stroke="#989898" stroke-width="1.3" fill="none"/>
<path d="M1170.1 1728.2V1758.8M1311.7 1728.2V1758.8M1329.0 1728.2V1758.8M1374.4 1728.2V1758.8" stroke="#909090" stroke-width="1.3" fill="none"/>
<path d="M1175.0 1728.2V1758.8M1206.5 1728.2V1758.8M1235.2 1728.2V1758.8M1248.5 1728.2V1758.8M1384.2 1728.2V1758.8M1416.1 1728.2V1758.8M1418.6 1728.2V1758.8" stroke="#282828" stroke-width="1.4" fill="none"/>
<path d="M1176.8 1728.2V1758.8M1210.0 1728.2V1758.8M1218.7 1728.2V1758.8M1252.2 1728.2V1758.8M1404.9 1728.2V1758.8M1406.4 1728.2V1758.8" stroke="#202020" stroke-width="1.4" fill="none"/>
<path d="M1178.0 1728.2V1758.8M1178.9 1728.2V1758.8M1186.0 1728.2V1758.8M1229.5 1728.2V1758.8M1230.8 1728.2V1758.8M1234.2 1728.2V1758.8M1363.8 1728.2V1758.8" stroke="#383838" stroke-width="1.4" fill="none"/>
<path d="M1188.7 1728.2V1758.8M1222.9 1728.2V1758.8M1247.2 1728.2V1758.8M1359.5 1728.2V1758.8M1407.3 1728.2V1758.8" stroke="#484848" stroke-width="1.4" fill="none"/>
<path d="M1191.9 1728.2V1758.8M1358.2 1728.2V1758.8M1382.0 1728.2V1758.8M1385.9 1728.2V1758.8M1409.3 1728.2V1758.8M1417.8 1728.2V1758.8" stroke="#303030" stroke-width="1.4" fill="none"/>
<path d="M1200.8 1728.2V1758.8" stroke="#686868" stroke-width="1.7" fill="none"/>
<path d="M1203.8 1728.2V1758.8" stroke="#606060" stroke-width="1.4" fill="none"/>
<path d="M1205.2 1728.2V1758.8M1207.9 1728.2V1758.8M1423.7 1728.2V1758.8" stroke="#101010" stroke-width="1.4" fill="none"/>
<path d="M1212.0 1728.2V1758.8M1413.6 1728.2V1758.8M1421.8 1728.2V1758.8" stroke="#080808" stroke-width="1.4" fill="none"/>
<path d="M1242.3 1728.2V1758.8" stroke="#707070" stroke-width="1.3" fill="none"/>
<path d="M1268.9 1728.2V1758.8" stroke="#787878" stroke-width="1.7" fill="none"/>
<path d="M1297.0 1728.2V1758.8" stroke="#585858" stroke-width="1.7" fill="none"/>
<path d="M1301.9 1728.2V1758.8" stroke="#888888" stroke-width="1.7" fill="none"/>
<path d="M1313.4 1728.2V1758.8" stroke="#808080" stroke-width="1.3" fill="none"/>
<path d="M1319.9 1728.2V1758.8M1344.5 1728.2V1758.8" stroke="#808080" stroke-width="1.7" fill="none"/>
<path d="M1327.1 1728.2V1758.8M1336.4 1728.2V1758.8M1339.4 1728.2V1758.8" stroke="#484848" stroke-width="1.3" fill="none"/>
<path d="M1352.0 1728.2V1758.8" stroke="#080808" stroke-width="1.9" fill="none"/>
<rect x="1134.0" y="1758.8" width="12.7" height="11.0" fill="#de3535"/>
<rect x="1146.3" y="1758.8" width="47.9" height="11.0" fill="#ee604d"/>
<rect x="1193.8" y="1758.8" width="23.2" height="11.0" fill="#f0907c"/>
<rect x="1216.6" y="1758.8" width="90.0" height="11.0" fill="#f6c0b0"/>
<rect x="1306.3" y="1758.8" width="28.5" height="11.0" fill="#d2dbf6"/>
<rect x="1334.4" y="1758.8" width="28.5" height="11.0" fill="#92b4e6"/>
<rect x="1362.5" y="1758.8" width="20.6" height="11.0" fill="#5d97d8"/>
<rect x="1382.7" y="1758.8" width="41.7" height="11.0" fill="#2f84cc"/>
<polyline points="1132.3,1630.0 1132.4,1629.2 1132.5,1629.1 1132.7,1628.5 1132.8,1627.3 1133.0,1626.0 1133.2,1625.4 1133.4,1624.2 1133.6,1622.9 1133.9,1621.9 1134.2,1620.3 1134.5,1618.8 1134.7,1616.8 1135.0,1615.5 1135.2,1612.8 1135.5,1610.8 1135.9,1609.6 1136.3,1607.0 1136.9,1606.4 1137.5,1604.1 1138.4,1603.4 1139.5,1602.3 1140.8,1601.9 1142.2,1601.6 1143.8,1600.8 1145.5,1601.1 1147.2,1601.5 1148.8,1600.6 1150.4,1600.7 1151.8,1600.8 1153.1,1600.8 1154.0,1600.9 1154.6,1602.2 1155.0,1602.5 1155.3,1601.8 1155.5,1603.1 1156.0,1603.3 1156.6,1603.4 1157.7,1604.7 1159.2,1604.4 1161.4,1605.7 1164.2,1606.3 1167.6,1606.9 1171.5,1606.9 1175.8,1607.3 1180.3,1608.5 1185.0,1608.9 1189.7,1610.1 1194.5,1611.4 1199.0,1611.8 1203.4,1614.2 1207.6,1616.3 1211.8,1617.8 1216.0,1620.5 1220.2,1622.8 1224.4,1626.2 1228.6,1628.2 1232.8,1630.8 1237.0,1634.1 1241.2,1636.6 1245.4,1639.2 1249.6,1641.0 1253.8,1644.1 1258.0,1645.7 1262.2,1647.6 1266.4,1650.1 1270.5,1651.3 1274.7,1654.4 1278.9,1656.3 1283.1,1657.6 1287.3,1659.9 1291.5,1661.5 1295.8,1664.5 1300.2,1666.9 1304.5,1668.5 1308.8,1671.1 1313.1,1672.6 1317.3,1675.1 1321.4,1677.2 1325.4,1679.4 1329.3,1681.0 1333.0,1683.2 1336.6,1684.8 1340.1,1688.2 1343.5,1689.5 1346.8,1692.4 1350.1,1694.6 1353.3,1696.2 1356.5,1698.4 1359.7,1700.2 1362.8,1701.4 1366.0,1703.2 1369.2,1704.3 1372.5,1705.7 1375.7,1706.5 1378.8,1707.5 1381.8,1708.1 1384.7,1708.0 1387.5,1709.1 1390.0,1709.8 1392.2,1710.7 1394.2,1710.9 1395.9,1712.2 1397.3,1713.7 1398.7,1714.5 1399.8,1716.4 1400.9,1716.8 1401.9,1718.1 1402.8,1717.9 1403.8,1719.3 1404.8,1719.4 1405.8,1719.0 1406.8,1717.6 1407.7,1717.2 1408.6,1716.3 1409.4,1713.9 1410.2,1712.3 1411.0,1711.5 1411.7,1710.2 1412.5,1707.3 1413.2,1706.6 1413.9,1704.7 1414.6,1702.9 1415.3,1700.9 1416.0,1699.6 1416.6,1697.8 1417.2,1695.5 1417.8,1694.1 1418.4,1691.4 1419.0,1688.0 1419.5,1685.3 1420.0,1681.5 1420.5,1677.4 1421.0,1672.3 1421.5,1666.8 1421.9,1660.3 1422.4,1655.3 1422.7,1649.9 1423.1,1646.1 1423.4,1641.5 1423.6,1639.1" fill="none" stroke="#2ab42a" stroke-width="2.2" stroke-linejoin="round"/>
<path d="M1132.0,1590.5 V1771.0 H1424.0" fill="none" stroke="#000" stroke-width="2.3"/>
<line x1="1124.5" y1="1591.5" x2="1132.0" y2="1591.5" stroke="#000" stroke-width="2"/>
<text x="1119.7" y="1597.3" font-size="16.0" text-anchor="end" font-weight="normal" font-style="normal" >0.25</text>
<line x1="1124.5" y1="1636.0" x2="1132.0" y2="1636.0" stroke="#000" stroke-width="2"/>
<text x="1119.7" y="1641.8" font-size="16.0" text-anchor="end" font-weight="normal" font-style="normal" >0.00</text>
<line x1="1124.5" y1="1680.5" x2="1132.0" y2="1680.5" stroke="#000" stroke-width="2"/>
<text x="1119.7" y="1686.3" font-size="16.0" text-anchor="end" font-weight="normal" font-style="normal" >-0.25</text>
<line x1="1194.4" y1="1771.0" x2="1194.4" y2="1778.5" stroke="#000" stroke-width="2"/>
<text x="1195.0" y="1799.6" font-size="15.8" text-anchor="middle" font-weight="normal" font-style="normal" >5000</text>
<line x1="1256.8" y1="1771.0" x2="1256.8" y2="1778.5" stroke="#000" stroke-width="2"/>
<text x="1257.4" y="1799.6" font-size="15.8" text-anchor="middle" font-weight="normal" font-style="normal" >10000</text>
<line x1="1319.2" y1="1771.0" x2="1319.2" y2="1778.5" stroke="#000" stroke-width="2"/>
<text x="1319.8" y="1799.6" font-size="15.8" text-anchor="middle" font-weight="normal" font-style="normal" >15000</text>
<line x1="1381.6" y1="1771.0" x2="1381.6" y2="1778.5" stroke="#000" stroke-width="2"/>
<text x="1382.2" y="1799.6" font-size="15.8" text-anchor="middle" font-weight="normal" font-style="normal" >20000</text>
<text x="1279.0" y="1823.3" font-size="15.8" text-anchor="middle" font-weight="normal" font-style="normal" >Rank in ordered dataset</text>
<text x="1275.8" y="1604.9" font-size="16.0" text-anchor="start" font-weight="normal" font-style="normal" >NES</text>
<text x="1318.8" y="1604.9" font-size="16.0" text-anchor="start" font-weight="normal" font-style="normal" >-1.20472</text>
<text x="1275.8" y="1623.7" font-size="16.0" text-anchor="start" font-weight="normal" font-style="normal" >p-value</text>
<text x="1337.2" y="1623.7" font-size="16.0" text-anchor="start" font-weight="normal" font-style="normal" >0.108883</text>
<line x1="1542.7" y1="1591.5" x2="1542.7" y2="1728.2" stroke="#e0e0e0" stroke-width="1.1"/>
<line x1="1573.9" y1="1591.5" x2="1573.9" y2="1728.2" stroke="#e0e0e0" stroke-width="1.1"/>
<line x1="1605.1" y1="1591.5" x2="1605.1" y2="1728.2" stroke="#e0e0e0" stroke-width="1.1"/>
<line x1="1636.3" y1="1591.5" x2="1636.3" y2="1728.2" stroke="#e0e0e0" stroke-width="1.1"/>
<line x1="1667.5" y1="1591.5" x2="1667.5" y2="1728.2" stroke="#e0e0e0" stroke-width="1.1"/>
<line x1="1698.7" y1="1591.5" x2="1698.7" y2="1728.2" stroke="#e0e0e0" stroke-width="1.1"/>
<line x1="1729.9" y1="1591.5" x2="1729.9" y2="1728.2" stroke="#e0e0e0" stroke-width="1.1"/>
<line x1="1761.1" y1="1591.5" x2="1761.1" y2="1728.2" stroke="#e0e0e0" stroke-width="1.1"/>
<line x1="1792.3" y1="1591.5" x2="1792.3" y2="1728.2" stroke="#e0e0e0" stroke-width="1.1"/>
<line x1="1806.5" y1="1590.5" x2="1806.5" y2="1773.0" stroke="#c8c8c8" stroke-width="1"/>
<line x1="1516.5" y1="1684.0" x2="1802.5" y2="1684.0" stroke="#000" stroke-width="2.2" stroke-dasharray="2.2,3.5"/>
<path d="M1514.0 1728.2V1758.8M1524.1 1728.2V1758.8M1543.0 1728.2V1758.8M1557.5 1728.2V1758.8M1591.1 1728.2V1758.8M1611.9 1728.2V1758.8M1614.7 1728.2V1758.8M1788.8 1728.2V1758.8" stroke="#404040" stroke-width="1.4" fill="none"/>
<path d="M1515.3 1728.2V1758.8M1553.2 1728.2V1758.8M1558.9 1728.2V1758.8M1634.2 1728.2V1758.8M1711.4 1728.2V1758.8M1769.2 1728.2V1758.8M1770.8 1728.2V1758.8M1790.5 1728.2V1758.8" stroke="#585858" stroke-width="1.4" fill="none"/>
<path d="M1516.9 1728.2V1758.8M1580.3 1728.2V1758.8M1631.2 1728.2V1758.8" stroke="#484848" stroke-width="1.4" fill="none"/>
<path d="M1518.1 1728.2V1758.8M1549.8 1728.2V1758.8M1574.2 1728.2V1758.8M1576.1 1728.2V1758.8M1578.7 1728.2V1758.8M1714.6 1728.2V1758.8M1762.7 1728.2V1758.8M1799.8 1728.2V1758.8" stroke="#383838" stroke-width="1.4" fill="none"/>
<path d="M1519.4 1728.2V1758.8M1616.2 1728.2V1758.8M1716.9 1728.2V1758.8" stroke="#080808" stroke-width="1.4" fill="none"/>
<path d="M1526.1 1728.2V1758.8M1537.5 1728.2V1758.8M1556.2 1728.2V1758.8M1632.8 1728.2V1758.8M1761.3 1728.2V1758.8" stroke="#303030" stroke-width="1.4" fill="none"/>
<path d="M1533.4 1728.2V1758.8M1551.1 1728.2V1758.8M1797.5 1728.2V1758.8" stroke="#282828" stroke-width="1.4" fill="none"/>
<path d="M1534.7 1728.2V1758.8M1541.9 1728.2V1758.8M1588.8 1728.2V1758.8M1589.6 1728.2V1758.8M1613.6 1728.2V1758.8M1764.8 1728.2V1758.8" stroke="#505050" stroke-width="1.4" fill="none"/>
<path d="M1536.2 1728.2V1758.8M1577.7 1728.2V1758.8M1715.6 1728.2V1758.8" stroke="#181818" stroke-width="1.4" fill="none"/>
<path d="M1538.9 1728.2V1758.8M1554.0 1728.2V1758.8M1581.7 1728.2V1758.8M1617.5 1728.2V1758.8M1718.7 1728.2V1758.8" stroke="#101010" stroke-width="1.4" fill="none"/>
<path d="M1539.9 1728.2V1758.8M1593.2 1728.2V1758.8M1709.4 1728.2V1758.8M1713.2 1728.2V1758.8" stroke="#202020" stroke-width="1.4" fill="none"/>
<path d="M1563.6 1728.2V1758.8" stroke="#989898" stroke-width="1.3" fill="none"/>
<path d="M1565.5 1728.2V1758.8M1648.0 1728.2V1758.8" stroke="#484848" stroke-width="1.3" fill="none"/>
<path d="M1600.9 1728.2V1758.8M1665.1 1728.2V1758.8" stroke="#080808" stroke-width="1.9" fill="none"/>
<path d="M1606.2 1728.2V1758.8" stroke="#585858" stroke-width="1.7" fill="none"/>
<path d="M1622.4 1728.2V1758.8M1642.6 1728.2V1758.8M1741.1 1728.2V1758.8" stroke="#606060" stroke-width="1.7" fill="none"/>
<path d="M1629.4 1728.2V1758.8M1792.2 1728.2V1758.8" stroke="#606060" stroke-width="1.4" fill="none"/>
<path d="M1646.7 1728.2V1758.8M1703.2 1728.2V1758.8" stroke="#909090" stroke-width="1.3" fill="none"/>
<path d="M1656.8 1728.2V1758.8" stroke="#808080" stroke-width="1.3" fill="none"/>
<path d="M1658.1 1728.2V1758.8M1698.1 1728.2V1758.8" stroke="#787878" stroke-width="1.3" fill="none"/>
<path d="M1659.7 1728.2V1758.8" stroke="#a0a0a0" stroke-width="1.3" fill="none"/>
<path d="M1683.5 1728.2V1758.8M1689.7 1728.2V1758.8" stroke="#888888" stroke-width="1.7" fill="none"/>
<path d="M1700.9 1728.2V1758.8M1730.6 1728.2V1758.8" stroke="#585858" stroke-width="1.3" fill="none"/>
<path d="M1728.9 1728.2V1758.8" stroke="#606060" stroke-width="1.3" fill="none"/>
<rect x="1513.0" y="1758.8" width="35.5" height="11.0" fill="#ec5e4a"/>
<rect x="1548.2" y="1758.8" width="55.8" height="11.0" fill="#f0887a"/>
<rect x="1603.5" y="1758.8" width="61.9" height="11.0" fill="#f6c0b0"/>
<rect x="1665.1" y="1758.8" width="32.9" height="11.0" fill="#d2dbf6"/>
<rect x="1697.6" y="1758.8" width="25.0" height="11.0" fill="#92b4e6"/>
<rect x="1722.2" y="1758.8" width="32.9" height="11.0" fill="#4d8dd3"/>
<rect x="1754.7" y="1758.8" width="25.9" height="11.0" fill="#2f80c6"/>
<rect x="1780.2" y="1758.8" width="21.5" height="11.0" fill="#1f69a8"/>
<polyline points="1511.8,1684.0 1511.9,1682.0 1511.9,1679.8 1512.0,1678.3 1512.0,1674.8 1512.1,1672.1 1512.2,1669.4 1512.4,1665.7 1512.6,1662.3 1512.8,1658.6 1513.1,1656.3 1513.5,1652.5 1513.9,1648.9 1514.3,1644.7 1514.9,1641.0 1515.4,1636.6 1516.0,1632.5 1516.6,1628.9 1517.2,1626.0 1517.9,1623.1 1518.6,1620.2 1519.3,1618.5 1520.0,1617.4 1520.7,1616.0 1521.4,1615.7 1522.2,1614.3 1523.0,1614.6 1523.9,1614.1 1524.9,1613.4 1525.9,1612.8 1527.0,1611.4 1528.2,1610.1 1529.5,1608.8 1530.9,1608.4 1532.3,1606.3 1533.8,1605.1 1535.4,1603.5 1536.9,1602.6 1538.5,1601.3 1540.1,1599.8 1541.7,1599.4 1543.2,1598.3 1544.7,1598.7 1546.2,1597.5 1547.6,1598.2 1549.1,1597.7 1550.7,1597.3 1552.4,1598.5 1554.2,1597.8 1556.2,1598.8 1558.4,1598.9 1560.8,1599.4 1563.3,1601.0 1565.9,1602.1 1568.6,1603.1 1571.5,1604.0 1574.5,1605.3 1577.7,1606.1 1580.9,1608.7 1584.3,1609.7 1587.8,1612.0 1591.5,1613.4 1595.4,1616.1 1599.5,1618.9 1603.7,1621.6 1608.0,1624.4 1612.4,1627.3 1616.8,1629.8 1621.2,1633.5 1625.5,1636.0 1629.8,1638.5 1634.1,1641.6 1638.5,1644.8 1642.9,1647.8 1647.4,1650.3 1651.8,1652.8 1656.1,1656.3 1660.4,1659.0 1664.4,1661.5 1668.2,1664.6 1671.7,1666.1 1674.8,1668.4 1677.6,1669.7 1680.1,1671.6 1682.4,1673.3 1684.6,1674.8 1686.7,1676.3 1688.9,1677.8 1691.3,1680.3 1693.9,1681.5 1696.9,1683.1 1700.2,1685.0 1703.8,1686.5 1707.7,1689.1 1711.7,1690.9 1715.8,1692.5 1719.8,1693.9 1723.8,1695.8 1727.7,1697.8 1731.3,1700.5 1734.6,1701.4 1737.7,1703.8 1740.6,1705.9 1743.5,1707.8 1746.2,1709.8 1748.8,1712.6 1751.2,1714.5 1753.6,1716.0 1755.8,1717.1 1757.8,1718.7 1759.8,1719.0 1761.6,1718.6 1763.1,1718.0 1764.4,1717.2 1765.6,1716.0 1766.8,1715.0 1767.8,1713.9 1768.9,1712.1 1769.9,1710.9 1771.1,1710.5 1772.4,1710.3 1773.8,1711.1 1775.3,1711.8 1776.9,1712.7 1778.5,1713.3 1780.1,1715.3 1781.7,1715.9 1783.2,1717.4 1784.7,1718.2 1786.0,1718.4 1787.1,1718.8 1788.1,1718.1 1788.9,1718.1 1789.6,1716.4 1790.2,1715.9 1790.8,1713.8 1791.3,1712.1 1791.8,1711.0 1792.3,1709.9 1792.8,1708.0 1793.4,1705.9 1794.1,1704.5 1794.7,1702.3 1795.5,1700.6 1796.2,1697.9 1796.9,1695.6 1797.6,1694.4 1798.2,1691.2 1798.8,1689.5 1799.2,1688.2 1799.6,1687.3" fill="none" stroke="#2ab42a" stroke-width="2.2" stroke-linejoin="round"/>
<path d="M1511.5,1590.5 V1771.0 H1803.5" fill="none" stroke="#000" stroke-width="2.3"/>
<line x1="1504.0" y1="1612.2" x2="1511.5" y2="1612.2" stroke="#000" stroke-width="2"/>
<text x="1499.2" y="1618.0" font-size="16.0" text-anchor="end" font-weight="normal" font-style="normal" >0.4</text>
<line x1="1504.0" y1="1648.1" x2="1511.5" y2="1648.1" stroke="#000" stroke-width="2"/>
<text x="1499.2" y="1653.9" font-size="16.0" text-anchor="end" font-weight="normal" font-style="normal" >0.2</text>
<line x1="1504.0" y1="1684.0" x2="1511.5" y2="1684.0" stroke="#000" stroke-width="2"/>
<text x="1499.2" y="1689.8" font-size="16.0" text-anchor="end" font-weight="normal" font-style="normal" >0.0</text>
<line x1="1504.0" y1="1719.9" x2="1511.5" y2="1719.9" stroke="#000" stroke-width="2"/>
<text x="1499.2" y="1725.7" font-size="16.0" text-anchor="end" font-weight="normal" font-style="normal" >-0.2</text>
<line x1="1573.9" y1="1771.0" x2="1573.9" y2="1778.5" stroke="#000" stroke-width="2"/>
<text x="1574.5" y="1799.6" font-size="15.8" text-anchor="middle" font-weight="normal" font-style="normal" >5000</text>
<line x1="1636.3" y1="1771.0" x2="1636.3" y2="1778.5" stroke="#000" stroke-width="2"/>
<text x="1636.9" y="1799.6" font-size="15.8" text-anchor="middle" font-weight="normal" font-style="normal" >10000</text>
<line x1="1698.7" y1="1771.0" x2="1698.7" y2="1778.5" stroke="#000" stroke-width="2"/>
<text x="1699.3" y="1799.6" font-size="15.8" text-anchor="middle" font-weight="normal" font-style="normal" >15000</text>
<line x1="1761.1" y1="1771.0" x2="1761.1" y2="1778.5" stroke="#000" stroke-width="2"/>
<text x="1761.7" y="1799.6" font-size="15.8" text-anchor="middle" font-weight="normal" font-style="normal" >20000</text>
<text x="1658.5" y="1823.3" font-size="15.8" text-anchor="middle" font-weight="normal" font-style="normal" >Rank in ordered dataset</text>
<text transform="translate(1461.5,1664.5) rotate(-90)" font-size="15.8" text-anchor="middle" >Running enrichment score</text>
<text x="1655.3" y="1604.9" font-size="16.0" text-anchor="start" font-weight="normal" font-style="normal" >NES</text>
<text x="1698.3" y="1604.9" font-size="16.0" text-anchor="start" font-weight="normal" font-style="normal" >1.342062</text>
<text x="1655.3" y="1623.7" font-size="16.0" text-anchor="start" font-weight="normal" font-style="normal" >p-value</text>
<text x="1716.7" y="1623.7" font-size="16.0" text-anchor="start" font-weight="normal" font-style="normal" >0.022394</text>
<line x1="1898.0" y1="1591.5" x2="1898.0" y2="1728.2" stroke="#e0e0e0" stroke-width="1.1"/>
<line x1="1929.2" y1="1591.5" x2="1929.2" y2="1728.2" stroke="#e0e0e0" stroke-width="1.1"/>
<line x1="1960.4" y1="1591.5" x2="1960.4" y2="1728.2" stroke="#e0e0e0" stroke-width="1.1"/>
<line x1="1991.6" y1="1591.5" x2="1991.6" y2="1728.2" stroke="#e0e0e0" stroke-width="1.1"/>
<line x1="2022.8" y1="1591.5" x2="2022.8" y2="1728.2" stroke="#e0e0e0" stroke-width="1.1"/>
<line x1="2054.0" y1="1591.5" x2="2054.0" y2="1728.2" stroke="#e0e0e0" stroke-width="1.1"/>
<line x1="2085.2" y1="1591.5" x2="2085.2" y2="1728.2" stroke="#e0e0e0" stroke-width="1.1"/>
<line x1="2116.4" y1="1591.5" x2="2116.4" y2="1728.2" stroke="#e0e0e0" stroke-width="1.1"/>
<line x1="2147.6" y1="1591.5" x2="2147.6" y2="1728.2" stroke="#e0e0e0" stroke-width="1.1"/>
<line x1="1871.8" y1="1632.8" x2="2157.5" y2="1632.8" stroke="#000" stroke-width="2.2" stroke-dasharray="2.2,3.5"/>
<path d="M1869.0 1728.2V1758.8M1874.7 1728.2V1758.8M1973.7 1728.2V1758.8M2080.3 1728.2V1758.8M2083.4 1728.2V1758.8M2123.2 1728.2V1758.8M2151.3 1728.2V1758.8" stroke="#383838" stroke-width="1.4" fill="none"/>
<path d="M1870.6 1728.2V1758.8M1950.3 1728.2V1758.8M1962.8 1728.2V1758.8M2081.9 1728.2V1758.8M2120.1 1728.2V1758.8M2128.9 1728.2V1758.8" stroke="#101010" stroke-width="1.4" fill="none"/>
<path d="M1872.4 1728.2V1758.8M1876.6 1728.2V1758.8M1888.9 1728.2V1758.8M1964.5 1728.2V1758.8M2117.9 1728.2V1758.8M2125.9 1728.2V1758.8M2138.2 1728.2V1758.8" stroke="#484848" stroke-width="1.4" fill="none"/>
<path d="M1873.3 1728.2V1758.8M1885.2 1728.2V1758.8M2089.2 1728.2V1758.8" stroke="#181818" stroke-width="1.4" fill="none"/>
<path d="M1882.2 1728.2V1758.8M1925.4 1728.2V1758.8M2020.1 1728.2V1758.8M2021.9 1728.2V1758.8M2084.5 1728.2V1758.8M2127.6 1728.2V1758.8M2153.9 1728.2V1758.8" stroke="#505050" stroke-width="1.4" fill="none"/>
<path d="M1884.4 1728.2V1758.8M1923.4 1728.2V1758.8M1958.2 1728.2V1758.8M1961.1 1728.2V1758.8M1978.1 1728.2V1758.8M2023.9 1728.2V1758.8" stroke="#303030" stroke-width="1.4" fill="none"/>
<path d="M1887.4 1728.2V1758.8M1926.5 1728.2V1758.8M1947.9 1728.2V1758.8M2086.1 1728.2V1758.8M2087.8 1728.2V1758.8M2121.6 1728.2V1758.8M2152.4 1728.2V1758.8" stroke="#080808" stroke-width="1.4" fill="none"/>
<path d="M1900.1 1728.2V1758.8M1984.9 1728.2V1758.8M2038.9 1728.2V1758.8" stroke="#585858" stroke-width="1.7" fill="none"/>
<path d="M1905.4 1728.2V1758.8M1998.1 1728.2V1758.8" stroke="#606060" stroke-width="1.7" fill="none"/>
<path d="M1910.6 1728.2V1758.8M2029.7 1728.2V1758.8" stroke="#080808" stroke-width="1.9" fill="none"/>
<path d="M1933.9 1728.2V1758.8M2049.0 1728.2V1758.8" stroke="#707070" stroke-width="1.7" fill="none"/>
<path d="M1936.7 1728.2V1758.8M1939.2 1728.2V1758.8M2135.2 1728.2V1758.8M2136.3 1728.2V1758.8" stroke="#202020" stroke-width="1.4" fill="none"/>
<path d="M1940.4 1728.2V1758.8M1949.1 1728.2V1758.8M1975.5 1728.2V1758.8M2116.3 1728.2V1758.8M2124.3 1728.2V1758.8M2132.1 1728.2V1758.8M2155.0 1728.2V1758.8" stroke="#404040" stroke-width="1.4" fill="none"/>
<path d="M1952.0 1728.2V1758.8M2133.3 1728.2V1758.8" stroke="#282828" stroke-width="1.4" fill="none"/>
<path d="M1954.0 1728.2V1758.8M2118.8 1728.2V1758.8" stroke="#606060" stroke-width="1.4" fill="none"/>
<path d="M1960.0 1728.2V1758.8M1976.7 1728.2V1758.8M1979.7 1728.2V1758.8M2024.7 1728.2V1758.8M2149.8 1728.2V1758.8" stroke="#585858" stroke-width="1.4" fill="none"/>
<path d="M1992.8 1728.2V1758.8M2143.9 1728.2V1758.8" stroke="#888888" stroke-width="1.7" fill="none"/>
<path d="M2005.9 1728.2V1758.8M2099.1 1728.2V1758.8M2112.3 1728.2V1758.8" stroke="#808080" stroke-width="1.3" fill="none"/>
<path d="M2007.6 1728.2V1758.8M2097.5 1728.2V1758.8" stroke="#686868" stroke-width="1.3" fill="none"/>
<path d="M2008.8 1728.2V1758.8M2010.4 1728.2V1758.8" stroke="#505050" stroke-width="1.3" fill="none"/>
<path d="M2054.3 1728.2V1758.8M2073.6 1728.2V1758.8" stroke="#808080" stroke-width="1.7" fill="none"/>
<path d="M2065.0 1728.2V1758.8" stroke="#606060" stroke-width="1.3" fill="none"/>
<path d="M2067.9 1728.2V1758.8M2106.0 1728.2V1758.8M2111.1 1728.2V1758.8" stroke="#484848" stroke-width="1.3" fill="none"/>
<path d="M2103.8 1728.2V1758.8" stroke="#585858" stroke-width="1.3" fill="none"/>
<path d="M2107.6 1728.2V1758.8" stroke="#888888" stroke-width="1.3" fill="none"/>
<rect x="1868.5" y="1758.8" width="20.6" height="11.0" fill="#de3535"/>
<rect x="1888.7" y="1758.8" width="23.2" height="11.0" fill="#ee604d"/>
<rect x="1911.5" y="1758.8" width="38.2" height="11.0" fill="#f0907c"/>
<rect x="1949.3" y="1758.8" width="62.8" height="11.0" fill="#f6c0b0"/>
<rect x="2011.7" y="1758.8" width="36.4" height="11.0" fill="#d2dbf6"/>
<rect x="2047.7" y="1758.8" width="23.2" height="11.0" fill="#92b4e6"/>
<rect x="2070.6" y="1758.8" width="41.7" height="11.0" fill="#5d97d8"/>
<rect x="2111.9" y="1758.8" width="44.3" height="11.0" fill="#2f84cc"/>
<polyline points="1867.1,1632.0 1867.2,1631.2 1867.3,1632.0 1867.4,1631.0 1867.5,1630.7 1867.7,1630.0 1867.9,1630.2 1868.1,1629.7 1868.3,1628.3 1868.5,1627.6 1868.8,1626.2 1869.1,1625.5 1869.4,1623.8 1869.7,1622.3 1870.1,1619.4 1870.5,1618.0 1870.9,1616.6 1871.4,1613.6 1871.9,1612.6 1872.4,1610.8 1873.0,1609.2 1873.7,1608.5 1874.4,1608.7 1875.2,1607.3 1876.1,1607.3 1876.9,1607.5 1877.8,1606.4 1878.7,1606.1 1879.7,1606.5 1880.5,1606.2 1881.4,1604.9 1882.2,1605.2 1883.0,1604.2 1883.8,1602.9 1884.6,1601.4 1885.3,1601.2 1886.1,1599.3 1887.0,1599.3 1887.9,1598.0 1888.8,1597.9 1889.8,1597.2 1890.9,1597.3 1891.9,1597.9 1893.0,1597.8 1894.1,1598.2 1895.3,1599.8 1896.6,1600.6 1897.9,1600.4 1899.3,1602.2 1900.8,1602.9 1902.4,1603.1 1904.1,1603.8 1905.7,1604.2 1907.4,1605.8 1909.2,1605.5 1911.1,1607.1 1913.1,1607.8 1915.3,1608.9 1917.7,1608.8 1920.4,1610.8 1923.4,1611.3 1926.7,1612.9 1930.5,1615.5 1934.5,1616.5 1938.7,1619.3 1943.1,1621.7 1947.6,1623.3 1952.1,1625.6 1956.7,1628.5 1961.1,1630.6 1965.4,1633.4 1969.6,1635.5 1973.8,1637.8 1978.0,1640.0 1982.2,1643.8 1986.4,1646.4 1990.5,1648.5 1994.7,1652.0 1998.9,1654.3 2003.1,1657.3 2007.3,1659.6 2011.5,1662.1 2015.7,1665.1 2019.9,1668.0 2024.1,1670.5 2028.2,1673.1 2032.4,1675.7 2036.6,1678.0 2040.8,1679.9 2045.0,1683.0 2049.2,1685.5 2053.5,1687.3 2057.9,1690.0 2062.5,1693.8 2067.0,1695.8 2071.5,1699.4 2075.9,1702.2 2080.1,1704.1 2084.1,1706.6 2087.9,1708.1 2091.2,1709.9 2094.2,1712.3 2096.7,1713.4 2099.0,1714.1 2101.1,1714.9 2103.0,1715.5 2104.8,1716.9 2106.6,1716.7 2108.3,1716.6 2110.2,1717.4 2112.2,1716.5 2114.3,1715.7 2116.5,1715.1 2118.8,1713.5 2121.0,1712.2 2123.2,1710.4 2125.4,1708.6 2127.5,1706.5 2129.5,1705.0 2131.4,1703.9 2133.2,1701.7 2134.8,1700.7 2136.3,1699.8 2137.8,1698.9 2139.1,1697.9 2140.4,1697.4 2141.6,1696.9 2142.7,1695.0 2143.7,1694.3 2144.7,1693.6 2145.7,1690.9 2146.6,1690.0 2147.4,1687.7 2148.1,1685.8 2148.8,1683.8 2149.4,1681.0 2149.9,1678.3 2150.5,1676.5 2151.0,1674.3 2151.5,1671.0 2152.0,1668.9 2152.5,1665.5 2153.0,1662.4 2153.5,1658.8 2154.0,1655.3 2154.5,1651.4 2154.9,1647.9 2155.3,1644.6 2155.7,1641.1 2156.0,1639.4 2156.2,1637.0" fill="none" stroke="#2ab42a" stroke-width="2.2" stroke-linejoin="round"/>
<path d="M1866.8,1590.5 V1771.0 H2158.5" fill="none" stroke="#000" stroke-width="2.3"/>
<line x1="1859.3" y1="1590.8" x2="1866.8" y2="1590.8" stroke="#000" stroke-width="2"/>
<text x="1854.5" y="1596.6" font-size="16.0" text-anchor="end" font-weight="normal" font-style="normal" >0.25</text>
<line x1="1859.3" y1="1632.8" x2="1866.8" y2="1632.8" stroke="#000" stroke-width="2"/>
<text x="1854.5" y="1638.6" font-size="16.0" text-anchor="end" font-weight="normal" font-style="normal" >0.00</text>
<line x1="1859.3" y1="1674.8" x2="1866.8" y2="1674.8" stroke="#000" stroke-width="2"/>
<text x="1854.5" y="1680.6" font-size="16.0" text-anchor="end" font-weight="normal" font-style="normal" >-0.25</text>
<line x1="1929.2" y1="1771.0" x2="1929.2" y2="1778.5" stroke="#000" stroke-width="2"/>
<text x="1929.8" y="1799.6" font-size="15.8" text-anchor="middle" font-weight="normal" font-style="normal" >5000</text>
<line x1="1991.6" y1="1771.0" x2="1991.6" y2="1778.5" stroke="#000" stroke-width="2"/>
<text x="1992.2" y="1799.6" font-size="15.8" text-anchor="middle" font-weight="normal" font-style="normal" >10000</text>
<line x1="2054.0" y1="1771.0" x2="2054.0" y2="1778.5" stroke="#000" stroke-width="2"/>
<text x="2054.6" y="1799.6" font-size="15.8" text-anchor="middle" font-weight="normal" font-style="normal" >15000</text>
<line x1="2116.4" y1="1771.0" x2="2116.4" y2="1778.5" stroke="#000" stroke-width="2"/>
<text x="2117.0" y="1799.6" font-size="15.8" text-anchor="middle" font-weight="normal" font-style="normal" >20000</text>
<text x="2013.8" y="1823.3" font-size="15.8" text-anchor="middle" font-weight="normal" font-style="normal" >Rank in ordered dataset</text>
<text x="2010.6" y="1604.9" font-size="16.0" text-anchor="start" font-weight="normal" font-style="normal" >NES</text>
<text x="2053.6" y="1604.9" font-size="16.0" text-anchor="start" font-weight="normal" font-style="normal" >-1.227412</text>
<text x="2010.6" y="1623.7" font-size="16.0" text-anchor="start" font-weight="normal" font-style="normal" >p-value</text>
<text x="2072.0" y="1623.7" font-size="16.0" text-anchor="start" font-weight="normal" font-style="normal" >0.100946</text>
<line x1="93.2" y1="1989.3" x2="93.2" y2="2125.5" stroke="#e0e0e0" stroke-width="1.1"/>
<line x1="124.4" y1="1989.3" x2="124.4" y2="2125.5" stroke="#e0e0e0" stroke-width="1.1"/>
<line x1="155.6" y1="1989.3" x2="155.6" y2="2125.5" stroke="#e0e0e0" stroke-width="1.1"/>
<line x1="186.8" y1="1989.3" x2="186.8" y2="2125.5" stroke="#e0e0e0" stroke-width="1.1"/>
<line x1="218.0" y1="1989.3" x2="218.0" y2="2125.5" stroke="#e0e0e0" stroke-width="1.1"/>
<line x1="249.2" y1="1989.3" x2="249.2" y2="2125.5" stroke="#e0e0e0" stroke-width="1.1"/>
<line x1="280.4" y1="1989.3" x2="280.4" y2="2125.5" stroke="#e0e0e0" stroke-width="1.1"/>
<line x1="311.6" y1="1989.3" x2="311.6" y2="2125.5" stroke="#e0e0e0" stroke-width="1.1"/>
<line x1="342.8" y1="1989.3" x2="342.8" y2="2125.5" stroke="#e0e0e0" stroke-width="1.1"/>
<line x1="67.0" y1="2058.8" x2="353.0" y2="2058.8" stroke="#000" stroke-width="2.2" stroke-dasharray="2.2,3.5"/>
<rect x="62.0" y="2125.5" width="65.0" height="30.3" fill="#000"/>
<rect x="147.3" y="2125.5" width="13.2" height="30.3" fill="#000"/>
<rect x="229.0" y="2125.5" width="125.7" height="30.3" fill="#000"/>
<path d="M101.4 2125.5V2155.8M100.3 2125.5V2155.8" stroke="#686868" stroke-width="0.9" fill="none"/>
<path d="M102.8 2125.5V2155.8M76.4 2125.5V2155.8M291.8 2125.5V2155.8" stroke="#505050" stroke-width="0.9" fill="none"/>
<path d="M78.2 2125.5V2155.8M315.2 2125.5V2155.8M273.2 2125.5V2155.8M307.9 2125.5V2155.8" stroke="#989898" stroke-width="0.9" fill="none"/>
<path d="M68.8 2125.5V2155.8" stroke="#484848" stroke-width="0.9" fill="none"/>
<path d="M111.3 2125.5V2155.8M149.1 2125.5V2155.8M319.3 2125.5V2155.8" stroke="#383838" stroke-width="0.9" fill="none"/>
<path d="M132.3 2125.5V2155.8M169.5 2125.5V2155.8M201.9 2125.5V2155.8M204.7 2125.5V2155.8" stroke="#101010" stroke-width="1.4" fill="none"/>
<path d="M133.6 2125.5V2155.8" stroke="#606060" stroke-width="1.4" fill="none"/>
<path d="M135.8 2125.5V2155.8" stroke="#303030" stroke-width="1.4" fill="none"/>
<path d="M139.4 2125.5V2155.8M142.4 2125.5V2155.8M183.7 2125.5V2155.8M196.0 2125.5V2155.8M210.5 2125.5V2155.8M214.9 2125.5V2155.8" stroke="#080808" stroke-width="1.9" fill="none"/>
<path d="M164.7 2125.5V2155.8M172.5 2125.5V2155.8M187.8 2125.5V2155.8" stroke="#585858" stroke-width="1.4" fill="none"/>
<path d="M166.6 2125.5V2155.8" stroke="#282828" stroke-width="1.4" fill="none"/>
<path d="M167.7 2125.5V2155.8M170.6 2125.5V2155.8M200.2 2125.5V2155.8" stroke="#181818" stroke-width="1.4" fill="none"/>
<path d="M173.7 2125.5V2155.8M203.2 2125.5V2155.8" stroke="#202020" stroke-width="1.4" fill="none"/>
<path d="M178.5 2125.5V2155.8" stroke="#808080" stroke-width="1.7" fill="none"/>
<path d="M186.3 2125.5V2155.8" stroke="#484848" stroke-width="1.4" fill="none"/>
<path d="M191.6 2125.5V2155.8" stroke="#606060" stroke-width="1.7" fill="none"/>
<path d="M199.3 2125.5V2155.8" stroke="#505050" stroke-width="1.4" fill="none"/>
<path d="M222.4 2125.5V2155.8" stroke="#787878" stroke-width="1.7" fill="none"/>
<path d="M263.0 2125.5V2155.8" stroke="#707070" stroke-width="0.9" fill="none"/>
<path d="M270.2 2125.5V2155.8" stroke="#808080" stroke-width="0.9" fill="none"/>
<path d="M233.6 2125.5V2155.8" stroke="#585858" stroke-width="0.9" fill="none"/>
<path d="M249.7 2125.5V2155.8M280.3 2125.5V2155.8" stroke="#606060" stroke-width="0.9" fill="none"/>
<path d="M271.9 2125.5V2155.8" stroke="#282828" stroke-width="0.9" fill="none"/>
<path d="M338.7 2125.5V2155.8" stroke="#a0a0a0" stroke-width="0.9" fill="none"/>
<path d="M348.8 2125.5V2155.8" stroke="#888888" stroke-width="0.9" fill="none"/>
<rect x="62.0" y="2155.8" width="18.9" height="11.8" fill="#d73030"/>
<rect x="80.5" y="2155.8" width="24.1" height="11.8" fill="#e8674f"/>
<rect x="104.2" y="2155.8" width="26.8" height="11.8" fill="#ebaa90"/>
<rect x="130.6" y="2155.8" width="52.2" height="11.8" fill="#efe0d6"/>
<rect x="182.4" y="2155.8" width="47.0" height="11.8" fill="#e9ecf6"/>
<rect x="229.0" y="2155.8" width="54.0" height="11.8" fill="#d2d6e2"/>
<rect x="282.6" y="2155.8" width="36.4" height="11.8" fill="#a6c1d8"/>
<rect x="318.6" y="2155.8" width="25.0" height="11.8" fill="#5d9ad0"/>
<rect x="343.2" y="2155.8" width="11.8" height="11.8" fill="#3a7cc0"/>
<polyline points="62.2,2050.0 62.2,2048.8 62.3,2048.0 62.3,2046.9 62.3,2046.1 62.4,2044.7 62.4,2043.1 62.6,2040.6 62.7,2038.9 63.0,2037.8 63.3,2034.9 63.7,2032.8 64.1,2029.8 64.6,2027.1 65.1,2023.1 65.7,2020.7 66.3,2017.6 67.0,2014.2 67.7,2010.9 68.5,2008.8 69.4,2006.2 70.4,2005.2 71.4,2003.8 72.6,2002.5 73.8,2001.8 75.1,2001.1 76.4,2000.6 77.7,2000.3 79.1,1999.7 80.3,1999.4 81.6,1998.7 82.8,1997.4 83.8,1997.0 84.8,1997.3 85.7,1995.9 86.7,1996.5 87.8,1996.0 89.0,1995.1 90.4,1995.8 92.0,1995.6 93.9,1995.2 96.0,1995.5 98.4,1996.2 100.9,1996.4 103.5,1996.8 106.4,1997.7 109.3,1997.7 112.4,1999.2 115.6,2000.3 119.0,2001.4 122.4,2002.3 126.0,2003.8 129.8,2006.2 133.8,2008.3 137.9,2011.1 142.1,2013.1 146.4,2016.0 150.6,2018.5 154.9,2021.3 159.2,2024.1 163.3,2026.9 167.4,2029.7 171.5,2031.6 175.5,2034.6 179.6,2036.5 183.7,2039.4 187.8,2041.1 191.9,2043.5 195.9,2045.8 200.0,2049.1 204.1,2051.5 208.2,2054.6 212.3,2056.9 216.3,2060.1 220.4,2062.2 224.5,2066.1 228.6,2068.0 232.7,2071.1 236.7,2074.9 240.8,2076.7 244.9,2080.5 249.1,2083.4 253.3,2085.2 257.7,2088.6 262.0,2092.0 266.3,2095.1 270.6,2097.4 274.7,2100.4 278.6,2102.3 282.3,2104.9 285.7,2106.0 288.8,2108.3 291.8,2109.1 294.5,2110.8 297.1,2111.2 299.5,2111.6 301.8,2112.7 304.0,2113.0 306.1,2113.8 308.2,2113.7 310.2,2114.6 312.2,2114.8 314.0,2115.4 315.7,2116.0 317.3,2116.5 318.9,2116.4 320.4,2116.4 321.9,2116.3 323.4,2116.6 324.9,2116.5 326.5,2115.6 328.2,2115.0 329.9,2115.1 331.7,2113.9 333.5,2113.6 335.2,2112.5 336.9,2110.9 338.6,2110.1 340.1,2109.6 341.6,2108.2 342.9,2106.7 344.1,2105.7 345.1,2104.1 346.1,2102.3 346.9,2100.7 347.7,2098.4 348.4,2097.0 349.1,2094.3 349.8,2093.1 350.4,2091.0 351.0,2088.6 351.6,2086.3 352.1,2083.2 352.7,2080.2 353.1,2076.4 353.6,2074.0 353.9,2070.2 354.3,2068.4 354.6,2065.7 354.9,2063.7 355.1,2061.6" fill="none" stroke="#2ab42a" stroke-width="2.2" stroke-linejoin="round"/>
<path d="M62.0,1988.3 V2168.8 H354.0" fill="none" stroke="#000" stroke-width="2.3"/>
<line x1="54.5" y1="2022.1" x2="62.0" y2="2022.1" stroke="#000" stroke-width="2"/>
<text x="49.7" y="2027.9" font-size="16.0" text-anchor="end" font-weight="normal" font-style="normal" >0.2</text>
<line x1="54.5" y1="2058.8" x2="62.0" y2="2058.8" stroke="#000" stroke-width="2"/>
<text x="49.7" y="2064.6" font-size="16.0" text-anchor="end" font-weight="normal" font-style="normal" >0.0</text>
<line x1="54.5" y1="2095.5" x2="62.0" y2="2095.5" stroke="#000" stroke-width="2"/>
<text x="49.7" y="2101.3" font-size="16.0" text-anchor="end" font-weight="normal" font-style="normal" >-0.2</text>
<line x1="124.4" y1="2168.8" x2="124.4" y2="2176.3" stroke="#000" stroke-width="2"/>
<text x="125.0" y="2197.4" font-size="15.8" text-anchor="middle" font-weight="normal" font-style="normal" >5000</text>
<line x1="186.8" y1="2168.8" x2="186.8" y2="2176.3" stroke="#000" stroke-width="2"/>
<text x="187.4" y="2197.4" font-size="15.8" text-anchor="middle" font-weight="normal" font-style="normal" >10000</text>
<line x1="249.2" y1="2168.8" x2="249.2" y2="2176.3" stroke="#000" stroke-width="2"/>
<text x="249.8" y="2197.4" font-size="15.8" text-anchor="middle" font-weight="normal" font-style="normal" >15000</text>
<line x1="311.6" y1="2168.8" x2="311.6" y2="2176.3" stroke="#000" stroke-width="2"/>
<text x="312.2" y="2197.4" font-size="15.8" text-anchor="middle" font-weight="normal" font-style="normal" >20000</text>
<text x="209.0" y="2221.1" font-size="15.8" text-anchor="middle" font-weight="normal" font-style="normal" >Rank in ordered dataset</text>
<text transform="translate(12.0,2062.3) rotate(-90)" font-size="15.8" text-anchor="middle" >Running enrichment score</text>
<text x="205.8" y="2002.7" font-size="16.0" text-anchor="start" font-weight="normal" font-style="normal" >NES</text>
<text x="248.8" y="2002.7" font-size="16.0" text-anchor="start" font-weight="normal" font-style="normal" >1.179224</text>
<text x="205.8" y="2021.5" font-size="16.0" text-anchor="start" font-weight="normal" font-style="normal" >p-value</text>
<text x="267.2" y="2021.5" font-size="16.0" text-anchor="start" font-weight="normal" font-style="normal" >0.052945</text>
<line x1="445.5" y1="1989.3" x2="445.5" y2="2125.5" stroke="#e0e0e0" stroke-width="1.1"/>
<line x1="476.7" y1="1989.3" x2="476.7" y2="2125.5" stroke="#e0e0e0" stroke-width="1.1"/>
<line x1="507.9" y1="1989.3" x2="507.9" y2="2125.5" stroke="#e0e0e0" stroke-width="1.1"/>
<line x1="539.1" y1="1989.3" x2="539.1" y2="2125.5" stroke="#e0e0e0" stroke-width="1.1"/>
<line x1="570.3" y1="1989.3" x2="570.3" y2="2125.5" stroke="#e0e0e0" stroke-width="1.1"/>
<line x1="601.5" y1="1989.3" x2="601.5" y2="2125.5" stroke="#e0e0e0" stroke-width="1.1"/>
<line x1="632.7" y1="1989.3" x2="632.7" y2="2125.5" stroke="#e0e0e0" stroke-width="1.1"/>
<line x1="663.9" y1="1989.3" x2="663.9" y2="2125.5" stroke="#e0e0e0" stroke-width="1.1"/>
<line x1="695.1" y1="1989.3" x2="695.1" y2="2125.5" stroke="#e0e0e0" stroke-width="1.1"/>
<line x1="419.3" y1="2045.7" x2="705.3" y2="2045.7" stroke="#000" stroke-width="2.2" stroke-dasharray="2.2,3.5"/>
<rect x="415.2" y="2125.5" width="118.6" height="30.3" fill="#000"/>
<rect x="592.7" y="2125.5" width="115.1" height="30.3" fill="#000"/>
<path d="M502.4 2125.5V2155.8M682.7 2125.5V2155.8" stroke="#484848" stroke-width="0.9" fill="none"/>
<path d="M486.4 2125.5V2155.8M501.7 2125.5V2155.8" stroke="#606060" stroke-width="0.9" fill="none"/>
<path d="M518.4 2125.5V2155.8M505.3 2125.5V2155.8M700.9 2125.5V2155.8M602.2 2125.5V2155.8" stroke="#707070" stroke-width="0.9" fill="none"/>
<path d="M464.0 2125.5V2155.8M432.2 2125.5V2155.8M629.0 2125.5V2155.8" stroke="#808080" stroke-width="0.9" fill="none"/>
<path d="M507.0 2125.5V2155.8M459.4 2125.5V2155.8M670.4 2125.5V2155.8" stroke="#787878" stroke-width="0.9" fill="none"/>
<path d="M482.7 2125.5V2155.8M475.9 2125.5V2155.8M607.0 2125.5V2155.8" stroke="#303030" stroke-width="0.9" fill="none"/>
<path d="M447.8 2125.5V2155.8M664.9 2125.5V2155.8" stroke="#383838" stroke-width="0.9" fill="none"/>
<path d="M507.8 2125.5V2155.8M696.8 2125.5V2155.8" stroke="#282828" stroke-width="0.9" fill="none"/>
<path d="M539.5 2125.5V2155.8M554.4 2125.5V2155.8M574.2 2125.5V2155.8M578.6 2125.5V2155.8" stroke="#080808" stroke-width="1.9" fill="none"/>
<path d="M548.8 2125.5V2155.8" stroke="#a0a0a0" stroke-width="1.3" fill="none"/>
<path d="M549.9 2125.5V2155.8" stroke="#909090" stroke-width="1.3" fill="none"/>
<path d="M561.5 2125.5V2155.8M563.5 2125.5V2155.8" stroke="#484848" stroke-width="1.4" fill="none"/>
<path d="M564.8 2125.5V2155.8M566.3 2125.5V2155.8" stroke="#181818" stroke-width="1.4" fill="none"/>
<path d="M585.6 2125.5V2155.8" stroke="#787878" stroke-width="1.7" fill="none"/>
<path d="M662.3 2125.5V2155.8" stroke="#888888" stroke-width="0.9" fill="none"/>
<path d="M626.0 2125.5V2155.8" stroke="#505050" stroke-width="0.9" fill="none"/>
<path d="M636.3 2125.5V2155.8" stroke="#404040" stroke-width="0.9" fill="none"/>
<path d="M696.6 2125.5V2155.8" stroke="#585858" stroke-width="0.9" fill="none"/>
<rect x="415.2" y="2155.8" width="12.7" height="11.8" fill="#d73030"/>
<rect x="427.5" y="2155.8" width="21.5" height="11.8" fill="#e8674f"/>
<rect x="448.5" y="2155.8" width="25.9" height="11.8" fill="#eba890"/>
<rect x="474.0" y="2155.8" width="39.1" height="11.8" fill="#eddcd2"/>
<rect x="512.7" y="2155.8" width="81.2" height="11.8" fill="#ebeef8"/>
<rect x="593.5" y="2155.8" width="19.7" height="11.8" fill="#d8dce6"/>
<rect x="612.9" y="2155.8" width="39.9" height="11.8" fill="#b0c8dc"/>
<rect x="652.4" y="2155.8" width="37.3" height="11.8" fill="#5d9ad0"/>
<rect x="689.3" y="2155.8" width="18.9" height="11.8" fill="#3a7cc0"/>
<polyline points="414.6,2045.0 414.6,2044.7 414.6,2044.1 414.6,2044.3 414.6,2044.5 414.6,2043.7 414.7,2043.6 414.8,2042.8 414.9,2042.2 415.2,2041.4 415.5,2039.3 415.9,2037.2 416.4,2034.3 417.0,2029.9 417.7,2026.3 418.4,2023.3 419.1,2018.9 419.9,2015.1 420.7,2012.2 421.5,2008.5 422.4,2006.5 423.3,2005.2 424.1,2003.8 425.1,2002.1 426.0,2001.7 427.0,2002.0 428.0,2001.5 429.1,2001.1 430.2,2001.5 431.4,2000.8 432.7,2000.9 434.1,1999.6 435.5,1999.6 437.0,1998.8 438.6,1997.9 440.2,1998.2 441.9,1997.7 443.6,1997.2 445.4,1996.9 447.2,1997.0 449.0,1997.3 450.8,1997.8 452.5,1997.6 454.2,1998.1 455.9,1997.6 457.7,1997.7 459.6,1998.4 461.7,1999.8 463.9,1999.8 466.5,2001.5 469.4,2003.0 472.7,2004.2 476.4,2005.5 480.5,2007.0 484.8,2009.8 489.3,2011.2 493.8,2013.2 498.2,2016.1 502.5,2018.9 506.5,2021.3 510.2,2022.9 513.4,2024.5 516.3,2027.0 518.9,2029.0 521.3,2031.3 523.7,2033.1 526.2,2035.3 528.8,2038.0 531.7,2040.4 535.0,2042.3 538.8,2045.4 543.2,2047.8 548.0,2051.6 553.3,2054.5 558.8,2058.8 564.5,2062.3 570.3,2066.6 576.0,2069.8 581.6,2073.0 586.9,2077.1 591.8,2079.9 596.4,2083.1 601.0,2086.4 605.3,2089.0 609.6,2092.0 613.8,2094.3 617.8,2097.3 621.7,2099.6 625.5,2102.4 629.2,2104.6 632.7,2106.2 636.1,2108.0 639.4,2109.1 642.5,2111.4 645.6,2112.4 648.5,2112.7 651.3,2114.3 653.9,2114.7 656.5,2115.0 658.9,2115.2 661.2,2116.1 663.3,2116.7 665.3,2116.9 667.0,2116.7 668.6,2117.3 670.2,2116.4 671.6,2117.0 673.1,2116.9 674.5,2115.4 676.0,2115.0 677.6,2114.9 679.3,2114.0 681.0,2112.3 682.8,2111.0 684.5,2110.7 686.3,2109.3 688.0,2107.7 689.6,2105.0 691.2,2104.2 692.6,2102.1 693.9,2100.2 695.1,2098.4 696.1,2097.2 697.0,2095.0 697.9,2092.9 698.6,2090.8 699.4,2088.8 700.0,2087.1 700.7,2085.2 701.3,2082.7 702.0,2080.6 702.7,2077.5 703.3,2074.2 704.0,2070.1 704.6,2066.3 705.2,2062.6 705.7,2058.8 706.2,2054.7 706.6,2052.0 707.0,2049.2 707.3,2047.3" fill="none" stroke="#2ab42a" stroke-width="2.2" stroke-linejoin="round"/>
<path d="M414.3,1988.3 V2168.8 H706.3" fill="none" stroke="#000" stroke-width="2.3"/>
<line x1="406.8" y1="2008.7" x2="414.3" y2="2008.7" stroke="#000" stroke-width="2"/>
<text x="402.0" y="2014.5" font-size="16.0" text-anchor="end" font-weight="normal" font-style="normal" >0.2</text>
<line x1="406.8" y1="2045.7" x2="414.3" y2="2045.7" stroke="#000" stroke-width="2"/>
<text x="402.0" y="2051.5" font-size="16.0" text-anchor="end" font-weight="normal" font-style="normal" >0.0</text>
<line x1="406.8" y1="2082.7" x2="414.3" y2="2082.7" stroke="#000" stroke-width="2"/>
<text x="402.0" y="2088.5" font-size="16.0" text-anchor="end" font-weight="normal" font-style="normal" >-0.2</text>
<line x1="406.8" y1="2119.7" x2="414.3" y2="2119.7" stroke="#000" stroke-width="2"/>
<text x="402.0" y="2125.5" font-size="16.0" text-anchor="end" font-weight="normal" font-style="normal" >-0.4</text>
<line x1="476.7" y1="2168.8" x2="476.7" y2="2176.3" stroke="#000" stroke-width="2"/>
<text x="477.3" y="2197.4" font-size="15.8" text-anchor="middle" font-weight="normal" font-style="normal" >5000</text>
<line x1="539.1" y1="2168.8" x2="539.1" y2="2176.3" stroke="#000" stroke-width="2"/>
<text x="539.7" y="2197.4" font-size="15.8" text-anchor="middle" font-weight="normal" font-style="normal" >10000</text>
<line x1="601.5" y1="2168.8" x2="601.5" y2="2176.3" stroke="#000" stroke-width="2"/>
<text x="602.1" y="2197.4" font-size="15.8" text-anchor="middle" font-weight="normal" font-style="normal" >15000</text>
<line x1="663.9" y1="2168.8" x2="663.9" y2="2176.3" stroke="#000" stroke-width="2"/>
<text x="664.5" y="2197.4" font-size="15.8" text-anchor="middle" font-weight="normal" font-style="normal" >20000</text>
<text x="561.3" y="2221.1" font-size="15.8" text-anchor="middle" font-weight="normal" font-style="normal" >Rank in ordered dataset</text>
<text x="558.1" y="2002.7" font-size="16.0" text-anchor="start" font-weight="normal" font-style="normal" >NES</text>
<text x="601.1" y="2002.7" font-size="16.0" text-anchor="start" font-weight="normal" font-style="normal" >-1.199808</text>
<text x="558.1" y="2021.5" font-size="16.0" text-anchor="start" font-weight="normal" font-style="normal" >p-value</text>
<text x="619.5" y="2021.5" font-size="16.0" text-anchor="start" font-weight="normal" font-style="normal" >0.031863</text>
<line x1="817.2" y1="1989.3" x2="817.2" y2="2125.5" stroke="#e0e0e0" stroke-width="1.1"/>
<line x1="848.4" y1="1989.3" x2="848.4" y2="2125.5" stroke="#e0e0e0" stroke-width="1.1"/>
<line x1="879.6" y1="1989.3" x2="879.6" y2="2125.5" stroke="#e0e0e0" stroke-width="1.1"/>
<line x1="910.8" y1="1989.3" x2="910.8" y2="2125.5" stroke="#e0e0e0" stroke-width="1.1"/>
<line x1="942.0" y1="1989.3" x2="942.0" y2="2125.5" stroke="#e0e0e0" stroke-width="1.1"/>
<line x1="973.2" y1="1989.3" x2="973.2" y2="2125.5" stroke="#e0e0e0" stroke-width="1.1"/>
<line x1="1004.4" y1="1989.3" x2="1004.4" y2="2125.5" stroke="#e0e0e0" stroke-width="1.1"/>
<line x1="1035.6" y1="1989.3" x2="1035.6" y2="2125.5" stroke="#e0e0e0" stroke-width="1.1"/>
<line x1="1066.8" y1="1989.3" x2="1066.8" y2="2125.5" stroke="#e0e0e0" stroke-width="1.1"/>
<line x1="791.0" y1="2067.5" x2="1077.0" y2="2067.5" stroke="#000" stroke-width="2.2" stroke-dasharray="2.2,3.5"/>
<rect x="786.3" y="2125.5" width="79.1" height="30.3" fill="#000"/>
<rect x="873.3" y="2125.5" width="8.8" height="30.3" fill="#000"/>
<rect x="967.3" y="2125.5" width="110.7" height="30.3" fill="#000"/>
<path d="M825.4 2125.5V2155.8" stroke="#606060" stroke-width="0.9" fill="none"/>
<path d="M826.4 2125.5V2155.8M994.9 2125.5V2155.8" stroke="#707070" stroke-width="0.9" fill="none"/>
<path d="M811.4 2125.5V2155.8M994.1 2125.5V2155.8" stroke="#383838" stroke-width="0.9" fill="none"/>
<path d="M864.1 2125.5V2155.8" stroke="#888888" stroke-width="0.9" fill="none"/>
<path d="M808.9 2125.5V2155.8M988.7 2125.5V2155.8M1000.9 2125.5V2155.8M1048.7 2125.5V2155.8" stroke="#909090" stroke-width="0.9" fill="none"/>
<path d="M847.7 2125.5V2155.8" stroke="#505050" stroke-width="0.9" fill="none"/>
<path d="M809.2 2125.5V2155.8M1074.2 2125.5V2155.8" stroke="#404040" stroke-width="0.9" fill="none"/>
<path d="M788.6 2125.5V2155.8" stroke="#484848" stroke-width="0.9" fill="none"/>
<path d="M866.7 2125.5V2155.8M956.3 2125.5V2155.8" stroke="#808080" stroke-width="1.7" fill="none"/>
<path d="M870.6 2125.5V2155.8M931.7 2125.5V2155.8M949.3 2125.5V2155.8M964.7 2125.5V2155.8" stroke="#080808" stroke-width="1.9" fill="none"/>
<path d="M888.4 2125.5V2155.8M893.9 2125.5V2155.8M898.8 2125.5V2155.8" stroke="#404040" stroke-width="1.4" fill="none"/>
<path d="M889.8 2125.5V2155.8M892.0 2125.5V2155.8" stroke="#080808" stroke-width="1.4" fill="none"/>
<path d="M890.8 2125.5V2155.8" stroke="#606060" stroke-width="1.4" fill="none"/>
<path d="M895.3 2125.5V2155.8M901.6 2125.5V2155.8" stroke="#101010" stroke-width="1.4" fill="none"/>
<path d="M896.6 2125.5V2155.8" stroke="#383838" stroke-width="1.4" fill="none"/>
<path d="M898.1 2125.5V2155.8" stroke="#202020" stroke-width="1.4" fill="none"/>
<path d="M900.4 2125.5V2155.8" stroke="#181818" stroke-width="1.4" fill="none"/>
<path d="M903.4 2125.5V2155.8" stroke="#484848" stroke-width="1.4" fill="none"/>
<path d="M937.0 2125.5V2155.8" stroke="#585858" stroke-width="1.7" fill="none"/>
<path d="M944.9 2125.5V2155.8" stroke="#606060" stroke-width="1.7" fill="none"/>
<path d="M1031.6 2125.5V2155.8M974.6 2125.5V2155.8" stroke="#303030" stroke-width="0.9" fill="none"/>
<path d="M1005.0 2125.5V2155.8" stroke="#787878" stroke-width="0.9" fill="none"/>
<path d="M1011.4 2125.5V2155.8" stroke="#282828" stroke-width="0.9" fill="none"/>
<path d="M1065.5 2125.5V2155.8" stroke="#585858" stroke-width="0.9" fill="none"/>
<path d="M1044.4 2125.5V2155.8" stroke="#989898" stroke-width="0.9" fill="none"/>
<rect x="786.3" y="2155.8" width="20.6" height="11.8" fill="#d73030"/>
<rect x="806.5" y="2155.8" width="25.9" height="11.8" fill="#e8674f"/>
<rect x="832.0" y="2155.8" width="33.8" height="11.8" fill="#eba890"/>
<rect x="865.4" y="2155.8" width="106.7" height="11.8" fill="#f3e2d8"/>
<rect x="971.7" y="2155.8" width="51.4" height="11.8" fill="#e0e3ee"/>
<rect x="1022.7" y="2155.8" width="27.6" height="11.8" fill="#a6c1d8"/>
<rect x="1049.9" y="2155.8" width="19.7" height="11.8" fill="#5d9ad0"/>
<rect x="1069.2" y="2155.8" width="9.2" height="11.8" fill="#3a7cc0"/>
<polyline points="786.2,2060.0 786.2,2059.7 786.1,2058.1 785.9,2058.3 785.8,2057.3 785.7,2056.1 785.6,2054.3 785.6,2052.9 785.6,2051.2 785.8,2050.0 786.0,2047.9 786.3,2044.7 786.7,2042.5 787.2,2038.5 787.7,2034.5 788.4,2031.1 789.0,2026.9 789.7,2023.1 790.5,2019.6 791.4,2017.1 792.3,2013.7 793.3,2011.8 794.3,2009.8 795.5,2008.9 796.7,2007.6 797.9,2006.2 799.3,2004.8 800.6,2003.8 802.0,2004.0 803.4,2002.7 804.9,2001.2 806.4,2000.9 807.9,2000.2 809.4,1998.5 810.9,1998.5 812.5,1996.7 814.2,1996.3 815.9,1995.8 817.7,1996.0 819.7,1995.3 821.7,1995.7 823.8,1996.0 825.9,1996.0 828.1,1996.9 830.3,1997.8 832.7,1998.7 835.1,1999.7 837.8,2001.0 840.6,2003.4 843.6,2004.8 846.8,2005.4 850.3,2008.0 854.1,2009.1 858.2,2011.5 862.4,2013.2 866.7,2015.3 871.2,2017.5 875.7,2019.3 880.1,2022.2 884.5,2024.2 888.8,2027.3 893.0,2029.3 897.2,2031.3 901.4,2034.5 905.6,2036.7 909.7,2039.3 913.9,2042.0 918.1,2044.6 922.3,2046.6 926.5,2049.9 930.7,2052.3 934.9,2054.9 939.2,2057.4 943.6,2059.4 947.9,2062.9 952.2,2065.1 956.5,2067.9 960.7,2069.7 964.8,2072.2 968.8,2075.3 972.7,2077.8 976.4,2079.7 979.9,2081.3 983.4,2083.6 986.7,2086.0 990.0,2087.5 993.2,2089.9 996.4,2092.2 999.6,2094.6 1002.9,2096.3 1006.2,2098.6 1009.6,2099.8 1013.2,2102.9 1016.8,2104.4 1020.4,2106.7 1024.0,2109.4 1027.6,2111.0 1031.0,2112.7 1034.2,2115.1 1037.1,2115.6 1039.8,2117.2 1042.2,2117.0 1044.2,2117.5 1046.1,2117.8 1047.7,2116.7 1049.2,2115.7 1050.7,2115.7 1052.1,2114.7 1053.5,2113.0 1055.0,2112.2 1056.6,2110.4 1058.3,2108.9 1060.2,2107.7 1062.0,2106.7 1063.9,2105.3 1065.8,2102.8 1067.6,2101.0 1069.3,2099.3 1070.9,2097.4 1072.2,2095.6 1073.4,2094.2 1074.3,2091.7 1075.1,2089.9 1075.7,2087.5 1076.2,2085.3 1076.5,2082.5 1076.8,2080.6 1077.0,2077.7 1077.1,2076.0 1077.3,2073.9 1077.5,2073.0" fill="none" stroke="#2ab42a" stroke-width="2.2" stroke-linejoin="round"/>
<path d="M786.0,1988.3 V2168.8 H1078.0" fill="none" stroke="#000" stroke-width="2.3"/>
<line x1="778.5" y1="2000.1" x2="786.0" y2="2000.1" stroke="#000" stroke-width="2"/>
<text x="773.7" y="2005.9" font-size="16.0" text-anchor="end" font-weight="normal" font-style="normal" >0.4</text>
<line x1="778.5" y1="2033.8" x2="786.0" y2="2033.8" stroke="#000" stroke-width="2"/>
<text x="773.7" y="2039.6" font-size="16.0" text-anchor="end" font-weight="normal" font-style="normal" >0.2</text>
<line x1="778.5" y1="2067.5" x2="786.0" y2="2067.5" stroke="#000" stroke-width="2"/>
<text x="773.7" y="2073.3" font-size="16.0" text-anchor="end" font-weight="normal" font-style="normal" >0.0</text>
<line x1="778.5" y1="2101.2" x2="786.0" y2="2101.2" stroke="#000" stroke-width="2"/>
<text x="773.7" y="2107.0" font-size="16.0" text-anchor="end" font-weight="normal" font-style="normal" >-0.2</text>
<line x1="848.4" y1="2168.8" x2="848.4" y2="2176.3" stroke="#000" stroke-width="2"/>
<text x="849.0" y="2197.4" font-size="15.8" text-anchor="middle" font-weight="normal" font-style="normal" >5000</text>
<line x1="910.8" y1="2168.8" x2="910.8" y2="2176.3" stroke="#000" stroke-width="2"/>
<text x="911.4" y="2197.4" font-size="15.8" text-anchor="middle" font-weight="normal" font-style="normal" >10000</text>
<line x1="973.2" y1="2168.8" x2="973.2" y2="2176.3" stroke="#000" stroke-width="2"/>
<text x="973.8" y="2197.4" font-size="15.8" text-anchor="middle" font-weight="normal" font-style="normal" >15000</text>
<line x1="1035.6" y1="2168.8" x2="1035.6" y2="2176.3" stroke="#000" stroke-width="2"/>
<text x="1036.2" y="2197.4" font-size="15.8" text-anchor="middle" font-weight="normal" font-style="normal" >20000</text>
<text x="933.0" y="2221.1" font-size="15.8" text-anchor="middle" font-weight="normal" font-style="normal" >Rank in ordered dataset</text>
<text transform="translate(736.0,2062.3) rotate(-90)" font-size="15.8" text-anchor="middle" >Running enrichment score</text>
<text x="929.8" y="2002.7" font-size="16.0" text-anchor="start" font-weight="normal" font-style="normal" >NES</text>
<text x="972.8" y="2002.7" font-size="16.0" text-anchor="start" font-weight="normal" font-style="normal" >1.370953</text>
<text x="929.8" y="2021.5" font-size="16.0" text-anchor="start" font-weight="normal" font-style="normal" >p-value</text>
<text x="991.2" y="2021.5" font-size="16.0" text-anchor="start" font-weight="normal" font-style="normal" >0.000229</text>
<line x1="1171.7" y1="1989.3" x2="1171.7" y2="2125.5" stroke="#e0e0e0" stroke-width="1.1"/>
<line x1="1202.9" y1="1989.3" x2="1202.9" y2="2125.5" stroke="#e0e0e0" stroke-width="1.1"/>
<line x1="1234.1" y1="1989.3" x2="1234.1" y2="2125.5" stroke="#e0e0e0" stroke-width="1.1"/>
<line x1="1265.3" y1="1989.3" x2="1265.3" y2="2125.5" stroke="#e0e0e0" stroke-width="1.1"/>
<line x1="1296.5" y1="1989.3" x2="1296.5" y2="2125.5" stroke="#e0e0e0" stroke-width="1.1"/>
<line x1="1327.7" y1="1989.3" x2="1327.7" y2="2125.5" stroke="#e0e0e0" stroke-width="1.1"/>
<line x1="1358.9" y1="1989.3" x2="1358.9" y2="2125.5" stroke="#e0e0e0" stroke-width="1.1"/>
<line x1="1390.1" y1="1989.3" x2="1390.1" y2="2125.5" stroke="#e0e0e0" stroke-width="1.1"/>
<line x1="1421.3" y1="1989.3" x2="1421.3" y2="2125.5" stroke="#e0e0e0" stroke-width="1.1"/>
<line x1="1145.5" y1="2039.4" x2="1431.5" y2="2039.4" stroke="#000" stroke-width="2.2" stroke-dasharray="2.2,3.5"/>
<rect x="1142.0" y="2125.5" width="98.4" height="30.3" fill="#000"/>
<rect x="1309.0" y="2125.5" width="12.3" height="30.3" fill="#000"/>
<rect x="1327.4" y="2125.5" width="104.6" height="30.3" fill="#000"/>
<path d="M1162.8 2125.5V2155.8M1187.1 2125.5V2155.8M1209.4 2125.5V2155.8" stroke="#505050" stroke-width="0.9" fill="none"/>
<path d="M1225.3 2125.5V2155.8" stroke="#989898" stroke-width="0.9" fill="none"/>
<path d="M1174.6 2125.5V2155.8M1381.1 2125.5V2155.8" stroke="#707070" stroke-width="0.9" fill="none"/>
<path d="M1187.3 2125.5V2155.8" stroke="#a8a8a8" stroke-width="0.9" fill="none"/>
<path d="M1197.5 2125.5V2155.8M1414.5 2125.5V2155.8M1388.8 2125.5V2155.8" stroke="#606060" stroke-width="0.9" fill="none"/>
<path d="M1235.5 2125.5V2155.8" stroke="#383838" stroke-width="0.9" fill="none"/>
<path d="M1220.5 2125.5V2155.8M1389.5 2125.5V2155.8M1345.4 2125.5V2155.8" stroke="#484848" stroke-width="0.9" fill="none"/>
<path d="M1180.9 2125.5V2155.8M1319.3 2125.5V2155.8" stroke="#282828" stroke-width="0.9" fill="none"/>
<path d="M1241.9 2125.5V2155.8M1244.8 2125.5V2155.8" stroke="#202020" stroke-width="1.4" fill="none"/>
<path d="M1243.4 2125.5V2155.8" stroke="#404040" stroke-width="1.4" fill="none"/>
<path d="M1246.7 2125.5V2155.8" stroke="#383838" stroke-width="1.4" fill="none"/>
<path d="M1260.2 2125.5V2155.8M1267.2 2125.5V2155.8M1283.9 2125.5V2155.8M1302.8 2125.5V2155.8" stroke="#080808" stroke-width="1.9" fill="none"/>
<path d="M1277.8 2125.5V2155.8M1291.9 2125.5V2155.8" stroke="#505050" stroke-width="1.3" fill="none"/>
<path d="M1278.5 2125.5V2155.8" stroke="#909090" stroke-width="1.3" fill="none"/>
<path d="M1292.7 2125.5V2155.8" stroke="#989898" stroke-width="1.3" fill="none"/>
<path d="M1295.5 2125.5V2155.8" stroke="#686868" stroke-width="1.3" fill="none"/>
<path d="M1297.2 2125.5V2155.8" stroke="#808080" stroke-width="1.3" fill="none"/>
<path d="M1324.8 2125.5V2155.8" stroke="#585858" stroke-width="1.7" fill="none"/>
<path d="M1339.5 2125.5V2155.8M1404.6 2125.5V2155.8M1352.4 2125.5V2155.8" stroke="#888888" stroke-width="0.9" fill="none"/>
<path d="M1328.6 2125.5V2155.8" stroke="#404040" stroke-width="0.9" fill="none"/>
<path d="M1364.4 2125.5V2155.8M1422.5 2125.5V2155.8" stroke="#787878" stroke-width="0.9" fill="none"/>
<rect x="1142.0" y="2155.8" width="16.2" height="11.8" fill="#d73030"/>
<rect x="1157.8" y="2155.8" width="17.1" height="11.8" fill="#e8674f"/>
<rect x="1174.5" y="2155.8" width="30.3" height="11.8" fill="#e6a890"/>
<rect x="1204.4" y="2155.8" width="36.4" height="11.8" fill="#eedcd2"/>
<rect x="1240.4" y="2155.8" width="118.2" height="11.8" fill="#e8ebf6"/>
<rect x="1358.2" y="2155.8" width="31.2" height="11.8" fill="#b8c8d8"/>
<rect x="1389.0" y="2155.8" width="25.9" height="11.8" fill="#5d9ad0"/>
<rect x="1414.4" y="2155.8" width="18.0" height="11.8" fill="#3a7cc0"/>
<polyline points="1140.8,2035.0 1140.9,2034.4 1141.0,2033.4 1141.1,2033.3 1141.2,2032.6 1141.3,2031.5 1141.5,2031.7 1141.7,2030.5 1141.9,2029.7 1142.2,2027.7 1142.6,2027.0 1143.0,2025.7 1143.5,2023.6 1144.0,2022.4 1144.5,2020.8 1145.1,2018.8 1145.7,2016.9 1146.4,2014.7 1147.2,2012.9 1148.0,2011.3 1148.9,2010.0 1149.9,2008.4 1150.9,2006.6 1151.9,2004.9 1153.0,2004.5 1154.2,2002.3 1155.5,2001.6 1156.8,2000.4 1158.3,1998.5 1159.8,1997.7 1161.4,1997.2 1163.1,1996.6 1164.7,1996.7 1166.4,1997.1 1168.2,1997.4 1170.1,1997.1 1172.1,1998.0 1174.3,1998.9 1176.7,1999.8 1179.4,2000.7 1182.4,2002.0 1185.8,2002.6 1189.6,2004.4 1193.7,2007.0 1198.1,2008.8 1202.6,2011.3 1207.2,2013.7 1211.8,2016.1 1216.2,2018.4 1220.4,2020.3 1224.4,2023.1 1228.0,2024.9 1231.4,2026.6 1234.5,2029.0 1237.6,2030.4 1240.6,2032.4 1243.7,2034.7 1246.9,2037.3 1250.3,2038.5 1253.9,2040.9 1257.9,2043.1 1262.3,2046.4 1267.0,2049.0 1272.0,2051.9 1277.3,2054.8 1282.6,2057.9 1287.9,2061.2 1293.3,2063.8 1298.5,2067.2 1303.5,2069.8 1308.3,2073.0 1312.9,2075.7 1317.4,2078.4 1321.9,2081.0 1326.3,2084.2 1330.6,2086.2 1334.7,2089.0 1338.8,2092.0 1342.8,2093.7 1346.6,2095.9 1350.2,2098.3 1353.7,2100.0 1357.1,2102.2 1360.5,2104.1 1363.7,2105.0 1366.7,2106.9 1369.6,2108.3 1372.4,2109.6 1375.0,2111.0 1377.4,2111.5 1379.6,2112.5 1381.5,2113.3 1383.1,2114.1 1384.5,2114.5 1385.6,2114.8 1386.7,2115.8 1387.7,2115.6 1388.6,2115.2 1389.7,2114.9 1390.8,2115.3 1392.2,2115.0 1393.7,2114.6 1395.4,2113.5 1397.1,2113.7 1398.8,2113.3 1400.6,2112.2 1402.4,2111.5 1404.1,2110.1 1405.8,2109.0 1407.5,2107.6 1409.0,2106.8 1410.4,2105.2 1411.8,2103.3 1413.2,2101.4 1414.5,2099.2 1415.8,2097.9 1417.0,2094.6 1418.2,2093.0 1419.3,2090.3 1420.4,2088.5 1421.5,2086.2 1422.5,2083.0 1423.5,2080.3 1424.5,2076.5 1425.5,2074.2 1426.3,2070.3 1427.2,2067.6 1428.0,2063.5 1428.7,2060.9 1429.3,2058.7 1429.9,2055.8 1430.4,2053.6 1430.8,2052.2 1431.1,2051.0 1431.3,2049.8 1431.5,2047.7 1431.6,2047.0 1431.7,2046.4 1431.8,2045.4 1431.9,2044.4 1432.0,2043.6" fill="none" stroke="#2ab42a" stroke-width="2.2" stroke-linejoin="round"/>
<path d="M1140.5,1988.3 V2168.8 H1432.5" fill="none" stroke="#000" stroke-width="2.3"/>
<line x1="1133.0" y1="1999.6" x2="1140.5" y2="1999.6" stroke="#000" stroke-width="2"/>
<text x="1128.2" y="2005.4" font-size="16.0" text-anchor="end" font-weight="normal" font-style="normal" >0.2</text>
<line x1="1133.0" y1="2039.4" x2="1140.5" y2="2039.4" stroke="#000" stroke-width="2"/>
<text x="1128.2" y="2045.2" font-size="16.0" text-anchor="end" font-weight="normal" font-style="normal" >0.0</text>
<line x1="1133.0" y1="2079.2" x2="1140.5" y2="2079.2" stroke="#000" stroke-width="2"/>
<text x="1128.2" y="2085.0" font-size="16.0" text-anchor="end" font-weight="normal" font-style="normal" >-0.2</text>
<line x1="1133.0" y1="2119.0" x2="1140.5" y2="2119.0" stroke="#000" stroke-width="2"/>
<text x="1128.2" y="2124.8" font-size="16.0" text-anchor="end" font-weight="normal" font-style="normal" >-0.4</text>
<line x1="1202.9" y1="2168.8" x2="1202.9" y2="2176.3" stroke="#000" stroke-width="2"/>
<text x="1203.5" y="2197.4" font-size="15.8" text-anchor="middle" font-weight="normal" font-style="normal" >5000</text>
<line x1="1265.3" y1="2168.8" x2="1265.3" y2="2176.3" stroke="#000" stroke-width="2"/>
<text x="1265.9" y="2197.4" font-size="15.8" text-anchor="middle" font-weight="normal" font-style="normal" >10000</text>
<line x1="1327.7" y1="2168.8" x2="1327.7" y2="2176.3" stroke="#000" stroke-width="2"/>
<text x="1328.3" y="2197.4" font-size="15.8" text-anchor="middle" font-weight="normal" font-style="normal" >15000</text>
<line x1="1390.1" y1="2168.8" x2="1390.1" y2="2176.3" stroke="#000" stroke-width="2"/>
<text x="1390.7" y="2197.4" font-size="15.8" text-anchor="middle" font-weight="normal" font-style="normal" >20000</text>
<text x="1287.5" y="2221.1" font-size="15.8" text-anchor="middle" font-weight="normal" font-style="normal" >Rank in ordered dataset</text>
<text x="1284.3" y="2002.7" font-size="16.0" text-anchor="start" font-weight="normal" font-style="normal" >NES</text>
<text x="1327.3" y="2002.7" font-size="16.0" text-anchor="start" font-weight="normal" font-style="normal" >-1.105883</text>
<text x="1284.3" y="2021.5" font-size="16.0" text-anchor="start" font-weight="normal" font-style="normal" >p-value</text>
<text x="1345.7" y="2021.5" font-size="16.0" text-anchor="start" font-weight="normal" font-style="normal" >0.205524</text>
<line x1="93.2" y1="2302.5" x2="93.2" y2="2439.7" stroke="#e0e0e0" stroke-width="1.1"/>
<line x1="124.4" y1="2302.5" x2="124.4" y2="2439.7" stroke="#e0e0e0" stroke-width="1.1"/>
<line x1="155.6" y1="2302.5" x2="155.6" y2="2439.7" stroke="#e0e0e0" stroke-width="1.1"/>
<line x1="186.8" y1="2302.5" x2="186.8" y2="2439.7" stroke="#e0e0e0" stroke-width="1.1"/>
<line x1="218.0" y1="2302.5" x2="218.0" y2="2439.7" stroke="#e0e0e0" stroke-width="1.1"/>
<line x1="249.2" y1="2302.5" x2="249.2" y2="2439.7" stroke="#e0e0e0" stroke-width="1.1"/>
<line x1="280.4" y1="2302.5" x2="280.4" y2="2439.7" stroke="#e0e0e0" stroke-width="1.1"/>
<line x1="311.6" y1="2302.5" x2="311.6" y2="2439.7" stroke="#e0e0e0" stroke-width="1.1"/>
<line x1="342.8" y1="2302.5" x2="342.8" y2="2439.7" stroke="#e0e0e0" stroke-width="1.1"/>
<line x1="67.0" y1="2413.0" x2="353.0" y2="2413.0" stroke="#000" stroke-width="2.2" stroke-dasharray="2.2,3.5"/>
<rect x="62.9" y="2439.7" width="78.2" height="30.4" fill="#000"/>
<rect x="323.9" y="2439.7" width="29.9" height="30.4" fill="#000"/>
<path d="M101.3 2439.7V2470.1" stroke="#404040" stroke-width="0.9" fill="none"/>
<path d="M84.9 2439.7V2470.1" stroke="#707070" stroke-width="0.9" fill="none"/>
<path d="M87.0 2439.7V2470.1M80.0 2439.7V2470.1" stroke="#808080" stroke-width="0.9" fill="none"/>
<path d="M82.8 2439.7V2470.1" stroke="#787878" stroke-width="0.9" fill="none"/>
<path d="M131.3 2439.7V2470.1M337.8 2439.7V2470.1" stroke="#989898" stroke-width="0.9" fill="none"/>
<path d="M95.9 2439.7V2470.1" stroke="#a0a0a0" stroke-width="0.9" fill="none"/>
<path d="M74.5 2439.7V2470.1" stroke="#585858" stroke-width="0.9" fill="none"/>
<path d="M142.5 2439.7V2470.1M143.7 2439.7V2470.1M149.9 2439.7V2470.1M172.1 2439.7V2470.1M182.7 2439.7V2470.1M198.7 2439.7V2470.1M202.3 2439.7V2470.1M214.6 2439.7V2470.1M221.4 2439.7V2470.1M255.3 2439.7V2470.1M298.8 2439.7V2470.1" stroke="#282828" stroke-width="1.4" fill="none"/>
<path d="M145.5 2439.7V2470.1M148.4 2439.7V2470.1M174.9 2439.7V2470.1M177.8 2439.7V2470.1M186.8 2439.7V2470.1M212.1 2439.7V2470.1M215.8 2439.7V2470.1M264.4 2439.7V2470.1M321.7 2439.7V2470.1" stroke="#484848" stroke-width="1.4" fill="none"/>
<path d="M146.8 2439.7V2470.1M155.4 2439.7V2470.1M156.2 2439.7V2470.1M157.9 2439.7V2470.1M164.7 2439.7V2470.1M192.1 2439.7V2470.1M224.1 2439.7V2470.1M259.8 2439.7V2470.1M268.3 2439.7V2470.1M271.4 2439.7V2470.1M310.5 2439.7V2470.1M314.0 2439.7V2470.1" stroke="#585858" stroke-width="1.4" fill="none"/>
<path d="M151.2 2439.7V2470.1M159.3 2439.7V2470.1M205.3 2439.7V2470.1M206.4 2439.7V2470.1M266.9 2439.7V2470.1M308.3 2439.7V2470.1M319.6 2439.7V2470.1" stroke="#303030" stroke-width="1.4" fill="none"/>
<path d="M152.2 2439.7V2470.1M161.9 2439.7V2470.1M170.9 2439.7V2470.1M173.0 2439.7V2470.1M190.9 2439.7V2470.1M193.1 2439.7V2470.1M200.0 2439.7V2470.1M222.5 2439.7V2470.1M226.7 2439.7V2470.1M265.3 2439.7V2470.1M300.2 2439.7V2470.1M301.6 2439.7V2470.1M305.7 2439.7V2470.1M311.3 2439.7V2470.1" stroke="#404040" stroke-width="1.4" fill="none"/>
<path d="M154.0 2439.7V2470.1M163.4 2439.7V2470.1M213.4 2439.7V2470.1M220.4 2439.7V2470.1M225.9 2439.7V2470.1M270.1 2439.7V2470.1M297.0 2439.7V2470.1" stroke="#080808" stroke-width="1.4" fill="none"/>
<path d="M160.9 2439.7V2470.1M188.0 2439.7V2470.1M194.4 2439.7V2470.1M209.4 2439.7V2470.1M262.1 2439.7V2470.1M315.6 2439.7V2470.1" stroke="#202020" stroke-width="1.4" fill="none"/>
<path d="M166.5 2439.7V2470.1M189.2 2439.7V2470.1M204.0 2439.7V2470.1M207.6 2439.7V2470.1M260.7 2439.7V2470.1M307.6 2439.7V2470.1M317.0 2439.7V2470.1" stroke="#101010" stroke-width="1.4" fill="none"/>
<path d="M167.7 2439.7V2470.1M196.2 2439.7V2470.1M256.8 2439.7V2470.1M303.1 2439.7V2470.1" stroke="#383838" stroke-width="1.4" fill="none"/>
<path d="M168.8 2439.7V2470.1M179.9 2439.7V2470.1M184.2 2439.7V2470.1M217.3 2439.7V2470.1M312.6 2439.7V2470.1" stroke="#505050" stroke-width="1.4" fill="none"/>
<path d="M175.7 2439.7V2470.1M181.6 2439.7V2470.1" stroke="#606060" stroke-width="1.4" fill="none"/>
<path d="M178.6 2439.7V2470.1M197.8 2439.7V2470.1M210.4 2439.7V2470.1M218.8 2439.7V2470.1M228.5 2439.7V2470.1M304.5 2439.7V2470.1M318.5 2439.7V2470.1" stroke="#181818" stroke-width="1.4" fill="none"/>
<path d="M239.4 2439.7V2470.1" stroke="#a8a8a8" stroke-width="1.3" fill="none"/>
<path d="M241.8 2439.7V2470.1" stroke="#686868" stroke-width="1.3" fill="none"/>
<path d="M243.3 2439.7V2470.1" stroke="#a0a0a0" stroke-width="1.3" fill="none"/>
<path d="M276.0 2439.7V2470.1" stroke="#686868" stroke-width="1.7" fill="none"/>
<path d="M280.4 2439.7V2470.1M288.7 2439.7V2470.1" stroke="#080808" stroke-width="1.9" fill="none"/>
<path d="M340.0 2439.7V2470.1" stroke="#303030" stroke-width="0.9" fill="none"/>
<path d="M337.6 2439.7V2470.1" stroke="#484848" stroke-width="0.9" fill="none"/>
<rect x="62.9" y="2470.1" width="19.7" height="10.7" fill="#d73030"/>
<rect x="82.2" y="2470.1" width="63.7" height="10.7" fill="#e8674f"/>
<rect x="145.5" y="2470.1" width="91.8" height="10.7" fill="#eba890"/>
<rect x="236.9" y="2470.1" width="39.1" height="10.7" fill="#f0e0d6"/>
<rect x="275.6" y="2470.1" width="27.6" height="10.7" fill="#e8ebf6"/>
<rect x="302.8" y="2470.1" width="20.6" height="10.7" fill="#a6c1d8"/>
<rect x="323.0" y="2470.1" width="19.7" height="10.7" fill="#5d9ad0"/>
<rect x="342.3" y="2470.1" width="11.8" height="10.7" fill="#3a7cc0"/>
<polyline points="62.0,2410.0 62.0,2408.7 62.0,2408.1 62.0,2406.8 62.1,2405.4 62.1,2403.5 62.1,2402.8 62.2,2400.9 62.2,2397.9 62.4,2396.4 62.5,2393.3 62.7,2390.9 62.8,2386.9 63.0,2383.0 63.2,2380.2 63.4,2375.4 63.7,2370.9 64.0,2367.1 64.4,2363.4 64.8,2360.4 65.3,2357.3 65.9,2353.4 66.5,2350.4 67.1,2347.7 67.8,2346.1 68.6,2343.0 69.4,2340.2 70.3,2338.2 71.3,2336.3 72.3,2334.3 73.5,2332.2 74.8,2330.7 76.2,2328.5 77.7,2327.4 79.2,2325.7 80.9,2324.2 82.6,2322.3 84.4,2321.3 86.1,2320.0 88.0,2319.5 89.8,2318.3 91.7,2316.9 93.6,2315.7 95.5,2313.8 97.5,2312.5 99.5,2311.5 101.5,2310.9 103.6,2309.8 105.8,2310.0 108.0,2308.3 110.2,2308.6 112.4,2308.1 114.4,2307.9 116.5,2308.7 118.5,2308.9 120.7,2308.9 122.9,2309.4 125.4,2309.7 128.2,2311.3 131.2,2312.6 134.7,2314.3 138.6,2316.0 143.1,2318.2 147.9,2320.0 152.9,2323.6 158.2,2325.5 163.5,2328.7 168.8,2332.1 174.0,2335.3 179.0,2338.0 183.7,2340.5 188.1,2343.1 192.4,2345.0 196.5,2346.8 200.6,2349.3 204.6,2351.8 208.6,2354.2 212.5,2355.9 216.5,2358.3 220.5,2360.9 224.5,2362.9 228.6,2365.1 232.7,2367.5 236.7,2369.5 240.8,2372.3 244.9,2375.5 249.0,2377.4 253.1,2379.8 257.1,2382.6 261.2,2384.5 265.3,2387.2 269.4,2389.5 273.7,2392.4 277.9,2395.0 282.2,2397.9 286.5,2400.5 290.7,2402.6 294.8,2405.8 298.7,2407.6 302.5,2409.6 306.1,2411.4 309.5,2413.1 312.8,2415.3 316.0,2417.3 319.1,2418.5 322.1,2419.8 324.9,2421.6 327.6,2422.4 330.1,2423.7 332.5,2425.1 334.7,2426.4 336.7,2426.8 338.6,2428.0 340.3,2428.3 341.9,2428.7 343.3,2430.0 344.6,2430.3 345.8,2430.5 346.9,2430.8 348.0,2430.4 349.0,2429.7 349.9,2429.3 350.7,2429.0 351.4,2428.1 352.0,2426.1 352.5,2425.6 353.0,2424.5 353.4,2422.9 353.7,2422.1 354.0,2420.7 354.3,2420.0" fill="none" stroke="#2ab42a" stroke-width="2.2" stroke-linejoin="round"/>
<path d="M62.0,2301.5 V2482.0 H354.0" fill="none" stroke="#000" stroke-width="2.3"/>
<line x1="54.5" y1="2310.1" x2="62.0" y2="2310.1" stroke="#000" stroke-width="2"/>
<text x="49.7" y="2315.9" font-size="16.0" text-anchor="end" font-weight="normal" font-style="normal" >0.6</text>
<line x1="54.5" y1="2344.4" x2="62.0" y2="2344.4" stroke="#000" stroke-width="2"/>
<text x="49.7" y="2350.2" font-size="16.0" text-anchor="end" font-weight="normal" font-style="normal" >0.4</text>
<line x1="54.5" y1="2378.7" x2="62.0" y2="2378.7" stroke="#000" stroke-width="2"/>
<text x="49.7" y="2384.5" font-size="16.0" text-anchor="end" font-weight="normal" font-style="normal" >0.2</text>
<line x1="54.5" y1="2413.0" x2="62.0" y2="2413.0" stroke="#000" stroke-width="2"/>
<text x="49.7" y="2418.8" font-size="16.0" text-anchor="end" font-weight="normal" font-style="normal" >0.0</text>
<line x1="124.4" y1="2482.0" x2="124.4" y2="2489.5" stroke="#000" stroke-width="2"/>
<text x="125.0" y="2510.6" font-size="15.8" text-anchor="middle" font-weight="normal" font-style="normal" >5000</text>
<line x1="186.8" y1="2482.0" x2="186.8" y2="2489.5" stroke="#000" stroke-width="2"/>
<text x="187.4" y="2510.6" font-size="15.8" text-anchor="middle" font-weight="normal" font-style="normal" >10000</text>
<line x1="249.2" y1="2482.0" x2="249.2" y2="2489.5" stroke="#000" stroke-width="2"/>
<text x="249.8" y="2510.6" font-size="15.8" text-anchor="middle" font-weight="normal" font-style="normal" >15000</text>
<line x1="311.6" y1="2482.0" x2="311.6" y2="2489.5" stroke="#000" stroke-width="2"/>
<text x="312.2" y="2510.6" font-size="15.8" text-anchor="middle" font-weight="normal" font-style="normal" >20000</text>
<text x="209.0" y="2534.3" font-size="15.8" text-anchor="middle" font-weight="normal" font-style="normal" >Rank in ordered dataset</text>
<text transform="translate(12.0,2375.5) rotate(-90)" font-size="15.8" text-anchor="middle" >Running enrichment score</text>
<text x="205.8" y="2315.9" font-size="16.0" text-anchor="start" font-weight="normal" font-style="normal" >NES</text>
<text x="248.8" y="2315.9" font-size="16.0" text-anchor="start" font-weight="normal" font-style="normal" >1.143948</text>
<text x="205.8" y="2334.7" font-size="16.0" text-anchor="start" font-weight="normal" font-style="normal" >p-value</text>
<text x="267.2" y="2334.7" font-size="16.0" text-anchor="start" font-weight="normal" font-style="normal" >0.005242</text>
<line x1="445.5" y1="2302.5" x2="445.5" y2="2439.7" stroke="#e0e0e0" stroke-width="1.1"/>
<line x1="476.7" y1="2302.5" x2="476.7" y2="2439.7" stroke="#e0e0e0" stroke-width="1.1"/>
<line x1="507.9" y1="2302.5" x2="507.9" y2="2439.7" stroke="#e0e0e0" stroke-width="1.1"/>
<line x1="539.1" y1="2302.5" x2="539.1" y2="2439.7" stroke="#e0e0e0" stroke-width="1.1"/>
<line x1="570.3" y1="2302.5" x2="570.3" y2="2439.7" stroke="#e0e0e0" stroke-width="1.1"/>
<line x1="601.5" y1="2302.5" x2="601.5" y2="2439.7" stroke="#e0e0e0" stroke-width="1.1"/>
<line x1="632.7" y1="2302.5" x2="632.7" y2="2439.7" stroke="#e0e0e0" stroke-width="1.1"/>
<line x1="663.9" y1="2302.5" x2="663.9" y2="2439.7" stroke="#e0e0e0" stroke-width="1.1"/>
<line x1="695.1" y1="2302.5" x2="695.1" y2="2439.7" stroke="#e0e0e0" stroke-width="1.1"/>
<line x1="419.3" y1="2318.7" x2="705.3" y2="2318.7" stroke="#000" stroke-width="2.2" stroke-dasharray="2.2,3.5"/>
<rect x="415.2" y="2439.7" width="58.9" height="30.4" fill="#000"/>
<rect x="554.0" y="2439.7" width="152.0" height="30.4" fill="#000"/>
<path d="M459.0 2439.7V2470.1M439.3 2439.7V2470.1M608.1 2439.7V2470.1M672.3 2439.7V2470.1" stroke="#282828" stroke-width="0.9" fill="none"/>
<path d="M446.5 2439.7V2470.1M557.5 2439.7V2470.1" stroke="#888888" stroke-width="0.9" fill="none"/>
<path d="M461.1 2439.7V2470.1M469.7 2439.7V2470.1" stroke="#989898" stroke-width="0.9" fill="none"/>
<path d="M458.5 2439.7V2470.1" stroke="#a8a8a8" stroke-width="0.9" fill="none"/>
<path d="M477.0 2439.7V2470.1" stroke="#404040" stroke-width="1.4" fill="none"/>
<path d="M479.1 2439.7V2470.1M486.7 2439.7V2470.1M525.7 2439.7V2470.1" stroke="#202020" stroke-width="1.4" fill="none"/>
<path d="M480.2 2439.7V2470.1" stroke="#383838" stroke-width="1.4" fill="none"/>
<path d="M481.4 2439.7V2470.1M485.5 2439.7V2470.1" stroke="#585858" stroke-width="1.4" fill="none"/>
<path d="M482.5 2439.7V2470.1" stroke="#181818" stroke-width="1.4" fill="none"/>
<path d="M484.4 2439.7V2470.1" stroke="#484848" stroke-width="1.4" fill="none"/>
<path d="M487.9 2439.7V2470.1M526.8 2439.7V2470.1" stroke="#505050" stroke-width="1.4" fill="none"/>
<path d="M492.0 2439.7V2470.1M535.1 2439.7V2470.1" stroke="#686868" stroke-width="1.7" fill="none"/>
<path d="M496.4 2439.7V2470.1" stroke="#080808" stroke-width="1.9" fill="none"/>
<path d="M508.3 2439.7V2470.1" stroke="#787878" stroke-width="1.7" fill="none"/>
<path d="M514.4 2439.7V2470.1" stroke="#707070" stroke-width="1.7" fill="none"/>
<path d="M528.5 2439.7V2470.1M531.5 2439.7V2470.1" stroke="#282828" stroke-width="1.4" fill="none"/>
<path d="M529.9 2439.7V2470.1" stroke="#080808" stroke-width="1.4" fill="none"/>
<path d="M539.5 2439.7V2470.1" stroke="#606060" stroke-width="1.7" fill="none"/>
<path d="M547.0 2439.7V2470.1" stroke="#585858" stroke-width="1.7" fill="none"/>
<path d="M664.5 2439.7V2470.1" stroke="#787878" stroke-width="0.9" fill="none"/>
<path d="M675.6 2439.7V2470.1M600.7 2439.7V2470.1" stroke="#606060" stroke-width="0.9" fill="none"/>
<path d="M684.2 2439.7V2470.1M691.2 2439.7V2470.1" stroke="#585858" stroke-width="0.9" fill="none"/>
<path d="M635.4 2439.7V2470.1M699.9 2439.7V2470.1M558.7 2439.7V2470.1M575.1 2439.7V2470.1" stroke="#909090" stroke-width="0.9" fill="none"/>
<path d="M691.0 2439.7V2470.1M561.8 2439.7V2470.1M663.3 2439.7V2470.1" stroke="#383838" stroke-width="0.9" fill="none"/>
<path d="M658.1 2439.7V2470.1" stroke="#707070" stroke-width="0.9" fill="none"/>
<rect x="415.2" y="2470.1" width="10.1" height="10.7" fill="#d73030"/>
<rect x="424.8" y="2470.1" width="18.9" height="10.7" fill="#e8674f"/>
<rect x="443.3" y="2470.1" width="23.2" height="10.7" fill="#eba890"/>
<rect x="466.1" y="2470.1" width="22.4" height="10.7" fill="#eedcd2"/>
<rect x="488.1" y="2470.1" width="29.4" height="10.7" fill="#e8ebf8"/>
<rect x="517.1" y="2470.1" width="68.1" height="10.7" fill="#b8d0e6"/>
<rect x="584.7" y="2470.1" width="95.3" height="10.7" fill="#6ba6d6"/>
<rect x="679.7" y="2470.1" width="26.8" height="10.7" fill="#3a7cc0"/>
<polyline points="414.6,2308.0 414.6,2308.2 414.6,2308.7 414.6,2308.8 414.6,2309.0 414.6,2309.0 414.7,2309.3 414.8,2309.1 414.9,2309.3 415.2,2309.7 415.5,2310.2 415.9,2309.6 416.2,2309.9 416.5,2310.7 416.9,2310.1 417.3,2310.1 417.9,2311.2 418.7,2311.7 419.7,2311.0 420.9,2311.4 422.4,2312.6 424.2,2313.4 426.2,2314.3 428.5,2315.2 430.9,2316.0 433.6,2316.6 436.4,2318.1 439.4,2319.5 442.5,2321.5 445.7,2322.4 449.0,2324.2 452.5,2326.0 456.3,2327.9 460.2,2330.1 464.3,2331.7 468.5,2334.2 472.8,2336.6 477.1,2339.3 481.4,2341.6 485.7,2344.7 489.8,2346.0 493.9,2348.2 498.0,2351.3 502.0,2352.7 506.1,2354.9 510.2,2357.4 514.3,2359.8 518.4,2362.2 522.4,2364.5 526.5,2367.0 530.6,2369.4 534.7,2370.8 538.8,2373.3 542.8,2375.4 546.9,2377.4 551.0,2380.1 555.1,2382.7 559.2,2384.2 563.2,2386.4 567.3,2388.6 571.4,2391.3 575.6,2394.4 579.8,2396.5 584.2,2398.5 588.5,2402.2 592.8,2404.0 597.1,2406.8 601.2,2409.5 605.1,2412.3 608.8,2414.4 612.2,2415.7 615.3,2418.2 618.3,2419.4 621.0,2421.2 623.6,2421.9 626.0,2423.6 628.3,2424.8 630.5,2426.2 632.6,2426.9 634.7,2427.5 636.7,2427.6 638.7,2429.0 640.4,2428.8 642.1,2430.2 643.7,2430.5 645.2,2430.6 646.6,2429.8 648.1,2430.5 649.7,2430.5 651.3,2430.6 653.1,2430.6 655.0,2429.6 657.0,2429.5 659.1,2429.1 661.2,2430.0 663.3,2429.0 665.4,2428.7 667.6,2428.6 669.6,2427.2 671.6,2426.7 673.5,2426.3 675.3,2425.1 677.1,2424.7 678.8,2423.4 680.5,2422.6 682.2,2421.5 683.8,2420.1 685.3,2419.5 686.9,2417.8 688.4,2415.5 689.8,2413.9 691.2,2411.9 692.6,2409.3 694.0,2407.0 695.4,2404.9 696.7,2402.6 697.9,2400.1 699.1,2396.7 700.1,2393.2 701.1,2389.4 702.0,2384.7 702.8,2380.1 703.4,2374.8 704.0,2368.1 704.4,2360.5 704.8,2354.4 705.1,2347.4 705.4,2340.9 705.7,2334.9 705.9,2329.6 706.1,2326.1" fill="none" stroke="#2ab42a" stroke-width="2.2" stroke-linejoin="round"/>
<path d="M414.3,2301.5 V2482.0 H706.3" fill="none" stroke="#000" stroke-width="2.3"/>
<line x1="406.8" y1="2318.7" x2="414.3" y2="2318.7" stroke="#000" stroke-width="2"/>
<text x="402.0" y="2324.5" font-size="16.0" text-anchor="end" font-weight="normal" font-style="normal" >0.0</text>
<line x1="406.8" y1="2351.5" x2="414.3" y2="2351.5" stroke="#000" stroke-width="2"/>
<text x="402.0" y="2357.3" font-size="16.0" text-anchor="end" font-weight="normal" font-style="normal" >-0.2</text>
<line x1="406.8" y1="2384.3" x2="414.3" y2="2384.3" stroke="#000" stroke-width="2"/>
<text x="402.0" y="2390.1" font-size="16.0" text-anchor="end" font-weight="normal" font-style="normal" >-0.4</text>
<line x1="406.8" y1="2417.1" x2="414.3" y2="2417.1" stroke="#000" stroke-width="2"/>
<text x="402.0" y="2422.9" font-size="16.0" text-anchor="end" font-weight="normal" font-style="normal" >-0.6</text>
<line x1="476.7" y1="2482.0" x2="476.7" y2="2489.5" stroke="#000" stroke-width="2"/>
<text x="477.3" y="2510.6" font-size="15.8" text-anchor="middle" font-weight="normal" font-style="normal" >5000</text>
<line x1="539.1" y1="2482.0" x2="539.1" y2="2489.5" stroke="#000" stroke-width="2"/>
<text x="539.7" y="2510.6" font-size="15.8" text-anchor="middle" font-weight="normal" font-style="normal" >10000</text>
<line x1="601.5" y1="2482.0" x2="601.5" y2="2489.5" stroke="#000" stroke-width="2"/>
<text x="602.1" y="2510.6" font-size="15.8" text-anchor="middle" font-weight="normal" font-style="normal" >15000</text>
<line x1="663.9" y1="2482.0" x2="663.9" y2="2489.5" stroke="#000" stroke-width="2"/>
<text x="664.5" y="2510.6" font-size="15.8" text-anchor="middle" font-weight="normal" font-style="normal" >20000</text>
<text x="561.3" y="2534.3" font-size="15.8" text-anchor="middle" font-weight="normal" font-style="normal" >Rank in ordered dataset</text>
<text x="558.1" y="2315.9" font-size="16.0" text-anchor="start" font-weight="normal" font-style="normal" >NES</text>
<text x="601.1" y="2315.9" font-size="16.0" text-anchor="start" font-weight="normal" font-style="normal" >-1.021098</text>
<text x="558.1" y="2334.7" font-size="16.0" text-anchor="start" font-weight="normal" font-style="normal" >p-value</text>
<text x="619.5" y="2334.7" font-size="16.0" text-anchor="start" font-weight="normal" font-style="normal" >0.407592</text>
<line x1="811.7" y1="2302.5" x2="811.7" y2="2439.7" stroke="#e0e0e0" stroke-width="1.1"/>
<line x1="842.9" y1="2302.5" x2="842.9" y2="2439.7" stroke="#e0e0e0" stroke-width="1.1"/>
<line x1="874.1" y1="2302.5" x2="874.1" y2="2439.7" stroke="#e0e0e0" stroke-width="1.1"/>
<line x1="905.3" y1="2302.5" x2="905.3" y2="2439.7" stroke="#e0e0e0" stroke-width="1.1"/>
<line x1="936.5" y1="2302.5" x2="936.5" y2="2439.7" stroke="#e0e0e0" stroke-width="1.1"/>
<line x1="967.7" y1="2302.5" x2="967.7" y2="2439.7" stroke="#e0e0e0" stroke-width="1.1"/>
<line x1="998.9" y1="2302.5" x2="998.9" y2="2439.7" stroke="#e0e0e0" stroke-width="1.1"/>
<line x1="1030.1" y1="2302.5" x2="1030.1" y2="2439.7" stroke="#e0e0e0" stroke-width="1.1"/>
<line x1="1061.3" y1="2302.5" x2="1061.3" y2="2439.7" stroke="#e0e0e0" stroke-width="1.1"/>
<line x1="785.5" y1="2379.3" x2="1071.5" y2="2379.3" stroke="#000" stroke-width="2.2" stroke-dasharray="2.2,3.5"/>
<rect x="782.0" y="2439.7" width="101.9" height="30.4" fill="#000"/>
<rect x="962.2" y="2439.7" width="111.6" height="30.4" fill="#000"/>
<path d="M809.3 2439.7V2470.1" stroke="#585858" stroke-width="0.9" fill="none"/>
<path d="M824.7 2439.7V2470.1" stroke="#282828" stroke-width="0.9" fill="none"/>
<path d="M802.5 2439.7V2470.1" stroke="#808080" stroke-width="0.9" fill="none"/>
<path d="M867.6 2439.7V2470.1M1025.7 2439.7V2470.1M1003.5 2439.7V2470.1" stroke="#303030" stroke-width="0.9" fill="none"/>
<path d="M800.4 2439.7V2470.1M1068.6 2439.7V2470.1M1051.7 2439.7V2470.1" stroke="#404040" stroke-width="0.9" fill="none"/>
<path d="M865.6 2439.7V2470.1" stroke="#606060" stroke-width="0.9" fill="none"/>
<path d="M812.3 2439.7V2470.1M856.1 2439.7V2470.1M990.1 2439.7V2470.1" stroke="#707070" stroke-width="0.9" fill="none"/>
<path d="M842.3 2439.7V2470.1" stroke="#888888" stroke-width="0.9" fill="none"/>
<path d="M838.0 2439.7V2470.1" stroke="#787878" stroke-width="0.9" fill="none"/>
<path d="M825.5 2439.7V2470.1M1051.5 2439.7V2470.1" stroke="#989898" stroke-width="0.9" fill="none"/>
<path d="M888.5 2439.7V2470.1M892.2 2439.7V2470.1M893.9 2439.7V2470.1M934.5 2439.7V2470.1" stroke="#383838" stroke-width="1.4" fill="none"/>
<path d="M889.6 2439.7V2470.1M904.9 2439.7V2470.1M938.4 2439.7V2470.1" stroke="#585858" stroke-width="1.4" fill="none"/>
<path d="M890.6 2439.7V2470.1" stroke="#282828" stroke-width="1.4" fill="none"/>
<path d="M895.1 2439.7V2470.1M936.9 2439.7V2470.1" stroke="#505050" stroke-width="1.4" fill="none"/>
<path d="M896.3 2439.7V2470.1M903.4 2439.7V2470.1M930.5 2439.7V2470.1" stroke="#404040" stroke-width="1.4" fill="none"/>
<path d="M898.1 2439.7V2470.1" stroke="#303030" stroke-width="1.4" fill="none"/>
<path d="M899.4 2439.7V2470.1M935.7 2439.7V2470.1" stroke="#080808" stroke-width="1.4" fill="none"/>
<path d="M900.7 2439.7V2470.1" stroke="#484848" stroke-width="1.4" fill="none"/>
<path d="M902.1 2439.7V2470.1M931.4 2439.7V2470.1" stroke="#101010" stroke-width="1.4" fill="none"/>
<path d="M905.8 2439.7V2470.1" stroke="#181818" stroke-width="1.4" fill="none"/>
<path d="M914.9 2439.7V2470.1M916.4 2439.7V2470.1" stroke="#484848" stroke-width="1.3" fill="none"/>
<path d="M922.6 2439.7V2470.1M927.0 2439.7V2470.1M943.3 2439.7V2470.1M948.1 2439.7V2470.1M955.1 2439.7V2470.1" stroke="#080808" stroke-width="1.9" fill="none"/>
<path d="M933.0 2439.7V2470.1" stroke="#202020" stroke-width="1.4" fill="none"/>
<path d="M1009.9 2439.7V2470.1" stroke="#383838" stroke-width="0.9" fill="none"/>
<path d="M1034.7 2439.7V2470.1M981.5 2439.7V2470.1" stroke="#484848" stroke-width="0.9" fill="none"/>
<path d="M1006.9 2439.7V2470.1M1048.2 2439.7V2470.1" stroke="#686868" stroke-width="0.9" fill="none"/>
<path d="M1020.9 2439.7V2470.1" stroke="#a0a0a0" stroke-width="0.9" fill="none"/>
<rect x="782.0" y="2470.1" width="18.0" height="10.7" fill="#d73030"/>
<rect x="799.6" y="2470.1" width="25.9" height="10.7" fill="#e8674f"/>
<rect x="825.1" y="2470.1" width="41.7" height="10.7" fill="#eba890"/>
<rect x="866.4" y="2470.1" width="94.4" height="10.7" fill="#f3e2d8"/>
<rect x="960.4" y="2470.1" width="50.5" height="10.7" fill="#e0e3ee"/>
<rect x="1010.5" y="2470.1" width="31.2" height="10.7" fill="#a6c1d8"/>
<rect x="1041.3" y="2470.1" width="18.9" height="10.7" fill="#5d9ad0"/>
<rect x="1059.7" y="2470.1" width="14.5" height="10.7" fill="#3a7cc0"/>
<polyline points="780.8,2370.0 780.8,2368.2 780.9,2367.6 780.9,2365.5 780.9,2363.0 780.9,2360.5 781.0,2358.0 781.1,2355.6 781.2,2352.8 781.5,2350.2 781.8,2347.9 782.2,2345.8 782.6,2342.9 783.1,2341.3 783.6,2338.5 784.2,2337.2 784.9,2334.1 785.6,2332.3 786.4,2330.8 787.2,2328.2 788.1,2326.5 789.1,2325.3 790.2,2324.2 791.4,2322.8 792.7,2320.4 794.0,2319.0 795.4,2317.9 796.7,2317.6 798.1,2316.3 799.4,2315.6 800.7,2314.3 801.9,2313.4 803.2,2313.2 804.4,2312.1 805.5,2312.2 806.7,2311.5 808.0,2310.5 809.2,2310.2 810.5,2310.5 811.9,2310.1 813.3,2310.7 814.7,2309.4 816.0,2309.7 817.3,2309.8 818.7,2309.1 820.1,2309.5 821.6,2309.1 823.3,2309.0 825.2,2309.2 827.5,2310.3 830.0,2311.1 832.9,2311.9 836.1,2312.8 839.7,2313.8 843.4,2315.4 847.3,2317.8 851.4,2319.0 855.5,2321.1 859.6,2322.5 863.8,2324.6 867.8,2326.4 871.8,2329.6 875.9,2331.0 880.1,2333.5 884.3,2335.7 888.5,2338.5 892.7,2341.8 897.0,2343.7 901.2,2346.0 905.5,2349.2 909.7,2352.1 913.9,2354.6 918.1,2357.1 922.3,2360.9 926.5,2363.6 930.7,2367.2 934.9,2370.3 939.1,2372.9 943.3,2376.0 947.5,2378.9 951.7,2380.9 955.9,2384.2 960.2,2387.2 964.5,2389.9 968.9,2392.3 973.2,2395.1 977.4,2397.7 981.6,2400.2 985.8,2401.8 989.7,2405.0 993.6,2407.1 997.4,2408.2 1001.2,2410.4 1005.0,2412.1 1008.6,2414.5 1012.2,2415.8 1015.7,2417.8 1018.9,2419.3 1022.0,2421.0 1024.7,2422.0 1027.2,2422.9 1029.3,2423.9 1031.0,2425.9 1032.4,2426.1 1033.6,2427.1 1034.5,2427.0 1035.5,2427.4 1036.4,2428.4 1037.3,2428.8 1038.5,2429.3 1039.8,2428.5 1041.3,2429.2 1043.0,2429.1 1044.7,2428.1 1046.4,2427.9 1048.2,2426.7 1050.0,2426.8 1051.7,2426.2 1053.4,2425.5 1055.1,2424.4 1056.6,2423.2 1058.1,2422.1 1059.5,2421.5 1060.9,2420.7 1062.3,2418.9 1063.6,2418.1 1064.9,2417.5 1066.1,2415.9 1067.2,2414.7 1068.3,2412.1 1069.2,2410.8 1070.0,2408.4 1070.8,2406.3 1071.4,2403.9 1072.0,2400.6 1072.5,2398.0 1072.9,2394.8 1073.3,2391.4 1073.6,2389.6 1073.9,2387.4 1074.2,2385.6" fill="none" stroke="#2ab42a" stroke-width="2.2" stroke-linejoin="round"/>
<path d="M780.5,2301.5 V2482.0 H1072.5" fill="none" stroke="#000" stroke-width="2.3"/>
<line x1="773.0" y1="2310.3" x2="780.5" y2="2310.3" stroke="#000" stroke-width="2"/>
<text x="768.2" y="2316.1" font-size="16.0" text-anchor="end" font-weight="normal" font-style="normal" >0.4</text>
<line x1="773.0" y1="2344.8" x2="780.5" y2="2344.8" stroke="#000" stroke-width="2"/>
<text x="768.2" y="2350.6" font-size="16.0" text-anchor="end" font-weight="normal" font-style="normal" >0.2</text>
<line x1="773.0" y1="2379.3" x2="780.5" y2="2379.3" stroke="#000" stroke-width="2"/>
<text x="768.2" y="2385.1" font-size="16.0" text-anchor="end" font-weight="normal" font-style="normal" >0.0</text>
<line x1="773.0" y1="2413.8" x2="780.5" y2="2413.8" stroke="#000" stroke-width="2"/>
<text x="768.2" y="2419.6" font-size="16.0" text-anchor="end" font-weight="normal" font-style="normal" >-0.2</text>
<line x1="842.9" y1="2482.0" x2="842.9" y2="2489.5" stroke="#000" stroke-width="2"/>
<text x="843.5" y="2510.6" font-size="15.8" text-anchor="middle" font-weight="normal" font-style="normal" >5000</text>
<line x1="905.3" y1="2482.0" x2="905.3" y2="2489.5" stroke="#000" stroke-width="2"/>
<text x="905.9" y="2510.6" font-size="15.8" text-anchor="middle" font-weight="normal" font-style="normal" >10000</text>
<line x1="967.7" y1="2482.0" x2="967.7" y2="2489.5" stroke="#000" stroke-width="2"/>
<text x="968.3" y="2510.6" font-size="15.8" text-anchor="middle" font-weight="normal" font-style="normal" >15000</text>
<line x1="1030.1" y1="2482.0" x2="1030.1" y2="2489.5" stroke="#000" stroke-width="2"/>
<text x="1030.7" y="2510.6" font-size="15.8" text-anchor="middle" font-weight="normal" font-style="normal" >20000</text>
<text x="927.5" y="2534.3" font-size="15.8" text-anchor="middle" font-weight="normal" font-style="normal" >Rank in ordered dataset</text>
<text transform="translate(730.5,2375.5) rotate(-90)" font-size="15.8" text-anchor="middle" >Running enrichment score</text>
<text x="924.3" y="2315.9" font-size="16.0" text-anchor="start" font-weight="normal" font-style="normal" >NES</text>
<text x="967.3" y="2315.9" font-size="16.0" text-anchor="start" font-weight="normal" font-style="normal" >1.242313</text>
<text x="924.3" y="2334.7" font-size="16.0" text-anchor="start" font-weight="normal" font-style="normal" >p-value</text>
<text x="985.7" y="2334.7" font-size="16.0" text-anchor="start" font-weight="normal" font-style="normal" >0.027213</text>
<line x1="1163.2" y1="2302.5" x2="1163.2" y2="2439.7" stroke="#e0e0e0" stroke-width="1.1"/>
<line x1="1194.4" y1="2302.5" x2="1194.4" y2="2439.7" stroke="#e0e0e0" stroke-width="1.1"/>
<line x1="1225.6" y1="2302.5" x2="1225.6" y2="2439.7" stroke="#e0e0e0" stroke-width="1.1"/>
<line x1="1256.8" y1="2302.5" x2="1256.8" y2="2439.7" stroke="#e0e0e0" stroke-width="1.1"/>
<line x1="1288.0" y1="2302.5" x2="1288.0" y2="2439.7" stroke="#e0e0e0" stroke-width="1.1"/>
<line x1="1319.2" y1="2302.5" x2="1319.2" y2="2439.7" stroke="#e0e0e0" stroke-width="1.1"/>
<line x1="1350.4" y1="2302.5" x2="1350.4" y2="2439.7" stroke="#e0e0e0" stroke-width="1.1"/>
<line x1="1381.6" y1="2302.5" x2="1381.6" y2="2439.7" stroke="#e0e0e0" stroke-width="1.1"/>
<line x1="1412.8" y1="2302.5" x2="1412.8" y2="2439.7" stroke="#e0e0e0" stroke-width="1.1"/>
<line x1="1137.0" y1="2348.7" x2="1423.0" y2="2348.7" stroke="#000" stroke-width="2.2" stroke-dasharray="2.2,3.5"/>
<rect x="1134.0" y="2439.7" width="66.8" height="30.4" fill="#000"/>
<rect x="1315.0" y="2439.7" width="110.7" height="30.4" fill="#000"/>
<path d="M1178.2 2439.7V2470.1M1415.9 2439.7V2470.1" stroke="#989898" stroke-width="0.9" fill="none"/>
<path d="M1143.5 2439.7V2470.1M1190.8 2439.7V2470.1M1355.4 2439.7V2470.1" stroke="#888888" stroke-width="0.9" fill="none"/>
<path d="M1190.4 2439.7V2470.1" stroke="#282828" stroke-width="0.9" fill="none"/>
<path d="M1172.7 2439.7V2470.1M1141.1 2439.7V2470.1" stroke="#686868" stroke-width="0.9" fill="none"/>
<path d="M1163.8 2439.7V2470.1" stroke="#505050" stroke-width="0.9" fill="none"/>
<path d="M1203.7 2439.7V2470.1M1218.7 2439.7V2470.1M1292.1 2439.7V2470.1" stroke="#383838" stroke-width="1.4" fill="none"/>
<path d="M1205.4 2439.7V2470.1" stroke="#585858" stroke-width="1.4" fill="none"/>
<path d="M1207.2 2439.7V2470.1M1220.4 2439.7V2470.1M1241.5 2439.7V2470.1M1251.4 2439.7V2470.1M1289.5 2439.7V2470.1" stroke="#282828" stroke-width="1.4" fill="none"/>
<path d="M1208.1 2439.7V2470.1M1222.0 2439.7V2470.1M1238.6 2439.7V2470.1M1242.6 2439.7V2470.1M1250.6 2439.7V2470.1M1287.1 2439.7V2470.1" stroke="#080808" stroke-width="1.4" fill="none"/>
<path d="M1209.6 2439.7V2470.1M1215.3 2439.7V2470.1M1249.2 2439.7V2470.1M1287.9 2439.7V2470.1M1290.6 2439.7V2470.1" stroke="#181818" stroke-width="1.4" fill="none"/>
<path d="M1211.3 2439.7V2470.1M1259.4 2439.7V2470.1M1262.2 2439.7V2470.1M1265.4 2439.7V2470.1" stroke="#303030" stroke-width="1.4" fill="none"/>
<path d="M1212.4 2439.7V2470.1M1216.9 2439.7V2470.1M1235.8 2439.7V2470.1" stroke="#101010" stroke-width="1.4" fill="none"/>
<path d="M1230.4 2439.7V2470.1M1231.5 2439.7V2470.1M1236.9 2439.7V2470.1M1255.8 2439.7V2470.1M1263.8 2439.7V2470.1" stroke="#404040" stroke-width="1.4" fill="none"/>
<path d="M1233.5 2439.7V2470.1M1243.9 2439.7V2470.1M1258.5 2439.7V2470.1" stroke="#606060" stroke-width="1.4" fill="none"/>
<path d="M1234.9 2439.7V2470.1" stroke="#202020" stroke-width="1.4" fill="none"/>
<path d="M1240.2 2439.7V2470.1M1252.7 2439.7V2470.1M1257.4 2439.7V2470.1" stroke="#505050" stroke-width="1.4" fill="none"/>
<path d="M1254.6 2439.7V2470.1M1261.1 2439.7V2470.1" stroke="#484848" stroke-width="1.4" fill="none"/>
<path d="M1271.7 2439.7V2470.1M1278.6 2439.7V2470.1" stroke="#585858" stroke-width="1.3" fill="none"/>
<path d="M1273.5 2439.7V2470.1" stroke="#808080" stroke-width="1.3" fill="none"/>
<path d="M1275.3 2439.7V2470.1" stroke="#a0a0a0" stroke-width="1.3" fill="none"/>
<path d="M1277.2 2439.7V2470.1" stroke="#989898" stroke-width="1.3" fill="none"/>
<path d="M1280.5 2439.7V2470.1" stroke="#707070" stroke-width="1.3" fill="none"/>
<path d="M1282.5 2439.7V2470.1" stroke="#888888" stroke-width="1.3" fill="none"/>
<path d="M1297.0 2439.7V2470.1" stroke="#686868" stroke-width="1.7" fill="none"/>
<path d="M1302.3 2439.7V2470.1" stroke="#080808" stroke-width="1.9" fill="none"/>
<path d="M1308.5 2439.7V2470.1" stroke="#808080" stroke-width="1.7" fill="none"/>
<path d="M1316.9 2439.7V2470.1M1413.6 2439.7V2470.1" stroke="#808080" stroke-width="0.9" fill="none"/>
<path d="M1340.5 2439.7V2470.1" stroke="#a0a0a0" stroke-width="0.9" fill="none"/>
<path d="M1337.6 2439.7V2470.1M1417.4 2439.7V2470.1M1406.3 2439.7V2470.1" stroke="#383838" stroke-width="0.9" fill="none"/>
<path d="M1399.7 2439.7V2470.1" stroke="#606060" stroke-width="0.9" fill="none"/>
<path d="M1405.3 2439.7V2470.1" stroke="#909090" stroke-width="0.9" fill="none"/>
<path d="M1388.1 2439.7V2470.1M1358.8 2439.7V2470.1" stroke="#484848" stroke-width="0.9" fill="none"/>
<rect x="1134.0" y="2470.1" width="18.9" height="10.7" fill="#d73030"/>
<rect x="1152.5" y="2470.1" width="24.1" height="10.7" fill="#e8674f"/>
<rect x="1176.2" y="2470.1" width="21.5" height="10.7" fill="#e6a890"/>
<rect x="1197.3" y="2470.1" width="30.3" height="10.7" fill="#eedcd2"/>
<rect x="1227.2" y="2470.1" width="83.0" height="10.7" fill="#e8ebf6"/>
<rect x="1309.8" y="2470.1" width="66.3" height="10.7" fill="#b0c8dc"/>
<rect x="1375.7" y="2470.1" width="31.2" height="10.7" fill="#5d9ad0"/>
<rect x="1406.4" y="2470.1" width="19.7" height="10.7" fill="#3a7cc0"/>
<polyline points="1132.3,2350.0 1132.4,2349.5 1132.5,2350.0 1132.7,2350.5 1132.8,2350.0 1133.0,2349.8 1133.2,2350.5 1133.4,2349.6 1133.6,2349.0 1133.9,2348.2 1134.2,2348.0 1134.5,2347.0 1134.8,2344.9 1135.1,2342.8 1135.4,2340.7 1135.8,2338.4 1136.2,2336.3 1136.6,2333.5 1137.1,2330.6 1137.7,2329.4 1138.4,2327.1 1139.2,2325.0 1140.1,2323.9 1141.0,2322.2 1142.1,2319.9 1143.1,2318.4 1144.3,2316.6 1145.4,2316.2 1146.6,2314.6 1147.7,2313.4 1148.9,2311.9 1150.0,2311.6 1151.1,2311.1 1152.2,2310.3 1153.3,2309.3 1154.5,2308.4 1155.7,2308.7 1157.0,2307.8 1158.3,2308.0 1159.8,2307.9 1161.4,2308.5 1163.1,2308.3 1164.7,2307.5 1166.4,2308.0 1168.2,2308.2 1170.1,2308.0 1172.1,2308.7 1174.3,2308.6 1176.7,2310.2 1179.4,2311.0 1182.4,2312.7 1185.7,2314.3 1189.5,2315.6 1193.5,2317.5 1197.7,2320.7 1202.1,2323.3 1206.6,2326.2 1211.1,2328.5 1215.7,2331.5 1220.1,2334.9 1224.4,2337.5 1228.6,2340.0 1232.8,2342.9 1237.0,2346.7 1241.2,2349.5 1245.4,2353.5 1249.5,2356.6 1253.7,2359.4 1257.9,2362.3 1262.1,2365.2 1266.3,2368.8 1270.5,2372.0 1274.7,2374.1 1278.9,2377.3 1283.1,2380.1 1287.3,2382.9 1291.5,2385.8 1295.7,2388.3 1299.9,2391.2 1304.1,2393.2 1308.3,2396.4 1312.6,2398.6 1317.0,2401.3 1321.5,2403.9 1326.1,2406.8 1330.6,2409.4 1334.9,2410.6 1339.2,2413.7 1343.2,2415.6 1346.9,2417.7 1350.2,2418.9 1353.1,2420.6 1355.7,2421.9 1358.0,2423.1 1360.1,2424.7 1362.0,2424.9 1363.8,2425.8 1365.6,2425.9 1367.3,2426.8 1369.2,2427.0 1371.2,2427.5 1373.3,2427.3 1375.5,2427.4 1377.6,2427.2 1379.8,2427.0 1382.0,2426.5 1384.1,2426.2 1386.2,2425.5 1388.3,2424.7 1390.3,2424.0 1392.2,2423.4 1394.1,2423.0 1395.9,2422.1 1397.7,2422.3 1399.4,2421.5 1401.1,2420.9 1402.8,2419.3 1404.4,2418.6 1406.0,2418.0 1407.5,2417.0 1409.0,2414.9 1410.5,2413.6 1411.9,2411.4 1413.3,2408.5 1414.6,2407.3 1416.0,2404.7 1417.2,2401.4 1418.4,2399.2 1419.5,2395.6 1420.6,2393.1 1421.5,2390.0 1422.4,2386.2 1423.1,2382.9 1423.8,2377.7 1424.5,2373.4 1425.0,2369.4 1425.5,2365.3 1426.0,2360.4 1426.4,2357.6 1426.7,2354.0 1427.0,2352.0" fill="none" stroke="#2ab42a" stroke-width="2.2" stroke-linejoin="round"/>
<path d="M1132.0,2301.5 V2482.0 H1424.0" fill="none" stroke="#000" stroke-width="2.3"/>
<line x1="1124.5" y1="2310.5" x2="1132.0" y2="2310.5" stroke="#000" stroke-width="2"/>
<text x="1119.7" y="2316.3" font-size="16.0" text-anchor="end" font-weight="normal" font-style="normal" >0.2</text>
<line x1="1124.5" y1="2348.7" x2="1132.0" y2="2348.7" stroke="#000" stroke-width="2"/>
<text x="1119.7" y="2354.5" font-size="16.0" text-anchor="end" font-weight="normal" font-style="normal" >0.0</text>
<line x1="1124.5" y1="2386.9" x2="1132.0" y2="2386.9" stroke="#000" stroke-width="2"/>
<text x="1119.7" y="2392.7" font-size="16.0" text-anchor="end" font-weight="normal" font-style="normal" >-0.2</text>
<line x1="1124.5" y1="2425.1" x2="1132.0" y2="2425.1" stroke="#000" stroke-width="2"/>
<text x="1119.7" y="2430.9" font-size="16.0" text-anchor="end" font-weight="normal" font-style="normal" >-0.4</text>
<line x1="1194.4" y1="2482.0" x2="1194.4" y2="2489.5" stroke="#000" stroke-width="2"/>
<text x="1195.0" y="2510.6" font-size="15.8" text-anchor="middle" font-weight="normal" font-style="normal" >5000</text>
<line x1="1256.8" y1="2482.0" x2="1256.8" y2="2489.5" stroke="#000" stroke-width="2"/>
<text x="1257.4" y="2510.6" font-size="15.8" text-anchor="middle" font-weight="normal" font-style="normal" >10000</text>
<line x1="1319.2" y1="2482.0" x2="1319.2" y2="2489.5" stroke="#000" stroke-width="2"/>
<text x="1319.8" y="2510.6" font-size="15.8" text-anchor="middle" font-weight="normal" font-style="normal" >15000</text>
<line x1="1381.6" y1="2482.0" x2="1381.6" y2="2489.5" stroke="#000" stroke-width="2"/>
<text x="1382.2" y="2510.6" font-size="15.8" text-anchor="middle" font-weight="normal" font-style="normal" >20000</text>
<text x="1279.0" y="2534.3" font-size="15.8" text-anchor="middle" font-weight="normal" font-style="normal" >Rank in ordered dataset</text>
<text x="1275.8" y="2315.9" font-size="16.0" text-anchor="start" font-weight="normal" font-style="normal" >NES</text>
<text x="1318.8" y="2315.9" font-size="16.0" text-anchor="start" font-weight="normal" font-style="normal" >-1.034253</text>
<text x="1275.8" y="2334.7" font-size="16.0" text-anchor="start" font-weight="normal" font-style="normal" >p-value</text>
<text x="1337.2" y="2334.7" font-size="16.0" text-anchor="start" font-weight="normal" font-style="normal" >0.368961</text>
<text x="361.0" y="1252.7" font-size="22.0" text-anchor="middle" font-weight="bold" font-style="normal" >Cluster 15: Neutrophils</text>
<text x="1100.6" y="1252.7" font-size="22.0" text-anchor="middle" font-weight="bold" font-style="normal" >Cluster 20: Monocytes</text>
<text x="1811.0" y="1252.7" font-size="22.0" text-anchor="middle" font-weight="bold" font-style="normal" >Cluster 21: Macrophages</text>
<text x="361.0" y="1566.3" font-size="22.0" text-anchor="middle" font-weight="bold" font-style="normal" >Cluster 3: T cells</text>
<text x="1079.6" y="1566.3" font-size="22.0" text-anchor="middle" font-weight="bold" font-style="normal" >Cluster 16: T cells</text>
<text x="1827.0" y="1566.3" font-size="22.0" text-anchor="middle" font-weight="bold" font-style="normal" >Cluster 27: Neural cells</text>
<text x="361.0" y="1964.0" font-size="22.0" text-anchor="middle" font-weight="bold" font-style="normal" >Cluster 6: ECs</text>
<text x="1100.6" y="1964.0" font-size="22.0" text-anchor="middle" font-weight="bold" font-style="normal" >Cluster 17: VSMCs</text>
<text x="361.0" y="2277.5" font-size="22.0" text-anchor="middle" font-weight="bold" font-style="normal" >Cluster 7: Mono</text>
<text x="1079.6" y="2277.5" font-size="22.0" text-anchor="middle" font-weight="bold" font-style="normal" >Cluster 11: Mono</text>
<text x="209.0" y="1859.8" font-size="22.0" text-anchor="middle" font-weight="normal" font-style="normal" >HFD vs ND</text>
<text x="560.0" y="1859.8" font-size="22.0" text-anchor="middle" font-weight="normal" font-style="normal" >HFD + ABT-737 vs HFD</text>
<text x="924.4" y="1859.8" font-size="22.0" text-anchor="middle" font-weight="normal" font-style="normal" >HFD vs ND</text>
<text x="1279.0" y="1859.8" font-size="22.0" text-anchor="middle" font-weight="normal" font-style="normal" >HFD + ABT-737 vs HFD</text>
<text x="1658.3" y="1859.8" font-size="22.0" text-anchor="middle" font-weight="normal" font-style="normal" >HFD vs ND</text>
<text x="2013.6" y="1859.8" font-size="22.0" text-anchor="middle" font-weight="normal" font-style="normal" >HFD + ABT-737 vs HFD</text>
<text x="209.0" y="2570.5" font-size="22.0" text-anchor="middle" font-weight="normal" font-style="normal" >HFD vs ND</text>
<text x="560.0" y="2570.5" font-size="22.0" text-anchor="middle" font-weight="normal" font-style="normal" >HFD + ABT-737 vs HFD</text>
<text x="924.4" y="2570.5" font-size="22.0" text-anchor="middle" font-weight="normal" font-style="normal" >HFD vs ND</text>
<text x="1279.0" y="2570.5" font-size="22.0" text-anchor="middle" font-weight="normal" font-style="normal" >HFD + ABT-737 vs HFD</text>
</svg></body></html>
